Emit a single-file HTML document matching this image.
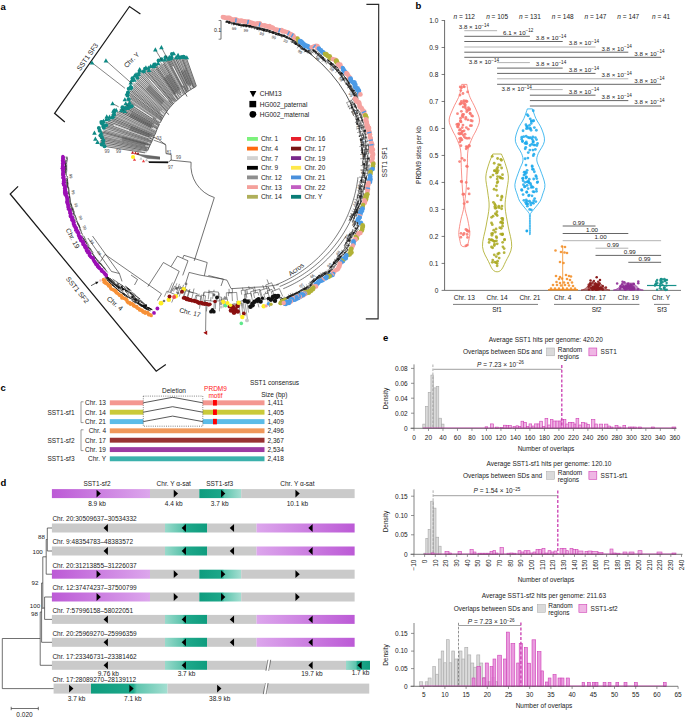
<!DOCTYPE html>
<html><head><meta charset="utf-8"><style>
html,body{margin:0;padding:0;background:#fff;}
svg{display:block;font-family:"Liberation Sans", sans-serif;}
</style></head><body>
<svg width="685" height="717" viewBox="0 0 685 717">
<rect width="685" height="717" fill="#fff"/>
<text x="0.50" y="9.50" font-size="9.5" text-anchor="start" fill="#000" font-weight="bold">a</text>
<text x="415.50" y="8.50" font-size="9.5" text-anchor="start" fill="#000" font-weight="bold">b</text>
<text x="0.50" y="391.00" font-size="9.5" text-anchor="start" fill="#000" font-weight="bold">c</text>
<text x="0.50" y="485.50" font-size="9.5" text-anchor="start" fill="#000" font-weight="bold">d</text>
<text x="383.00" y="341.00" font-size="9.5" text-anchor="start" fill="#000" font-weight="bold">e</text>
<line x1="444.60" y1="20.20" x2="444.60" y2="290.40" stroke="#444" stroke-width="0.8"/>
<line x1="444.60" y1="290.40" x2="681.00" y2="290.40" stroke="#555" stroke-width="0.8"/>
<line x1="441.60" y1="290.40" x2="444.60" y2="290.40" stroke="#444" stroke-width="0.7"/>
<text x="438.30" y="292.70" font-size="6.5" text-anchor="end" fill="#1a1a1a" font-weight="normal">0</text>
<line x1="441.60" y1="263.41" x2="444.60" y2="263.41" stroke="#444" stroke-width="0.7"/>
<text x="438.30" y="265.71" font-size="6.5" text-anchor="end" fill="#1a1a1a" font-weight="normal">0.1</text>
<line x1="441.60" y1="236.42" x2="444.60" y2="236.42" stroke="#444" stroke-width="0.7"/>
<text x="438.30" y="238.72" font-size="6.5" text-anchor="end" fill="#1a1a1a" font-weight="normal">0.2</text>
<line x1="441.60" y1="209.43" x2="444.60" y2="209.43" stroke="#444" stroke-width="0.7"/>
<text x="438.30" y="211.73" font-size="6.5" text-anchor="end" fill="#1a1a1a" font-weight="normal">0.3</text>
<line x1="441.60" y1="182.44" x2="444.60" y2="182.44" stroke="#444" stroke-width="0.7"/>
<text x="438.30" y="184.74" font-size="6.5" text-anchor="end" fill="#1a1a1a" font-weight="normal">0.4</text>
<line x1="441.60" y1="155.45" x2="444.60" y2="155.45" stroke="#444" stroke-width="0.7"/>
<text x="438.30" y="157.75" font-size="6.5" text-anchor="end" fill="#1a1a1a" font-weight="normal">0.5</text>
<line x1="441.60" y1="128.46" x2="444.60" y2="128.46" stroke="#444" stroke-width="0.7"/>
<text x="438.30" y="130.76" font-size="6.5" text-anchor="end" fill="#1a1a1a" font-weight="normal">0.6</text>
<line x1="441.60" y1="101.47" x2="444.60" y2="101.47" stroke="#444" stroke-width="0.7"/>
<text x="438.30" y="103.77" font-size="6.5" text-anchor="end" fill="#1a1a1a" font-weight="normal">0.7</text>
<line x1="441.60" y1="74.48" x2="444.60" y2="74.48" stroke="#444" stroke-width="0.7"/>
<text x="438.30" y="76.78" font-size="6.5" text-anchor="end" fill="#1a1a1a" font-weight="normal">0.8</text>
<line x1="441.60" y1="47.49" x2="444.60" y2="47.49" stroke="#444" stroke-width="0.7"/>
<text x="438.30" y="49.79" font-size="6.5" text-anchor="end" fill="#1a1a1a" font-weight="normal">0.9</text>
<line x1="441.60" y1="20.50" x2="444.60" y2="20.50" stroke="#444" stroke-width="0.7"/>
<text x="438.30" y="22.80" font-size="6.5" text-anchor="end" fill="#1a1a1a" font-weight="normal">1.0</text>
<text x="420.50" y="155.00" font-size="6.5" text-anchor="middle" fill="#1a1a1a" font-weight="normal" transform="rotate(-90 420.50 155.00)">PRDM9 sites per kb</text>
<text x="464.30" y="18.50" font-size="6.5" text-anchor="middle" fill="#1a1a1a" font-weight="normal"><tspan font-style="italic">n</tspan> = 112</text>
<text x="497.10" y="18.50" font-size="6.5" text-anchor="middle" fill="#1a1a1a" font-weight="normal"><tspan font-style="italic">n</tspan> = 105</text>
<text x="529.90" y="18.50" font-size="6.5" text-anchor="middle" fill="#1a1a1a" font-weight="normal"><tspan font-style="italic">n</tspan> = 131</text>
<text x="562.70" y="18.50" font-size="6.5" text-anchor="middle" fill="#1a1a1a" font-weight="normal"><tspan font-style="italic">n</tspan> = 148</text>
<text x="595.50" y="18.50" font-size="6.5" text-anchor="middle" fill="#1a1a1a" font-weight="normal"><tspan font-style="italic">n</tspan> = 147</text>
<text x="628.30" y="18.50" font-size="6.5" text-anchor="middle" fill="#1a1a1a" font-weight="normal"><tspan font-style="italic">n</tspan> = 147</text>
<text x="661.10" y="18.50" font-size="6.5" text-anchor="middle" fill="#1a1a1a" font-weight="normal"><tspan font-style="italic">n</tspan> = 41</text>
<text x="464.30" y="300.30" font-size="6.5" text-anchor="middle" fill="#1a1a1a" font-weight="normal">Chr. 13</text>
<text x="497.10" y="300.30" font-size="6.5" text-anchor="middle" fill="#1a1a1a" font-weight="normal">Chr. 14</text>
<text x="529.90" y="300.30" font-size="6.5" text-anchor="middle" fill="#1a1a1a" font-weight="normal">Chr. 21</text>
<text x="562.70" y="300.30" font-size="6.5" text-anchor="middle" fill="#1a1a1a" font-weight="normal">Chr. 4</text>
<text x="595.50" y="300.30" font-size="6.5" text-anchor="middle" fill="#1a1a1a" font-weight="normal">Chr. 17</text>
<text x="628.30" y="300.30" font-size="6.5" text-anchor="middle" fill="#1a1a1a" font-weight="normal">Chr. 19</text>
<text x="661.10" y="300.30" font-size="6.5" text-anchor="middle" fill="#1a1a1a" font-weight="normal">Chr. Y</text>
<line x1="453.00" y1="304.40" x2="538.00" y2="304.40" stroke="#444" stroke-width="0.7"/>
<text x="497.10" y="312.30" font-size="6.5" text-anchor="middle" fill="#1a1a1a" font-weight="normal">Sf1</text>
<line x1="554.00" y1="304.40" x2="639.40" y2="304.40" stroke="#444" stroke-width="0.7"/>
<text x="596.60" y="312.30" font-size="6.5" text-anchor="middle" fill="#1a1a1a" font-weight="normal">Sf2</text>
<line x1="654.00" y1="304.40" x2="669.70" y2="304.40" stroke="#444" stroke-width="0.7"/>
<text x="662.00" y="312.30" font-size="6.5" text-anchor="middle" fill="#1a1a1a" font-weight="normal">Sf3</text>
<line x1="464.30" y1="30.70" x2="497.10" y2="30.70" stroke="#aaa" stroke-width="0.9"/>
<text x="458.80" y="29.00" font-size="6.2" text-anchor="start" fill="#1a1a1a" font-weight="normal">3.8 × 10<tspan dy="-2.2" font-size="4.6">−14</tspan></text>
<line x1="464.30" y1="36.30" x2="529.90" y2="36.30" stroke="#555" stroke-width="0.9"/>
<text x="533.40" y="34.60" font-size="6.2" text-anchor="end" fill="#1a1a1a" font-weight="normal">6.1 × 10<tspan dy="-2.2" font-size="4.6">−12</tspan></text>
<line x1="464.30" y1="41.50" x2="562.70" y2="41.50" stroke="#555" stroke-width="0.9"/>
<text x="566.20" y="39.80" font-size="6.2" text-anchor="end" fill="#1a1a1a" font-weight="normal">3.8 × 10<tspan dy="-2.2" font-size="4.6">−14</tspan></text>
<line x1="464.30" y1="47.00" x2="595.50" y2="47.00" stroke="#aaa" stroke-width="0.9"/>
<text x="599.00" y="45.30" font-size="6.2" text-anchor="end" fill="#1a1a1a" font-weight="normal">3.8 × 10<tspan dy="-2.2" font-size="4.6">−14</tspan></text>
<line x1="464.30" y1="52.20" x2="628.30" y2="52.20" stroke="#555" stroke-width="0.9"/>
<text x="631.80" y="50.50" font-size="6.2" text-anchor="end" fill="#1a1a1a" font-weight="normal">3.8 × 10<tspan dy="-2.2" font-size="4.6">−14</tspan></text>
<line x1="464.30" y1="57.30" x2="661.10" y2="57.30" stroke="#555" stroke-width="0.9"/>
<text x="664.60" y="55.60" font-size="6.2" text-anchor="end" fill="#1a1a1a" font-weight="normal">3.8 × 10<tspan dy="-2.2" font-size="4.6">−14</tspan></text>
<line x1="497.10" y1="62.60" x2="529.90" y2="62.60" stroke="#aaa" stroke-width="0.9"/>
<text x="499.10" y="63.80" font-size="6.2" text-anchor="end" fill="#1a1a1a" font-weight="normal">3.8 × 10<tspan dy="-2.2" font-size="4.6">−14</tspan></text>
<line x1="497.10" y1="68.10" x2="562.70" y2="68.10" stroke="#555" stroke-width="0.9"/>
<text x="566.20" y="66.40" font-size="6.2" text-anchor="end" fill="#1a1a1a" font-weight="normal">3.8 × 10<tspan dy="-2.2" font-size="4.6">−14</tspan></text>
<line x1="497.10" y1="73.40" x2="595.50" y2="73.40" stroke="#555" stroke-width="0.9"/>
<text x="599.00" y="71.70" font-size="6.2" text-anchor="end" fill="#1a1a1a" font-weight="normal">3.8 × 10<tspan dy="-2.2" font-size="4.6">−14</tspan></text>
<line x1="497.10" y1="78.80" x2="628.30" y2="78.80" stroke="#aaa" stroke-width="0.9"/>
<text x="631.80" y="77.10" font-size="6.2" text-anchor="end" fill="#1a1a1a" font-weight="normal">3.8 × 10<tspan dy="-2.2" font-size="4.6">−14</tspan></text>
<line x1="497.10" y1="84.30" x2="661.10" y2="84.30" stroke="#555" stroke-width="0.9"/>
<text x="664.60" y="82.60" font-size="6.2" text-anchor="end" fill="#1a1a1a" font-weight="normal">3.8 × 10<tspan dy="-2.2" font-size="4.6">−14</tspan></text>
<line x1="529.90" y1="89.60" x2="562.70" y2="89.60" stroke="#aaa" stroke-width="0.9"/>
<text x="531.90" y="90.80" font-size="6.2" text-anchor="end" fill="#1a1a1a" font-weight="normal">3.8 × 10<tspan dy="-2.2" font-size="4.6">−14</tspan></text>
<line x1="529.90" y1="95.20" x2="595.50" y2="95.20" stroke="#555" stroke-width="0.9"/>
<text x="599.00" y="93.50" font-size="6.2" text-anchor="end" fill="#1a1a1a" font-weight="normal">3.8 × 10<tspan dy="-2.2" font-size="4.6">−14</tspan></text>
<line x1="529.90" y1="100.60" x2="628.30" y2="100.60" stroke="#555" stroke-width="0.9"/>
<text x="631.80" y="98.90" font-size="6.2" text-anchor="end" fill="#1a1a1a" font-weight="normal">3.8 × 10<tspan dy="-2.2" font-size="4.6">−14</tspan></text>
<line x1="529.90" y1="106.00" x2="661.10" y2="106.00" stroke="#555" stroke-width="0.9"/>
<text x="664.60" y="104.30" font-size="6.2" text-anchor="end" fill="#1a1a1a" font-weight="normal">3.8 × 10<tspan dy="-2.2" font-size="4.6">−14</tspan></text>
<line x1="562.70" y1="226.00" x2="595.50" y2="226.00" stroke="#555" stroke-width="0.9"/>
<text x="578.70" y="224.70" font-size="6.2" text-anchor="middle" fill="#1a1a1a" font-weight="normal">0.99</text>
<line x1="562.70" y1="233.50" x2="628.30" y2="233.50" stroke="#555" stroke-width="0.9"/>
<text x="592.00" y="232.20" font-size="6.2" text-anchor="middle" fill="#1a1a1a" font-weight="normal">1.00</text>
<line x1="562.70" y1="240.70" x2="661.10" y2="240.70" stroke="#aaa" stroke-width="0.9"/>
<text x="600.60" y="239.40" font-size="6.2" text-anchor="middle" fill="#1a1a1a" font-weight="normal">1.00</text>
<line x1="595.50" y1="248.20" x2="628.30" y2="248.20" stroke="#aaa" stroke-width="0.9"/>
<text x="613.00" y="246.90" font-size="6.2" text-anchor="middle" fill="#1a1a1a" font-weight="normal">0.99</text>
<line x1="595.50" y1="255.40" x2="661.10" y2="255.40" stroke="#555" stroke-width="0.9"/>
<text x="629.80" y="254.10" font-size="6.2" text-anchor="middle" fill="#1a1a1a" font-weight="normal">0.99</text>
<line x1="628.30" y1="262.30" x2="661.10" y2="262.30" stroke="#555" stroke-width="0.9"/>
<text x="644.50" y="261.00" font-size="6.2" text-anchor="middle" fill="#1a1a1a" font-weight="normal">0.99</text>
<path d="M461.70,84.40 C461.55,85.33 461.33,87.82 460.80,90.00 C460.27,92.18 459.75,94.50 458.50,97.50 C457.25,100.50 454.87,104.25 453.30,108.00 C451.73,111.75 449.27,116.33 449.10,120.00 C448.93,123.67 451.10,127.03 452.30,130.00 C453.50,132.97 454.92,134.47 456.30,137.80 C457.68,141.13 459.77,145.03 460.60,150.00 C461.43,154.97 460.98,160.93 461.30,167.60 C461.62,174.27 462.07,183.60 462.50,190.00 C462.93,196.40 464.18,201.00 463.90,206.00 C463.62,211.00 461.65,215.58 460.80,220.00 C459.95,224.42 458.97,229.17 458.80,232.50 C458.63,235.83 459.32,237.75 459.80,240.00 C460.28,242.25 460.52,245.00 461.70,246.00 C462.88,247.00 465.72,247.00 466.90,246.00 C468.08,245.00 468.32,242.25 468.80,240.00 C469.28,237.75 469.97,235.83 469.80,232.50 C469.63,229.17 468.65,224.42 467.80,220.00 C466.95,215.58 464.98,211.00 464.70,206.00 C464.42,201.00 465.67,196.40 466.10,190.00 C466.53,183.60 466.98,174.27 467.30,167.60 C467.62,160.93 467.17,154.97 468.00,150.00 C468.83,145.03 470.92,141.13 472.30,137.80 C473.68,134.47 475.10,132.97 476.30,130.00 C477.50,127.03 479.67,123.67 479.50,120.00 C479.33,116.33 476.87,111.75 475.30,108.00 C473.73,104.25 471.35,100.50 470.10,97.50 C468.85,94.50 468.33,92.18 467.80,90.00 C467.27,87.82 467.05,85.33 466.90,84.40 Z" fill="none" stroke="#F8766D" stroke-width="0.8"/>
<circle cx="460.81" cy="90.53" r="1.40" fill="#F8766D" fill-opacity="0.85"/>
<circle cx="460.02" cy="95.11" r="1.40" fill="#F8766D" fill-opacity="0.85"/>
<circle cx="462.96" cy="93.50" r="1.40" fill="#F8766D" fill-opacity="0.85"/>
<circle cx="464.37" cy="86.81" r="1.40" fill="#F8766D" fill-opacity="0.85"/>
<circle cx="463.64" cy="86.52" r="1.40" fill="#F8766D" fill-opacity="0.85"/>
<circle cx="460.21" cy="86.98" r="1.40" fill="#F8766D" fill-opacity="0.85"/>
<circle cx="467.57" cy="91.94" r="1.40" fill="#F8766D" fill-opacity="0.85"/>
<circle cx="461.53" cy="87.73" r="1.40" fill="#F8766D" fill-opacity="0.85"/>
<circle cx="471.65" cy="115.69" r="1.40" fill="#F8766D" fill-opacity="0.85"/>
<circle cx="462.66" cy="114.43" r="1.40" fill="#F8766D" fill-opacity="0.85"/>
<circle cx="456.80" cy="124.41" r="1.40" fill="#F8766D" fill-opacity="0.85"/>
<circle cx="460.58" cy="121.46" r="1.40" fill="#F8766D" fill-opacity="0.85"/>
<circle cx="460.25" cy="103.61" r="1.40" fill="#F8766D" fill-opacity="0.85"/>
<circle cx="468.42" cy="107.71" r="1.40" fill="#F8766D" fill-opacity="0.85"/>
<circle cx="465.21" cy="104.52" r="1.40" fill="#F8766D" fill-opacity="0.85"/>
<circle cx="462.19" cy="115.97" r="1.40" fill="#F8766D" fill-opacity="0.85"/>
<circle cx="457.48" cy="113.69" r="1.40" fill="#F8766D" fill-opacity="0.85"/>
<circle cx="461.36" cy="101.49" r="1.40" fill="#F8766D" fill-opacity="0.85"/>
<circle cx="463.07" cy="117.01" r="1.40" fill="#F8766D" fill-opacity="0.85"/>
<circle cx="465.42" cy="107.85" r="1.40" fill="#F8766D" fill-opacity="0.85"/>
<circle cx="461.38" cy="111.33" r="1.40" fill="#F8766D" fill-opacity="0.85"/>
<circle cx="467.88" cy="119.86" r="1.40" fill="#F8766D" fill-opacity="0.85"/>
<circle cx="465.20" cy="106.10" r="1.40" fill="#F8766D" fill-opacity="0.85"/>
<circle cx="470.06" cy="113.13" r="1.40" fill="#F8766D" fill-opacity="0.85"/>
<circle cx="460.59" cy="118.24" r="1.40" fill="#F8766D" fill-opacity="0.85"/>
<circle cx="457.99" cy="124.50" r="1.40" fill="#F8766D" fill-opacity="0.85"/>
<circle cx="467.96" cy="110.45" r="1.40" fill="#F8766D" fill-opacity="0.85"/>
<circle cx="464.18" cy="103.80" r="1.40" fill="#F8766D" fill-opacity="0.85"/>
<circle cx="465.98" cy="100.98" r="1.40" fill="#F8766D" fill-opacity="0.85"/>
<circle cx="465.60" cy="119.11" r="1.40" fill="#F8766D" fill-opacity="0.85"/>
<circle cx="461.04" cy="121.89" r="1.40" fill="#F8766D" fill-opacity="0.85"/>
<circle cx="465.92" cy="117.38" r="1.40" fill="#F8766D" fill-opacity="0.85"/>
<circle cx="463.60" cy="114.50" r="1.40" fill="#F8766D" fill-opacity="0.85"/>
<circle cx="472.24" cy="121.00" r="1.40" fill="#F8766D" fill-opacity="0.85"/>
<circle cx="466.73" cy="111.85" r="1.40" fill="#F8766D" fill-opacity="0.85"/>
<circle cx="466.31" cy="101.52" r="1.40" fill="#F8766D" fill-opacity="0.85"/>
<circle cx="472.50" cy="116.18" r="1.40" fill="#F8766D" fill-opacity="0.85"/>
<circle cx="460.42" cy="120.55" r="1.40" fill="#F8766D" fill-opacity="0.85"/>
<circle cx="466.64" cy="109.64" r="1.40" fill="#F8766D" fill-opacity="0.85"/>
<circle cx="463.92" cy="100.56" r="1.40" fill="#F8766D" fill-opacity="0.85"/>
<circle cx="460.11" cy="104.20" r="1.40" fill="#F8766D" fill-opacity="0.85"/>
<circle cx="466.98" cy="101.47" r="1.40" fill="#F8766D" fill-opacity="0.85"/>
<circle cx="461.68" cy="103.23" r="1.40" fill="#F8766D" fill-opacity="0.85"/>
<circle cx="469.48" cy="109.77" r="1.40" fill="#F8766D" fill-opacity="0.85"/>
<circle cx="463.79" cy="102.01" r="1.40" fill="#F8766D" fill-opacity="0.85"/>
<circle cx="470.28" cy="113.74" r="1.40" fill="#F8766D" fill-opacity="0.85"/>
<circle cx="470.85" cy="120.48" r="1.40" fill="#F8766D" fill-opacity="0.85"/>
<circle cx="463.23" cy="106.96" r="1.40" fill="#F8766D" fill-opacity="0.85"/>
<circle cx="469.53" cy="108.97" r="1.40" fill="#F8766D" fill-opacity="0.85"/>
<circle cx="458.46" cy="123.94" r="1.40" fill="#F8766D" fill-opacity="0.85"/>
<circle cx="460.38" cy="129.41" r="1.40" fill="#F8766D" fill-opacity="0.85"/>
<circle cx="464.09" cy="130.83" r="1.40" fill="#F8766D" fill-opacity="0.85"/>
<circle cx="461.93" cy="139.73" r="1.40" fill="#F8766D" fill-opacity="0.85"/>
<circle cx="462.98" cy="125.10" r="1.40" fill="#F8766D" fill-opacity="0.85"/>
<circle cx="465.08" cy="134.23" r="1.40" fill="#F8766D" fill-opacity="0.85"/>
<circle cx="466.20" cy="148.83" r="1.40" fill="#F8766D" fill-opacity="0.85"/>
<circle cx="465.48" cy="137.89" r="1.40" fill="#F8766D" fill-opacity="0.85"/>
<circle cx="459.84" cy="141.91" r="1.40" fill="#F8766D" fill-opacity="0.85"/>
<circle cx="467.10" cy="147.49" r="1.40" fill="#F8766D" fill-opacity="0.85"/>
<circle cx="467.28" cy="146.86" r="1.40" fill="#F8766D" fill-opacity="0.85"/>
<circle cx="463.14" cy="134.81" r="1.40" fill="#F8766D" fill-opacity="0.85"/>
<circle cx="466.36" cy="127.59" r="1.40" fill="#F8766D" fill-opacity="0.85"/>
<circle cx="457.50" cy="126.56" r="1.40" fill="#F8766D" fill-opacity="0.85"/>
<circle cx="459.48" cy="130.22" r="1.40" fill="#F8766D" fill-opacity="0.85"/>
<circle cx="458.82" cy="133.50" r="1.40" fill="#F8766D" fill-opacity="0.85"/>
<circle cx="458.61" cy="125.01" r="1.40" fill="#F8766D" fill-opacity="0.85"/>
<circle cx="462.21" cy="127.54" r="1.40" fill="#F8766D" fill-opacity="0.85"/>
<circle cx="470.32" cy="125.64" r="1.40" fill="#F8766D" fill-opacity="0.85"/>
<circle cx="460.79" cy="140.35" r="1.40" fill="#F8766D" fill-opacity="0.85"/>
<circle cx="462.23" cy="131.31" r="1.40" fill="#F8766D" fill-opacity="0.85"/>
<circle cx="459.82" cy="134.10" r="1.40" fill="#F8766D" fill-opacity="0.85"/>
<circle cx="469.23" cy="146.22" r="1.40" fill="#F8766D" fill-opacity="0.85"/>
<circle cx="464.13" cy="136.65" r="1.40" fill="#F8766D" fill-opacity="0.85"/>
<circle cx="458.14" cy="127.15" r="1.40" fill="#F8766D" fill-opacity="0.85"/>
<circle cx="461.43" cy="133.57" r="1.40" fill="#F8766D" fill-opacity="0.85"/>
<circle cx="460.91" cy="145.72" r="1.40" fill="#F8766D" fill-opacity="0.85"/>
<circle cx="471.56" cy="125.58" r="1.40" fill="#F8766D" fill-opacity="0.85"/>
<circle cx="460.77" cy="138.21" r="1.40" fill="#F8766D" fill-opacity="0.85"/>
<circle cx="459.57" cy="138.58" r="1.40" fill="#F8766D" fill-opacity="0.85"/>
<circle cx="469.09" cy="138.20" r="1.40" fill="#F8766D" fill-opacity="0.85"/>
<circle cx="466.26" cy="146.58" r="1.40" fill="#F8766D" fill-opacity="0.85"/>
<circle cx="462.51" cy="131.53" r="1.40" fill="#F8766D" fill-opacity="0.85"/>
<circle cx="468.30" cy="129.18" r="1.40" fill="#F8766D" fill-opacity="0.85"/>
<circle cx="467.09" cy="138.31" r="1.40" fill="#F8766D" fill-opacity="0.85"/>
<circle cx="460.86" cy="133.24" r="1.40" fill="#F8766D" fill-opacity="0.85"/>
<circle cx="469.15" cy="145.29" r="1.40" fill="#F8766D" fill-opacity="0.85"/>
<circle cx="467.36" cy="166.53" r="1.40" fill="#F8766D" fill-opacity="0.85"/>
<circle cx="466.70" cy="166.18" r="1.40" fill="#F8766D" fill-opacity="0.85"/>
<circle cx="464.48" cy="160.27" r="1.40" fill="#F8766D" fill-opacity="0.85"/>
<circle cx="459.59" cy="161.56" r="1.40" fill="#F8766D" fill-opacity="0.85"/>
<circle cx="462.09" cy="158.28" r="1.40" fill="#F8766D" fill-opacity="0.85"/>
<circle cx="466.23" cy="182.41" r="1.40" fill="#F8766D" fill-opacity="0.85"/>
<circle cx="463.77" cy="194.26" r="1.40" fill="#F8766D" fill-opacity="0.85"/>
<circle cx="469.18" cy="193.93" r="1.40" fill="#F8766D" fill-opacity="0.85"/>
<circle cx="462.95" cy="194.24" r="1.40" fill="#F8766D" fill-opacity="0.85"/>
<circle cx="461.57" cy="181.75" r="1.40" fill="#F8766D" fill-opacity="0.85"/>
<circle cx="461.34" cy="181.34" r="1.40" fill="#F8766D" fill-opacity="0.85"/>
<circle cx="468.30" cy="188.61" r="1.40" fill="#F8766D" fill-opacity="0.85"/>
<circle cx="464.09" cy="203.56" r="1.40" fill="#F8766D" fill-opacity="0.85"/>
<circle cx="467.30" cy="201.88" r="1.40" fill="#F8766D" fill-opacity="0.85"/>
<circle cx="465.91" cy="229.51" r="1.40" fill="#F8766D" fill-opacity="0.85"/>
<circle cx="467.12" cy="234.46" r="1.40" fill="#F8766D" fill-opacity="0.85"/>
<circle cx="464.08" cy="233.50" r="1.40" fill="#F8766D" fill-opacity="0.85"/>
<circle cx="467.19" cy="230.07" r="1.40" fill="#F8766D" fill-opacity="0.85"/>
<circle cx="467.31" cy="231.00" r="1.40" fill="#F8766D" fill-opacity="0.85"/>
<circle cx="463.26" cy="234.83" r="1.40" fill="#F8766D" fill-opacity="0.85"/>
<circle cx="468.77" cy="231.41" r="1.40" fill="#F8766D" fill-opacity="0.85"/>
<circle cx="461.00" cy="233.35" r="1.40" fill="#F8766D" fill-opacity="0.85"/>
<circle cx="460.81" cy="237.27" r="1.40" fill="#F8766D" fill-opacity="0.85"/>
<circle cx="467.37" cy="245.05" r="1.40" fill="#F8766D" fill-opacity="0.85"/>
<circle cx="467.57" cy="237.46" r="1.40" fill="#F8766D" fill-opacity="0.85"/>
<circle cx="465.87" cy="245.80" r="1.40" fill="#F8766D" fill-opacity="0.85"/>
<path d="M492.80,154.00 C492.15,155.63 490.07,159.97 488.90,163.80 C487.73,167.63 486.00,172.30 485.80,177.00 C485.60,181.70 487.15,187.00 487.70,192.00 C488.25,197.00 489.37,201.33 489.10,207.00 C488.83,212.67 487.20,219.40 486.10,226.00 C485.00,232.60 482.08,240.65 482.50,246.60 C482.92,252.55 486.72,257.68 488.60,261.70 C490.48,265.72 491.83,269.20 493.80,270.70 C495.77,272.20 498.43,272.20 500.40,270.70 C502.37,269.20 503.72,265.72 505.60,261.70 C507.48,257.68 511.28,252.55 511.70,246.60 C512.12,240.65 509.20,232.60 508.10,226.00 C507.00,219.40 505.37,212.67 505.10,207.00 C504.83,201.33 505.95,197.00 506.50,192.00 C507.05,187.00 508.60,181.70 508.40,177.00 C508.20,172.30 506.47,167.63 505.30,163.80 C504.13,159.97 502.05,155.63 501.40,154.00 Z" fill="none" stroke="#A9A81E" stroke-width="0.8"/>
<circle cx="497.59" cy="158.50" r="1.40" fill="#A9A81E" fill-opacity="0.85"/>
<circle cx="492.24" cy="156.31" r="1.40" fill="#A9A81E" fill-opacity="0.85"/>
<circle cx="498.61" cy="164.71" r="1.40" fill="#A9A81E" fill-opacity="0.85"/>
<circle cx="501.44" cy="160.27" r="1.40" fill="#A9A81E" fill-opacity="0.85"/>
<circle cx="500.82" cy="159.34" r="1.40" fill="#A9A81E" fill-opacity="0.85"/>
<circle cx="494.21" cy="163.26" r="1.40" fill="#A9A81E" fill-opacity="0.85"/>
<circle cx="494.65" cy="170.79" r="1.40" fill="#A9A81E" fill-opacity="0.85"/>
<circle cx="498.11" cy="170.53" r="1.40" fill="#A9A81E" fill-opacity="0.85"/>
<circle cx="496.14" cy="170.97" r="1.40" fill="#A9A81E" fill-opacity="0.85"/>
<circle cx="501.62" cy="168.01" r="1.40" fill="#A9A81E" fill-opacity="0.85"/>
<circle cx="496.58" cy="173.14" r="1.40" fill="#A9A81E" fill-opacity="0.85"/>
<circle cx="502.50" cy="178.42" r="1.40" fill="#A9A81E" fill-opacity="0.85"/>
<circle cx="502.49" cy="174.67" r="1.40" fill="#A9A81E" fill-opacity="0.85"/>
<circle cx="497.53" cy="176.54" r="1.40" fill="#A9A81E" fill-opacity="0.85"/>
<circle cx="490.58" cy="177.04" r="1.40" fill="#A9A81E" fill-opacity="0.85"/>
<circle cx="492.97" cy="175.12" r="1.40" fill="#A9A81E" fill-opacity="0.85"/>
<circle cx="500.15" cy="165.09" r="1.40" fill="#A9A81E" fill-opacity="0.85"/>
<circle cx="496.80" cy="168.96" r="1.40" fill="#A9A81E" fill-opacity="0.85"/>
<circle cx="497.83" cy="181.68" r="1.40" fill="#A9A81E" fill-opacity="0.85"/>
<circle cx="497.33" cy="172.50" r="1.40" fill="#A9A81E" fill-opacity="0.85"/>
<circle cx="500.92" cy="177.78" r="1.40" fill="#A9A81E" fill-opacity="0.85"/>
<circle cx="497.76" cy="167.44" r="1.40" fill="#A9A81E" fill-opacity="0.85"/>
<circle cx="494.47" cy="170.72" r="1.40" fill="#A9A81E" fill-opacity="0.85"/>
<circle cx="497.20" cy="182.76" r="1.40" fill="#A9A81E" fill-opacity="0.85"/>
<circle cx="500.59" cy="177.92" r="1.40" fill="#A9A81E" fill-opacity="0.85"/>
<circle cx="496.41" cy="185.99" r="1.40" fill="#A9A81E" fill-opacity="0.85"/>
<circle cx="497.17" cy="179.09" r="1.40" fill="#A9A81E" fill-opacity="0.85"/>
<circle cx="499.70" cy="176.78" r="1.40" fill="#A9A81E" fill-opacity="0.85"/>
<circle cx="497.46" cy="195.69" r="1.40" fill="#A9A81E" fill-opacity="0.85"/>
<circle cx="501.88" cy="196.13" r="1.40" fill="#A9A81E" fill-opacity="0.85"/>
<circle cx="501.01" cy="199.89" r="1.40" fill="#A9A81E" fill-opacity="0.85"/>
<circle cx="494.70" cy="204.02" r="1.40" fill="#A9A81E" fill-opacity="0.85"/>
<circle cx="501.83" cy="197.51" r="1.40" fill="#A9A81E" fill-opacity="0.85"/>
<circle cx="493.42" cy="202.28" r="1.40" fill="#A9A81E" fill-opacity="0.85"/>
<circle cx="496.43" cy="190.07" r="1.40" fill="#A9A81E" fill-opacity="0.85"/>
<circle cx="494.07" cy="189.23" r="1.40" fill="#A9A81E" fill-opacity="0.85"/>
<circle cx="498.79" cy="206.24" r="1.40" fill="#A9A81E" fill-opacity="0.85"/>
<circle cx="501.76" cy="218.33" r="1.40" fill="#A9A81E" fill-opacity="0.85"/>
<circle cx="499.26" cy="207.63" r="1.40" fill="#A9A81E" fill-opacity="0.85"/>
<circle cx="493.05" cy="216.22" r="1.40" fill="#A9A81E" fill-opacity="0.85"/>
<circle cx="502.74" cy="220.01" r="1.40" fill="#A9A81E" fill-opacity="0.85"/>
<circle cx="501.63" cy="208.73" r="1.40" fill="#A9A81E" fill-opacity="0.85"/>
<circle cx="496.97" cy="211.77" r="1.40" fill="#A9A81E" fill-opacity="0.85"/>
<circle cx="501.23" cy="221.83" r="1.40" fill="#A9A81E" fill-opacity="0.85"/>
<circle cx="496.42" cy="207.74" r="1.40" fill="#A9A81E" fill-opacity="0.85"/>
<circle cx="495.35" cy="213.77" r="1.40" fill="#A9A81E" fill-opacity="0.85"/>
<circle cx="495.29" cy="208.33" r="1.40" fill="#A9A81E" fill-opacity="0.85"/>
<circle cx="491.55" cy="217.28" r="1.40" fill="#A9A81E" fill-opacity="0.85"/>
<circle cx="496.44" cy="214.42" r="1.40" fill="#A9A81E" fill-opacity="0.85"/>
<circle cx="495.41" cy="205.31" r="1.40" fill="#A9A81E" fill-opacity="0.85"/>
<circle cx="497.24" cy="215.61" r="1.40" fill="#A9A81E" fill-opacity="0.85"/>
<circle cx="501.95" cy="206.09" r="1.40" fill="#A9A81E" fill-opacity="0.85"/>
<circle cx="502.65" cy="218.40" r="1.40" fill="#A9A81E" fill-opacity="0.85"/>
<circle cx="494.76" cy="206.78" r="1.40" fill="#A9A81E" fill-opacity="0.85"/>
<circle cx="500.59" cy="222.40" r="1.40" fill="#A9A81E" fill-opacity="0.85"/>
<circle cx="492.30" cy="224.70" r="1.40" fill="#A9A81E" fill-opacity="0.85"/>
<circle cx="502.55" cy="226.22" r="1.40" fill="#A9A81E" fill-opacity="0.85"/>
<circle cx="493.70" cy="230.19" r="1.40" fill="#A9A81E" fill-opacity="0.85"/>
<circle cx="502.43" cy="223.49" r="1.40" fill="#A9A81E" fill-opacity="0.85"/>
<circle cx="499.82" cy="227.71" r="1.40" fill="#A9A81E" fill-opacity="0.85"/>
<circle cx="491.52" cy="222.89" r="1.40" fill="#A9A81E" fill-opacity="0.85"/>
<circle cx="496.07" cy="228.88" r="1.40" fill="#A9A81E" fill-opacity="0.85"/>
<circle cx="502.61" cy="222.72" r="1.40" fill="#A9A81E" fill-opacity="0.85"/>
<circle cx="501.23" cy="228.34" r="1.40" fill="#A9A81E" fill-opacity="0.85"/>
<circle cx="502.44" cy="234.51" r="1.40" fill="#A9A81E" fill-opacity="0.85"/>
<circle cx="502.50" cy="234.00" r="1.40" fill="#A9A81E" fill-opacity="0.85"/>
<circle cx="494.32" cy="245.61" r="1.40" fill="#A9A81E" fill-opacity="0.85"/>
<circle cx="504.16" cy="248.59" r="1.40" fill="#A9A81E" fill-opacity="0.85"/>
<circle cx="491.11" cy="240.04" r="1.40" fill="#A9A81E" fill-opacity="0.85"/>
<circle cx="492.67" cy="247.81" r="1.40" fill="#A9A81E" fill-opacity="0.85"/>
<circle cx="491.97" cy="235.28" r="1.40" fill="#A9A81E" fill-opacity="0.85"/>
<circle cx="492.69" cy="233.51" r="1.40" fill="#A9A81E" fill-opacity="0.85"/>
<circle cx="493.90" cy="241.36" r="1.40" fill="#A9A81E" fill-opacity="0.85"/>
<circle cx="494.25" cy="254.78" r="1.40" fill="#A9A81E" fill-opacity="0.85"/>
<circle cx="491.52" cy="247.00" r="1.40" fill="#A9A81E" fill-opacity="0.85"/>
<circle cx="489.08" cy="242.41" r="1.40" fill="#A9A81E" fill-opacity="0.85"/>
<circle cx="489.33" cy="239.51" r="1.40" fill="#A9A81E" fill-opacity="0.85"/>
<circle cx="497.81" cy="253.99" r="1.40" fill="#A9A81E" fill-opacity="0.85"/>
<circle cx="496.70" cy="237.68" r="1.40" fill="#A9A81E" fill-opacity="0.85"/>
<circle cx="492.77" cy="260.04" r="1.40" fill="#A9A81E" fill-opacity="0.85"/>
<circle cx="496.24" cy="256.57" r="1.40" fill="#A9A81E" fill-opacity="0.85"/>
<circle cx="502.92" cy="246.85" r="1.40" fill="#A9A81E" fill-opacity="0.85"/>
<circle cx="497.21" cy="243.79" r="1.40" fill="#A9A81E" fill-opacity="0.85"/>
<circle cx="504.14" cy="252.63" r="1.40" fill="#A9A81E" fill-opacity="0.85"/>
<circle cx="502.62" cy="242.28" r="1.40" fill="#A9A81E" fill-opacity="0.85"/>
<circle cx="499.05" cy="253.20" r="1.40" fill="#A9A81E" fill-opacity="0.85"/>
<circle cx="494.51" cy="244.14" r="1.40" fill="#A9A81E" fill-opacity="0.85"/>
<circle cx="491.62" cy="233.63" r="1.40" fill="#A9A81E" fill-opacity="0.85"/>
<circle cx="500.69" cy="234.12" r="1.40" fill="#A9A81E" fill-opacity="0.85"/>
<circle cx="491.69" cy="239.67" r="1.40" fill="#A9A81E" fill-opacity="0.85"/>
<circle cx="502.22" cy="234.53" r="1.40" fill="#A9A81E" fill-opacity="0.85"/>
<circle cx="499.14" cy="258.12" r="1.40" fill="#A9A81E" fill-opacity="0.85"/>
<circle cx="492.92" cy="240.46" r="1.40" fill="#A9A81E" fill-opacity="0.85"/>
<circle cx="496.44" cy="240.79" r="1.40" fill="#A9A81E" fill-opacity="0.85"/>
<circle cx="496.26" cy="236.73" r="1.40" fill="#A9A81E" fill-opacity="0.85"/>
<circle cx="504.54" cy="239.90" r="1.40" fill="#A9A81E" fill-opacity="0.85"/>
<circle cx="497.59" cy="261.18" r="1.40" fill="#A9A81E" fill-opacity="0.85"/>
<circle cx="504.55" cy="239.33" r="1.40" fill="#A9A81E" fill-opacity="0.85"/>
<circle cx="494.75" cy="241.29" r="1.40" fill="#A9A81E" fill-opacity="0.85"/>
<circle cx="495.39" cy="232.03" r="1.40" fill="#A9A81E" fill-opacity="0.85"/>
<circle cx="497.13" cy="265.80" r="1.40" fill="#A9A81E" fill-opacity="0.85"/>
<circle cx="497.15" cy="263.61" r="1.40" fill="#A9A81E" fill-opacity="0.85"/>
<circle cx="494.74" cy="262.04" r="1.40" fill="#A9A81E" fill-opacity="0.85"/>
<circle cx="496.10" cy="262.72" r="1.40" fill="#A9A81E" fill-opacity="0.85"/>
<circle cx="492.32" cy="262.33" r="1.40" fill="#A9A81E" fill-opacity="0.85"/>
<path d="M527.30,108.90 C526.73,110.50 525.43,115.15 523.90,118.50 C522.37,121.85 519.52,125.20 518.10,129.00 C516.68,132.80 514.82,137.20 515.40,141.30 C515.98,145.40 520.35,150.32 521.60,153.60 C522.85,156.88 523.27,158.27 522.90,161.00 C522.53,163.73 520.73,166.08 519.40,170.00 C518.07,173.92 515.23,180.33 514.90,184.50 C514.57,188.67 516.57,192.17 517.40,195.00 C518.23,197.83 518.65,199.33 519.90,201.50 C521.15,203.67 523.43,206.12 524.90,208.00 C526.37,209.88 527.94,211.47 528.70,212.80 C529.46,214.13 529.32,212.63 529.45,216.00 C529.57,219.37 529.30,230.17 529.45,233.00 C529.60,235.83 530.20,235.83 530.35,233.00 C530.50,230.17 530.23,219.37 530.35,216.00 C530.48,212.63 530.34,214.13 531.10,212.80 C531.86,211.47 533.43,209.88 534.90,208.00 C536.37,206.12 538.65,203.67 539.90,201.50 C541.15,199.33 541.57,197.83 542.40,195.00 C543.23,192.17 545.23,188.67 544.90,184.50 C544.57,180.33 541.73,173.92 540.40,170.00 C539.07,166.08 537.27,163.73 536.90,161.00 C536.53,158.27 536.95,156.88 538.20,153.60 C539.45,150.32 543.82,145.40 544.40,141.30 C544.98,137.20 543.12,132.80 541.70,129.00 C540.28,125.20 537.43,121.85 535.90,118.50 C534.37,115.15 533.07,110.50 532.50,108.90 Z" fill="none" stroke="#1CA9EC" stroke-width="0.8"/>
<circle cx="526.80" cy="231.00" r="1.40" fill="#1CA9EC"/>
<circle cx="527.23" cy="114.56" r="1.40" fill="#1CA9EC" fill-opacity="0.85"/>
<circle cx="530.19" cy="118.78" r="1.40" fill="#1CA9EC" fill-opacity="0.85"/>
<circle cx="531.48" cy="121.26" r="1.40" fill="#1CA9EC" fill-opacity="0.85"/>
<circle cx="533.69" cy="120.74" r="1.40" fill="#1CA9EC" fill-opacity="0.85"/>
<circle cx="528.16" cy="115.84" r="1.40" fill="#1CA9EC" fill-opacity="0.85"/>
<circle cx="525.92" cy="124.77" r="1.40" fill="#1CA9EC" fill-opacity="0.85"/>
<circle cx="531.33" cy="120.86" r="1.40" fill="#1CA9EC" fill-opacity="0.85"/>
<circle cx="533.25" cy="110.66" r="1.40" fill="#1CA9EC" fill-opacity="0.85"/>
<circle cx="531.23" cy="123.38" r="1.40" fill="#1CA9EC" fill-opacity="0.85"/>
<circle cx="533.02" cy="121.01" r="1.40" fill="#1CA9EC" fill-opacity="0.85"/>
<circle cx="530.23" cy="128.48" r="1.40" fill="#1CA9EC" fill-opacity="0.85"/>
<circle cx="535.40" cy="137.61" r="1.40" fill="#1CA9EC" fill-opacity="0.85"/>
<circle cx="534.83" cy="145.12" r="1.40" fill="#1CA9EC" fill-opacity="0.85"/>
<circle cx="536.56" cy="139.60" r="1.40" fill="#1CA9EC" fill-opacity="0.85"/>
<circle cx="533.17" cy="142.07" r="1.40" fill="#1CA9EC" fill-opacity="0.85"/>
<circle cx="523.05" cy="130.75" r="1.40" fill="#1CA9EC" fill-opacity="0.85"/>
<circle cx="527.99" cy="128.33" r="1.40" fill="#1CA9EC" fill-opacity="0.85"/>
<circle cx="534.35" cy="127.62" r="1.40" fill="#1CA9EC" fill-opacity="0.85"/>
<circle cx="532.04" cy="138.96" r="1.40" fill="#1CA9EC" fill-opacity="0.85"/>
<circle cx="533.01" cy="140.66" r="1.40" fill="#1CA9EC" fill-opacity="0.85"/>
<circle cx="521.79" cy="137.23" r="1.40" fill="#1CA9EC" fill-opacity="0.85"/>
<circle cx="533.67" cy="144.94" r="1.40" fill="#1CA9EC" fill-opacity="0.85"/>
<circle cx="530.48" cy="137.57" r="1.40" fill="#1CA9EC" fill-opacity="0.85"/>
<circle cx="522.40" cy="141.48" r="1.40" fill="#1CA9EC" fill-opacity="0.85"/>
<circle cx="525.91" cy="143.42" r="1.40" fill="#1CA9EC" fill-opacity="0.85"/>
<circle cx="526.91" cy="126.86" r="1.40" fill="#1CA9EC" fill-opacity="0.85"/>
<circle cx="525.12" cy="143.23" r="1.40" fill="#1CA9EC" fill-opacity="0.85"/>
<circle cx="537.55" cy="143.50" r="1.40" fill="#1CA9EC" fill-opacity="0.85"/>
<circle cx="527.98" cy="137.35" r="1.40" fill="#1CA9EC" fill-opacity="0.85"/>
<circle cx="532.89" cy="136.98" r="1.40" fill="#1CA9EC" fill-opacity="0.85"/>
<circle cx="531.73" cy="144.17" r="1.40" fill="#1CA9EC" fill-opacity="0.85"/>
<circle cx="522.57" cy="141.07" r="1.40" fill="#1CA9EC" fill-opacity="0.85"/>
<circle cx="526.47" cy="128.69" r="1.40" fill="#1CA9EC" fill-opacity="0.85"/>
<circle cx="526.77" cy="143.58" r="1.40" fill="#1CA9EC" fill-opacity="0.85"/>
<circle cx="521.69" cy="139.19" r="1.40" fill="#1CA9EC" fill-opacity="0.85"/>
<circle cx="527.01" cy="126.52" r="1.40" fill="#1CA9EC" fill-opacity="0.85"/>
<circle cx="533.19" cy="141.80" r="1.40" fill="#1CA9EC" fill-opacity="0.85"/>
<circle cx="526.34" cy="141.89" r="1.40" fill="#1CA9EC" fill-opacity="0.85"/>
<circle cx="529.32" cy="137.91" r="1.40" fill="#1CA9EC" fill-opacity="0.85"/>
<circle cx="523.73" cy="136.66" r="1.40" fill="#1CA9EC" fill-opacity="0.85"/>
<circle cx="525.77" cy="147.34" r="1.40" fill="#1CA9EC" fill-opacity="0.85"/>
<circle cx="535.34" cy="149.45" r="1.40" fill="#1CA9EC" fill-opacity="0.85"/>
<circle cx="529.42" cy="125.44" r="1.40" fill="#1CA9EC" fill-opacity="0.85"/>
<circle cx="536.86" cy="145.50" r="1.40" fill="#1CA9EC" fill-opacity="0.85"/>
<circle cx="526.18" cy="136.24" r="1.40" fill="#1CA9EC" fill-opacity="0.85"/>
<circle cx="536.36" cy="130.25" r="1.40" fill="#1CA9EC" fill-opacity="0.85"/>
<circle cx="531.08" cy="130.27" r="1.40" fill="#1CA9EC" fill-opacity="0.85"/>
<circle cx="530.23" cy="128.54" r="1.40" fill="#1CA9EC" fill-opacity="0.85"/>
<circle cx="525.18" cy="148.82" r="1.40" fill="#1CA9EC" fill-opacity="0.85"/>
<circle cx="530.03" cy="145.51" r="1.40" fill="#1CA9EC" fill-opacity="0.85"/>
<circle cx="532.08" cy="165.96" r="1.40" fill="#1CA9EC" fill-opacity="0.85"/>
<circle cx="533.88" cy="154.16" r="1.40" fill="#1CA9EC" fill-opacity="0.85"/>
<circle cx="525.15" cy="158.75" r="1.40" fill="#1CA9EC" fill-opacity="0.85"/>
<circle cx="529.80" cy="150.06" r="1.40" fill="#1CA9EC" fill-opacity="0.85"/>
<circle cx="527.92" cy="158.11" r="1.40" fill="#1CA9EC" fill-opacity="0.85"/>
<circle cx="528.25" cy="152.53" r="1.40" fill="#1CA9EC" fill-opacity="0.85"/>
<circle cx="533.30" cy="155.69" r="1.40" fill="#1CA9EC" fill-opacity="0.85"/>
<circle cx="532.94" cy="150.03" r="1.40" fill="#1CA9EC" fill-opacity="0.85"/>
<circle cx="525.98" cy="165.10" r="1.40" fill="#1CA9EC" fill-opacity="0.85"/>
<circle cx="532.25" cy="166.68" r="1.40" fill="#1CA9EC" fill-opacity="0.85"/>
<circle cx="527.36" cy="201.36" r="1.40" fill="#1CA9EC" fill-opacity="0.85"/>
<circle cx="528.08" cy="181.77" r="1.40" fill="#1CA9EC" fill-opacity="0.85"/>
<circle cx="530.79" cy="204.96" r="1.40" fill="#1CA9EC" fill-opacity="0.85"/>
<circle cx="528.69" cy="181.35" r="1.40" fill="#1CA9EC" fill-opacity="0.85"/>
<circle cx="522.83" cy="178.18" r="1.40" fill="#1CA9EC" fill-opacity="0.85"/>
<circle cx="534.34" cy="171.76" r="1.40" fill="#1CA9EC" fill-opacity="0.85"/>
<circle cx="536.78" cy="178.57" r="1.40" fill="#1CA9EC" fill-opacity="0.85"/>
<circle cx="526.32" cy="177.23" r="1.40" fill="#1CA9EC" fill-opacity="0.85"/>
<circle cx="524.53" cy="186.91" r="1.40" fill="#1CA9EC" fill-opacity="0.85"/>
<circle cx="537.65" cy="181.81" r="1.40" fill="#1CA9EC" fill-opacity="0.85"/>
<circle cx="533.76" cy="200.72" r="1.40" fill="#1CA9EC" fill-opacity="0.85"/>
<circle cx="536.53" cy="191.34" r="1.40" fill="#1CA9EC" fill-opacity="0.85"/>
<circle cx="530.43" cy="202.81" r="1.40" fill="#1CA9EC" fill-opacity="0.85"/>
<circle cx="523.09" cy="194.62" r="1.40" fill="#1CA9EC" fill-opacity="0.85"/>
<circle cx="529.17" cy="195.10" r="1.40" fill="#1CA9EC" fill-opacity="0.85"/>
<circle cx="532.01" cy="195.85" r="1.40" fill="#1CA9EC" fill-opacity="0.85"/>
<circle cx="522.77" cy="178.59" r="1.40" fill="#1CA9EC" fill-opacity="0.85"/>
<circle cx="525.70" cy="202.29" r="1.40" fill="#1CA9EC" fill-opacity="0.85"/>
<circle cx="527.13" cy="185.47" r="1.40" fill="#1CA9EC" fill-opacity="0.85"/>
<circle cx="533.71" cy="179.02" r="1.40" fill="#1CA9EC" fill-opacity="0.85"/>
<circle cx="527.50" cy="204.12" r="1.40" fill="#1CA9EC" fill-opacity="0.85"/>
<circle cx="526.76" cy="192.27" r="1.40" fill="#1CA9EC" fill-opacity="0.85"/>
<circle cx="528.12" cy="188.62" r="1.40" fill="#1CA9EC" fill-opacity="0.85"/>
<circle cx="525.11" cy="174.19" r="1.40" fill="#1CA9EC" fill-opacity="0.85"/>
<circle cx="535.88" cy="175.69" r="1.40" fill="#1CA9EC" fill-opacity="0.85"/>
<circle cx="525.01" cy="186.39" r="1.40" fill="#1CA9EC" fill-opacity="0.85"/>
<circle cx="535.84" cy="201.53" r="1.40" fill="#1CA9EC" fill-opacity="0.85"/>
<circle cx="523.43" cy="184.65" r="1.40" fill="#1CA9EC" fill-opacity="0.85"/>
<circle cx="523.96" cy="175.12" r="1.40" fill="#1CA9EC" fill-opacity="0.85"/>
<circle cx="523.13" cy="180.65" r="1.40" fill="#1CA9EC" fill-opacity="0.85"/>
<circle cx="526.24" cy="176.85" r="1.40" fill="#1CA9EC" fill-opacity="0.85"/>
<circle cx="536.36" cy="189.08" r="1.40" fill="#1CA9EC" fill-opacity="0.85"/>
<circle cx="528.62" cy="195.74" r="1.40" fill="#1CA9EC" fill-opacity="0.85"/>
<circle cx="530.32" cy="183.31" r="1.40" fill="#1CA9EC" fill-opacity="0.85"/>
<circle cx="527.14" cy="181.94" r="1.40" fill="#1CA9EC" fill-opacity="0.85"/>
<circle cx="527.07" cy="170.30" r="1.40" fill="#1CA9EC" fill-opacity="0.85"/>
<circle cx="526.16" cy="203.80" r="1.40" fill="#1CA9EC" fill-opacity="0.85"/>
<circle cx="532.15" cy="186.63" r="1.40" fill="#1CA9EC" fill-opacity="0.85"/>
<circle cx="526.29" cy="199.93" r="1.40" fill="#1CA9EC" fill-opacity="0.85"/>
<circle cx="525.98" cy="178.03" r="1.40" fill="#1CA9EC" fill-opacity="0.85"/>
<circle cx="528.96" cy="182.79" r="1.40" fill="#1CA9EC" fill-opacity="0.85"/>
<circle cx="533.51" cy="203.30" r="1.40" fill="#1CA9EC" fill-opacity="0.85"/>
<circle cx="523.90" cy="200.30" r="1.40" fill="#1CA9EC" fill-opacity="0.85"/>
<circle cx="532.46" cy="169.19" r="1.40" fill="#1CA9EC" fill-opacity="0.85"/>
<circle cx="529.57" cy="201.14" r="1.40" fill="#1CA9EC" fill-opacity="0.85"/>
<circle cx="521.65" cy="189.73" r="1.40" fill="#1CA9EC" fill-opacity="0.85"/>
<circle cx="537.26" cy="182.49" r="1.40" fill="#1CA9EC" fill-opacity="0.85"/>
<circle cx="534.65" cy="198.55" r="1.40" fill="#1CA9EC" fill-opacity="0.85"/>
<circle cx="527.38" cy="203.97" r="1.40" fill="#1CA9EC" fill-opacity="0.85"/>
<circle cx="525.28" cy="172.03" r="1.40" fill="#1CA9EC" fill-opacity="0.85"/>
<circle cx="533.03" cy="187.33" r="1.40" fill="#1CA9EC" fill-opacity="0.85"/>
<circle cx="532.29" cy="202.84" r="1.40" fill="#1CA9EC" fill-opacity="0.85"/>
<circle cx="534.10" cy="191.95" r="1.40" fill="#1CA9EC" fill-opacity="0.85"/>
<circle cx="530.82" cy="184.92" r="1.40" fill="#1CA9EC" fill-opacity="0.85"/>
<circle cx="533.39" cy="169.46" r="1.40" fill="#1CA9EC" fill-opacity="0.85"/>
<circle cx="536.22" cy="176.61" r="1.40" fill="#1CA9EC" fill-opacity="0.85"/>
<circle cx="526.78" cy="191.88" r="1.40" fill="#1CA9EC" fill-opacity="0.85"/>
<circle cx="526.52" cy="172.73" r="1.40" fill="#1CA9EC" fill-opacity="0.85"/>
<circle cx="533.07" cy="191.54" r="1.40" fill="#1CA9EC" fill-opacity="0.85"/>
<circle cx="524.14" cy="172.15" r="1.40" fill="#1CA9EC" fill-opacity="0.85"/>
<circle cx="531.32" cy="187.40" r="1.40" fill="#1CA9EC" fill-opacity="0.85"/>
<circle cx="525.14" cy="182.36" r="1.40" fill="#1CA9EC" fill-opacity="0.85"/>
<circle cx="521.89" cy="190.24" r="1.40" fill="#1CA9EC" fill-opacity="0.85"/>
<circle cx="529.27" cy="179.16" r="1.40" fill="#1CA9EC" fill-opacity="0.85"/>
<circle cx="531.35" cy="209.79" r="1.40" fill="#1CA9EC" fill-opacity="0.85"/>
<circle cx="529.65" cy="209.42" r="1.40" fill="#1CA9EC" fill-opacity="0.85"/>
<circle cx="527.37" cy="206.17" r="1.40" fill="#1CA9EC" fill-opacity="0.85"/>
<line x1="562.70" y1="245.80" x2="562.70" y2="290.40" stroke="#F28A1E" stroke-width="0.8"/>
<line x1="548.00" y1="289.80" x2="578.00" y2="289.80" stroke="#F28A1E" stroke-width="1.4"/>
<circle cx="562.00" cy="246.50" r="1.30" fill="#F28A1E" fill-opacity="0.85"/>
<circle cx="565.00" cy="247.00" r="1.30" fill="#F28A1E" fill-opacity="0.85"/>
<circle cx="555.50" cy="250.50" r="1.30" fill="#F28A1E" fill-opacity="0.85"/>
<circle cx="561.00" cy="252.00" r="1.30" fill="#F28A1E" fill-opacity="0.85"/>
<circle cx="564.50" cy="252.50" r="1.30" fill="#F28A1E" fill-opacity="0.85"/>
<circle cx="567.00" cy="253.00" r="1.30" fill="#F28A1E" fill-opacity="0.85"/>
<circle cx="560.00" cy="262.00" r="1.30" fill="#F28A1E" fill-opacity="0.85"/>
<circle cx="563.50" cy="263.00" r="1.30" fill="#F28A1E" fill-opacity="0.85"/>
<circle cx="556.00" cy="276.00" r="1.30" fill="#F28A1E" fill-opacity="0.85"/>
<circle cx="560.00" cy="277.00" r="1.30" fill="#F28A1E" fill-opacity="0.85"/>
<circle cx="566.00" cy="275.00" r="1.30" fill="#F28A1E" fill-opacity="0.85"/>
<circle cx="569.00" cy="276.00" r="1.30" fill="#F28A1E" fill-opacity="0.85"/>
<circle cx="571.00" cy="276.50" r="1.30" fill="#F28A1E" fill-opacity="0.85"/>
<circle cx="559.00" cy="279.00" r="1.30" fill="#F28A1E" fill-opacity="0.85"/>
<circle cx="562.00" cy="278.50" r="1.30" fill="#F28A1E" fill-opacity="0.85"/>
<circle cx="567.00" cy="279.00" r="1.30" fill="#F28A1E" fill-opacity="0.85"/>
<circle cx="570.00" cy="280.00" r="1.30" fill="#F28A1E" fill-opacity="0.85"/>
<circle cx="556.50" cy="282.00" r="1.30" fill="#F28A1E" fill-opacity="0.85"/>
<circle cx="560.00" cy="283.00" r="1.30" fill="#F28A1E" fill-opacity="0.85"/>
<circle cx="564.00" cy="282.50" r="1.30" fill="#F28A1E" fill-opacity="0.85"/>
<circle cx="568.00" cy="283.00" r="1.30" fill="#F28A1E" fill-opacity="0.85"/>
<circle cx="572.00" cy="282.50" r="1.30" fill="#F28A1E" fill-opacity="0.85"/>
<circle cx="553.00" cy="285.00" r="1.30" fill="#F28A1E" fill-opacity="0.85"/>
<circle cx="557.00" cy="285.00" r="1.30" fill="#F28A1E" fill-opacity="0.85"/>
<circle cx="561.00" cy="285.50" r="1.30" fill="#F28A1E" fill-opacity="0.85"/>
<circle cx="565.00" cy="285.00" r="1.30" fill="#F28A1E" fill-opacity="0.85"/>
<circle cx="569.00" cy="285.50" r="1.30" fill="#F28A1E" fill-opacity="0.85"/>
<circle cx="573.00" cy="286.00" r="1.30" fill="#F28A1E" fill-opacity="0.85"/>
<circle cx="551.00" cy="288.50" r="1.30" fill="#F28A1E" fill-opacity="0.85"/>
<circle cx="555.00" cy="288.50" r="1.30" fill="#F28A1E" fill-opacity="0.85"/>
<circle cx="559.00" cy="288.50" r="1.30" fill="#F28A1E" fill-opacity="0.85"/>
<circle cx="563.00" cy="288.50" r="1.30" fill="#F28A1E" fill-opacity="0.85"/>
<circle cx="567.00" cy="288.50" r="1.30" fill="#F28A1E" fill-opacity="0.85"/>
<circle cx="571.00" cy="288.50" r="1.30" fill="#F28A1E" fill-opacity="0.85"/>
<circle cx="575.00" cy="288.50" r="1.30" fill="#F28A1E" fill-opacity="0.85"/>
<path d="M581.00,290.10 C586.80,289.40 587.52,284.90 591.15,283.40 L599.85,283.40 C603.48,284.90 604.20,289.40 610.00,290.10 Z" fill="#8B1A1A" stroke="#8B1A1A" stroke-width="0.6" fill-opacity="0.55"/>
<circle cx="602.09" cy="288.45" r="1.25" fill="#8B1A1A" fill-opacity="0.9"/>
<circle cx="595.18" cy="289.01" r="1.25" fill="#8B1A1A" fill-opacity="0.9"/>
<circle cx="588.98" cy="289.55" r="1.25" fill="#8B1A1A" fill-opacity="0.9"/>
<circle cx="592.56" cy="288.49" r="1.25" fill="#8B1A1A" fill-opacity="0.9"/>
<circle cx="590.58" cy="283.67" r="1.25" fill="#8B1A1A" fill-opacity="0.9"/>
<circle cx="595.67" cy="288.82" r="1.25" fill="#8B1A1A" fill-opacity="0.9"/>
<circle cx="593.11" cy="286.93" r="1.25" fill="#8B1A1A" fill-opacity="0.9"/>
<circle cx="594.31" cy="287.78" r="1.25" fill="#8B1A1A" fill-opacity="0.9"/>
<circle cx="597.58" cy="284.90" r="1.25" fill="#8B1A1A" fill-opacity="0.9"/>
<circle cx="592.55" cy="289.54" r="1.25" fill="#8B1A1A" fill-opacity="0.9"/>
<circle cx="599.19" cy="289.11" r="1.25" fill="#8B1A1A" fill-opacity="0.9"/>
<circle cx="596.84" cy="287.63" r="1.25" fill="#8B1A1A" fill-opacity="0.9"/>
<circle cx="596.81" cy="284.61" r="1.25" fill="#8B1A1A" fill-opacity="0.9"/>
<circle cx="592.51" cy="282.50" r="1.25" fill="#8B1A1A" fill-opacity="0.9"/>
<circle cx="592.70" cy="289.55" r="1.25" fill="#8B1A1A" fill-opacity="0.9"/>
<circle cx="596.25" cy="286.53" r="1.25" fill="#8B1A1A" fill-opacity="0.9"/>
<circle cx="590.12" cy="283.30" r="1.25" fill="#8B1A1A" fill-opacity="0.9"/>
<circle cx="598.14" cy="287.21" r="1.25" fill="#8B1A1A" fill-opacity="0.9"/>
<circle cx="598.21" cy="281.71" r="1.25" fill="#8B1A1A" fill-opacity="0.9"/>
<circle cx="596.39" cy="288.84" r="1.25" fill="#8B1A1A" fill-opacity="0.9"/>
<circle cx="599.54" cy="288.49" r="1.25" fill="#8B1A1A" fill-opacity="0.9"/>
<circle cx="602.74" cy="285.89" r="1.25" fill="#8B1A1A" fill-opacity="0.9"/>
<circle cx="593.87" cy="281.10" r="1.25" fill="#8B1A1A" fill-opacity="0.9"/>
<circle cx="599.03" cy="288.48" r="1.25" fill="#8B1A1A" fill-opacity="0.9"/>
<circle cx="599.52" cy="283.14" r="1.25" fill="#8B1A1A" fill-opacity="0.9"/>
<circle cx="595.47" cy="288.84" r="1.25" fill="#8B1A1A" fill-opacity="0.9"/>
<circle cx="593.33" cy="287.09" r="1.25" fill="#8B1A1A" fill-opacity="0.9"/>
<circle cx="592.76" cy="287.68" r="1.25" fill="#8B1A1A" fill-opacity="0.9"/>
<circle cx="595.66" cy="289.40" r="1.25" fill="#8B1A1A" fill-opacity="0.9"/>
<circle cx="594.75" cy="286.86" r="1.25" fill="#8B1A1A" fill-opacity="0.9"/>
<circle cx="597.65" cy="289.17" r="1.25" fill="#8B1A1A" fill-opacity="0.9"/>
<circle cx="598.39" cy="289.14" r="1.25" fill="#8B1A1A" fill-opacity="0.9"/>
<circle cx="590.48" cy="285.23" r="1.25" fill="#8B1A1A" fill-opacity="0.9"/>
<circle cx="597.52" cy="286.73" r="1.25" fill="#8B1A1A" fill-opacity="0.9"/>
<circle cx="600.19" cy="288.57" r="1.25" fill="#8B1A1A" fill-opacity="0.9"/>
<circle cx="588.70" cy="284.77" r="1.25" fill="#8B1A1A" fill-opacity="0.9"/>
<circle cx="596.95" cy="286.93" r="1.25" fill="#8B1A1A" fill-opacity="0.9"/>
<circle cx="596.36" cy="289.15" r="1.25" fill="#8B1A1A" fill-opacity="0.9"/>
<circle cx="588.77" cy="286.69" r="1.25" fill="#8B1A1A" fill-opacity="0.9"/>
<circle cx="595.63" cy="288.74" r="1.25" fill="#8B1A1A" fill-opacity="0.9"/>
<circle cx="597.03" cy="289.37" r="1.25" fill="#8B1A1A" fill-opacity="0.9"/>
<circle cx="598.44" cy="288.49" r="1.25" fill="#8B1A1A" fill-opacity="0.9"/>
<circle cx="595.34" cy="283.18" r="1.25" fill="#8B1A1A" fill-opacity="0.9"/>
<circle cx="593.66" cy="287.57" r="1.25" fill="#8B1A1A" fill-opacity="0.9"/>
<circle cx="601.31" cy="288.51" r="1.25" fill="#8B1A1A" fill-opacity="0.9"/>
<circle cx="594.97" cy="284.85" r="1.25" fill="#8B1A1A" fill-opacity="0.9"/>
<circle cx="594.08" cy="287.40" r="1.25" fill="#8B1A1A" fill-opacity="0.9"/>
<circle cx="602.80" cy="289.48" r="1.25" fill="#8B1A1A" fill-opacity="0.9"/>
<circle cx="600.84" cy="287.47" r="1.25" fill="#8B1A1A" fill-opacity="0.9"/>
<circle cx="596.40" cy="289.37" r="1.25" fill="#8B1A1A" fill-opacity="0.9"/>
<circle cx="596.00" cy="286.21" r="1.25" fill="#8B1A1A" fill-opacity="0.9"/>
<circle cx="605.90" cy="287.60" r="1.25" fill="#8B1A1A" fill-opacity="0.9"/>
<circle cx="593.00" cy="288.11" r="1.25" fill="#8B1A1A" fill-opacity="0.9"/>
<circle cx="590.91" cy="288.11" r="1.25" fill="#8B1A1A" fill-opacity="0.9"/>
<circle cx="597.99" cy="288.77" r="1.25" fill="#8B1A1A" fill-opacity="0.9"/>
<circle cx="597.81" cy="284.95" r="1.25" fill="#8B1A1A" fill-opacity="0.9"/>
<circle cx="598.81" cy="284.97" r="1.25" fill="#8B1A1A" fill-opacity="0.9"/>
<circle cx="592.47" cy="287.93" r="1.25" fill="#8B1A1A" fill-opacity="0.9"/>
<circle cx="593.76" cy="287.02" r="1.25" fill="#8B1A1A" fill-opacity="0.9"/>
<circle cx="595.86" cy="288.41" r="1.25" fill="#8B1A1A" fill-opacity="0.9"/>
<circle cx="596.70" cy="277.30" r="1.25" fill="#8B1A1A"/>
<circle cx="590.50" cy="280.50" r="1.25" fill="#8B1A1A"/>
<circle cx="600.00" cy="280.00" r="1.25" fill="#8B1A1A"/>
<path d="M613.30,290.10 C619.30,289.40 620.05,284.62 623.80,283.05 L632.80,283.05 C636.55,284.62 637.30,289.40 643.30,290.10 Z" fill="#8E2C96" stroke="#8E2C96" stroke-width="0.6" fill-opacity="0.55"/>
<circle cx="630.75" cy="284.62" r="1.25" fill="#8E2C96" fill-opacity="0.9"/>
<circle cx="628.33" cy="288.45" r="1.25" fill="#8E2C96" fill-opacity="0.9"/>
<circle cx="633.88" cy="288.76" r="1.25" fill="#8E2C96" fill-opacity="0.9"/>
<circle cx="622.52" cy="281.76" r="1.25" fill="#8E2C96" fill-opacity="0.9"/>
<circle cx="638.24" cy="283.35" r="1.25" fill="#8E2C96" fill-opacity="0.9"/>
<circle cx="628.12" cy="288.29" r="1.25" fill="#8E2C96" fill-opacity="0.9"/>
<circle cx="632.65" cy="287.49" r="1.25" fill="#8E2C96" fill-opacity="0.9"/>
<circle cx="627.08" cy="286.28" r="1.25" fill="#8E2C96" fill-opacity="0.9"/>
<circle cx="628.76" cy="286.34" r="1.25" fill="#8E2C96" fill-opacity="0.9"/>
<circle cx="623.40" cy="286.36" r="1.25" fill="#8E2C96" fill-opacity="0.9"/>
<circle cx="628.19" cy="283.50" r="1.25" fill="#8E2C96" fill-opacity="0.9"/>
<circle cx="627.13" cy="288.22" r="1.25" fill="#8E2C96" fill-opacity="0.9"/>
<circle cx="630.33" cy="287.39" r="1.25" fill="#8E2C96" fill-opacity="0.9"/>
<circle cx="624.33" cy="288.36" r="1.25" fill="#8E2C96" fill-opacity="0.9"/>
<circle cx="628.08" cy="287.51" r="1.25" fill="#8E2C96" fill-opacity="0.9"/>
<circle cx="628.35" cy="287.24" r="1.25" fill="#8E2C96" fill-opacity="0.9"/>
<circle cx="633.63" cy="284.23" r="1.25" fill="#8E2C96" fill-opacity="0.9"/>
<circle cx="624.77" cy="288.28" r="1.25" fill="#8E2C96" fill-opacity="0.9"/>
<circle cx="617.13" cy="283.62" r="1.25" fill="#8E2C96" fill-opacity="0.9"/>
<circle cx="625.04" cy="289.49" r="1.25" fill="#8E2C96" fill-opacity="0.9"/>
<circle cx="630.65" cy="285.32" r="1.25" fill="#8E2C96" fill-opacity="0.9"/>
<circle cx="630.39" cy="289.52" r="1.25" fill="#8E2C96" fill-opacity="0.9"/>
<circle cx="620.08" cy="288.68" r="1.25" fill="#8E2C96" fill-opacity="0.9"/>
<circle cx="633.68" cy="283.72" r="1.25" fill="#8E2C96" fill-opacity="0.9"/>
<circle cx="631.93" cy="288.94" r="1.25" fill="#8E2C96" fill-opacity="0.9"/>
<circle cx="630.44" cy="288.21" r="1.25" fill="#8E2C96" fill-opacity="0.9"/>
<circle cx="634.17" cy="288.90" r="1.25" fill="#8E2C96" fill-opacity="0.9"/>
<circle cx="632.23" cy="288.31" r="1.25" fill="#8E2C96" fill-opacity="0.9"/>
<circle cx="631.58" cy="287.04" r="1.25" fill="#8E2C96" fill-opacity="0.9"/>
<circle cx="627.81" cy="284.15" r="1.25" fill="#8E2C96" fill-opacity="0.9"/>
<circle cx="630.31" cy="289.10" r="1.25" fill="#8E2C96" fill-opacity="0.9"/>
<circle cx="623.15" cy="287.11" r="1.25" fill="#8E2C96" fill-opacity="0.9"/>
<circle cx="629.17" cy="286.64" r="1.25" fill="#8E2C96" fill-opacity="0.9"/>
<circle cx="630.22" cy="287.95" r="1.25" fill="#8E2C96" fill-opacity="0.9"/>
<circle cx="628.11" cy="285.34" r="1.25" fill="#8E2C96" fill-opacity="0.9"/>
<circle cx="626.54" cy="287.87" r="1.25" fill="#8E2C96" fill-opacity="0.9"/>
<circle cx="632.30" cy="289.40" r="1.25" fill="#8E2C96" fill-opacity="0.9"/>
<circle cx="627.05" cy="287.79" r="1.25" fill="#8E2C96" fill-opacity="0.9"/>
<circle cx="627.14" cy="287.64" r="1.25" fill="#8E2C96" fill-opacity="0.9"/>
<circle cx="629.89" cy="285.79" r="1.25" fill="#8E2C96" fill-opacity="0.9"/>
<circle cx="630.22" cy="289.04" r="1.25" fill="#8E2C96" fill-opacity="0.9"/>
<circle cx="623.80" cy="287.17" r="1.25" fill="#8E2C96" fill-opacity="0.9"/>
<circle cx="627.04" cy="288.54" r="1.25" fill="#8E2C96" fill-opacity="0.9"/>
<circle cx="631.88" cy="285.44" r="1.25" fill="#8E2C96" fill-opacity="0.9"/>
<circle cx="625.20" cy="288.22" r="1.25" fill="#8E2C96" fill-opacity="0.9"/>
<circle cx="624.36" cy="282.31" r="1.25" fill="#8E2C96" fill-opacity="0.9"/>
<circle cx="626.08" cy="285.84" r="1.25" fill="#8E2C96" fill-opacity="0.9"/>
<circle cx="625.39" cy="287.04" r="1.25" fill="#8E2C96" fill-opacity="0.9"/>
<circle cx="638.28" cy="281.60" r="1.25" fill="#8E2C96" fill-opacity="0.9"/>
<circle cx="626.34" cy="288.02" r="1.25" fill="#8E2C96" fill-opacity="0.9"/>
<circle cx="627.88" cy="287.49" r="1.25" fill="#8E2C96" fill-opacity="0.9"/>
<circle cx="637.98" cy="289.35" r="1.25" fill="#8E2C96" fill-opacity="0.9"/>
<circle cx="620.90" cy="286.91" r="1.25" fill="#8E2C96" fill-opacity="0.9"/>
<circle cx="620.55" cy="285.97" r="1.25" fill="#8E2C96" fill-opacity="0.9"/>
<circle cx="625.70" cy="289.14" r="1.25" fill="#8E2C96" fill-opacity="0.9"/>
<circle cx="633.97" cy="289.23" r="1.25" fill="#8E2C96" fill-opacity="0.9"/>
<circle cx="622.04" cy="284.26" r="1.25" fill="#8E2C96" fill-opacity="0.9"/>
<circle cx="633.62" cy="287.27" r="1.25" fill="#8E2C96" fill-opacity="0.9"/>
<circle cx="624.63" cy="286.89" r="1.25" fill="#8E2C96" fill-opacity="0.9"/>
<circle cx="630.53" cy="287.56" r="1.25" fill="#8E2C96" fill-opacity="0.9"/>
<line x1="647.00" y1="285.50" x2="676.40" y2="285.50" stroke="#17918A" stroke-width="1.2"/>
<circle cx="661.38" cy="289.14" r="1.20" fill="#17918A" fill-opacity="0.9"/>
<circle cx="656.01" cy="284.14" r="1.20" fill="#17918A" fill-opacity="0.9"/>
<circle cx="665.06" cy="289.62" r="1.20" fill="#17918A" fill-opacity="0.9"/>
<circle cx="657.17" cy="279.96" r="1.20" fill="#17918A" fill-opacity="0.9"/>
<circle cx="666.86" cy="289.72" r="1.20" fill="#17918A" fill-opacity="0.9"/>
<circle cx="660.88" cy="279.11" r="1.20" fill="#17918A" fill-opacity="0.9"/>
<circle cx="666.64" cy="282.96" r="1.20" fill="#17918A" fill-opacity="0.9"/>
<circle cx="666.35" cy="285.63" r="1.20" fill="#17918A" fill-opacity="0.9"/>
<circle cx="665.32" cy="280.34" r="1.20" fill="#17918A" fill-opacity="0.9"/>
<circle cx="664.82" cy="281.05" r="1.20" fill="#17918A" fill-opacity="0.9"/>
<circle cx="659.86" cy="288.23" r="1.20" fill="#17918A" fill-opacity="0.9"/>
<circle cx="665.38" cy="280.60" r="1.20" fill="#17918A" fill-opacity="0.9"/>
<circle cx="657.44" cy="283.10" r="1.20" fill="#17918A" fill-opacity="0.9"/>
<circle cx="661.33" cy="282.91" r="1.20" fill="#17918A" fill-opacity="0.9"/>
<circle cx="656.20" cy="281.34" r="1.20" fill="#17918A" fill-opacity="0.9"/>
<circle cx="664.02" cy="288.82" r="1.20" fill="#17918A" fill-opacity="0.9"/>
<circle cx="655.13" cy="284.97" r="1.20" fill="#17918A" fill-opacity="0.9"/>
<circle cx="664.45" cy="278.94" r="1.20" fill="#17918A" fill-opacity="0.9"/>
<circle cx="665.50" cy="279.85" r="1.20" fill="#17918A" fill-opacity="0.9"/>
<circle cx="662.39" cy="284.83" r="1.20" fill="#17918A" fill-opacity="0.9"/>
<circle cx="662.75" cy="282.02" r="1.20" fill="#17918A" fill-opacity="0.9"/>
<circle cx="660.06" cy="285.20" r="1.20" fill="#17918A" fill-opacity="0.9"/>
<circle cx="660.13" cy="286.08" r="1.20" fill="#17918A" fill-opacity="0.9"/>
<circle cx="660.41" cy="283.54" r="1.20" fill="#17918A" fill-opacity="0.9"/>
<circle cx="654.90" cy="285.62" r="1.20" fill="#17918A" fill-opacity="0.9"/>
<circle cx="660.96" cy="281.21" r="1.20" fill="#17918A" fill-opacity="0.9"/>
<circle cx="664.53" cy="287.47" r="1.20" fill="#17918A" fill-opacity="0.9"/>
<circle cx="660.56" cy="280.57" r="1.20" fill="#17918A" fill-opacity="0.9"/>
<circle cx="660.75" cy="279.73" r="1.20" fill="#17918A" fill-opacity="0.9"/>
<circle cx="656.27" cy="283.45" r="1.20" fill="#17918A" fill-opacity="0.9"/>
<circle cx="655.79" cy="283.58" r="1.20" fill="#17918A" fill-opacity="0.9"/>
<circle cx="661.23" cy="278.97" r="1.20" fill="#17918A" fill-opacity="0.9"/>
<circle cx="662.87" cy="279.45" r="1.20" fill="#17918A" fill-opacity="0.9"/>
<circle cx="664.14" cy="287.44" r="1.20" fill="#17918A" fill-opacity="0.9"/>
<circle cx="661.25" cy="279.12" r="1.20" fill="#17918A" fill-opacity="0.9"/>
<circle cx="661.15" cy="282.85" r="1.20" fill="#17918A" fill-opacity="0.9"/>
<circle cx="666.96" cy="280.07" r="1.20" fill="#17918A" fill-opacity="0.9"/>
<circle cx="665.74" cy="289.96" r="1.20" fill="#17918A" fill-opacity="0.9"/>
<circle cx="664.12" cy="287.87" r="1.20" fill="#17918A" fill-opacity="0.9"/>
<circle cx="657.12" cy="289.79" r="1.20" fill="#17918A" fill-opacity="0.9"/>
<text x="106.00" y="405.10" font-size="6.5" text-anchor="end" fill="#1a1a1a" font-weight="normal">Chr. 13</text>
<rect x="109.80" y="400.35" width="33.50" height="4.90" fill="#F49790" stroke="none" stroke-width="0.5"/>
<rect x="202.80" y="400.35" width="61.70" height="4.90" fill="#F49790" stroke="none" stroke-width="0.5"/>
<rect x="213.00" y="400.05" width="3.90" height="5.50" fill="#FF0000" stroke="none" stroke-width="0.5"/>
<path d="M143.3,402.80 L172.6,397.30 L202.8,402.80" fill="none" stroke="#111" stroke-width="0.7"/>
<text x="267.50" y="405.10" font-size="6.5" text-anchor="start" fill="#1a1a1a" font-weight="normal">1,411</text>
<text x="106.00" y="414.50" font-size="6.5" text-anchor="end" fill="#1a1a1a" font-weight="normal">Chr. 14</text>
<rect x="109.80" y="409.75" width="33.50" height="4.90" fill="#CACA3A" stroke="none" stroke-width="0.5"/>
<rect x="202.80" y="409.75" width="61.70" height="4.90" fill="#CACA3A" stroke="none" stroke-width="0.5"/>
<rect x="213.00" y="409.45" width="3.90" height="5.50" fill="#FF0000" stroke="none" stroke-width="0.5"/>
<path d="M143.3,412.20 L172.6,406.70 L202.8,412.20" fill="none" stroke="#111" stroke-width="0.7"/>
<text x="267.50" y="414.50" font-size="6.5" text-anchor="start" fill="#1a1a1a" font-weight="normal">1,405</text>
<text x="106.00" y="423.90" font-size="6.5" text-anchor="end" fill="#1a1a1a" font-weight="normal">Chr. 21</text>
<rect x="109.80" y="419.15" width="33.50" height="4.90" fill="#5BBCE8" stroke="none" stroke-width="0.5"/>
<rect x="202.80" y="419.15" width="61.70" height="4.90" fill="#5BBCE8" stroke="none" stroke-width="0.5"/>
<rect x="213.00" y="418.85" width="3.90" height="5.50" fill="#FF0000" stroke="none" stroke-width="0.5"/>
<path d="M143.3,421.60 L172.6,416.10 L202.8,421.60" fill="none" stroke="#111" stroke-width="0.7"/>
<text x="267.50" y="423.90" font-size="6.5" text-anchor="start" fill="#1a1a1a" font-weight="normal">1,409</text>
<text x="106.00" y="433.10" font-size="6.5" text-anchor="end" fill="#1a1a1a" font-weight="normal">Chr. 4</text>
<rect x="109.80" y="428.35" width="154.70" height="4.90" fill="#F0985A" stroke="none" stroke-width="0.5"/>
<text x="267.50" y="433.10" font-size="6.5" text-anchor="start" fill="#1a1a1a" font-weight="normal">2,496</text>
<text x="106.00" y="442.50" font-size="6.5" text-anchor="end" fill="#1a1a1a" font-weight="normal">Chr. 17</text>
<rect x="109.80" y="437.75" width="154.70" height="4.90" fill="#983232" stroke="none" stroke-width="0.5"/>
<text x="267.50" y="442.50" font-size="6.5" text-anchor="start" fill="#1a1a1a" font-weight="normal">2,367</text>
<text x="106.00" y="451.90" font-size="6.5" text-anchor="end" fill="#1a1a1a" font-weight="normal">Chr. 19</text>
<rect x="109.80" y="447.15" width="154.70" height="4.90" fill="#9C3BA2" stroke="none" stroke-width="0.5"/>
<text x="267.50" y="451.90" font-size="6.5" text-anchor="start" fill="#1a1a1a" font-weight="normal">2,534</text>
<text x="106.00" y="461.10" font-size="6.5" text-anchor="end" fill="#1a1a1a" font-weight="normal">Chr. Y</text>
<rect x="109.80" y="456.35" width="154.70" height="4.90" fill="#3BB1AC" stroke="none" stroke-width="0.5"/>
<text x="267.50" y="461.10" font-size="6.5" text-anchor="start" fill="#1a1a1a" font-weight="normal">2,418</text>
<rect x="143.3" y="396.1" width="59.5" height="30.1" fill="none" stroke="#333" stroke-width="0.6" stroke-dasharray="1,1.2"/>
<text x="174.00" y="392.50" font-size="6.5" text-anchor="middle" fill="#1a1a1a" font-weight="normal">Deletion</text>
<text x="215.50" y="391.20" font-size="6.5" text-anchor="middle" fill="#FF2020" font-weight="normal">PRDM9</text>
<text x="215.50" y="397.80" font-size="6.5" text-anchor="middle" fill="#FF2020" font-weight="normal">motif</text>
<text x="274.50" y="384.80" font-size="6.5" text-anchor="middle" fill="#1a1a1a" font-weight="normal">SST1 consensus</text>
<text x="274.30" y="396.60" font-size="6.5" text-anchor="middle" fill="#1a1a1a" font-weight="normal">Size (bp)</text>
<text x="61.00" y="414.50" font-size="6.5" text-anchor="middle" fill="#1a1a1a" font-weight="normal">SST1-sf1</text>
<text x="61.00" y="442.50" font-size="6.5" text-anchor="middle" fill="#1a1a1a" font-weight="normal">SST1-sf2</text>
<text x="61.00" y="461.10" font-size="6.5" text-anchor="middle" fill="#1a1a1a" font-weight="normal">SST1-sf3</text>
<path d="M83.5,401.80 L81,401.80 L81,422.60 L83.5,422.60" fill="none" stroke="#555" stroke-width="0.6"/>
<path d="M83.5,429.80 L81,429.80 L81,450.60 L83.5,450.60" fill="none" stroke="#555" stroke-width="0.6"/>
<defs><linearGradient id="pR" x1="0" x2="1"><stop offset="0" stop-color="#BC5AD6"/><stop offset="1" stop-color="#DCA6EC"/></linearGradient><linearGradient id="pL" x1="0" x2="1"><stop offset="0" stop-color="#DCA6EC"/><stop offset="1" stop-color="#BC5AD6"/></linearGradient><linearGradient id="tR" x1="0" x2="1"><stop offset="0" stop-color="#0F9C7E"/><stop offset="0.55" stop-color="#1DA88A"/><stop offset="0.6" stop-color="#5EC5AE"/><stop offset="1" stop-color="#A4DED1"/></linearGradient><linearGradient id="tL" x1="0" x2="1"><stop offset="0" stop-color="#98DACB"/><stop offset="0.42" stop-color="#5CC3AC"/><stop offset="0.47" stop-color="#1FA98B"/><stop offset="1" stop-color="#0F9C7E"/></linearGradient></defs>
<clipPath id="dclip"><rect x="0" y="470" width="354.8" height="210"/><rect x="0" y="680" width="369.5" height="37"/></clipPath>
<g clip-path="url(#dclip)">
<rect x="51.90" y="489.10" width="98.10" height="9.00" fill="url(#pR)" stroke="none" stroke-width="0.5"/>
<rect x="150.00" y="489.10" width="49.30" height="9.00" fill="#CACACA" stroke="none" stroke-width="0.5"/>
<rect x="199.30" y="489.10" width="41.90" height="9.00" fill="url(#tR)" stroke="none" stroke-width="0.5"/>
<rect x="241.20" y="489.10" width="113.60" height="9.00" fill="#CACACA" stroke="none" stroke-width="0.5"/>
<path d="M96.55,489.70 L100.85,493.60 L96.55,497.50 Z" fill="#000"/>
<path d="M173.75,489.70 L178.05,493.60 L173.75,497.50 Z" fill="#000"/>
<path d="M221.05,489.70 L225.35,493.60 L221.05,497.50 Z" fill="#000"/>
<path d="M295.45,489.70 L299.75,493.60 L295.45,497.50 Z" fill="#000"/>
<text x="97.00" y="485.50" font-size="6.5" text-anchor="middle" fill="#1a1a1a" font-weight="normal">SST1-sf2</text>
<text x="173.70" y="485.50" font-size="6.5" text-anchor="middle" fill="#1a1a1a" font-weight="normal">Chr. Y α-sat</text>
<text x="219.70" y="485.50" font-size="6.5" text-anchor="middle" fill="#1a1a1a" font-weight="normal">SST1-sf3</text>
<text x="297.40" y="485.50" font-size="6.5" text-anchor="middle" fill="#1a1a1a" font-weight="normal">Chr. Y α-sat</text>
<text x="97.00" y="505.50" font-size="6.5" text-anchor="middle" fill="#1a1a1a" font-weight="normal">8.9 kb</text>
<text x="173.70" y="505.50" font-size="6.5" text-anchor="middle" fill="#1a1a1a" font-weight="normal">4.4 kb</text>
<text x="219.70" y="505.50" font-size="6.5" text-anchor="middle" fill="#1a1a1a" font-weight="normal">3.7 kb</text>
<text x="297.40" y="505.50" font-size="6.5" text-anchor="middle" fill="#1a1a1a" font-weight="normal">10.1 kb</text>
<text x="52.40" y="521.40" font-size="6.5" text-anchor="start" fill="#1a1a1a" font-weight="normal">Chr. 20:30509637–30534332</text>
<rect x="51.90" y="523.50" width="113.10" height="9.00" fill="#CACACA" stroke="none" stroke-width="0.5"/>
<rect x="165.00" y="523.50" width="42.00" height="9.00" fill="url(#tL)" stroke="none" stroke-width="0.5"/>
<rect x="207.00" y="523.50" width="49.50" height="9.00" fill="#CACACA" stroke="none" stroke-width="0.5"/>
<rect x="256.50" y="523.50" width="98.30" height="9.00" fill="url(#pL)" stroke="none" stroke-width="0.5"/>
<path d="M107.85,524.10 L103.55,528.00 L107.85,531.90 Z" fill="#000"/>
<path d="M185.95,524.10 L181.65,528.00 L185.95,531.90 Z" fill="#000"/>
<path d="M234.05,524.10 L229.75,528.00 L234.05,531.90 Z" fill="#000"/>
<path d="M312.65,524.10 L308.35,528.00 L312.65,531.90 Z" fill="#000"/>
<text x="52.40" y="544.40" font-size="6.5" text-anchor="start" fill="#1a1a1a" font-weight="normal">Chr. 9:48354783–48383572</text>
<rect x="51.90" y="546.50" width="113.10" height="9.00" fill="#CACACA" stroke="none" stroke-width="0.5"/>
<rect x="165.00" y="546.50" width="42.00" height="9.00" fill="url(#tL)" stroke="none" stroke-width="0.5"/>
<rect x="207.00" y="546.50" width="49.50" height="9.00" fill="#CACACA" stroke="none" stroke-width="0.5"/>
<rect x="256.50" y="546.50" width="98.30" height="9.00" fill="url(#pL)" stroke="none" stroke-width="0.5"/>
<path d="M107.85,547.10 L103.55,551.00 L107.85,554.90 Z" fill="#000"/>
<path d="M185.95,547.10 L181.65,551.00 L185.95,554.90 Z" fill="#000"/>
<path d="M234.05,547.10 L229.75,551.00 L234.05,554.90 Z" fill="#000"/>
<path d="M312.65,547.10 L308.35,551.00 L312.65,554.90 Z" fill="#000"/>
<text x="52.40" y="567.60" font-size="6.5" text-anchor="start" fill="#1a1a1a" font-weight="normal">Chr. 20:31213855–31226037</text>
<rect x="51.90" y="569.70" width="98.10" height="9.00" fill="url(#pR)" stroke="none" stroke-width="0.5"/>
<rect x="150.00" y="569.70" width="49.30" height="9.00" fill="#CACACA" stroke="none" stroke-width="0.5"/>
<rect x="199.30" y="569.70" width="41.90" height="9.00" fill="url(#tR)" stroke="none" stroke-width="0.5"/>
<rect x="241.20" y="569.70" width="113.60" height="9.00" fill="#CACACA" stroke="none" stroke-width="0.5"/>
<path d="M96.55,570.30 L100.85,574.20 L96.55,578.10 Z" fill="#000"/>
<path d="M173.75,570.30 L178.05,574.20 L173.75,578.10 Z" fill="#000"/>
<path d="M221.05,570.30 L225.35,574.20 L221.05,578.10 Z" fill="#000"/>
<path d="M295.45,570.30 L299.75,574.20 L295.45,578.10 Z" fill="#000"/>
<text x="52.40" y="590.40" font-size="6.5" text-anchor="start" fill="#1a1a1a" font-weight="normal">Chr. 12:37474237–37500799</text>
<rect x="51.90" y="592.50" width="98.10" height="9.00" fill="url(#pR)" stroke="none" stroke-width="0.5"/>
<rect x="150.00" y="592.50" width="49.30" height="9.00" fill="#CACACA" stroke="none" stroke-width="0.5"/>
<rect x="199.30" y="592.50" width="41.90" height="9.00" fill="url(#tR)" stroke="none" stroke-width="0.5"/>
<rect x="241.20" y="592.50" width="113.60" height="9.00" fill="#CACACA" stroke="none" stroke-width="0.5"/>
<path d="M96.55,593.10 L100.85,597.00 L96.55,600.90 Z" fill="#000"/>
<path d="M173.75,593.10 L178.05,597.00 L173.75,600.90 Z" fill="#000"/>
<path d="M221.05,593.10 L225.35,597.00 L221.05,600.90 Z" fill="#000"/>
<path d="M295.45,593.10 L299.75,597.00 L295.45,600.90 Z" fill="#000"/>
<text x="52.40" y="612.80" font-size="6.5" text-anchor="start" fill="#1a1a1a" font-weight="normal">Chr. 7:57996158–58022051</text>
<rect x="51.90" y="614.90" width="113.10" height="9.00" fill="#CACACA" stroke="none" stroke-width="0.5"/>
<rect x="165.00" y="614.90" width="42.00" height="9.00" fill="url(#tL)" stroke="none" stroke-width="0.5"/>
<rect x="207.00" y="614.90" width="49.50" height="9.00" fill="#CACACA" stroke="none" stroke-width="0.5"/>
<rect x="256.50" y="614.90" width="98.30" height="9.00" fill="url(#pL)" stroke="none" stroke-width="0.5"/>
<path d="M107.85,615.50 L103.55,619.40 L107.85,623.30 Z" fill="#000"/>
<path d="M185.95,615.50 L181.65,619.40 L185.95,623.30 Z" fill="#000"/>
<path d="M234.05,615.50 L229.75,619.40 L234.05,623.30 Z" fill="#000"/>
<path d="M312.65,615.50 L308.35,619.40 L312.65,623.30 Z" fill="#000"/>
<text x="52.40" y="635.70" font-size="6.5" text-anchor="start" fill="#1a1a1a" font-weight="normal">Chr. 20:25969270–25996359</text>
<rect x="51.90" y="637.80" width="113.10" height="9.00" fill="#CACACA" stroke="none" stroke-width="0.5"/>
<rect x="165.00" y="637.80" width="42.00" height="9.00" fill="url(#tL)" stroke="none" stroke-width="0.5"/>
<rect x="207.00" y="637.80" width="49.50" height="9.00" fill="#CACACA" stroke="none" stroke-width="0.5"/>
<rect x="256.50" y="637.80" width="98.30" height="9.00" fill="url(#pL)" stroke="none" stroke-width="0.5"/>
<path d="M107.85,638.40 L103.55,642.30 L107.85,646.20 Z" fill="#000"/>
<path d="M185.95,638.40 L181.65,642.30 L185.95,646.20 Z" fill="#000"/>
<path d="M234.05,638.40 L229.75,642.30 L234.05,646.20 Z" fill="#000"/>
<path d="M312.65,638.40 L308.35,642.30 L312.65,646.20 Z" fill="#000"/>
<text x="52.40" y="658.70" font-size="6.5" text-anchor="start" fill="#1a1a1a" font-weight="normal">Chr. 17:23346731–23381462</text>
<rect x="51.90" y="660.80" width="113.10" height="9.00" fill="#CACACA" stroke="none" stroke-width="0.5"/>
<rect x="165.00" y="660.80" width="42.00" height="9.00" fill="url(#tL)" stroke="none" stroke-width="0.5"/>
<rect x="207.00" y="660.80" width="147.80" height="9.00" fill="#CACACA" stroke="none" stroke-width="0.5"/>
<path d="M107.85,661.40 L103.55,665.30 L107.85,669.20 Z" fill="#000"/>
<path d="M185.95,661.40 L181.65,665.30 L185.95,669.20 Z" fill="#000"/>
<path d="M312.65,661.40 L308.35,665.30 L312.65,669.20 Z" fill="#000"/>
<rect x="266.70" y="659.30" width="3.2" height="12" fill="#fff"/>
<line x1="265.90" y1="670.80" x2="267.90" y2="659.80" stroke="#333" stroke-width="0.6"/>
<line x1="268.70" y1="670.80" x2="270.70" y2="659.80" stroke="#333" stroke-width="0.6"/>
<text x="52.40" y="682.00" font-size="6.5" text-anchor="start" fill="#1a1a1a" font-weight="normal">Chr. 17:28089270–28139112</text>
<rect x="53.60" y="683.60" width="37.40" height="10.00" fill="#CACACA" stroke="none" stroke-width="0.5"/>
<rect x="91.00" y="683.60" width="76.60" height="10.00" fill="url(#tR)" stroke="none" stroke-width="0.5"/>
<rect x="167.60" y="683.60" width="201.90" height="10.00" fill="#CACACA" stroke="none" stroke-width="0.5"/>
<path d="M69.15,684.70 L73.45,688.60 L69.15,692.50 Z" fill="#000"/>
<path d="M129.35,684.70 L133.65,688.60 L129.35,692.50 Z" fill="#000"/>
<path d="M217.15,684.70 L221.45,688.60 L217.15,692.50 Z" fill="#000"/>
<rect x="264.10" y="682.60" width="3.2" height="12" fill="#fff"/>
<line x1="263.30" y1="694.10" x2="265.30" y2="683.10" stroke="#333" stroke-width="0.6"/>
<line x1="266.10" y1="694.10" x2="268.10" y2="683.10" stroke="#333" stroke-width="0.6"/>
</g>
<rect x="346.00" y="660.80" width="24.00" height="9.00" fill="url(#tL)" stroke="none" stroke-width="0.5"/>
<path d="M361.65,661.40 L357.35,665.30 L361.65,669.20 Z" fill="#000"/>
<text x="108.30" y="675.50" font-size="6.5" text-anchor="middle" fill="#1a1a1a" font-weight="normal">9.76 kb</text>
<text x="186.50" y="675.50" font-size="6.5" text-anchor="middle" fill="#1a1a1a" font-weight="normal">3.7 kb</text>
<text x="311.90" y="675.50" font-size="6.5" text-anchor="middle" fill="#1a1a1a" font-weight="normal">19.7 kb</text>
<text x="360.50" y="674.50" font-size="6.5" text-anchor="middle" fill="#1a1a1a" font-weight="normal">1.7 kb</text>
<text x="76.60" y="700.50" font-size="6.5" text-anchor="middle" fill="#1a1a1a" font-weight="normal">3.7 kb</text>
<text x="132.90" y="700.50" font-size="6.5" text-anchor="middle" fill="#1a1a1a" font-weight="normal">7.1 kb</text>
<text x="219.70" y="700.50" font-size="6.5" text-anchor="middle" fill="#1a1a1a" font-weight="normal">38.9 kb</text>
<line x1="11.20" y1="708.50" x2="38.30" y2="708.50" stroke="#333" stroke-width="0.7"/>
<line x1="11.20" y1="706.80" x2="11.20" y2="710.20" stroke="#333" stroke-width="0.7"/>
<line x1="38.30" y1="706.80" x2="38.30" y2="710.20" stroke="#333" stroke-width="0.7"/>
<text x="24.50" y="716.50" font-size="6.5" text-anchor="middle" fill="#1a1a1a" font-weight="normal">0.020</text>
<line x1="47.30" y1="528.00" x2="52.00" y2="528.00" stroke="#333" stroke-width="0.7"/>
<line x1="47.30" y1="551.00" x2="52.00" y2="551.00" stroke="#333" stroke-width="0.7"/>
<line x1="47.30" y1="528.00" x2="47.30" y2="551.00" stroke="#333" stroke-width="0.7"/>
<line x1="46.20" y1="539.50" x2="47.30" y2="539.50" stroke="#333" stroke-width="0.7"/>
<line x1="46.20" y1="539.50" x2="46.20" y2="574.20" stroke="#333" stroke-width="0.7"/>
<line x1="46.20" y1="574.20" x2="52.00" y2="574.20" stroke="#333" stroke-width="0.7"/>
<line x1="42.80" y1="556.80" x2="46.20" y2="556.80" stroke="#333" stroke-width="0.7"/>
<line x1="42.80" y1="556.80" x2="42.80" y2="609.00" stroke="#333" stroke-width="0.7"/>
<line x1="44.60" y1="597.00" x2="52.00" y2="597.00" stroke="#333" stroke-width="0.7"/>
<line x1="44.60" y1="597.00" x2="44.60" y2="619.40" stroke="#333" stroke-width="0.7"/>
<line x1="44.60" y1="619.40" x2="52.00" y2="619.40" stroke="#333" stroke-width="0.7"/>
<line x1="42.80" y1="608.00" x2="44.60" y2="608.00" stroke="#333" stroke-width="0.7"/>
<line x1="41.60" y1="583.00" x2="42.80" y2="583.00" stroke="#333" stroke-width="0.7"/>
<line x1="41.60" y1="583.00" x2="41.60" y2="642.30" stroke="#333" stroke-width="0.7"/>
<line x1="41.60" y1="642.30" x2="52.00" y2="642.30" stroke="#333" stroke-width="0.7"/>
<line x1="40.20" y1="612.00" x2="41.60" y2="612.00" stroke="#333" stroke-width="0.7"/>
<line x1="40.20" y1="612.00" x2="40.20" y2="665.30" stroke="#333" stroke-width="0.7"/>
<line x1="40.20" y1="665.30" x2="52.00" y2="665.30" stroke="#333" stroke-width="0.7"/>
<line x1="2.30" y1="638.50" x2="40.20" y2="638.50" stroke="#333" stroke-width="0.7"/>
<line x1="2.30" y1="638.50" x2="2.30" y2="688.60" stroke="#333" stroke-width="0.7"/>
<line x1="2.30" y1="688.60" x2="53.60" y2="688.60" stroke="#333" stroke-width="0.7"/>
<text x="45.00" y="539.00" font-size="6.2" text-anchor="end" fill="#1a1a1a" font-weight="normal">88</text>
<text x="42.80" y="553.50" font-size="6.2" text-anchor="end" fill="#1a1a1a" font-weight="normal">100</text>
<text x="38.40" y="584.80" font-size="6.2" text-anchor="end" fill="#1a1a1a" font-weight="normal">92</text>
<text x="40.20" y="607.80" font-size="6.2" text-anchor="end" fill="#1a1a1a" font-weight="normal">100</text>
<text x="37.90" y="615.60" font-size="6.2" text-anchor="end" fill="#1a1a1a" font-weight="normal">98</text>
<text x="545.80" y="341.60" font-size="6.5" text-anchor="middle" fill="#1a1a1a" font-weight="normal">Average SST1 hits per genome: 420.20</text>
<text x="542.20" y="354.20" font-size="6.5" text-anchor="end" fill="#1a1a1a" font-weight="normal">Overlaps between SDs and</text>
<rect x="546.60" y="348.00" width="7.90" height="7.80" fill="#DADADA" stroke="#A8A8A8" stroke-width="0.5"/>
<text x="557.70" y="351.70" font-size="6.5" text-anchor="start" fill="#1a1a1a" font-weight="normal">Random</text>
<text x="557.70" y="358.50" font-size="6.5" text-anchor="start" fill="#1a1a1a" font-weight="normal">regions</text>
<rect x="588.90" y="348.00" width="7.90" height="7.80" fill="#EFB6E4" stroke="#CF3FB5" stroke-width="0.6"/>
<text x="600.60" y="354.20" font-size="6.5" text-anchor="start" fill="#1a1a1a" font-weight="normal">SST1</text>
<rect x="422.80" y="424.10" width="2.60" height="4.20" fill="#DADADA" stroke="#A8A8A8" stroke-width="0.6"/>
<rect x="425.40" y="406.30" width="2.80" height="22.00" fill="#DADADA" stroke="#A8A8A8" stroke-width="0.6"/>
<rect x="428.20" y="392.40" width="2.70" height="35.90" fill="#DADADA" stroke="#A8A8A8" stroke-width="0.6"/>
<rect x="430.90" y="375.10" width="2.50" height="53.20" fill="#DADADA" stroke="#A8A8A8" stroke-width="0.6"/>
<rect x="433.40" y="387.90" width="2.80" height="40.40" fill="#DADADA" stroke="#A8A8A8" stroke-width="0.6"/>
<rect x="436.20" y="386.40" width="2.60" height="41.90" fill="#DADADA" stroke="#A8A8A8" stroke-width="0.6"/>
<rect x="438.80" y="418.20" width="2.80" height="10.10" fill="#DADADA" stroke="#A8A8A8" stroke-width="0.6"/>
<rect x="441.60" y="424.10" width="2.40" height="4.20" fill="#DADADA" stroke="#A8A8A8" stroke-width="0.6"/>
<rect x="485.10" y="426.80" width="2.60" height="1.50" fill="#EFB6E4" stroke="#CF3FB5" stroke-width="0.6"/>
<rect x="490.40" y="423.90" width="3.30" height="4.40" fill="#EFB6E4" stroke="#CF3FB5" stroke-width="0.6"/>
<rect x="495.60" y="427.10" width="2.90" height="1.20" fill="#EFB6E4" stroke="#CF3FB5" stroke-width="0.6"/>
<rect x="500.00" y="427.50" width="3.30" height="0.80" fill="#EFB6E4" stroke="#CF3FB5" stroke-width="0.6"/>
<rect x="503.30" y="425.20" width="2.90" height="3.10" fill="#EFB6E4" stroke="#CF3FB5" stroke-width="0.6"/>
<rect x="506.20" y="425.60" width="2.40" height="2.70" fill="#EFB6E4" stroke="#CF3FB5" stroke-width="0.6"/>
<rect x="508.60" y="425.50" width="2.70" height="2.80" fill="#EFB6E4" stroke="#CF3FB5" stroke-width="0.6"/>
<rect x="513.00" y="426.50" width="2.50" height="1.80" fill="#EFB6E4" stroke="#CF3FB5" stroke-width="0.6"/>
<rect x="516.00" y="425.80" width="2.50" height="2.50" fill="#EFB6E4" stroke="#CF3FB5" stroke-width="0.6"/>
<rect x="518.50" y="426.50" width="2.50" height="1.80" fill="#EFB6E4" stroke="#CF3FB5" stroke-width="0.6"/>
<rect x="521.00" y="421.20" width="2.70" height="7.10" fill="#EFB6E4" stroke="#CF3FB5" stroke-width="0.6"/>
<rect x="523.70" y="422.30" width="2.90" height="6.00" fill="#EFB6E4" stroke="#CF3FB5" stroke-width="0.6"/>
<rect x="526.60" y="426.50" width="2.40" height="1.80" fill="#EFB6E4" stroke="#CF3FB5" stroke-width="0.6"/>
<rect x="529.00" y="423.90" width="2.70" height="4.40" fill="#EFB6E4" stroke="#CF3FB5" stroke-width="0.6"/>
<rect x="532.00" y="426.00" width="2.60" height="2.30" fill="#EFB6E4" stroke="#CF3FB5" stroke-width="0.6"/>
<rect x="534.60" y="423.90" width="2.60" height="4.40" fill="#EFB6E4" stroke="#CF3FB5" stroke-width="0.6"/>
<rect x="537.20" y="423.90" width="2.50" height="4.40" fill="#EFB6E4" stroke="#CF3FB5" stroke-width="0.6"/>
<rect x="539.70" y="421.20" width="2.90" height="7.10" fill="#EFB6E4" stroke="#CF3FB5" stroke-width="0.6"/>
<rect x="542.60" y="426.50" width="2.40" height="1.80" fill="#EFB6E4" stroke="#CF3FB5" stroke-width="0.6"/>
<rect x="545.00" y="418.30" width="2.80" height="10.00" fill="#EFB6E4" stroke="#CF3FB5" stroke-width="0.6"/>
<rect x="547.80" y="425.00" width="2.50" height="3.30" fill="#EFB6E4" stroke="#CF3FB5" stroke-width="0.6"/>
<rect x="550.30" y="419.40" width="2.70" height="8.90" fill="#EFB6E4" stroke="#CF3FB5" stroke-width="0.6"/>
<rect x="553.00" y="421.00" width="3.00" height="7.30" fill="#EFB6E4" stroke="#CF3FB5" stroke-width="0.6"/>
<rect x="556.00" y="421.00" width="3.00" height="7.30" fill="#EFB6E4" stroke="#CF3FB5" stroke-width="0.6"/>
<rect x="559.00" y="421.00" width="2.10" height="7.30" fill="#EFB6E4" stroke="#CF3FB5" stroke-width="0.6"/>
<rect x="561.10" y="419.40" width="2.40" height="8.90" fill="#EFB6E4" stroke="#CF3FB5" stroke-width="0.6"/>
<rect x="563.50" y="419.60" width="2.40" height="8.70" fill="#EFB6E4" stroke="#CF3FB5" stroke-width="0.6"/>
<rect x="565.90" y="424.00" width="2.40" height="4.30" fill="#EFB6E4" stroke="#CF3FB5" stroke-width="0.6"/>
<rect x="568.30" y="422.30" width="2.90" height="6.00" fill="#EFB6E4" stroke="#CF3FB5" stroke-width="0.6"/>
<rect x="571.20" y="422.30" width="2.80" height="6.00" fill="#EFB6E4" stroke="#CF3FB5" stroke-width="0.6"/>
<rect x="574.00" y="424.00" width="2.00" height="4.30" fill="#EFB6E4" stroke="#CF3FB5" stroke-width="0.6"/>
<rect x="576.00" y="418.30" width="2.80" height="10.00" fill="#EFB6E4" stroke="#CF3FB5" stroke-width="0.6"/>
<rect x="578.80" y="425.00" width="2.70" height="3.30" fill="#EFB6E4" stroke="#CF3FB5" stroke-width="0.6"/>
<rect x="581.50" y="422.30" width="2.90" height="6.00" fill="#EFB6E4" stroke="#CF3FB5" stroke-width="0.6"/>
<rect x="584.40" y="423.00" width="2.60" height="5.30" fill="#EFB6E4" stroke="#CF3FB5" stroke-width="0.6"/>
<rect x="587.00" y="424.50" width="2.50" height="3.80" fill="#EFB6E4" stroke="#CF3FB5" stroke-width="0.6"/>
<rect x="591.50" y="419.50" width="3.40" height="8.80" fill="#EFB6E4" stroke="#CF3FB5" stroke-width="0.6"/>
<rect x="594.90" y="424.00" width="2.60" height="4.30" fill="#EFB6E4" stroke="#CF3FB5" stroke-width="0.6"/>
<rect x="599.20" y="424.10" width="3.50" height="4.20" fill="#EFB6E4" stroke="#CF3FB5" stroke-width="0.6"/>
<rect x="604.50" y="424.10" width="3.40" height="4.20" fill="#EFB6E4" stroke="#CF3FB5" stroke-width="0.6"/>
<rect x="607.90" y="426.00" width="2.60" height="2.30" fill="#EFB6E4" stroke="#CF3FB5" stroke-width="0.6"/>
<rect x="610.50" y="427.00" width="2.50" height="1.30" fill="#EFB6E4" stroke="#CF3FB5" stroke-width="0.6"/>
<rect x="615.00" y="425.30" width="3.00" height="3.00" fill="#EFB6E4" stroke="#CF3FB5" stroke-width="0.6"/>
<rect x="618.00" y="427.00" width="3.00" height="1.30" fill="#EFB6E4" stroke="#CF3FB5" stroke-width="0.6"/>
<rect x="622.90" y="425.30" width="2.80" height="3.00" fill="#EFB6E4" stroke="#CF3FB5" stroke-width="0.6"/>
<rect x="628.30" y="427.00" width="2.70" height="1.30" fill="#EFB6E4" stroke="#CF3FB5" stroke-width="0.6"/>
<rect x="631.00" y="427.00" width="2.70" height="1.30" fill="#EFB6E4" stroke="#CF3FB5" stroke-width="0.6"/>
<rect x="633.70" y="427.00" width="2.70" height="1.30" fill="#EFB6E4" stroke="#CF3FB5" stroke-width="0.6"/>
<rect x="638.20" y="427.00" width="3.40" height="1.30" fill="#EFB6E4" stroke="#CF3FB5" stroke-width="0.6"/>
<rect x="651.30" y="427.00" width="3.30" height="1.30" fill="#EFB6E4" stroke="#CF3FB5" stroke-width="0.6"/>
<rect x="672.00" y="427.00" width="3.80" height="1.30" fill="#EFB6E4" stroke="#CF3FB5" stroke-width="0.6"/>
<line x1="422.80" y1="428.00" x2="676.00" y2="428.00" stroke="#CF3FB5" stroke-width="0.9"/>
<line x1="414.00" y1="364.40" x2="414.00" y2="428.30" stroke="#666" stroke-width="0.8"/>
<line x1="410.50" y1="428.30" x2="676.50" y2="428.30" stroke="#555" stroke-width="0.8"/>
<line x1="411.00" y1="368.40" x2="414.00" y2="368.40" stroke="#666" stroke-width="0.7"/>
<text x="407.70" y="370.70" font-size="6.5" text-anchor="end" fill="#1a1a1a" font-weight="normal">0.08</text>
<line x1="411.00" y1="383.30" x2="414.00" y2="383.30" stroke="#666" stroke-width="0.7"/>
<text x="407.70" y="385.60" font-size="6.5" text-anchor="end" fill="#1a1a1a" font-weight="normal">0.06</text>
<line x1="411.00" y1="398.20" x2="414.00" y2="398.20" stroke="#666" stroke-width="0.7"/>
<text x="407.70" y="400.50" font-size="6.5" text-anchor="end" fill="#1a1a1a" font-weight="normal">0.04</text>
<line x1="411.00" y1="413.20" x2="414.00" y2="413.20" stroke="#666" stroke-width="0.7"/>
<text x="407.70" y="415.50" font-size="6.5" text-anchor="end" fill="#1a1a1a" font-weight="normal">0.02</text>
<line x1="411.00" y1="428.30" x2="414.00" y2="428.30" stroke="#666" stroke-width="0.7"/>
<text x="407.70" y="430.60" font-size="6.5" text-anchor="end" fill="#1a1a1a" font-weight="normal">0</text>
<line x1="414.00" y1="428.30" x2="414.00" y2="430.90" stroke="#666" stroke-width="0.7"/>
<text x="414.00" y="439.60" font-size="6.5" text-anchor="middle" fill="#1a1a1a" font-weight="normal">0</text>
<line x1="428.49" y1="428.30" x2="428.49" y2="430.90" stroke="#666" stroke-width="0.7"/>
<text x="428.49" y="439.60" font-size="6.5" text-anchor="middle" fill="#1a1a1a" font-weight="normal">20</text>
<line x1="442.98" y1="428.30" x2="442.98" y2="430.90" stroke="#666" stroke-width="0.7"/>
<text x="442.98" y="439.60" font-size="6.5" text-anchor="middle" fill="#1a1a1a" font-weight="normal">40</text>
<line x1="457.47" y1="428.30" x2="457.47" y2="430.90" stroke="#666" stroke-width="0.7"/>
<text x="457.47" y="439.60" font-size="6.5" text-anchor="middle" fill="#1a1a1a" font-weight="normal">60</text>
<line x1="471.96" y1="428.30" x2="471.96" y2="430.90" stroke="#666" stroke-width="0.7"/>
<text x="471.96" y="439.60" font-size="6.5" text-anchor="middle" fill="#1a1a1a" font-weight="normal">80</text>
<line x1="486.45" y1="428.30" x2="486.45" y2="430.90" stroke="#666" stroke-width="0.7"/>
<text x="486.45" y="439.60" font-size="6.5" text-anchor="middle" fill="#1a1a1a" font-weight="normal">100</text>
<line x1="500.94" y1="428.30" x2="500.94" y2="430.90" stroke="#666" stroke-width="0.7"/>
<text x="500.94" y="439.60" font-size="6.5" text-anchor="middle" fill="#1a1a1a" font-weight="normal">120</text>
<line x1="515.43" y1="428.30" x2="515.43" y2="430.90" stroke="#666" stroke-width="0.7"/>
<text x="515.43" y="439.60" font-size="6.5" text-anchor="middle" fill="#1a1a1a" font-weight="normal">140</text>
<line x1="529.92" y1="428.30" x2="529.92" y2="430.90" stroke="#666" stroke-width="0.7"/>
<text x="529.92" y="439.60" font-size="6.5" text-anchor="middle" fill="#1a1a1a" font-weight="normal">160</text>
<line x1="544.41" y1="428.30" x2="544.41" y2="430.90" stroke="#666" stroke-width="0.7"/>
<text x="544.41" y="439.60" font-size="6.5" text-anchor="middle" fill="#1a1a1a" font-weight="normal">180</text>
<line x1="558.90" y1="428.30" x2="558.90" y2="430.90" stroke="#666" stroke-width="0.7"/>
<text x="558.90" y="439.60" font-size="6.5" text-anchor="middle" fill="#1a1a1a" font-weight="normal">200</text>
<line x1="573.39" y1="428.30" x2="573.39" y2="430.90" stroke="#666" stroke-width="0.7"/>
<text x="573.39" y="439.60" font-size="6.5" text-anchor="middle" fill="#1a1a1a" font-weight="normal">220</text>
<line x1="587.88" y1="428.30" x2="587.88" y2="430.90" stroke="#666" stroke-width="0.7"/>
<text x="587.88" y="439.60" font-size="6.5" text-anchor="middle" fill="#1a1a1a" font-weight="normal">240</text>
<line x1="602.37" y1="428.30" x2="602.37" y2="430.90" stroke="#666" stroke-width="0.7"/>
<text x="602.37" y="439.60" font-size="6.5" text-anchor="middle" fill="#1a1a1a" font-weight="normal">260</text>
<line x1="616.86" y1="428.30" x2="616.86" y2="430.90" stroke="#666" stroke-width="0.7"/>
<text x="616.86" y="439.60" font-size="6.5" text-anchor="middle" fill="#1a1a1a" font-weight="normal">280</text>
<line x1="631.35" y1="428.30" x2="631.35" y2="430.90" stroke="#666" stroke-width="0.7"/>
<text x="631.35" y="439.60" font-size="6.5" text-anchor="middle" fill="#1a1a1a" font-weight="normal">300</text>
<line x1="645.84" y1="428.30" x2="645.84" y2="430.90" stroke="#666" stroke-width="0.7"/>
<text x="645.84" y="439.60" font-size="6.5" text-anchor="middle" fill="#1a1a1a" font-weight="normal">320</text>
<line x1="660.33" y1="428.30" x2="660.33" y2="430.90" stroke="#666" stroke-width="0.7"/>
<text x="660.33" y="439.60" font-size="6.5" text-anchor="middle" fill="#1a1a1a" font-weight="normal">340</text>
<line x1="674.82" y1="428.30" x2="674.82" y2="430.90" stroke="#666" stroke-width="0.7"/>
<text x="674.82" y="439.60" font-size="6.5" text-anchor="middle" fill="#1a1a1a" font-weight="normal">360</text>
<line x1="432.90" y1="364.50" x2="432.90" y2="428.30" stroke="#999" stroke-width="0.8" stroke-dasharray="2.6,1.4"/>
<line x1="561.80" y1="365.00" x2="561.80" y2="428.30" stroke="#C93BB0" stroke-width="1.3" stroke-dasharray="3,1.8"/>
<line x1="433.40" y1="369.30" x2="561.80" y2="369.30" stroke="#888" stroke-width="0.8"/>
<text x="500.50" y="366.50" font-size="6.5" text-anchor="middle" fill="#1a1a1a" font-weight="normal"><tspan font-style="italic">P</tspan> = 7.23 × 10<tspan dy="-2.2" font-size="4.6">−26</tspan></text>
<text x="546.00" y="451.20" font-size="6.5" text-anchor="middle" fill="#1a1a1a" font-weight="normal">Number of overlaps</text>
<text x="387.50" y="398.50" font-size="6.5" text-anchor="middle" fill="#1a1a1a" font-weight="normal" transform="rotate(-90 387.50 398.50)">Density</text>
<text x="549.00" y="465.50" font-size="6.5" text-anchor="middle" fill="#1a1a1a" font-weight="normal">Average SST1-sf1 hits per genome: 120.10</text>
<text x="542.20" y="477.70" font-size="6.5" text-anchor="end" fill="#1a1a1a" font-weight="normal">Overlaps between SDs and</text>
<rect x="546.60" y="471.50" width="7.90" height="7.80" fill="#DADADA" stroke="#A8A8A8" stroke-width="0.5"/>
<text x="557.70" y="475.20" font-size="6.5" text-anchor="start" fill="#1a1a1a" font-weight="normal">Random</text>
<text x="557.70" y="482.00" font-size="6.5" text-anchor="start" fill="#1a1a1a" font-weight="normal">regions</text>
<rect x="588.90" y="471.50" width="7.90" height="7.80" fill="#EFB6E4" stroke="#CF3FB5" stroke-width="0.6"/>
<text x="600.60" y="477.70" font-size="6.5" text-anchor="start" fill="#1a1a1a" font-weight="normal">SST1-sf1</text>
<rect x="423.80" y="553.20" width="2.00" height="1.10" fill="#DADADA" stroke="#A8A8A8" stroke-width="0.6"/>
<rect x="425.80" y="538.30" width="2.30" height="16.00" fill="#DADADA" stroke="#A8A8A8" stroke-width="0.6"/>
<rect x="428.10" y="529.30" width="2.60" height="25.00" fill="#DADADA" stroke="#A8A8A8" stroke-width="0.6"/>
<rect x="430.70" y="501.20" width="2.80" height="53.10" fill="#DADADA" stroke="#A8A8A8" stroke-width="0.6"/>
<rect x="433.50" y="508.10" width="2.50" height="46.20" fill="#DADADA" stroke="#A8A8A8" stroke-width="0.6"/>
<rect x="436.00" y="537.20" width="2.70" height="17.10" fill="#DADADA" stroke="#A8A8A8" stroke-width="0.6"/>
<rect x="438.70" y="546.20" width="2.40" height="8.10" fill="#DADADA" stroke="#A8A8A8" stroke-width="0.6"/>
<rect x="431.50" y="552.80" width="2.50" height="1.50" fill="#EFB6E4" stroke="#CF3FB5" stroke-width="0.6"/>
<rect x="445.00" y="551.50" width="4.00" height="2.80" fill="#EFB6E4" stroke="#CF3FB5" stroke-width="0.6"/>
<rect x="449.00" y="553.00" width="2.50" height="1.30" fill="#EFB6E4" stroke="#CF3FB5" stroke-width="0.6"/>
<rect x="458.00" y="551.50" width="3.50" height="2.80" fill="#EFB6E4" stroke="#CF3FB5" stroke-width="0.6"/>
<rect x="470.00" y="549.40" width="3.20" height="4.90" fill="#EFB6E4" stroke="#CF3FB5" stroke-width="0.6"/>
<rect x="473.20" y="552.00" width="2.80" height="2.30" fill="#EFB6E4" stroke="#CF3FB5" stroke-width="0.6"/>
<rect x="478.00" y="553.20" width="3.00" height="1.10" fill="#EFB6E4" stroke="#CF3FB5" stroke-width="0.6"/>
<rect x="481.00" y="553.20" width="3.00" height="1.10" fill="#EFB6E4" stroke="#CF3FB5" stroke-width="0.6"/>
<rect x="484.00" y="553.20" width="3.00" height="1.10" fill="#EFB6E4" stroke="#CF3FB5" stroke-width="0.6"/>
<rect x="487.00" y="553.20" width="3.00" height="1.10" fill="#EFB6E4" stroke="#CF3FB5" stroke-width="0.6"/>
<rect x="490.00" y="551.50" width="3.00" height="2.80" fill="#EFB6E4" stroke="#CF3FB5" stroke-width="0.6"/>
<rect x="493.00" y="550.50" width="2.50" height="3.80" fill="#EFB6E4" stroke="#CF3FB5" stroke-width="0.6"/>
<rect x="495.50" y="553.00" width="2.50" height="1.30" fill="#EFB6E4" stroke="#CF3FB5" stroke-width="0.6"/>
<rect x="500.00" y="547.40" width="3.60" height="6.90" fill="#EFB6E4" stroke="#CF3FB5" stroke-width="0.6"/>
<rect x="507.00" y="553.20" width="3.00" height="1.10" fill="#EFB6E4" stroke="#CF3FB5" stroke-width="0.6"/>
<rect x="510.00" y="553.00" width="3.00" height="1.30" fill="#EFB6E4" stroke="#CF3FB5" stroke-width="0.6"/>
<rect x="513.00" y="553.20" width="3.00" height="1.10" fill="#EFB6E4" stroke="#CF3FB5" stroke-width="0.6"/>
<rect x="518.00" y="550.70" width="3.00" height="3.60" fill="#EFB6E4" stroke="#CF3FB5" stroke-width="0.6"/>
<rect x="521.00" y="552.00" width="3.00" height="2.30" fill="#EFB6E4" stroke="#CF3FB5" stroke-width="0.6"/>
<rect x="524.00" y="550.70" width="3.00" height="3.60" fill="#EFB6E4" stroke="#CF3FB5" stroke-width="0.6"/>
<rect x="527.00" y="550.70" width="3.00" height="3.60" fill="#EFB6E4" stroke="#CF3FB5" stroke-width="0.6"/>
<rect x="530.00" y="553.00" width="3.00" height="1.30" fill="#EFB6E4" stroke="#CF3FB5" stroke-width="0.6"/>
<rect x="533.00" y="552.00" width="3.00" height="2.30" fill="#EFB6E4" stroke="#CF3FB5" stroke-width="0.6"/>
<rect x="536.00" y="549.40" width="3.00" height="4.90" fill="#EFB6E4" stroke="#CF3FB5" stroke-width="0.6"/>
<rect x="539.00" y="549.40" width="2.50" height="4.90" fill="#EFB6E4" stroke="#CF3FB5" stroke-width="0.6"/>
<rect x="541.50" y="553.00" width="2.50" height="1.30" fill="#EFB6E4" stroke="#CF3FB5" stroke-width="0.6"/>
<rect x="542.00" y="548.30" width="3.00" height="6.00" fill="#EFB6E4" stroke="#CF3FB5" stroke-width="0.6"/>
<rect x="545.00" y="553.00" width="3.00" height="1.30" fill="#EFB6E4" stroke="#CF3FB5" stroke-width="0.6"/>
<rect x="548.00" y="550.70" width="3.00" height="3.60" fill="#EFB6E4" stroke="#CF3FB5" stroke-width="0.6"/>
<rect x="551.00" y="552.00" width="3.00" height="2.30" fill="#EFB6E4" stroke="#CF3FB5" stroke-width="0.6"/>
<rect x="554.00" y="551.00" width="3.00" height="3.30" fill="#EFB6E4" stroke="#CF3FB5" stroke-width="0.6"/>
<rect x="560.00" y="548.30" width="3.00" height="6.00" fill="#EFB6E4" stroke="#CF3FB5" stroke-width="0.6"/>
<rect x="563.00" y="548.30" width="3.00" height="6.00" fill="#EFB6E4" stroke="#CF3FB5" stroke-width="0.6"/>
<rect x="566.00" y="550.70" width="2.50" height="3.60" fill="#EFB6E4" stroke="#CF3FB5" stroke-width="0.6"/>
<rect x="570.00" y="548.30" width="3.00" height="6.00" fill="#EFB6E4" stroke="#CF3FB5" stroke-width="0.6"/>
<rect x="573.00" y="549.40" width="2.50" height="4.90" fill="#EFB6E4" stroke="#CF3FB5" stroke-width="0.6"/>
<rect x="575.50" y="549.40" width="2.50" height="4.90" fill="#EFB6E4" stroke="#CF3FB5" stroke-width="0.6"/>
<rect x="578.00" y="551.00" width="5.00" height="3.30" fill="#EFB6E4" stroke="#CF3FB5" stroke-width="0.6"/>
<rect x="585.00" y="551.50" width="3.00" height="2.80" fill="#EFB6E4" stroke="#CF3FB5" stroke-width="0.6"/>
<rect x="588.00" y="551.00" width="4.00" height="3.30" fill="#EFB6E4" stroke="#CF3FB5" stroke-width="0.6"/>
<rect x="592.00" y="551.50" width="6.00" height="2.80" fill="#EFB6E4" stroke="#CF3FB5" stroke-width="0.6"/>
<rect x="598.00" y="552.50" width="5.00" height="1.80" fill="#EFB6E4" stroke="#CF3FB5" stroke-width="0.6"/>
<rect x="610.00" y="549.00" width="3.00" height="5.30" fill="#EFB6E4" stroke="#CF3FB5" stroke-width="0.6"/>
<rect x="613.00" y="553.00" width="3.00" height="1.30" fill="#EFB6E4" stroke="#CF3FB5" stroke-width="0.6"/>
<rect x="616.00" y="553.20" width="4.00" height="1.10" fill="#EFB6E4" stroke="#CF3FB5" stroke-width="0.6"/>
<rect x="623.00" y="552.00" width="4.00" height="2.30" fill="#EFB6E4" stroke="#CF3FB5" stroke-width="0.6"/>
<rect x="629.00" y="552.00" width="5.00" height="2.30" fill="#EFB6E4" stroke="#CF3FB5" stroke-width="0.6"/>
<rect x="638.00" y="550.70" width="4.00" height="3.60" fill="#EFB6E4" stroke="#CF3FB5" stroke-width="0.6"/>
<rect x="657.00" y="552.00" width="5.00" height="2.30" fill="#EFB6E4" stroke="#CF3FB5" stroke-width="0.6"/>
<rect x="672.00" y="553.00" width="4.00" height="1.30" fill="#EFB6E4" stroke="#CF3FB5" stroke-width="0.6"/>
<line x1="423.80" y1="554.00" x2="676.00" y2="554.00" stroke="#CF3FB5" stroke-width="0.9"/>
<line x1="414.00" y1="489.30" x2="414.00" y2="554.30" stroke="#666" stroke-width="0.8"/>
<line x1="410.50" y1="554.30" x2="682.50" y2="554.30" stroke="#555" stroke-width="0.8"/>
<line x1="411.00" y1="496.20" x2="414.00" y2="496.20" stroke="#666" stroke-width="0.7"/>
<text x="407.70" y="498.50" font-size="6.5" text-anchor="end" fill="#1a1a1a" font-weight="normal">0.15</text>
<line x1="411.00" y1="515.50" x2="414.00" y2="515.50" stroke="#666" stroke-width="0.7"/>
<text x="407.70" y="517.80" font-size="6.5" text-anchor="end" fill="#1a1a1a" font-weight="normal">0.10</text>
<line x1="411.00" y1="534.80" x2="414.00" y2="534.80" stroke="#666" stroke-width="0.7"/>
<text x="407.70" y="537.10" font-size="6.5" text-anchor="end" fill="#1a1a1a" font-weight="normal">0.05</text>
<line x1="411.00" y1="554.30" x2="414.00" y2="554.30" stroke="#666" stroke-width="0.7"/>
<text x="407.70" y="556.60" font-size="6.5" text-anchor="end" fill="#1a1a1a" font-weight="normal">0</text>
<line x1="413.90" y1="554.30" x2="413.90" y2="556.90" stroke="#666" stroke-width="0.7"/>
<text x="416.20" y="559.50" font-size="6.5" text-anchor="end" fill="#1a1a1a" font-weight="normal" transform="rotate(-90 416.20 559.50)">−10</text>
<line x1="424.60" y1="554.30" x2="424.60" y2="556.90" stroke="#666" stroke-width="0.7"/>
<text x="426.90" y="559.50" font-size="6.5" text-anchor="end" fill="#1a1a1a" font-weight="normal" transform="rotate(-90 426.90 559.50)">0</text>
<line x1="435.31" y1="554.30" x2="435.31" y2="556.90" stroke="#666" stroke-width="0.7"/>
<text x="437.61" y="559.50" font-size="6.5" text-anchor="end" fill="#1a1a1a" font-weight="normal" transform="rotate(-90 437.61 559.50)">10</text>
<line x1="446.01" y1="554.30" x2="446.01" y2="556.90" stroke="#666" stroke-width="0.7"/>
<text x="448.31" y="559.50" font-size="6.5" text-anchor="end" fill="#1a1a1a" font-weight="normal" transform="rotate(-90 448.31 559.50)">20</text>
<line x1="456.72" y1="554.30" x2="456.72" y2="556.90" stroke="#666" stroke-width="0.7"/>
<text x="459.02" y="559.50" font-size="6.5" text-anchor="end" fill="#1a1a1a" font-weight="normal" transform="rotate(-90 459.02 559.50)">30</text>
<line x1="467.42" y1="554.30" x2="467.42" y2="556.90" stroke="#666" stroke-width="0.7"/>
<text x="469.72" y="559.50" font-size="6.5" text-anchor="end" fill="#1a1a1a" font-weight="normal" transform="rotate(-90 469.72 559.50)">40</text>
<line x1="478.12" y1="554.30" x2="478.12" y2="556.90" stroke="#666" stroke-width="0.7"/>
<text x="480.43" y="559.50" font-size="6.5" text-anchor="end" fill="#1a1a1a" font-weight="normal" transform="rotate(-90 480.43 559.50)">50</text>
<line x1="488.83" y1="554.30" x2="488.83" y2="556.90" stroke="#666" stroke-width="0.7"/>
<text x="491.13" y="559.50" font-size="6.5" text-anchor="end" fill="#1a1a1a" font-weight="normal" transform="rotate(-90 491.13 559.50)">60</text>
<line x1="499.54" y1="554.30" x2="499.54" y2="556.90" stroke="#666" stroke-width="0.7"/>
<text x="501.84" y="559.50" font-size="6.5" text-anchor="end" fill="#1a1a1a" font-weight="normal" transform="rotate(-90 501.84 559.50)">70</text>
<line x1="510.24" y1="554.30" x2="510.24" y2="556.90" stroke="#666" stroke-width="0.7"/>
<text x="512.54" y="559.50" font-size="6.5" text-anchor="end" fill="#1a1a1a" font-weight="normal" transform="rotate(-90 512.54 559.50)">80</text>
<line x1="520.95" y1="554.30" x2="520.95" y2="556.90" stroke="#666" stroke-width="0.7"/>
<text x="523.25" y="559.50" font-size="6.5" text-anchor="end" fill="#1a1a1a" font-weight="normal" transform="rotate(-90 523.25 559.50)">90</text>
<line x1="531.65" y1="554.30" x2="531.65" y2="556.90" stroke="#666" stroke-width="0.7"/>
<text x="533.95" y="559.50" font-size="6.5" text-anchor="end" fill="#1a1a1a" font-weight="normal" transform="rotate(-90 533.95 559.50)">100</text>
<line x1="542.36" y1="554.30" x2="542.36" y2="556.90" stroke="#666" stroke-width="0.7"/>
<text x="544.65" y="559.50" font-size="6.5" text-anchor="end" fill="#1a1a1a" font-weight="normal" transform="rotate(-90 544.65 559.50)">110</text>
<line x1="553.06" y1="554.30" x2="553.06" y2="556.90" stroke="#666" stroke-width="0.7"/>
<text x="555.36" y="559.50" font-size="6.5" text-anchor="end" fill="#1a1a1a" font-weight="normal" transform="rotate(-90 555.36 559.50)">120</text>
<line x1="563.76" y1="554.30" x2="563.76" y2="556.90" stroke="#666" stroke-width="0.7"/>
<text x="566.06" y="559.50" font-size="6.5" text-anchor="end" fill="#1a1a1a" font-weight="normal" transform="rotate(-90 566.06 559.50)">130</text>
<line x1="574.47" y1="554.30" x2="574.47" y2="556.90" stroke="#666" stroke-width="0.7"/>
<text x="576.77" y="559.50" font-size="6.5" text-anchor="end" fill="#1a1a1a" font-weight="normal" transform="rotate(-90 576.77 559.50)">140</text>
<line x1="585.17" y1="554.30" x2="585.17" y2="556.90" stroke="#666" stroke-width="0.7"/>
<text x="587.47" y="559.50" font-size="6.5" text-anchor="end" fill="#1a1a1a" font-weight="normal" transform="rotate(-90 587.47 559.50)">150</text>
<line x1="595.88" y1="554.30" x2="595.88" y2="556.90" stroke="#666" stroke-width="0.7"/>
<text x="598.18" y="559.50" font-size="6.5" text-anchor="end" fill="#1a1a1a" font-weight="normal" transform="rotate(-90 598.18 559.50)">160</text>
<line x1="606.59" y1="554.30" x2="606.59" y2="556.90" stroke="#666" stroke-width="0.7"/>
<text x="608.88" y="559.50" font-size="6.5" text-anchor="end" fill="#1a1a1a" font-weight="normal" transform="rotate(-90 608.88 559.50)">170</text>
<line x1="617.29" y1="554.30" x2="617.29" y2="556.90" stroke="#666" stroke-width="0.7"/>
<text x="619.59" y="559.50" font-size="6.5" text-anchor="end" fill="#1a1a1a" font-weight="normal" transform="rotate(-90 619.59 559.50)">180</text>
<line x1="628.00" y1="554.30" x2="628.00" y2="556.90" stroke="#666" stroke-width="0.7"/>
<text x="630.29" y="559.50" font-size="6.5" text-anchor="end" fill="#1a1a1a" font-weight="normal" transform="rotate(-90 630.29 559.50)">190</text>
<line x1="638.70" y1="554.30" x2="638.70" y2="556.90" stroke="#666" stroke-width="0.7"/>
<text x="641.00" y="559.50" font-size="6.5" text-anchor="end" fill="#1a1a1a" font-weight="normal" transform="rotate(-90 641.00 559.50)">200</text>
<line x1="649.40" y1="554.30" x2="649.40" y2="556.90" stroke="#666" stroke-width="0.7"/>
<text x="651.70" y="559.50" font-size="6.5" text-anchor="end" fill="#1a1a1a" font-weight="normal" transform="rotate(-90 651.70 559.50)">210</text>
<line x1="660.11" y1="554.30" x2="660.11" y2="556.90" stroke="#666" stroke-width="0.7"/>
<text x="662.41" y="559.50" font-size="6.5" text-anchor="end" fill="#1a1a1a" font-weight="normal" transform="rotate(-90 662.41 559.50)">220</text>
<line x1="670.82" y1="554.30" x2="670.82" y2="556.90" stroke="#666" stroke-width="0.7"/>
<text x="673.12" y="559.50" font-size="6.5" text-anchor="end" fill="#1a1a1a" font-weight="normal" transform="rotate(-90 673.12 559.50)">230</text>
<line x1="681.52" y1="554.30" x2="681.52" y2="556.90" stroke="#666" stroke-width="0.7"/>
<text x="683.82" y="559.50" font-size="6.5" text-anchor="end" fill="#1a1a1a" font-weight="normal" transform="rotate(-90 683.82 559.50)">240</text>
<line x1="433.10" y1="490.30" x2="433.10" y2="554.30" stroke="#999" stroke-width="0.8" stroke-dasharray="2.6,1.4"/>
<line x1="557.80" y1="490.50" x2="557.80" y2="554.30" stroke="#C93BB0" stroke-width="1.3" stroke-dasharray="3,1.8"/>
<line x1="433.40" y1="495.70" x2="557.80" y2="495.70" stroke="#888" stroke-width="0.8"/>
<text x="497.00" y="493.20" font-size="6.5" text-anchor="middle" fill="#1a1a1a" font-weight="normal"><tspan font-style="italic">P</tspan> = 1.54 × 10<tspan dy="-2.2" font-size="4.6">−25</tspan></text>
<text x="546.00" y="582.20" font-size="6.5" text-anchor="middle" fill="#1a1a1a" font-weight="normal">Number of overlaps</text>
<text x="387.50" y="521.50" font-size="6.5" text-anchor="middle" fill="#1a1a1a" font-weight="normal" transform="rotate(-90 387.50 521.50)">Density</text>
<text x="543.90" y="598.20" font-size="6.5" text-anchor="middle" fill="#1a1a1a" font-weight="normal">Average SST1-sf2 hits per genome: 211.63</text>
<text x="532.80" y="610.70" font-size="6.5" text-anchor="end" fill="#1a1a1a" font-weight="normal">Overlaps between SDs and</text>
<rect x="537.40" y="604.50" width="7.90" height="7.80" fill="#DADADA" stroke="#A8A8A8" stroke-width="0.5"/>
<text x="548.20" y="608.20" font-size="6.5" text-anchor="start" fill="#1a1a1a" font-weight="normal">Random</text>
<text x="548.20" y="615.00" font-size="6.5" text-anchor="start" fill="#1a1a1a" font-weight="normal">regions</text>
<rect x="578.90" y="604.50" width="7.90" height="7.80" fill="#EFB6E4" stroke="#CF3FB5" stroke-width="0.6"/>
<text x="590.60" y="610.70" font-size="6.5" text-anchor="start" fill="#1a1a1a" font-weight="normal">SST1-sf2</text>
<rect x="419.50" y="681.80" width="3.30" height="4.50" fill="#DADADA" stroke="#A8A8A8" stroke-width="0.6"/>
<rect x="425.20" y="681.80" width="2.90" height="4.50" fill="#DADADA" stroke="#A8A8A8" stroke-width="0.6"/>
<rect x="428.10" y="678.00" width="3.00" height="8.30" fill="#DADADA" stroke="#A8A8A8" stroke-width="0.6"/>
<rect x="432.80" y="666.60" width="2.90" height="19.70" fill="#DADADA" stroke="#A8A8A8" stroke-width="0.6"/>
<rect x="435.70" y="674.20" width="2.90" height="12.10" fill="#DADADA" stroke="#A8A8A8" stroke-width="0.6"/>
<rect x="438.60" y="659.00" width="2.60" height="27.30" fill="#DADADA" stroke="#A8A8A8" stroke-width="0.6"/>
<rect x="441.20" y="651.00" width="2.60" height="35.30" fill="#DADADA" stroke="#A8A8A8" stroke-width="0.6"/>
<rect x="443.80" y="662.80" width="2.60" height="23.50" fill="#DADADA" stroke="#A8A8A8" stroke-width="0.6"/>
<rect x="446.40" y="639.70" width="2.80" height="46.60" fill="#DADADA" stroke="#A8A8A8" stroke-width="0.6"/>
<rect x="449.20" y="662.80" width="2.60" height="23.50" fill="#DADADA" stroke="#A8A8A8" stroke-width="0.6"/>
<rect x="451.80" y="651.00" width="2.90" height="35.30" fill="#DADADA" stroke="#A8A8A8" stroke-width="0.6"/>
<rect x="454.70" y="659.00" width="3.00" height="27.30" fill="#DADADA" stroke="#A8A8A8" stroke-width="0.6"/>
<rect x="457.70" y="659.00" width="2.90" height="27.30" fill="#DADADA" stroke="#A8A8A8" stroke-width="0.6"/>
<rect x="459.20" y="651.00" width="2.80" height="35.30" fill="#DADADA" stroke="#A8A8A8" stroke-width="0.6"/>
<rect x="462.00" y="659.00" width="2.80" height="27.30" fill="#DADADA" stroke="#A8A8A8" stroke-width="0.6"/>
<rect x="464.80" y="647.30" width="3.00" height="39.00" fill="#DADADA" stroke="#A8A8A8" stroke-width="0.6"/>
<rect x="467.80" y="654.90" width="3.00" height="31.40" fill="#DADADA" stroke="#A8A8A8" stroke-width="0.6"/>
<rect x="470.80" y="663.00" width="3.00" height="23.30" fill="#DADADA" stroke="#A8A8A8" stroke-width="0.6"/>
<rect x="473.80" y="667.20" width="3.00" height="19.10" fill="#DADADA" stroke="#A8A8A8" stroke-width="0.6"/>
<rect x="476.80" y="654.90" width="3.00" height="31.40" fill="#DADADA" stroke="#A8A8A8" stroke-width="0.6"/>
<rect x="479.80" y="663.00" width="3.00" height="23.30" fill="#DADADA" stroke="#A8A8A8" stroke-width="0.6"/>
<rect x="482.80" y="677.60" width="3.00" height="8.70" fill="#DADADA" stroke="#A8A8A8" stroke-width="0.6"/>
<rect x="485.80" y="681.80" width="3.00" height="4.50" fill="#DADADA" stroke="#A8A8A8" stroke-width="0.6"/>
<rect x="488.80" y="681.80" width="3.00" height="4.50" fill="#DADADA" stroke="#A8A8A8" stroke-width="0.6"/>
<rect x="491.80" y="677.60" width="3.00" height="8.70" fill="#DADADA" stroke="#A8A8A8" stroke-width="0.6"/>
<rect x="494.80" y="681.80" width="3.00" height="4.50" fill="#DADADA" stroke="#A8A8A8" stroke-width="0.6"/>
<g fill-opacity="0.85">
<rect x="472.10" y="678.00" width="2.90" height="8.30" fill="#E58AD8" stroke="#CF3FB5" stroke-width="0.6"/>
<rect x="476.90" y="666.60" width="3.80" height="19.70" fill="#E58AD8" stroke="#CF3FB5" stroke-width="0.6"/>
<rect x="482.60" y="678.00" width="2.60" height="8.30" fill="#E58AD8" stroke="#CF3FB5" stroke-width="0.6"/>
<rect x="485.20" y="663.00" width="3.10" height="23.30" fill="#E58AD8" stroke="#CF3FB5" stroke-width="0.6"/>
<rect x="490.10" y="666.60" width="2.90" height="19.70" fill="#E58AD8" stroke="#CF3FB5" stroke-width="0.6"/>
<rect x="493.00" y="659.00" width="2.80" height="27.30" fill="#E58AD8" stroke="#CF3FB5" stroke-width="0.6"/>
<rect x="497.70" y="655.20" width="3.80" height="31.10" fill="#E58AD8" stroke="#CF3FB5" stroke-width="0.6"/>
<rect x="503.40" y="659.00" width="2.90" height="27.30" fill="#E58AD8" stroke="#CF3FB5" stroke-width="0.6"/>
<rect x="506.30" y="632.10" width="3.00" height="54.20" fill="#E58AD8" stroke="#CF3FB5" stroke-width="0.6"/>
<rect x="511.00" y="643.50" width="3.80" height="42.80" fill="#E58AD8" stroke="#CF3FB5" stroke-width="0.6"/>
<rect x="516.70" y="663.00" width="2.50" height="23.30" fill="#E58AD8" stroke="#CF3FB5" stroke-width="0.6"/>
<rect x="519.20" y="643.50" width="3.20" height="42.80" fill="#E58AD8" stroke="#CF3FB5" stroke-width="0.6"/>
<rect x="524.30" y="647.50" width="3.10" height="38.80" fill="#E58AD8" stroke="#CF3FB5" stroke-width="0.6"/>
<rect x="527.40" y="663.20" width="3.20" height="23.10" fill="#E58AD8" stroke="#CF3FB5" stroke-width="0.6"/>
<rect x="532.00" y="639.80" width="3.70" height="46.50" fill="#E58AD8" stroke="#CF3FB5" stroke-width="0.6"/>
<rect x="537.30" y="651.60" width="3.70" height="34.70" fill="#E58AD8" stroke="#CF3FB5" stroke-width="0.6"/>
<rect x="541.00" y="670.90" width="2.60" height="15.40" fill="#E58AD8" stroke="#CF3FB5" stroke-width="0.6"/>
<rect x="545.30" y="682.00" width="2.90" height="4.30" fill="#E58AD8" stroke="#CF3FB5" stroke-width="0.6"/>
<rect x="548.20" y="678.00" width="2.80" height="8.30" fill="#E58AD8" stroke="#CF3FB5" stroke-width="0.6"/>
<rect x="553.00" y="674.50" width="3.10" height="11.80" fill="#E58AD8" stroke="#CF3FB5" stroke-width="0.6"/>
<rect x="558.00" y="678.00" width="3.00" height="8.30" fill="#E58AD8" stroke="#CF3FB5" stroke-width="0.6"/>
<rect x="561.00" y="678.00" width="3.00" height="8.30" fill="#E58AD8" stroke="#CF3FB5" stroke-width="0.6"/>
<rect x="566.20" y="678.00" width="3.20" height="8.30" fill="#E58AD8" stroke="#CF3FB5" stroke-width="0.6"/>
<rect x="582.10" y="682.40" width="2.60" height="3.90" fill="#E58AD8" stroke="#CF3FB5" stroke-width="0.6"/>
<rect x="587.40" y="682.40" width="2.90" height="3.90" fill="#E58AD8" stroke="#CF3FB5" stroke-width="0.6"/>
<rect x="592.30" y="682.40" width="2.80" height="3.90" fill="#E58AD8" stroke="#CF3FB5" stroke-width="0.6"/>
<rect x="595.10" y="682.40" width="2.90" height="3.90" fill="#E58AD8" stroke="#CF3FB5" stroke-width="0.6"/>
<rect x="603.10" y="682.40" width="2.90" height="3.90" fill="#E58AD8" stroke="#CF3FB5" stroke-width="0.6"/>
<rect x="608.10" y="682.40" width="2.90" height="3.90" fill="#E58AD8" stroke="#CF3FB5" stroke-width="0.6"/>
<rect x="615.90" y="682.40" width="2.80" height="3.90" fill="#E58AD8" stroke="#CF3FB5" stroke-width="0.6"/>
<rect x="624.00" y="682.40" width="3.00" height="3.90" fill="#E58AD8" stroke="#CF3FB5" stroke-width="0.6"/>
<rect x="634.40" y="682.40" width="2.90" height="3.90" fill="#E58AD8" stroke="#CF3FB5" stroke-width="0.6"/>
<rect x="663.30" y="682.40" width="2.90" height="3.90" fill="#E58AD8" stroke="#CF3FB5" stroke-width="0.6"/>
</g>
<line x1="420.00" y1="686.00" x2="666.30" y2="686.00" stroke="#CF3FB5" stroke-width="0.9"/>
<line x1="414.00" y1="623.00" x2="414.00" y2="686.30" stroke="#666" stroke-width="0.8"/>
<line x1="410.50" y1="686.30" x2="678.00" y2="686.30" stroke="#555" stroke-width="0.8"/>
<line x1="411.00" y1="633.40" x2="414.00" y2="633.40" stroke="#666" stroke-width="0.7"/>
<text x="407.70" y="635.70" font-size="6.5" text-anchor="end" fill="#1a1a1a" font-weight="normal">0.15</text>
<line x1="411.00" y1="651.10" x2="414.00" y2="651.10" stroke="#666" stroke-width="0.7"/>
<text x="407.70" y="653.40" font-size="6.5" text-anchor="end" fill="#1a1a1a" font-weight="normal">0.10</text>
<line x1="411.00" y1="668.60" x2="414.00" y2="668.60" stroke="#666" stroke-width="0.7"/>
<text x="407.70" y="670.90" font-size="6.5" text-anchor="end" fill="#1a1a1a" font-weight="normal">0.05</text>
<line x1="411.00" y1="686.30" x2="414.00" y2="686.30" stroke="#666" stroke-width="0.7"/>
<text x="407.70" y="688.60" font-size="6.5" text-anchor="end" fill="#1a1a1a" font-weight="normal">0</text>
<line x1="423.70" y1="686.30" x2="423.70" y2="688.90" stroke="#666" stroke-width="0.7"/>
<text x="423.70" y="697.00" font-size="6.5" text-anchor="middle" fill="#1a1a1a" font-weight="normal">5</text>
<line x1="444.90" y1="686.30" x2="444.90" y2="688.90" stroke="#666" stroke-width="0.7"/>
<text x="444.90" y="697.00" font-size="6.5" text-anchor="middle" fill="#1a1a1a" font-weight="normal">10</text>
<line x1="466.10" y1="686.30" x2="466.10" y2="688.90" stroke="#666" stroke-width="0.7"/>
<text x="466.10" y="697.00" font-size="6.5" text-anchor="middle" fill="#1a1a1a" font-weight="normal">15</text>
<line x1="487.30" y1="686.30" x2="487.30" y2="688.90" stroke="#666" stroke-width="0.7"/>
<text x="487.30" y="697.00" font-size="6.5" text-anchor="middle" fill="#1a1a1a" font-weight="normal">20</text>
<line x1="508.50" y1="686.30" x2="508.50" y2="688.90" stroke="#666" stroke-width="0.7"/>
<text x="508.50" y="697.00" font-size="6.5" text-anchor="middle" fill="#1a1a1a" font-weight="normal">25</text>
<line x1="529.70" y1="686.30" x2="529.70" y2="688.90" stroke="#666" stroke-width="0.7"/>
<text x="529.70" y="697.00" font-size="6.5" text-anchor="middle" fill="#1a1a1a" font-weight="normal">30</text>
<line x1="550.90" y1="686.30" x2="550.90" y2="688.90" stroke="#666" stroke-width="0.7"/>
<text x="550.90" y="697.00" font-size="6.5" text-anchor="middle" fill="#1a1a1a" font-weight="normal">35</text>
<line x1="572.10" y1="686.30" x2="572.10" y2="688.90" stroke="#666" stroke-width="0.7"/>
<text x="572.10" y="697.00" font-size="6.5" text-anchor="middle" fill="#1a1a1a" font-weight="normal">40</text>
<line x1="593.30" y1="686.30" x2="593.30" y2="688.90" stroke="#666" stroke-width="0.7"/>
<text x="593.30" y="697.00" font-size="6.5" text-anchor="middle" fill="#1a1a1a" font-weight="normal">45</text>
<line x1="614.50" y1="686.30" x2="614.50" y2="688.90" stroke="#666" stroke-width="0.7"/>
<text x="614.50" y="697.00" font-size="6.5" text-anchor="middle" fill="#1a1a1a" font-weight="normal">50</text>
<line x1="635.70" y1="686.30" x2="635.70" y2="688.90" stroke="#666" stroke-width="0.7"/>
<text x="635.70" y="697.00" font-size="6.5" text-anchor="middle" fill="#1a1a1a" font-weight="normal">55</text>
<line x1="656.90" y1="686.30" x2="656.90" y2="688.90" stroke="#666" stroke-width="0.7"/>
<text x="656.90" y="697.00" font-size="6.5" text-anchor="middle" fill="#1a1a1a" font-weight="normal">60</text>
<line x1="678.10" y1="686.30" x2="678.10" y2="688.90" stroke="#666" stroke-width="0.7"/>
<text x="678.10" y="697.00" font-size="6.5" text-anchor="middle" fill="#1a1a1a" font-weight="normal">65</text>
<line x1="458.50" y1="622.80" x2="458.50" y2="686.30" stroke="#777" stroke-width="0.8" stroke-dasharray="2.6,1.4"/>
<line x1="520.90" y1="622.60" x2="520.90" y2="686.30" stroke="#C93BB0" stroke-width="1.3" stroke-dasharray="3,1.8"/>
<line x1="458.50" y1="625.50" x2="520.90" y2="625.50" stroke="#888" stroke-width="0.8"/>
<text x="491.20" y="624.40" font-size="6.5" text-anchor="middle" fill="#1a1a1a" font-weight="normal"><tspan font-style="italic">P</tspan> = 7.23 × 10<tspan dy="-2.2" font-size="4.6">−26</tspan></text>
<text x="544.00" y="707.60" font-size="6.5" text-anchor="middle" fill="#1a1a1a" font-weight="normal">Number of overlaps</text>
<text x="387.50" y="655.00" font-size="6.5" text-anchor="middle" fill="#1a1a1a" font-weight="normal" transform="rotate(-90 387.50 655.00)">Density</text>
<path d="M140.4,14 L129.5,6.5 L54.6,113.3 L64.8,122" fill="none" stroke="#1a1a1a" stroke-width="1.25"/>
<path d="M18.1,186.4 L10.2,194 L156.2,371.2 L165.8,364.5" fill="none" stroke="#1a1a1a" stroke-width="1.25"/>
<path d="M366.4,4.4 L378.7,4.4 L378.1,318.8 L365.8,318.8" fill="none" stroke="#2a2a2a" stroke-width="1.15"/>
<text x="89.40" y="58.30" font-size="6.9" text-anchor="middle" fill="#1a1a1a" font-weight="normal" transform="rotate(-55 89.40 58.30)">SST1 SF3</text>
<text x="75.60" y="291.40" font-size="6.9" text-anchor="middle" fill="#1a1a1a" font-weight="normal" transform="rotate(50.5 75.60 291.40)">SST1 SF2</text>
<text x="387.40" y="162.30" font-size="6.6" text-anchor="middle" fill="#1a1a1a" font-weight="normal" transform="rotate(-90 387.40 162.30)">SST1 SF1</text>
<text x="133.30" y="61.60" font-size="6.8" text-anchor="middle" fill="#1a1a1a" font-weight="normal" transform="rotate(-45 133.30 61.60)">Chr. Y</text>
<text x="70.60" y="239.50" font-size="6.8" text-anchor="middle" fill="#1a1a1a" font-weight="normal" transform="rotate(62 70.60 239.50)">Chr. 19</text>
<text x="113.30" y="305.30" font-size="6.9" text-anchor="middle" fill="#1a1a1a" font-weight="normal" transform="rotate(40 113.30 305.30)">Chr. 4</text>
<text x="189.40" y="314.80" font-size="6.7" text-anchor="middle" fill="#1a1a1a" font-weight="normal" transform="rotate(14 189.40 314.80)">Chr. 17</text>
<text x="297.60" y="271.40" font-size="6.8" text-anchor="middle" fill="#1a1a1a" font-weight="normal" transform="rotate(-36 297.60 271.40)">Acros</text>
<line x1="221.00" y1="20.50" x2="221.00" y2="39.20" stroke="#333" stroke-width="0.7"/>
<line x1="218.60" y1="20.50" x2="221.00" y2="20.50" stroke="#333" stroke-width="0.6"/>
<line x1="218.60" y1="39.20" x2="221.00" y2="39.20" stroke="#333" stroke-width="0.6"/>
<text x="217.50" y="31.50" font-size="5.2" text-anchor="middle" fill="#1a1a1a" font-weight="normal">0.1</text>
<path d="M249.7,90.9 L256.4,90.9 L253.05,97.2 Z" fill="#000"/>
<rect x="249.40" y="100.90" width="6.80" height="6.40" fill="#000" stroke="none" stroke-width="0.5"/>
<circle cx="252.90" cy="114.30" r="3.40" fill="#000"/>
<text x="259.70" y="96.10" font-size="6.5" text-anchor="start" fill="#1a1a1a" font-weight="normal">CHM13</text>
<text x="259.70" y="106.60" font-size="6.5" text-anchor="start" fill="#1a1a1a" font-weight="normal">HG002_paternal</text>
<text x="259.70" y="116.70" font-size="6.5" text-anchor="start" fill="#1a1a1a" font-weight="normal">HG002_maternal</text>
<rect x="247.00" y="137.00" width="10.90" height="3.80" fill="#7CF27C" stroke="none" stroke-width="0.5"/>
<text x="260.90" y="141.30" font-size="6.5" text-anchor="start" fill="#1a1a1a" font-weight="normal">Chr. 1</text>
<rect x="247.00" y="146.70" width="10.90" height="3.80" fill="#FF6A10" stroke="none" stroke-width="0.5"/>
<text x="260.90" y="151.00" font-size="6.5" text-anchor="start" fill="#1a1a1a" font-weight="normal">Chr. 4</text>
<rect x="247.00" y="156.20" width="10.90" height="3.80" fill="#D2D2D2" stroke="none" stroke-width="0.5"/>
<text x="260.90" y="160.50" font-size="6.5" text-anchor="start" fill="#1a1a1a" font-weight="normal">Chr. 7</text>
<rect x="247.00" y="165.90" width="10.90" height="3.80" fill="#000000" stroke="none" stroke-width="0.5"/>
<text x="260.90" y="170.20" font-size="6.5" text-anchor="start" fill="#1a1a1a" font-weight="normal">Chr. 9</text>
<rect x="247.00" y="175.50" width="10.90" height="3.80" fill="#8E8E8E" stroke="none" stroke-width="0.5"/>
<text x="260.90" y="179.80" font-size="6.5" text-anchor="start" fill="#1a1a1a" font-weight="normal">Chr. 12</text>
<rect x="247.00" y="185.20" width="10.90" height="3.80" fill="#F4A09B" stroke="none" stroke-width="0.5"/>
<text x="260.90" y="189.50" font-size="6.5" text-anchor="start" fill="#1a1a1a" font-weight="normal">Chr. 13</text>
<rect x="247.00" y="194.90" width="10.90" height="3.80" fill="#AFAF5A" stroke="none" stroke-width="0.5"/>
<text x="260.90" y="199.20" font-size="6.5" text-anchor="start" fill="#1a1a1a" font-weight="normal">Chr. 14</text>
<rect x="291.00" y="137.00" width="10.10" height="3.80" fill="#E8202B" stroke="none" stroke-width="0.5"/>
<text x="304.40" y="141.30" font-size="6.5" text-anchor="start" fill="#1a1a1a" font-weight="normal">Chr. 16</text>
<rect x="291.00" y="146.70" width="10.10" height="3.80" fill="#7A1515" stroke="none" stroke-width="0.5"/>
<text x="304.40" y="151.00" font-size="6.5" text-anchor="start" fill="#1a1a1a" font-weight="normal">Chr. 17</text>
<rect x="291.00" y="156.20" width="10.10" height="3.80" fill="#7A2A8C" stroke="none" stroke-width="0.5"/>
<text x="304.40" y="160.50" font-size="6.5" text-anchor="start" fill="#1a1a1a" font-weight="normal">Chr. 19</text>
<rect x="291.00" y="165.90" width="10.10" height="3.80" fill="#FFE84A" stroke="none" stroke-width="0.5"/>
<text x="304.40" y="170.20" font-size="6.5" text-anchor="start" fill="#1a1a1a" font-weight="normal">Chr. 20</text>
<rect x="291.00" y="175.50" width="10.10" height="3.80" fill="#4A90DC" stroke="none" stroke-width="0.5"/>
<text x="304.40" y="179.80" font-size="6.5" text-anchor="start" fill="#1a1a1a" font-weight="normal">Chr. 21</text>
<rect x="291.00" y="185.20" width="10.10" height="3.80" fill="#C25EC2" stroke="none" stroke-width="0.5"/>
<text x="304.40" y="189.50" font-size="6.5" text-anchor="start" fill="#1a1a1a" font-weight="normal">Chr. 22</text>
<rect x="291.00" y="194.90" width="10.10" height="3.80" fill="#0A7C76" stroke="none" stroke-width="0.5"/>
<text x="304.40" y="199.20" font-size="6.5" text-anchor="start" fill="#1a1a1a" font-weight="normal">Chr. Y</text>
<path d="M214.28,197.51 A33.60,33.60 0 0 1 191.07,162.16" fill="none" stroke="#333" stroke-width="0.7"/>
<line x1="214.34" y1="197.53" x2="194.26" y2="260.82" stroke="#333" stroke-width="0.7"/>
<line x1="191.07" y1="162.16" x2="170.77" y2="160.14" stroke="#333" stroke-width="0.7"/>
<path d="M171.2,160 L171.2,154.6 L166,153.6 L165.8,145.1 L158.6,139.4" fill="none" stroke="#333" stroke-width="0.7"/>
<path d="M171.2,160 L168.2,162.2 L148,161.8" fill="none" stroke="#333" stroke-width="0.7"/>
<line x1="149.00" y1="162.20" x2="168.00" y2="162.40" stroke="#111" stroke-width="1.6"/>
<path d="M165.9,144.5 L153.7,140.1" fill="none" stroke="#333" stroke-width="0.6"/>
<text x="176.00" y="158.60" font-size="4.6" text-anchor="start" fill="#555" font-weight="normal">99</text>
<text x="166.50" y="153.50" font-size="4.6" text-anchor="start" fill="#555" font-weight="normal">81</text>
<text x="168.00" y="168.50" font-size="4.6" text-anchor="start" fill="#555" font-weight="normal">97</text>
<text x="156.50" y="140.00" font-size="4.6" text-anchor="start" fill="#555" font-weight="normal">93</text>
<path d="M131.00,153.70 L134.20,153.70 L132.60,150.90 Z" fill="#C01818"/>
<path d="M133.90,154.20 L137.10,154.20 L135.50,151.40 Z" fill="#C01818"/>
<path d="M136.40,154.70 L139.60,154.70 L138.00,151.90 Z" fill="#8A1010"/>
<path d="M131.40,158.00 L134.60,158.00 L133.00,155.20 Z" fill="#FFEE22"/>
<path d="M132.90,160.80 L136.10,160.80 L134.50,158.00 Z" fill="#E84040"/>
<path d="M139.40,159.70 L142.60,159.70 L141.00,156.90 Z" fill="#C8C8C8"/>
<path d="M141.90,162.20 L145.10,162.20 L143.50,159.40 Z" fill="#E84040"/>
<path d="M144.90,161.20 L148.10,161.20 L146.50,158.40 Z" fill="#C8C8C8"/>
<circle cx="133.00" cy="157.00" r="2.00" fill="#FFEE22"/>
<line x1="136.00" y1="154.00" x2="160.00" y2="157.00" stroke="#444" stroke-width="0.35"/>
<line x1="137.00" y1="154.40" x2="160.00" y2="157.20" stroke="#444" stroke-width="0.35"/>
<line x1="138.00" y1="154.80" x2="160.00" y2="157.40" stroke="#444" stroke-width="0.35"/>
<line x1="139.00" y1="155.20" x2="160.00" y2="157.60" stroke="#444" stroke-width="0.35"/>
<line x1="140.00" y1="155.60" x2="160.00" y2="157.80" stroke="#444" stroke-width="0.35"/>
<line x1="141.00" y1="156.00" x2="160.00" y2="158.00" stroke="#444" stroke-width="0.35"/>
<line x1="142.00" y1="156.40" x2="160.00" y2="158.20" stroke="#444" stroke-width="0.35"/>
<line x1="143.00" y1="156.80" x2="160.00" y2="158.40" stroke="#444" stroke-width="0.35"/>
<line x1="144.00" y1="157.20" x2="160.00" y2="158.60" stroke="#444" stroke-width="0.35"/>
<line x1="145.00" y1="157.60" x2="160.00" y2="158.80" stroke="#444" stroke-width="0.35"/>
<line x1="146.00" y1="158.00" x2="160.00" y2="159.00" stroke="#444" stroke-width="0.35"/>
<line x1="147.00" y1="158.40" x2="160.00" y2="159.20" stroke="#444" stroke-width="0.35"/>
<path d="M104.00,146.41 L103.19,145.20 L102.38,143.97 L101.59,142.72 L101.45,141.58 L101.31,140.44 L101.18,139.29 L101.07,138.14 L100.96,136.98 L100.87,135.82 L100.79,134.65 L101.25,133.63 L101.73,132.60 L102.22,131.59 L102.71,130.58 L103.21,129.57 L103.72,128.57 L104.24,127.58 L104.76,126.59 L105.30,125.61 L105.84,124.64 L106.49,123.71 L107.16,122.79 L107.83,121.88 L108.50,120.97 L109.19,120.08 L109.88,119.19 L110.57,118.31 L111.28,117.44 L112.10,116.63 L112.93,115.83 L113.77,115.04 L114.61,114.26 L115.46,113.49 L116.31,112.73 L117.16,111.98 L118.02,111.25 L119.17,110.67 L120.31,110.10 L121.46,109.55 L122.61,109.02 L123.76,108.50 L124.91,108.00 L125.60,107.24 L126.29,106.49 L126.99,105.75 L127.70,105.01 L128.41,104.29 L129.13,103.57 L129.85,102.86 L129.73,101.58 L129.62,100.29 L129.53,99.00 L129.45,97.70 L129.39,96.40 L129.34,95.09 L129.31,93.77 L129.30,92.45 L129.80,91.51 L130.30,90.57 L130.82,89.64 L131.34,88.71 L131.88,87.78 L132.42,86.86 L132.97,85.94 L133.54,85.02 L134.11,84.11 L134.69,83.20 L135.27,82.30 L135.79,81.31 L136.31,80.33 L136.84,79.36 L137.38,78.38 L137.94,77.41 L138.50,76.45 L139.08,75.48 L139.66,74.52 L140.25,73.56 L140.86,72.61 L142.05,72.30 L143.23,72.01 L144.41,71.73 L145.60,71.47 L146.78,71.22 L147.96,70.98 L149.14,70.76 L150.31,70.54 L151.17,69.93 L152.03,69.33 L152.90,68.74 L153.77,68.15 L154.65,67.57 L155.53,67.00 L156.41,66.43 L157.30,65.88 L158.20,65.33 L159.10,64.79 L160.00,64.26 L160.91,63.73 L161.82,63.22 L162.74,62.71 L163.66,62.21 L164.58,61.72 L165.51,61.24 L166.44,60.76 L167.38,60.30 L168.32,59.84 L169.26,59.39 L170.21,58.95 L171.16,58.52 L172.11,58.09 L173.23,58.00 L174.34,57.92 L175.44,57.85 L176.55,57.79 L177.65,57.75 L178.75,57.71 L179.84,57.68 L180.93,57.67 L182.02,57.66 L183.11,57.67 L184.23,57.78 L185.34,57.91 L186.45,58.04 L196.29,85.85 L195.66,86.25 L195.02,86.66 L194.40,87.08 L193.75,87.44 L193.11,87.81 L192.47,88.18 L191.84,88.56 L191.21,88.94 L190.59,89.33 L189.96,89.72 L189.35,90.12 L188.74,90.52 L188.13,90.93 L187.52,91.34 L186.93,91.76 L186.33,92.18 L185.74,92.60 L185.16,93.04 L184.57,93.47 L184.00,93.91 L183.43,94.36 L182.86,94.81 L182.30,95.26 L181.74,95.72 L181.19,96.18 L180.64,96.65 L180.10,97.12 L179.56,97.60 L179.02,98.08 L178.50,98.56 L177.96,99.03 L177.42,99.50 L176.89,99.96 L176.36,100.44 L175.83,100.92 L175.31,101.40 L174.80,101.88 L174.29,102.37 L173.78,102.87 L173.28,103.37 L172.79,103.87 L172.29,104.38 L171.81,104.89 L171.33,105.40 L170.85,105.92 L170.38,106.44 L169.91,106.96 L169.45,107.49 L169.00,108.02 L168.57,108.58 L168.14,109.14 L167.73,109.71 L167.31,110.27 L166.91,110.84 L166.50,111.42 L166.11,111.99 L165.72,112.57 L165.33,113.15 L164.95,113.74 L164.58,114.32 L164.21,114.91 L163.85,115.50 L163.49,116.10 L163.14,116.69 L162.80,117.29 L162.46,117.89 L162.13,118.50 L161.80,119.10 L161.48,119.71 L161.16,120.32 L160.85,120.93 L160.52,121.53 L160.19,122.12 L159.86,122.72 L159.54,123.32 L159.23,123.92 L158.92,124.52 L158.62,125.13 L158.33,125.74 L158.04,126.35 L157.75,126.96 L157.47,127.58 L157.20,128.19 L156.93,128.81 L156.67,129.43 L156.41,130.06 L156.16,130.68 L155.91,131.30 L155.67,131.93 L155.44,132.56 L155.21,133.19 L154.97,133.81 L154.67,134.41 L154.38,135.01 L154.08,135.61 L153.80,136.21 L153.52,136.82 L153.24,137.43 L152.97,138.04 L152.71,138.66 L152.45,139.27 L152.19,139.89 L151.94,140.52 L151.70,141.14 L151.46,141.77 L151.14,142.37 L150.82,142.97 L150.50,143.58 L150.19,144.19 L149.89,144.81 L149.59,145.43 L149.30,146.05 L149.01,146.68 L148.73,147.31 L148.45,147.94 L148.18,148.58 L147.91,149.22 L147.66,149.87 L147.41,150.52 L147.17,151.17 L146.93,151.82 L146.70,152.48 L146.47,153.14 Z" fill="#D4D4D4" stroke="none"/>
<line x1="196.29" y1="85.85" x2="186.20" y2="57.34" stroke="#111" stroke-width="0.5810526460059323"/>
<line x1="195.48" y1="86.36" x2="184.88" y2="57.44" stroke="#111" stroke-width="0.39616508596371913"/>
<line x1="194.66" y1="86.90" x2="183.63" y2="57.86" stroke="#111" stroke-width="0.3735308640573046"/>
<line x1="193.93" y1="87.34" x2="181.39" y2="55.29" stroke="#111" stroke-width="0.5233596206353097"/>
<line x1="193.33" y1="87.68" x2="182.02" y2="59.44" stroke="#111" stroke-width="0.5134806333834601"/>
<line x1="191.23" y1="85.27" x2="178.94" y2="55.64" stroke="#111" stroke-width="0.3648877762922137"/>
<line x1="190.68" y1="86.03" x2="177.93" y2="56.06" stroke="#111" stroke-width="0.4601327791641642"/>
<line x1="190.79" y1="89.20" x2="176.74" y2="57.41" stroke="#111" stroke-width="0.4749432880516979"/>
<line x1="187.41" y1="84.32" x2="175.03" y2="57.21" stroke="#111" stroke-width="0.5989229104140498"/>
<line x1="188.34" y1="89.14" x2="173.81" y2="58.46" stroke="#111" stroke-width="0.4222599868285505"/>
<line x1="188.35" y1="90.78" x2="172.88" y2="58.81" stroke="#111" stroke-width="0.5616459054702947"/>
<line x1="187.62" y1="91.27" x2="172.11" y2="60.05" stroke="#111" stroke-width="0.3501362342638926"/>
<line x1="186.98" y1="91.72" x2="171.00" y2="60.29" stroke="#111" stroke-width="0.595089735293573"/>
<line x1="186.25" y1="92.23" x2="167.92" y2="57.11" stroke="#111" stroke-width="0.5446277146691627"/>
<line x1="182.87" y1="87.61" x2="166.88" y2="57.69" stroke="#111" stroke-width="0.5395101292484397"/>
<line x1="184.84" y1="92.83" x2="166.31" y2="58.86" stroke="#111" stroke-width="0.5492553779609934"/>
<line x1="184.41" y1="93.60" x2="166.08" y2="60.72" stroke="#111" stroke-width="0.3976711038225915"/>
<line x1="183.56" y1="94.25" x2="163.63" y2="59.58" stroke="#111" stroke-width="0.37912699690992635"/>
<line x1="179.90" y1="89.79" x2="162.67" y2="60.55" stroke="#111" stroke-width="0.5508528757705178"/>
<line x1="180.99" y1="93.30" x2="163.34" y2="64.01" stroke="#111" stroke-width="0.5635942254253076"/>
<line x1="181.43" y1="95.98" x2="159.99" y2="61.38" stroke="#111" stroke-width="0.4033108421443806"/>
<line x1="179.87" y1="94.99" x2="160.76" y2="64.81" stroke="#111" stroke-width="0.368349638347106"/>
<line x1="178.34" y1="93.92" x2="159.38" y2="64.52" stroke="#111" stroke-width="0.442926011648307"/>
<line x1="179.61" y1="97.55" x2="159.28" y2="66.77" stroke="#111" stroke-width="0.4936428113574869"/>
<line x1="175.69" y1="93.81" x2="155.69" y2="64.43" stroke="#111" stroke-width="0.5544504873649121"/>
<line x1="178.18" y1="98.84" x2="154.71" y2="65.08" stroke="#111" stroke-width="0.5851012240237206"/>
<line x1="177.61" y1="99.33" x2="155.96" y2="68.80" stroke="#111" stroke-width="0.5008835536958609"/>
<line x1="173.55" y1="95.24" x2="152.41" y2="66.08" stroke="#111" stroke-width="0.40960179816899567"/>
<line x1="176.17" y1="100.61" x2="151.57" y2="67.57" stroke="#111" stroke-width="0.4991165766324839"/>
<line x1="175.58" y1="101.15" x2="150.33" y2="67.93" stroke="#111" stroke-width="0.3671940310418609"/>
<line x1="175.02" y1="101.67" x2="150.56" y2="70.12" stroke="#111" stroke-width="0.503575753931217"/>
<line x1="174.38" y1="102.15" x2="150.48" y2="71.93" stroke="#111" stroke-width="0.4172984820072102"/>
<line x1="172.41" y1="101.12" x2="146.32" y2="68.87" stroke="#111" stroke-width="0.49304235572566296"/>
<line x1="173.30" y1="103.35" x2="146.07" y2="70.29" stroke="#111" stroke-width="0.5951233553345593"/>
<line x1="172.60" y1="104.06" x2="145.44" y2="71.92" stroke="#111" stroke-width="0.38508679678640445"/>
<line x1="172.14" y1="104.53" x2="142.15" y2="69.61" stroke="#111" stroke-width="0.5252425046857534"/>
<line x1="171.34" y1="105.39" x2="140.15" y2="70.13" stroke="#111" stroke-width="0.47055893068624766"/>
<line x1="170.63" y1="106.16" x2="139.63" y2="72.01" stroke="#111" stroke-width="0.36881572502309595"/>
<line x1="170.01" y1="106.86" x2="140.24" y2="74.83" stroke="#111" stroke-width="0.53427203360414"/>
<line x1="169.33" y1="107.63" x2="139.59" y2="76.44" stroke="#111" stroke-width="0.4379585241618134"/>
<line x1="168.69" y1="108.42" x2="139.15" y2="78.21" stroke="#111" stroke-width="0.45428828549429645"/>
<line x1="168.04" y1="109.28" x2="138.18" y2="79.55" stroke="#111" stroke-width="0.5062401366648548"/>
<line x1="167.54" y1="109.96" x2="136.54" y2="79.74" stroke="#111" stroke-width="0.3700505072076775"/>
<line x1="166.96" y1="110.77" x2="137.28" y2="82.54" stroke="#111" stroke-width="0.532051769141387"/>
<line x1="166.47" y1="111.46" x2="135.73" y2="82.82" stroke="#111" stroke-width="0.46013062384467984"/>
<line x1="165.86" y1="112.37" x2="132.40" y2="82.05" stroke="#111" stroke-width="0.3574474575188662"/>
<line x1="162.18" y1="110.39" x2="133.08" y2="84.65" stroke="#111" stroke-width="0.4743126444145034"/>
<line x1="164.75" y1="113.94" x2="133.96" y2="87.37" stroke="#111" stroke-width="0.4252581602767489"/>
<line x1="160.10" y1="111.33" x2="130.43" y2="86.37" stroke="#111" stroke-width="0.5149975011689615"/>
<line x1="160.72" y1="113.03" x2="132.41" y2="89.74" stroke="#111" stroke-width="0.39962644471632897"/>
<line x1="163.37" y1="116.31" x2="131.44" y2="90.62" stroke="#111" stroke-width="0.5700672295208821"/>
<line x1="162.31" y1="116.53" x2="129.95" y2="91.05" stroke="#111" stroke-width="0.4741167604005805"/>
<line x1="162.41" y1="117.98" x2="130.29" y2="93.38" stroke="#111" stroke-width="0.5875000379613787"/>
<line x1="162.04" y1="118.65" x2="127.60" y2="92.82" stroke="#111" stroke-width="0.41879070573622706"/>
<line x1="161.69" y1="119.30" x2="128.61" y2="94.97" stroke="#111" stroke-width="0.47346884174672377"/>
<line x1="161.33" y1="120.00" x2="130.39" y2="97.72" stroke="#111" stroke-width="0.46311933457915894"/>
<line x1="161.02" y1="120.59" x2="127.16" y2="96.63" stroke="#111" stroke-width="0.36037209979864715"/>
<line x1="156.64" y1="118.78" x2="129.49" y2="100.09" stroke="#111" stroke-width="0.3547785037029265"/>
<line x1="156.09" y1="119.28" x2="129.12" y2="101.06" stroke="#111" stroke-width="0.4093522522212085"/>
<line x1="159.89" y1="122.67" x2="127.54" y2="101.24" stroke="#111" stroke-width="0.4616201916877556"/>
<line x1="159.44" y1="123.52" x2="129.12" y2="103.95" stroke="#111" stroke-width="0.5896151629797526"/>
<line x1="158.99" y1="124.39" x2="126.16" y2="103.79" stroke="#111" stroke-width="0.3946715237837711"/>
<line x1="158.72" y1="124.94" x2="126.67" y2="105.18" stroke="#111" stroke-width="0.3947747022406321"/>
<line x1="158.38" y1="125.62" x2="125.34" y2="105.69" stroke="#111" stroke-width="0.48010573666620254"/>
<line x1="153.88" y1="124.07" x2="126.13" y2="107.79" stroke="#111" stroke-width="0.576559246376013"/>
<line x1="157.70" y1="127.07" x2="126.16" y2="108.91" stroke="#111" stroke-width="0.38247748026718"/>
<line x1="157.35" y1="127.84" x2="123.37" y2="108.79" stroke="#111" stroke-width="0.4442006922327225"/>
<line x1="156.99" y1="128.68" x2="122.93" y2="110.11" stroke="#111" stroke-width="0.586064501745808"/>
<line x1="152.83" y1="127.44" x2="120.47" y2="110.25" stroke="#111" stroke-width="0.554586384442274"/>
<line x1="151.49" y1="127.87" x2="119.15" y2="111.21" stroke="#111" stroke-width="0.5951232878264828"/>
<line x1="155.88" y1="131.40" x2="116.75" y2="111.96" stroke="#111" stroke-width="0.43009868163966225"/>
<line x1="155.04" y1="132.21" x2="116.80" y2="113.87" stroke="#111" stroke-width="0.46022529814774926"/>
<line x1="155.19" y1="133.27" x2="115.27" y2="114.70" stroke="#111" stroke-width="0.3571025904608788"/>
<line x1="154.77" y1="134.21" x2="110.77" y2="114.47" stroke="#111" stroke-width="0.3932240768021381"/>
<line x1="153.61" y1="134.55" x2="113.10" y2="116.87" stroke="#111" stroke-width="0.4791312294091419"/>
<line x1="153.99" y1="135.80" x2="112.16" y2="118.18" stroke="#111" stroke-width="0.5864368492363742"/>
<line x1="152.40" y1="136.08" x2="111.77" y2="119.50" stroke="#111" stroke-width="0.4816658510989974"/>
<line x1="153.31" y1="137.27" x2="109.96" y2="120.08" stroke="#111" stroke-width="0.4806956811141502"/>
<line x1="150.75" y1="137.42" x2="108.10" y2="121.19" stroke="#111" stroke-width="0.5613151417487671"/>
<line x1="152.46" y1="139.23" x2="105.36" y2="122.06" stroke="#111" stroke-width="0.5921100913448483"/>
<line x1="149.09" y1="138.99" x2="106.20" y2="123.90" stroke="#111" stroke-width="0.47579352595831415"/>
<line x1="151.78" y1="140.91" x2="102.78" y2="124.35" stroke="#111" stroke-width="0.47900444291039107"/>
<line x1="151.49" y1="141.68" x2="105.79" y2="126.77" stroke="#111" stroke-width="0.4727601116396897"/>
<line x1="151.04" y1="142.56" x2="101.52" y2="127.09" stroke="#111" stroke-width="0.45344352185872006"/>
<line x1="147.79" y1="142.76" x2="104.77" y2="130.01" stroke="#111" stroke-width="0.3817418972769394"/>
<line x1="150.13" y1="144.33" x2="103.63" y2="131.10" stroke="#111" stroke-width="0.46913317912254815"/>
<line x1="149.78" y1="145.04" x2="100.06" y2="131.43" stroke="#111" stroke-width="0.5813176696379161"/>
<line x1="148.35" y1="145.37" x2="102.41" y2="133.22" stroke="#111" stroke-width="0.4068148307722671"/>
<line x1="145.45" y1="145.67" x2="99.52" y2="134.14" stroke="#111" stroke-width="0.3762213768431477"/>
<line x1="148.64" y1="147.51" x2="98.58" y2="135.64" stroke="#111" stroke-width="0.4126384107725624"/>
<line x1="148.35" y1="148.18" x2="100.66" y2="137.34" stroke="#111" stroke-width="0.44393404914626217"/>
<line x1="146.82" y1="148.71" x2="100.79" y2="138.76" stroke="#111" stroke-width="0.5078287492208271"/>
<line x1="147.65" y1="149.88" x2="100.97" y2="140.38" stroke="#111" stroke-width="0.5029277853418973"/>
<line x1="147.26" y1="150.91" x2="99.73" y2="141.93" stroke="#111" stroke-width="0.5526270615823489"/>
<line x1="141.42" y1="151.02" x2="101.16" y2="144.00" stroke="#111" stroke-width="0.40453607771231703"/>
<line x1="145.07" y1="152.86" x2="105.36" y2="146.55" stroke="#111" stroke-width="0.5316441269370623"/>
<line x1="182.94" y1="85.67" x2="172.78" y2="66.15" stroke="#fff" stroke-width="0.9"/>
<line x1="168.08" y1="100.59" x2="149.05" y2="78.71" stroke="#fff" stroke-width="0.9"/>
<line x1="152.79" y1="118.03" x2="134.44" y2="105.89" stroke="#fff" stroke-width="0.9"/>
<line x1="149.32" y1="138.14" x2="113.62" y2="125.14" stroke="#fff" stroke-width="0.9"/>
<path d="M196.39,86.13 L195.63,86.62 L194.88,87.11 L194.12,87.57 L193.35,88.01 L192.59,88.46 L191.83,88.91 L191.08,89.37 L190.34,89.83 L189.60,90.31 L188.87,90.79 L188.14,91.28 L187.42,91.77 L186.71,92.28 L186.00,92.78 L185.30,93.30 L184.60,93.82 L183.92,94.35 L183.24,94.89 L182.56,95.43 L181.90,95.98 L181.24,96.53 L180.58,97.09 L179.94,97.66 L179.30,98.23 L178.67,98.81 L178.02,99.37 L177.38,99.93 L176.75,100.49 L176.12,101.06 L175.50,101.64" fill="none" stroke="#222" stroke-width="0.8"/>
<line x1="187.06" y1="96.55" x2="185.16" y2="93.04" stroke="#222" stroke-width="0.7"/>
<path d="M174.47,102.61 L173.87,103.20 L173.27,103.80 L172.68,104.40 L172.10,105.01 L171.53,105.62 L170.96,106.24 L170.40,106.87 L169.84,107.50 L169.30,108.13 L168.78,108.80 L168.27,109.47 L167.77,110.14 L167.28,110.82 L166.80,111.51 L166.33,112.20 L165.86,112.89 L165.41,113.58 L164.96,114.28 L164.51,114.99 L164.08,115.70 L163.66,116.41 L163.24,117.12 L162.83,117.84 L162.43,118.56 L162.04,119.28 L161.66,120.01 L161.28,120.74 L160.90,121.46 L160.50,122.17 L160.11,122.88" fill="none" stroke="#222" stroke-width="0.8"/>
<line x1="169.06" y1="114.70" x2="166.11" y2="111.99" stroke="#222" stroke-width="0.7"/>
<path d="M159.49,124.08 L159.05,124.94 L158.62,125.81 L158.21,126.68 L157.81,127.56 L157.42,128.44 L157.04,129.33 L156.67,130.21 L156.31,131.11 L155.97,132.00 L155.64,132.90 L155.31,133.80 L154.89,134.65 L154.47,135.51 L154.06,136.37 L153.66,137.24 L153.27,138.11 L152.89,138.99 L152.52,139.87 L152.17,140.76 L151.82,141.65 L151.39,142.52 L150.94,143.38 L150.49,144.26 L150.06,145.14 L149.64,146.02 L149.23,146.92 L148.83,147.82 L148.44,148.73 L148.06,149.65 L147.70,150.57" fill="none" stroke="#222" stroke-width="0.8"/>
<line x1="157.09" y1="138.61" x2="153.38" y2="137.13" stroke="#222" stroke-width="0.7"/>
<path d="M191.61,84.10 L191.11,84.39 L190.61,84.68 L190.11,84.97 L189.62,85.27 L189.12,85.57 L188.63,85.88 L188.14,86.18 L187.66,86.49 L180.90,71.99 L181.48,71.64 L182.06,71.29 L182.65,70.94 L183.24,70.60 L183.83,70.26 L184.42,69.92 L185.02,69.59 L185.62,69.26 Z" fill="#555" fill-opacity="0.45"/>
<path d="M179.21,90.12 L178.60,90.61 L178.01,91.10 L177.42,91.59 L176.83,92.09 L176.25,92.60 L175.67,93.11 L175.10,93.62 L174.52,94.12 L163.62,78.55 L164.34,77.96 L165.04,77.35 L165.76,76.75 L166.48,76.16 L167.21,75.57 L167.94,74.98 L168.68,74.41 L169.42,73.83 Z" fill="#555" fill-opacity="0.45"/>
<path d="M164.46,101.11 L164.07,101.54 L163.69,101.98 L163.32,102.42 L162.96,102.88 L162.60,103.33 L162.25,103.79 L161.90,104.25 L161.56,104.72 L145.73,89.43 L146.18,88.87 L146.63,88.30 L147.08,87.74 L147.54,87.19 L148.00,86.63 L148.48,86.09 L148.96,85.55 L149.45,85.02 Z" fill="#555" fill-opacity="0.45"/>
<path d="M152.55,123.96 L152.33,124.46 L152.10,124.95 L151.88,125.45 L151.66,125.95 L151.44,126.45 L151.23,126.95 L151.02,127.45 L150.81,127.95 L129.43,117.06 L129.71,116.42 L129.99,115.78 L130.27,115.14 L130.57,114.50 L130.86,113.86 L131.16,113.23 L131.46,112.59 L131.77,111.96 Z" fill="#555" fill-opacity="0.45"/>
<path d="M150.40,134.05 L150.18,134.52 L149.95,135.00 L149.74,135.48 L149.52,135.96 L149.31,136.45 L149.10,136.93 L148.89,137.42 L148.69,137.91 L128.95,130.72 L129.20,130.11 L129.46,129.49 L129.72,128.88 L129.98,128.27 L130.25,127.66 L130.52,127.05 L130.79,126.45 L131.07,125.84 Z" fill="#555" fill-opacity="0.45"/>
<path d="M146.35,143.09 L146.15,143.50 L145.96,143.90 L145.77,144.31 L145.58,144.72 L145.39,145.13 L145.20,145.55 L145.02,145.96 L144.84,146.37 L121.50,140.77 L121.71,140.23 L121.93,139.69 L122.15,139.15 L122.37,138.61 L122.59,138.07 L122.82,137.54 L123.05,137.01 L123.28,136.48 Z" fill="#555" fill-opacity="0.45"/>
<path d="M184.50,59.29 L189.10,59.29 L186.80,55.15 Z" fill="#0E8A85"/>
<circle cx="184.14" cy="57.33" r="2.00" fill="#0E8A85"/>
<circle cx="183.41" cy="56.75" r="2.00" fill="#0E8A85"/>
<circle cx="181.13" cy="57.18" r="2.00" fill="#0E8A85"/>
<path d="M175.76,56.88 L180.36,56.88 L178.06,52.74 Z" fill="#0E8A85"/>
<path d="M176.32,59.36 L180.92,59.36 L178.62,55.22 Z" fill="#0E8A85"/>
<path d="M173.89,59.22 L178.49,59.22 L176.19,55.08 Z" fill="#0E8A85"/>
<path d="M171.42,55.37 L176.02,55.37 L173.72,51.23 Z" fill="#0E8A85"/>
<circle cx="171.96" cy="54.11" r="2.00" fill="#0E8A85"/>
<path d="M169.25,58.00 L173.85,58.00 L171.55,53.86 Z" fill="#0E8A85"/>
<circle cx="171.18" cy="58.43" r="2.00" fill="#0E8A85"/>
<path d="M167.00,58.95 L171.60,58.95 L169.30,54.81 Z" fill="#0E8A85"/>
<path d="M166.19,60.78 L170.79,60.78 L168.49,56.64 Z" fill="#0E8A85"/>
<circle cx="165.62" cy="57.13" r="2.00" fill="#0E8A85"/>
<path d="M162.51,61.39 L167.11,61.39 L164.81,57.25 Z" fill="#0E8A85"/>
<circle cx="161.53" cy="59.27" r="2.00" fill="#0E8A85"/>
<path d="M158.49,61.61 L163.09,61.61 L160.79,57.47 Z" fill="#0E8A85"/>
<circle cx="158.59" cy="60.49" r="2.00" fill="#0E8A85"/>
<path d="M155.87,65.04 L160.47,65.04 L158.17,60.90 Z" fill="#0E8A85"/>
<path d="M153.54,66.19 L158.14,66.19 L155.84,62.05 Z" fill="#0E8A85"/>
<circle cx="154.30" cy="64.47" r="2.00" fill="#0E8A85"/>
<path d="M151.87,67.89 L156.47,67.89 L154.17,63.75 Z" fill="#0E8A85"/>
<circle cx="153.18" cy="66.39" r="2.00" fill="#0E8A85"/>
<path d="M148.38,67.90 L152.98,67.90 L150.68,63.76 Z" fill="#0E8A85"/>
<path d="M146.05,69.72 L150.65,69.72 L148.35,65.58 Z" fill="#0E8A85"/>
<path d="M146.74,71.92 L151.34,71.92 L149.04,67.78 Z" fill="#0E8A85"/>
<path d="M143.58,69.51 L148.18,69.51 L145.88,65.37 Z" fill="#0E8A85"/>
<circle cx="145.08" cy="68.86" r="2.00" fill="#0E8A85"/>
<circle cx="143.83" cy="71.47" r="2.00" fill="#0E8A85"/>
<path d="M137.29,71.21 L141.89,71.21 L139.59,67.07 Z" fill="#0E8A85"/>
<path d="M137.88,72.48 L142.48,72.48 L140.18,68.34 Z" fill="#0E8A85"/>
<path d="M136.47,74.35 L141.07,74.35 L138.77,70.21 Z" fill="#0E8A85"/>
<path d="M136.27,75.90 L140.87,75.90 L138.57,71.76 Z" fill="#0E8A85"/>
<path d="M133.76,76.12 L138.36,76.12 L136.06,71.98 Z" fill="#0E8A85"/>
<circle cx="137.34" cy="77.76" r="2.00" fill="#0E8A85"/>
<path d="M132.31,77.45 L136.91,77.45 L134.61,73.31 Z" fill="#0E8A85"/>
<circle cx="132.52" cy="78.32" r="2.00" fill="#0E8A85"/>
<path d="M132.09,81.83 L136.69,81.83 L134.39,77.69 Z" fill="#0E8A85"/>
<path d="M129.40,82.12 L134.00,82.12 L131.70,77.98 Z" fill="#0E8A85"/>
<path d="M128.48,84.49 L133.08,84.49 L130.78,80.35 Z" fill="#0E8A85"/>
<path d="M128.35,87.56 L132.95,87.56 L130.65,83.42 Z" fill="#0E8A85"/>
<circle cx="131.24" cy="87.75" r="2.00" fill="#0E8A85"/>
<path d="M127.86,90.33 L132.46,90.33 L130.16,86.19 Z" fill="#0E8A85"/>
<circle cx="128.74" cy="88.83" r="2.00" fill="#0E8A85"/>
<circle cx="128.05" cy="92.51" r="2.00" fill="#0E8A85"/>
<path d="M124.64,95.32 L129.24,95.32 L126.94,91.18 Z" fill="#0E8A85"/>
<circle cx="127.45" cy="95.52" r="2.00" fill="#0E8A85"/>
<circle cx="128.62" cy="99.22" r="2.00" fill="#0E8A85"/>
<path d="M122.56,101.30 L127.16,101.30 L124.86,97.16 Z" fill="#0E8A85"/>
<line x1="129.62" y1="102.63" x2="129.03" y2="102.24" stroke="#333" stroke-width="0.4"/>
<path d="M127.32,104.47 L131.92,104.47 L129.62,100.33 Z" fill="#0E8A85"/>
<line x1="131.65" y1="106.33" x2="127.70" y2="103.82" stroke="#333" stroke-width="0.4"/>
<circle cx="131.65" cy="106.33" r="2.00" fill="#0E8A85"/>
<path d="M123.43,105.29 L128.03,105.29 L125.73,101.15 Z" fill="#0E8A85"/>
<line x1="128.15" y1="105.32" x2="126.77" y2="104.45" stroke="#333" stroke-width="0.4"/>
<circle cx="128.15" cy="105.32" r="2.00" fill="#0E8A85"/>
<line x1="129.81" y1="107.11" x2="126.28" y2="104.93" stroke="#333" stroke-width="0.4"/>
<circle cx="129.81" cy="107.11" r="2.00" fill="#0E8A85"/>
<line x1="127.64" y1="108.09" x2="124.97" y2="106.51" stroke="#333" stroke-width="0.4"/>
<path d="M125.34,109.93 L129.94,109.93 L127.64,105.79 Z" fill="#0E8A85"/>
<line x1="125.33" y1="107.96" x2="124.17" y2="107.28" stroke="#333" stroke-width="0.4"/>
<circle cx="125.33" cy="107.96" r="2.00" fill="#0E8A85"/>
<circle cx="122.51" cy="107.32" r="2.00" fill="#0E8A85"/>
<line x1="122.51" y1="109.80" x2="121.32" y2="109.16" stroke="#333" stroke-width="0.4"/>
<circle cx="122.51" cy="109.80" r="2.00" fill="#0E8A85"/>
<line x1="124.81" y1="111.09" x2="120.81" y2="108.90" stroke="#333" stroke-width="0.4"/>
<path d="M122.51,112.93 L127.11,112.93 L124.81,108.79 Z" fill="#0E8A85"/>
<line x1="121.34" y1="110.33" x2="119.46" y2="109.32" stroke="#333" stroke-width="0.4"/>
<path d="M119.04,112.17 L123.64,112.17 L121.34,108.03 Z" fill="#0E8A85"/>
<path d="M113.86,111.81 L118.46,111.81 L116.16,107.67 Z" fill="#0E8A85"/>
<path d="M112.25,112.23 L116.85,112.23 L114.55,108.09 Z" fill="#0E8A85"/>
<path d="M111.10,112.73 L115.70,112.73 L113.40,108.59 Z" fill="#0E8A85"/>
<circle cx="114.25" cy="111.84" r="2.00" fill="#0E8A85"/>
<line x1="114.19" y1="113.84" x2="113.68" y2="113.59" stroke="#333" stroke-width="0.4"/>
<path d="M111.89,115.68 L116.49,115.68 L114.19,111.54 Z" fill="#0E8A85"/>
<line x1="113.85" y1="114.58" x2="112.94" y2="114.16" stroke="#333" stroke-width="0.4"/>
<circle cx="113.85" cy="114.58" r="2.00" fill="#0E8A85"/>
<line x1="113.07" y1="116.37" x2="111.76" y2="115.79" stroke="#333" stroke-width="0.4"/>
<path d="M110.77,118.21 L115.37,118.21 L113.07,114.07 Z" fill="#0E8A85"/>
<line x1="111.81" y1="117.37" x2="110.76" y2="116.92" stroke="#333" stroke-width="0.4"/>
<path d="M109.51,119.21 L114.11,119.21 L111.81,115.07 Z" fill="#0E8A85"/>
<path d="M107.27,118.72 L111.87,118.72 L109.57,114.58 Z" fill="#0E8A85"/>
<path d="M104.42,118.46 L109.02,118.46 L106.72,114.32 Z" fill="#0E8A85"/>
<path d="M106.22,120.70 L110.82,120.70 L108.52,116.56 Z" fill="#0E8A85"/>
<path d="M103.88,121.13 L108.48,121.13 L106.18,116.99 Z" fill="#0E8A85"/>
<path d="M101.17,122.90 L105.77,122.90 L103.47,118.76 Z" fill="#0E8A85"/>
<circle cx="101.37" cy="121.95" r="2.00" fill="#0E8A85"/>
<path d="M100.48,124.20 L105.08,124.20 L102.78,120.06 Z" fill="#0E8A85"/>
<circle cx="101.90" cy="123.37" r="2.00" fill="#0E8A85"/>
<line x1="106.13" y1="125.22" x2="104.52" y2="124.67" stroke="#333" stroke-width="0.4"/>
<circle cx="106.13" cy="125.22" r="2.00" fill="#0E8A85"/>
<circle cx="103.25" cy="126.05" r="2.00" fill="#0E8A85"/>
<line x1="103.86" y1="127.82" x2="103.02" y2="127.56" stroke="#333" stroke-width="0.4"/>
<circle cx="103.86" cy="127.82" r="2.00" fill="#0E8A85"/>
<circle cx="98.85" cy="128.00" r="2.00" fill="#0E8A85"/>
<circle cx="99.69" cy="130.68" r="2.00" fill="#0E8A85"/>
<line x1="101.32" y1="132.97" x2="100.59" y2="132.77" stroke="#333" stroke-width="0.4"/>
<path d="M99.02,134.81 L103.62,134.81 L101.32,130.67 Z" fill="#0E8A85"/>
<path d="M92.15,134.73 L96.75,134.73 L94.45,130.59 Z" fill="#0E8A85"/>
<line x1="100.47" y1="135.57" x2="99.77" y2="135.40" stroke="#333" stroke-width="0.4"/>
<circle cx="100.47" cy="135.57" r="2.00" fill="#0E8A85"/>
<line x1="101.74" y1="137.05" x2="99.77" y2="136.59" stroke="#333" stroke-width="0.4"/>
<circle cx="101.74" cy="137.05" r="2.00" fill="#0E8A85"/>
<line x1="103.29" y1="139.05" x2="99.89" y2="138.31" stroke="#333" stroke-width="0.4"/>
<path d="M100.99,140.89 L105.59,140.89 L103.29,136.75 Z" fill="#0E8A85"/>
<path d="M93.09,140.66 L97.69,140.66 L95.39,136.52 Z" fill="#0E8A85"/>
<line x1="103.20" y1="141.04" x2="100.21" y2="140.44" stroke="#333" stroke-width="0.4"/>
<circle cx="103.20" cy="141.04" r="2.00" fill="#0E8A85"/>
<line x1="103.29" y1="142.50" x2="100.36" y2="141.95" stroke="#333" stroke-width="0.4"/>
<path d="M100.99,144.34 L105.59,144.34 L103.29,140.20 Z" fill="#0E8A85"/>
<path d="M95.26,144.00 L99.86,144.00 L97.56,139.86 Z" fill="#0E8A85"/>
<line x1="101.67" y1="144.60" x2="101.57" y2="144.58" stroke="#333" stroke-width="0.4"/>
<circle cx="101.67" cy="144.60" r="2.00" fill="#0E8A85"/>
<line x1="104.51" y1="146.23" x2="102.88" y2="145.96" stroke="#333" stroke-width="0.4"/>
<circle cx="104.51" cy="146.23" r="2.00" fill="#0E8A85"/>
<line x1="124.94" y1="88.27" x2="91.99" y2="62.72" stroke="#333" stroke-width="0.6"/>
<path d="M89.69,64.56 L94.29,64.56 L91.99,60.42 Z" fill="#0E8A85"/>
<line x1="131.63" y1="83.34" x2="105.94" y2="60.61" stroke="#333" stroke-width="0.6"/>
<path d="M103.64,62.45 L108.24,62.45 L105.94,58.31 Z" fill="#0E8A85"/>
<line x1="162.03" y1="60.71" x2="155.37" y2="49.54" stroke="#333" stroke-width="0.6"/>
<path d="M153.07,51.38 L157.67,51.38 L155.37,47.24 Z" fill="#0E8A85"/>
<line x1="167.04" y1="57.88" x2="161.43" y2="47.38" stroke="#333" stroke-width="0.6"/>
<path d="M159.13,49.22 L163.73,49.22 L161.43,45.08 Z" fill="#0E8A85"/>
<line x1="118.67" y1="106.84" x2="112.55" y2="103.44" stroke="#333" stroke-width="0.6"/>
<path d="M110.25,105.28 L114.85,105.28 L112.55,101.14 Z" fill="#0E8A85"/>
<text x="104.50" y="152.60" font-size="4.6" text-anchor="start" fill="#555" font-weight="normal">99</text>
<text x="116.00" y="152.80" font-size="4.6" text-anchor="start" fill="#555" font-weight="normal">99</text>
<path d="M290.55,41.27 A140.70,140.70 0 0 1 356.71,117.38" fill="none" stroke="#222" stroke-width="0.75"/>
<path d="M225.00,22.00 A143.50,143.50 0 0 1 227.28,22.02" fill="none" stroke="#1a1a1a" stroke-width="0.681632058672624"/>
<path d="M225.75,21.87 A143.63,143.63 0 0 1 230.67,22.00" fill="none" stroke="#1a1a1a" stroke-width="0.5305364088785623"/>
<path d="M226.25,20.90 A144.61,144.61 0 0 1 231.92,21.08" fill="none" stroke="#1a1a1a" stroke-width="0.43316489653489265"/>
<path d="M226.60,21.92 A143.60,143.60 0 0 1 230.65,22.03" fill="none" stroke="#1a1a1a" stroke-width="0.628870559009117"/>
<path d="M227.31,21.85 A143.68,143.68 0 0 1 230.18,21.93" fill="none" stroke="#1a1a1a" stroke-width="0.4049185523403899"/>
<path d="M227.80,22.60 A142.94,142.94 0 0 1 234.56,22.92" fill="none" stroke="#1a1a1a" stroke-width="0.5306438628277983"/>
<path d="M228.50,21.44 A144.12,144.12 0 0 1 231.99,21.58" fill="none" stroke="#1a1a1a" stroke-width="0.5371017535666335"/>
<path d="M228.92,21.95 A143.62,143.62 0 0 1 230.93,22.03" fill="none" stroke="#1a1a1a" stroke-width="0.6374963240376076"/>
<path d="M229.69,22.06 A143.54,143.54 0 0 1 232.14,22.17" fill="none" stroke="#1a1a1a" stroke-width="0.44447225418092395"/>
<path d="M230.34,23.56 A142.06,142.06 0 0 1 234.93,23.82" fill="none" stroke="#1a1a1a" stroke-width="0.514032303012912"/>
<path d="M231.19,22.89 A142.76,142.76 0 0 1 237.87,23.36" fill="none" stroke="#1a1a1a" stroke-width="0.45625793938831216"/>
<path d="M231.91,23.41 A142.29,142.29 0 0 1 238.88,23.94" fill="none" stroke="#1a1a1a" stroke-width="0.38183086084944157"/>
<path d="M232.63,24.00 A141.73,141.73 0 0 1 237.55,24.37" fill="none" stroke="#1a1a1a" stroke-width="0.5339854711515016"/>
<path d="M233.12,22.98 A142.78,142.78 0 0 1 236.81,23.26" fill="none" stroke="#1a1a1a" stroke-width="0.45876133808427666"/>
<path d="M233.44,24.05 A141.73,141.73 0 0 1 237.94,24.41" fill="none" stroke="#1a1a1a" stroke-width="0.6003010054935822"/>
<path d="M234.00,23.51 A142.30,142.30 0 0 1 236.56,23.71" fill="none" stroke="#1a1a1a" stroke-width="0.4879827107232103"/>
<path d="M234.60,23.17 A142.69,142.69 0 0 1 241.11,23.78" fill="none" stroke="#1a1a1a" stroke-width="0.57887776237621"/>
<path d="M234.87,24.35 A141.53,141.53 0 0 1 240.68,24.90" fill="none" stroke="#1a1a1a" stroke-width="0.43311728092069846"/>
<path d="M235.49,24.40 A141.53,141.53 0 0 1 237.52,24.57" fill="none" stroke="#1a1a1a" stroke-width="0.6970684744088175"/>
<path d="M236.19,24.95 A141.04,141.04 0 0 1 241.47,25.48" fill="none" stroke="#1a1a1a" stroke-width="0.4516377845385682"/>
<path d="M236.77,24.39 A141.65,141.65 0 0 1 240.35,24.74" fill="none" stroke="#1a1a1a" stroke-width="0.46808637353943816"/>
<path d="M237.33,24.21 A141.87,141.87 0 0 1 240.69,24.55" fill="none" stroke="#1a1a1a" stroke-width="0.41998063461327867"/>
<path d="M237.98,24.90 A141.25,141.25 0 0 1 245.02,25.75" fill="none" stroke="#1a1a1a" stroke-width="0.5469829105916368"/>
<path d="M238.67,24.97 A141.24,141.24 0 0 1 245.08,25.76" fill="none" stroke="#1a1a1a" stroke-width="0.38229579952100384"/>
<path d="M239.04,25.45 A140.80,140.80 0 0 1 244.63,26.14" fill="none" stroke="#1a1a1a" stroke-width="0.5979011026228634"/>
<path d="M239.53,24.94 A141.36,141.36 0 0 1 245.99,25.78" fill="none" stroke="#1a1a1a" stroke-width="0.5574588425187604"/>
<path d="M239.88,25.31 A141.04,141.04 0 0 1 242.68,25.64" fill="none" stroke="#1a1a1a" stroke-width="0.39343785905715206"/>
<path d="M240.39,25.65 A140.75,140.75 0 0 1 247.27,26.61" fill="none" stroke="#1a1a1a" stroke-width="0.49945444631884894"/>
<path d="M241.11,24.67 A141.80,141.80 0 0 1 247.20,25.53" fill="none" stroke="#1a1a1a" stroke-width="0.6373877856281569"/>
<path d="M241.57,25.32 A141.21,141.21 0 0 1 245.74,25.89" fill="none" stroke="#1a1a1a" stroke-width="0.35539891760370446"/>
<path d="M242.19,24.72 A141.89,141.89 0 0 1 249.44,25.82" fill="none" stroke="#1a1a1a" stroke-width="0.6263848545832035"/>
<path d="M242.84,24.98 A141.71,141.71 0 0 1 244.90,25.26" fill="none" stroke="#1a1a1a" stroke-width="0.46585540634442846"/>
<path d="M243.36,24.97 A141.79,141.79 0 0 1 245.89,25.34" fill="none" stroke="#1a1a1a" stroke-width="0.4821643369027151"/>
<path d="M243.99,24.81 A142.04,142.04 0 0 1 250.39,25.84" fill="none" stroke="#1a1a1a" stroke-width="0.5640030276008059"/>
<path d="M244.40,24.91 A141.99,141.99 0 0 1 251.21,26.04" fill="none" stroke="#1a1a1a" stroke-width="0.5418888034810894"/>
<path d="M244.85,25.48 A141.49,141.49 0 0 1 247.56,25.90" fill="none" stroke="#1a1a1a" stroke-width="0.5996974138122741"/>
<path d="M245.67,25.58 A141.51,141.51 0 0 1 251.45,26.58" fill="none" stroke="#1a1a1a" stroke-width="0.6424329748568558"/>
<path d="M246.23,24.86 A142.31,142.31 0 0 1 251.57,25.79" fill="none" stroke="#1a1a1a" stroke-width="0.419264711602144"/>
<path d="M246.41,26.21 A141.00,141.00 0 0 1 251.43,27.10" fill="none" stroke="#1a1a1a" stroke-width="0.5939854671564125"/>
<path d="M247.12,25.04 A142.27,142.27 0 0 1 251.02,25.72" fill="none" stroke="#1a1a1a" stroke-width="0.5120616689998221"/>
<path d="M247.53,25.03 A142.35,142.35 0 0 1 250.22,25.49" fill="none" stroke="#1a1a1a" stroke-width="0.6664200648610554"/>
<path d="M248.01,25.89 A141.57,141.57 0 0 1 252.95,26.82" fill="none" stroke="#1a1a1a" stroke-width="0.44252880743881406"/>
<path d="M248.93,25.24 A142.37,142.37 0 0 1 255.27,26.49" fill="none" stroke="#1a1a1a" stroke-width="0.5605271037740539"/>
<path d="M249.28,25.62 A142.06,142.06 0 0 1 252.78,26.29" fill="none" stroke="#1a1a1a" stroke-width="0.6639528615569461"/>
<path d="M249.66,26.17 A141.58,141.58 0 0 1 256.02,27.47" fill="none" stroke="#1a1a1a" stroke-width="0.4149508920248871"/>
<path d="M250.09,27.21 A140.64,140.64 0 0 1 252.19,27.61" fill="none" stroke="#1a1a1a" stroke-width="0.41302373725138863"/>
<path d="M251.21,25.78 A142.25,142.25 0 0 1 256.67,26.93" fill="none" stroke="#1a1a1a" stroke-width="0.45767737153647003"/>
<path d="M251.80,26.28 A141.87,141.87 0 0 1 255.77,27.12" fill="none" stroke="#1a1a1a" stroke-width="0.5571643179216499"/>
<path d="M252.26,27.77 A140.50,140.50 0 0 1 255.24,28.40" fill="none" stroke="#1a1a1a" stroke-width="0.513808350723769"/>
<path d="M252.81,27.17 A141.20,141.20 0 0 1 257.74,28.27" fill="none" stroke="#1a1a1a" stroke-width="0.4107909241146205"/>
<path d="M253.35,27.52 A140.96,140.96 0 0 1 258.26,28.64" fill="none" stroke="#1a1a1a" stroke-width="0.4662342113905814"/>
<path d="M253.90,28.08 A140.53,140.53 0 0 1 259.34,29.36" fill="none" stroke="#1a1a1a" stroke-width="0.4006615358673948"/>
<path d="M254.92,27.23 A141.58,141.58 0 0 1 259.33,28.27" fill="none" stroke="#1a1a1a" stroke-width="0.4939987451869562"/>
<path d="M255.60,27.21 A141.74,141.74 0 0 1 261.52,28.68" fill="none" stroke="#1a1a1a" stroke-width="0.6131005313139293"/>
<path d="M256.30,26.79 A142.31,142.31 0 0 1 262.66,28.40" fill="none" stroke="#1a1a1a" stroke-width="0.6492665282756009"/>
<path d="M256.59,27.95 A141.25,141.25 0 0 1 261.48,29.18" fill="none" stroke="#1a1a1a" stroke-width="0.6668367872284934"/>
<path d="M257.22,27.92 A141.41,141.41 0 0 1 261.41,28.99" fill="none" stroke="#1a1a1a" stroke-width="0.666499387163477"/>
<path d="M257.50,28.91 A140.52,140.52 0 0 1 263.18,30.41" fill="none" stroke="#1a1a1a" stroke-width="0.665048219648206"/>
<path d="M258.43,28.09 A141.54,141.54 0 0 1 264.28,29.67" fill="none" stroke="#1a1a1a" stroke-width="0.45666337429664283"/>
<path d="M258.80,29.21 A140.54,140.54 0 0 1 261.35,29.88" fill="none" stroke="#1a1a1a" stroke-width="0.5064354720325873"/>
<path d="M259.53,28.74 A141.18,141.18 0 0 1 261.71,29.32" fill="none" stroke="#1a1a1a" stroke-width="0.593216626993422"/>
<path d="M260.05,29.17 A140.89,140.89 0 0 1 263.54,30.13" fill="none" stroke="#1a1a1a" stroke-width="0.4884342717311129"/>
<path d="M260.41,29.59 A140.57,140.57 0 0 1 267.02,31.51" fill="none" stroke="#1a1a1a" stroke-width="0.6882656012103996"/>
<path d="M261.46,28.28 A142.11,142.11 0 0 1 265.58,29.45" fill="none" stroke="#1a1a1a" stroke-width="0.6318401747006448"/>
<path d="M261.84,28.61 A141.89,141.89 0 0 1 266.71,30.03" fill="none" stroke="#1a1a1a" stroke-width="0.6661950683229367"/>
<path d="M262.25,28.62 A141.99,141.99 0 0 1 264.80,29.35" fill="none" stroke="#1a1a1a" stroke-width="0.5381564900395311"/>
<path d="M262.63,30.28 A140.50,140.50 0 0 1 265.78,31.20" fill="none" stroke="#1a1a1a" stroke-width="0.454743622678321"/>
<path d="M263.15,30.29 A140.63,140.63 0 0 1 269.64,32.31" fill="none" stroke="#1a1a1a" stroke-width="0.6354062045787292"/>
<path d="M263.83,29.88 A141.20,141.20 0 0 1 268.74,31.41" fill="none" stroke="#1a1a1a" stroke-width="0.36606136901064457"/>
<path d="M264.47,28.98 A142.25,142.25 0 0 1 267.98,30.06" fill="none" stroke="#1a1a1a" stroke-width="0.5244462832818132"/>
<path d="M265.30,29.05 A142.42,142.42 0 0 1 269.66,30.43" fill="none" stroke="#1a1a1a" stroke-width="0.42227785379396876"/>
<path d="M265.74,29.28 A142.33,142.33 0 0 1 272.29,31.43" fill="none" stroke="#1a1a1a" stroke-width="0.41842660241243945"/>
<path d="M266.16,30.53 A141.26,141.26 0 0 1 270.47,31.93" fill="none" stroke="#1a1a1a" stroke-width="0.4101599285184021"/>
<path d="M267.28,29.56 A142.51,142.51 0 0 1 270.22,30.52" fill="none" stroke="#1a1a1a" stroke-width="0.5713379687270222"/>
<path d="M267.64,29.90 A142.30,142.30 0 0 1 269.78,30.60" fill="none" stroke="#1a1a1a" stroke-width="0.38713530605381624"/>
<path d="M267.98,31.14 A141.22,141.22 0 0 1 274.45,33.41" fill="none" stroke="#1a1a1a" stroke-width="0.6543552439445675"/>
<path d="M268.54,31.67 A140.89,140.89 0 0 1 273.95,33.57" fill="none" stroke="#1a1a1a" stroke-width="0.6782322073178284"/>
<path d="M269.04,31.93 A140.80,140.80 0 0 1 272.04,32.97" fill="none" stroke="#1a1a1a" stroke-width="0.45750710772149394"/>
<path d="M269.78,31.92 A141.04,141.04 0 0 1 272.56,32.90" fill="none" stroke="#1a1a1a" stroke-width="0.4324058895967888"/>
<path d="M270.79,31.04 A142.21,142.21 0 0 1 274.58,32.40" fill="none" stroke="#1a1a1a" stroke-width="0.5817030708010709"/>
<path d="M271.41,31.65 A141.84,141.84 0 0 1 274.45,32.75" fill="none" stroke="#1a1a1a" stroke-width="0.455326921220264"/>
<path d="M272.23,31.76 A142.01,142.01 0 0 1 275.50,32.97" fill="none" stroke="#1a1a1a" stroke-width="0.5739755677709748"/>
<path d="M272.81,31.30 A142.63,142.63 0 0 1 276.93,32.86" fill="none" stroke="#1a1a1a" stroke-width="0.5349042968886659"/>
<path d="M272.77,33.21 A140.82,140.82 0 0 1 277.63,35.08" fill="none" stroke="#1a1a1a" stroke-width="0.4495888910296494"/>
<path d="M273.72,31.98 A142.31,142.31 0 0 1 276.02,32.85" fill="none" stroke="#1a1a1a" stroke-width="0.4498038008505192"/>
<path d="M274.02,33.23 A141.24,141.24 0 0 1 277.27,34.49" fill="none" stroke="#1a1a1a" stroke-width="0.5418366540975101"/>
<path d="M274.88,32.18 A142.52,142.52 0 0 1 281.73,34.98" fill="none" stroke="#1a1a1a" stroke-width="0.3617639766459871"/>
<path d="M275.33,32.64 A142.25,142.25 0 0 1 279.12,34.16" fill="none" stroke="#1a1a1a" stroke-width="0.6752423063818025"/>
<path d="M275.49,33.88 A141.15,141.15 0 0 1 280.10,35.76" fill="none" stroke="#1a1a1a" stroke-width="0.5757381906240485"/>
<path d="M276.32,33.19 A142.09,142.09 0 0 1 282.09,35.60" fill="none" stroke="#1a1a1a" stroke-width="0.5308572802842142"/>
<path d="M277.01,33.06 A142.47,142.47 0 0 1 282.30,35.28" fill="none" stroke="#1a1a1a" stroke-width="0.5321825344899856"/>
<path d="M277.29,34.56 A141.18,141.18 0 0 1 282.99,37.00" fill="none" stroke="#1a1a1a" stroke-width="0.4078112862202436"/>
<path d="M277.96,34.63 A141.37,141.37 0 0 1 281.98,36.34" fill="none" stroke="#1a1a1a" stroke-width="0.6205602157090425"/>
<path d="M279.09,33.82 A142.55,142.55 0 0 1 282.11,35.11" fill="none" stroke="#1a1a1a" stroke-width="0.5211912109736773"/>
<path d="M279.37,34.33 A142.19,142.19 0 0 1 283.69,36.22" fill="none" stroke="#1a1a1a" stroke-width="0.362366670525652"/>
<path d="M280.10,34.26 A142.53,142.53 0 0 1 284.78,36.35" fill="none" stroke="#1a1a1a" stroke-width="0.6555079490559313"/>
<path d="M280.09,35.41 A141.47,141.47 0 0 1 281.99,36.23" fill="none" stroke="#1a1a1a" stroke-width="0.5236365723025864"/>
<path d="M280.86,35.04 A142.11,142.11 0 0 1 283.98,36.44" fill="none" stroke="#1a1a1a" stroke-width="0.6294817753942772"/>
<path d="M281.59,34.31 A143.07,143.07 0 0 1 286.25,36.44" fill="none" stroke="#1a1a1a" stroke-width="0.5401333403052502"/>
<path d="M281.78,35.74 A141.84,141.84 0 0 1 284.31,36.88" fill="none" stroke="#1a1a1a" stroke-width="0.45885332747456375"/>
<path d="M282.19,35.71 A142.04,142.04 0 0 1 287.06,37.98" fill="none" stroke="#1a1a1a" stroke-width="0.5339098198208785"/>
<path d="M282.88,35.36 A142.64,142.64 0 0 1 285.13,36.39" fill="none" stroke="#1a1a1a" stroke-width="0.6371972272447861"/>
<path d="M283.02,36.09 A142.03,142.03 0 0 1 285.61,37.29" fill="none" stroke="#1a1a1a" stroke-width="0.59173343204448"/>
<path d="M284.19,35.36 A143.17,143.17 0 0 1 286.30,36.36" fill="none" stroke="#1a1a1a" stroke-width="0.4937204291179458"/>
<path d="M284.22,36.55 A142.11,142.11 0 0 1 290.75,39.78" fill="none" stroke="#1a1a1a" stroke-width="0.3647409110884823"/>
<path d="M285.25,35.76 A143.25,143.25 0 0 1 291.88,39.08" fill="none" stroke="#1a1a1a" stroke-width="0.4006020498321304"/>
<path d="M285.78,35.98 A143.29,143.29 0 0 1 287.78,36.94" fill="none" stroke="#1a1a1a" stroke-width="0.4342168140668398"/>
<path d="M286.02,37.31 A142.19,142.19 0 0 1 289.72,39.15" fill="none" stroke="#1a1a1a" stroke-width="0.4543236402061767"/>
<path d="M286.50,37.61 A142.13,142.13 0 0 1 288.45,38.57" fill="none" stroke="#1a1a1a" stroke-width="0.6986428670656448"/>
<path d="M287.73,36.75 A143.44,143.44 0 0 1 290.65,38.23" fill="none" stroke="#1a1a1a" stroke-width="0.43862314590510476"/>
<path d="M287.83,37.96 A142.40,142.40 0 0 1 291.84,40.03" fill="none" stroke="#1a1a1a" stroke-width="0.6763585659081719"/>
<path d="M288.37,38.07 A142.54,142.54 0 0 1 294.86,41.53" fill="none" stroke="#1a1a1a" stroke-width="0.5638127839298068"/>
<path d="M288.74,38.14 A142.64,142.64 0 0 1 293.65,40.74" fill="none" stroke="#1a1a1a" stroke-width="0.37048148183599905"/>
<path d="M289.45,37.90 A143.17,143.17 0 0 1 295.39,41.11" fill="none" stroke="#1a1a1a" stroke-width="0.5567305663479011"/>
<path d="M289.91,38.74 A142.64,142.64 0 0 1 293.56,40.69" fill="none" stroke="#1a1a1a" stroke-width="0.6450667114903188"/>
<path d="M290.66,38.47 A143.23,143.23 0 0 1 293.46,39.97" fill="none" stroke="#1a1a1a" stroke-width="0.4715942258855055"/>
<path d="M290.81,39.12 A142.73,142.73 0 0 1 293.36,40.48" fill="none" stroke="#1a1a1a" stroke-width="0.4212755392497597"/>
<path d="M291.12,39.51 A142.52,142.52 0 0 1 294.35,41.27" fill="none" stroke="#1a1a1a" stroke-width="0.5064885211853336"/>
<path d="M292.03,39.60 A142.86,142.86 0 0 1 297.88,42.92" fill="none" stroke="#1a1a1a" stroke-width="0.4216043057971728"/>
<path d="M291.89,40.99 A141.57,141.57 0 0 1 296.88,43.82" fill="none" stroke="#1a1a1a" stroke-width="0.47698605307976705"/>
<path d="M292.23,41.37 A141.40,141.40 0 0 1 294.82,42.82" fill="none" stroke="#1a1a1a" stroke-width="0.4418177320006902"/>
<path d="M293.58,40.05 A143.21,143.21 0 0 1 298.71,43.02" fill="none" stroke="#1a1a1a" stroke-width="0.4440177197470753"/>
<path d="M293.24,41.75 A141.56,141.56 0 0 1 299.33,45.34" fill="none" stroke="#1a1a1a" stroke-width="0.47590822464213917"/>
<path d="M294.42,41.13 A142.67,142.67 0 0 1 300.40,44.69" fill="none" stroke="#1a1a1a" stroke-width="0.3571390595234594"/>
<path d="M294.48,42.05 A141.90,141.90 0 0 1 296.59,43.27" fill="none" stroke="#1a1a1a" stroke-width="0.6588352883866453"/>
<path d="M295.30,41.63 A142.67,142.67 0 0 1 299.46,44.11" fill="none" stroke="#1a1a1a" stroke-width="0.36921731051641177"/>
<path d="M295.17,42.95 A141.47,141.47 0 0 1 297.07,44.06" fill="none" stroke="#1a1a1a" stroke-width="0.402804199828687"/>
<path d="M295.46,43.72 A140.94,140.94 0 0 1 298.60,45.61" fill="none" stroke="#1a1a1a" stroke-width="0.49841874888180215"/>
<path d="M296.07,43.90 A141.10,141.10 0 0 1 301.00,46.94" fill="none" stroke="#1a1a1a" stroke-width="0.4411369618762397"/>
<path d="M297.18,43.41 A142.09,142.09 0 0 1 299.56,44.86" fill="none" stroke="#1a1a1a" stroke-width="0.4216820369818029"/>
<path d="M297.58,43.68 A142.06,142.06 0 0 1 301.15,45.89" fill="none" stroke="#1a1a1a" stroke-width="0.48527742945320884"/>
<path d="M297.57,45.20 A140.75,140.75 0 0 1 300.57,47.08" fill="none" stroke="#1a1a1a" stroke-width="0.4707348113056857"/>
<path d="M297.66,45.90 A140.20,140.20 0 0 1 299.44,47.01" fill="none" stroke="#1a1a1a" stroke-width="0.5706378897204063"/>
<path d="M299.03,44.87 A141.79,141.79 0 0 1 305.13,48.86" fill="none" stroke="#1a1a1a" stroke-width="0.45433266335090183"/>
<path d="M299.65,45.16 A141.87,141.87 0 0 1 302.31,46.87" fill="none" stroke="#1a1a1a" stroke-width="0.5912238547480158"/>
<path d="M300.17,45.60 A141.78,141.78 0 0 1 305.76,49.31" fill="none" stroke="#1a1a1a" stroke-width="0.43211013767240886"/>
<path d="M299.59,47.74 A139.66,139.66 0 0 1 303.13,50.08" fill="none" stroke="#1a1a1a" stroke-width="0.4873537113705344"/>
<path d="M300.29,47.33 A140.38,140.38 0 0 1 303.40,49.39" fill="none" stroke="#1a1a1a" stroke-width="0.523989881919084"/>
<path d="M300.42,48.02 A139.88,139.88 0 0 1 303.84,50.30" fill="none" stroke="#1a1a1a" stroke-width="0.5163277616270106"/>
<path d="M301.46,47.20 A141.13,141.13 0 0 1 304.18,49.02" fill="none" stroke="#1a1a1a" stroke-width="0.3825666555015107"/>
<path d="M301.58,47.95 A140.57,140.57 0 0 1 303.89,49.49" fill="none" stroke="#1a1a1a" stroke-width="0.5539231765266628"/>
<path d="M302.36,48.02 A140.94,140.94 0 0 1 307.09,51.30" fill="none" stroke="#1a1a1a" stroke-width="0.35806577701781706"/>
<path d="M302.57,48.67 A140.51,140.51 0 0 1 304.47,49.97" fill="none" stroke="#1a1a1a" stroke-width="0.491526612231143"/>
<path d="M303.07,48.59 A140.86,140.86 0 0 1 307.28,51.53" fill="none" stroke="#1a1a1a" stroke-width="0.5141287349292467"/>
<path d="M303.17,49.34 A140.29,140.29 0 0 1 304.89,50.53" fill="none" stroke="#1a1a1a" stroke-width="0.47148034247189824"/>
<path d="M304.29,49.09 A141.13,141.13 0 0 1 307.06,51.04" fill="none" stroke="#1a1a1a" stroke-width="0.5838201877509821"/>
<path d="M304.52,49.51 A140.91,140.91 0 0 1 308.83,52.60" fill="none" stroke="#1a1a1a" stroke-width="0.6841301673218165"/>
<path d="M305.13,49.56 A141.22,141.22 0 0 1 310.84,53.74" fill="none" stroke="#1a1a1a" stroke-width="0.6200155129763241"/>
<path d="M305.76,49.80 A141.39,141.39 0 0 1 309.17,52.27" fill="none" stroke="#1a1a1a" stroke-width="0.49544948393307475"/>
<path d="M306.49,49.60 A141.97,141.97 0 0 1 311.93,53.65" fill="none" stroke="#1a1a1a" stroke-width="0.4836568421737544"/>
<path d="M305.96,51.71 A139.95,139.95 0 0 1 308.13,53.29" fill="none" stroke="#1a1a1a" stroke-width="0.5274769406430455"/>
<path d="M307.03,51.07 A141.08,141.08 0 0 1 312.81,55.47" fill="none" stroke="#1a1a1a" stroke-width="0.4024497010700028"/>
<path d="M307.47,51.22 A141.22,141.22 0 0 1 311.98,54.64" fill="none" stroke="#1a1a1a" stroke-width="0.4320927201375953"/>
<path d="M308.47,50.44 A142.44,142.44 0 0 1 311.78,52.93" fill="none" stroke="#1a1a1a" stroke-width="0.43376721509884786"/>
<path d="M309.50,50.03 A143.38,143.38 0 0 1 313.49,53.07" fill="none" stroke="#1a1a1a" stroke-width="0.5685353803501577"/>
<path d="M310.72,49.45 A144.57,144.57 0 0 1 316.54,54.01" fill="none" stroke="#1a1a1a" stroke-width="0.46673207985180115"/>
<path d="M311.58,49.18 A145.30,145.30 0 0 1 314.57,51.49" fill="none" stroke="#1a1a1a" stroke-width="0.6005806403069811"/>
<path d="M312.28,49.43 A145.52,145.52 0 0 1 318.08,54.06" fill="none" stroke="#1a1a1a" stroke-width="0.6385362219539339"/>
<path d="M312.80,49.46 A145.81,145.81 0 0 1 316.56,52.42" fill="none" stroke="#1a1a1a" stroke-width="0.5473354350983148"/>
<path d="M313.02,50.07 A145.46,145.46 0 0 1 317.87,53.96" fill="none" stroke="#1a1a1a" stroke-width="0.5368950890334603"/>
<path d="M313.35,50.43 A145.38,145.38 0 0 1 316.36,52.81" fill="none" stroke="#1a1a1a" stroke-width="0.41222492770181907"/>
<path d="M313.61,51.10 A145.01,145.01 0 0 1 315.47,52.58" fill="none" stroke="#1a1a1a" stroke-width="0.37403686371625905"/>
<path d="M314.93,50.07 A146.63,146.63 0 0 1 317.02,51.75" fill="none" stroke="#1a1a1a" stroke-width="0.5080532031455952"/>
<path d="M315.11,51.06 A145.97,145.97 0 0 1 317.40,52.91" fill="none" stroke="#1a1a1a" stroke-width="0.653201708156222"/>
<path d="M314.94,52.55 A144.70,144.70 0 0 1 317.59,54.72" fill="none" stroke="#1a1a1a" stroke-width="0.5276074443669118"/>
<path d="M316.12,52.28 A145.65,145.65 0 0 1 320.74,56.18" fill="none" stroke="#1a1a1a" stroke-width="0.43813563643917686"/>
<path d="M316.54,52.91 A145.43,145.43 0 0 1 319.52,55.41" fill="none" stroke="#1a1a1a" stroke-width="0.6157409844673811"/>
<path d="M318.07,52.29 A146.88,146.88 0 0 1 322.06,55.70" fill="none" stroke="#1a1a1a" stroke-width="0.49720766152767193"/>
<path d="M318.22,53.23 A146.25,146.25 0 0 1 323.27,57.65" fill="none" stroke="#1a1a1a" stroke-width="0.6304334622344763"/>
<path d="M318.06,54.08 A145.49,145.49 0 0 1 322.41,57.88" fill="none" stroke="#1a1a1a" stroke-width="0.4308643540605911"/>
<path d="M317.69,55.22 A144.38,144.38 0 0 1 321.65,58.69" fill="none" stroke="#1a1a1a" stroke-width="0.6793516291437035"/>
<path d="M318.54,55.51 A144.71,144.71 0 0 1 322.91,59.40" fill="none" stroke="#1a1a1a" stroke-width="0.496756269694808"/>
<path d="M319.56,55.36 A145.49,145.49 0 0 1 324.92,60.23" fill="none" stroke="#1a1a1a" stroke-width="0.6960824947697423"/>
<path d="M320.47,54.89 A146.44,146.44 0 0 1 322.50,56.69" fill="none" stroke="#1a1a1a" stroke-width="0.36483777961008573"/>
<path d="M320.88,55.19 A146.48,146.48 0 0 1 326.49,60.36" fill="none" stroke="#1a1a1a" stroke-width="0.3920509337753157"/>
<path d="M319.84,57.17 A144.30,144.30 0 0 1 323.55,60.56" fill="none" stroke="#1a1a1a" stroke-width="0.5190654442454155"/>
<path d="M320.81,56.90 A145.15,145.15 0 0 1 325.56,61.31" fill="none" stroke="#1a1a1a" stroke-width="0.6435410158884411"/>
<path d="M321.34,57.05 A145.39,145.39 0 0 1 325.35,60.78" fill="none" stroke="#1a1a1a" stroke-width="0.6178805161245151"/>
<path d="M321.95,57.65 A145.35,145.35 0 0 1 326.24,61.69" fill="none" stroke="#1a1a1a" stroke-width="0.5410818889658275"/>
<path d="M321.98,58.74 A144.57,144.57 0 0 1 324.17,60.78" fill="none" stroke="#1a1a1a" stroke-width="0.38749095830816127"/>
<path d="M322.79,59.08 A144.87,144.87 0 0 1 326.22,62.35" fill="none" stroke="#1a1a1a" stroke-width="0.39212940672897545"/>
<path d="M322.66,59.98 A144.12,144.12 0 0 1 326.36,63.55" fill="none" stroke="#1a1a1a" stroke-width="0.40027338673040874"/>
<path d="M323.78,59.76 A145.04,145.04 0 0 1 326.15,62.04" fill="none" stroke="#1a1a1a" stroke-width="0.5187691362230852"/>
<path d="M324.24,60.06 A145.14,145.14 0 0 1 325.90,61.66" fill="none" stroke="#1a1a1a" stroke-width="0.3725318934954354"/>
<path d="M325.08,60.35 A145.51,145.51 0 0 1 326.85,62.07" fill="none" stroke="#1a1a1a" stroke-width="0.4138738342948562"/>
<path d="M327.15,59.07 A147.86,147.86 0 0 1 329.43,61.33" fill="none" stroke="#1a1a1a" stroke-width="0.6535376846268546"/>
<path d="M326.40,60.72 A146.16,146.16 0 0 1 331.00,65.40" fill="none" stroke="#1a1a1a" stroke-width="0.4885783124348454"/>
<path d="M327.05,60.60 A146.70,146.70 0 0 1 331.08,64.70" fill="none" stroke="#1a1a1a" stroke-width="0.5680619920667412"/>
<path d="M328.38,59.97 A148.08,148.08 0 0 1 333.24,64.98" fill="none" stroke="#1a1a1a" stroke-width="0.698002608357398"/>
<path d="M328.67,60.51 A147.90,147.90 0 0 1 332.97,64.96" fill="none" stroke="#1a1a1a" stroke-width="0.4115469142798005"/>
<path d="M327.48,62.23 A145.84,145.84 0 0 1 329.38,64.16" fill="none" stroke="#1a1a1a" stroke-width="0.3761299874250512"/>
<path d="M329.31,61.17 A147.88,147.88 0 0 1 331.98,63.92" fill="none" stroke="#1a1a1a" stroke-width="0.5299859480041571"/>
<path d="M328.38,62.61 A146.21,146.21 0 0 1 333.47,68.02" fill="none" stroke="#1a1a1a" stroke-width="0.3538599634051384"/>
<path d="M330.34,61.57 A148.33,148.33 0 0 1 334.84,66.37" fill="none" stroke="#1a1a1a" stroke-width="0.6073910621795657"/>
<path d="M330.83,61.89 A148.46,148.46 0 0 1 335.45,66.86" fill="none" stroke="#1a1a1a" stroke-width="0.6186974252082345"/>
<path d="M329.93,63.96 A146.37,146.37 0 0 1 334.92,69.41" fill="none" stroke="#1a1a1a" stroke-width="0.49079285557548247"/>
<path d="M330.89,64.04 A147.02,147.02 0 0 1 335.73,69.36" fill="none" stroke="#1a1a1a" stroke-width="0.3582231730470078"/>
<path d="M331.30,64.55 A146.96,146.96 0 0 1 334.17,67.68" fill="none" stroke="#1a1a1a" stroke-width="0.4792616119769224"/>
<path d="M333.21,63.72 A148.92,148.92 0 0 1 336.02,66.80" fill="none" stroke="#1a1a1a" stroke-width="0.5733098388271656"/>
<path d="M332.29,65.32 A147.16,147.16 0 0 1 337.05,70.69" fill="none" stroke="#1a1a1a" stroke-width="0.46256893730141263"/>
<path d="M332.72,65.48 A147.36,147.36 0 0 1 336.86,70.17" fill="none" stroke="#1a1a1a" stroke-width="0.4239686125250097"/>
<path d="M333.76,65.54 A148.09,148.09 0 0 1 337.68,69.99" fill="none" stroke="#1a1a1a" stroke-width="0.4120530029506742"/>
<path d="M333.04,66.75 A146.74,146.74 0 0 1 335.71,69.77" fill="none" stroke="#1a1a1a" stroke-width="0.5007624835349411"/>
<path d="M334.19,66.20 A147.96,147.96 0 0 1 337.07,69.47" fill="none" stroke="#1a1a1a" stroke-width="0.4625244534218097"/>
<path d="M335.77,65.64 A149.51,149.51 0 0 1 337.93,68.09" fill="none" stroke="#1a1a1a" stroke-width="0.6581683364592263"/>
<path d="M335.64,66.47 A148.86,148.86 0 0 1 337.42,68.50" fill="none" stroke="#1a1a1a" stroke-width="0.6956250623802525"/>
<path d="M336.58,66.43 A149.59,149.59 0 0 1 338.77,68.96" fill="none" stroke="#1a1a1a" stroke-width="0.4928758522357458"/>
<path d="M335.05,68.74 A146.92,146.92 0 0 1 337.39,71.47" fill="none" stroke="#1a1a1a" stroke-width="0.5870253353307902"/>
<path d="M336.00,69.04 A147.44,147.44 0 0 1 338.00,71.40" fill="none" stroke="#1a1a1a" stroke-width="0.47501519161299355"/>
<path d="M336.12,70.08 A146.85,146.85 0 0 1 339.70,74.42" fill="none" stroke="#1a1a1a" stroke-width="0.4823409454440344"/>
<path d="M336.75,70.45 A147.09,147.09 0 0 1 340.25,74.74" fill="none" stroke="#1a1a1a" stroke-width="0.6606708977655511"/>
<path d="M338.40,70.11 A148.57,148.57 0 0 1 341.52,73.96" fill="none" stroke="#1a1a1a" stroke-width="0.5487073598331537"/>
<path d="M339.24,69.96 A149.31,149.31 0 0 1 343.01,74.67" fill="none" stroke="#1a1a1a" stroke-width="0.5086255833704973"/>
<path d="M338.58,71.43 A147.86,147.86 0 0 1 341.23,74.74" fill="none" stroke="#1a1a1a" stroke-width="0.43050926760889324"/>
<path d="M339.44,71.59 A148.42,148.42 0 0 1 342.54,75.52" fill="none" stroke="#1a1a1a" stroke-width="0.3612727138018195"/>
<path d="M339.54,72.39 A148.00,148.00 0 0 1 342.88,76.68" fill="none" stroke="#1a1a1a" stroke-width="0.5581000750445605"/>
<path d="M339.27,73.69 A146.97,146.97 0 0 1 342.14,77.41" fill="none" stroke="#1a1a1a" stroke-width="0.6975051119148253"/>
<path d="M340.18,73.91 A147.55,147.55 0 0 1 343.94,78.88" fill="none" stroke="#1a1a1a" stroke-width="0.6962962075553305"/>
<path d="M342.09,73.13 A149.54,149.54 0 0 1 343.81,75.36" fill="none" stroke="#1a1a1a" stroke-width="0.6965248805587948"/>
<path d="M340.68,75.02 A147.26,147.26 0 0 1 344.74,80.48" fill="none" stroke="#1a1a1a" stroke-width="0.5772295775001849"/>
<path d="M342.90,74.37 A149.41,149.41 0 0 1 346.84,79.74" fill="none" stroke="#1a1a1a" stroke-width="0.529060815186214"/>
<path d="M341.23,76.75 A146.64,146.64 0 0 1 345.30,82.38" fill="none" stroke="#1a1a1a" stroke-width="0.599073216094443"/>
<path d="M343.68,75.51 A149.34,149.34 0 0 1 346.45,79.29" fill="none" stroke="#1a1a1a" stroke-width="0.5377118986474358"/>
<path d="M342.38,77.50 A147.11,147.11 0 0 1 344.52,80.44" fill="none" stroke="#1a1a1a" stroke-width="0.5752972940615267"/>
<path d="M343.67,77.03 A148.42,148.42 0 0 1 347.46,82.38" fill="none" stroke="#1a1a1a" stroke-width="0.5217635192489426"/>
<path d="M344.69,76.89 A149.32,149.32 0 0 1 348.70,82.61" fill="none" stroke="#1a1a1a" stroke-width="0.6197810929602289"/>
<path d="M345.39,77.18 A149.72,149.72 0 0 1 349.21,82.65" fill="none" stroke="#1a1a1a" stroke-width="0.40311921636821363"/>
<path d="M343.31,79.38 A146.74,146.74 0 0 1 344.62,81.22" fill="none" stroke="#1a1a1a" stroke-width="0.4710256467337952"/>
<path d="M345.99,78.44 A149.46,149.46 0 0 1 347.58,80.70" fill="none" stroke="#1a1a1a" stroke-width="0.4135962397980075"/>
<path d="M346.37,78.87 A149.52,149.52 0 0 1 349.55,83.52" fill="none" stroke="#1a1a1a" stroke-width="0.6656277844399849"/>
<path d="M347.03,78.90 A150.05,150.05 0 0 1 348.90,81.60" fill="none" stroke="#1a1a1a" stroke-width="0.5702234235461185"/>
<path d="M346.71,80.13 A149.08,149.08 0 0 1 348.52,82.78" fill="none" stroke="#1a1a1a" stroke-width="0.5839395634683691"/>
<path d="M344.85,82.14 A146.40,146.40 0 0 1 347.05,85.42" fill="none" stroke="#1a1a1a" stroke-width="0.46036569994411036"/>
<path d="M346.05,82.14 A147.39,147.39 0 0 1 349.06,86.70" fill="none" stroke="#1a1a1a" stroke-width="0.5931990278762146"/>
<path d="M345.83,82.83 A146.82,146.82 0 0 1 349.09,87.83" fill="none" stroke="#1a1a1a" stroke-width="0.5132616144751996"/>
<path d="M346.03,83.21 A146.77,146.77 0 0 1 350.00,89.40" fill="none" stroke="#1a1a1a" stroke-width="0.5635081061571623"/>
<path d="M346.58,83.49 A147.07,147.07 0 0 1 350.69,89.97" fill="none" stroke="#1a1a1a" stroke-width="0.5920793818082498"/>
<path d="M347.51,83.76 A147.69,147.69 0 0 1 349.58,86.97" fill="none" stroke="#1a1a1a" stroke-width="0.49289168730427946"/>
<path d="M348.62,83.55 A148.73,148.73 0 0 1 351.04,87.35" fill="none" stroke="#1a1a1a" stroke-width="0.6370519002114005"/>
<path d="M348.37,84.40 A148.06,148.06 0 0 1 351.01,88.58" fill="none" stroke="#1a1a1a" stroke-width="0.6795791442190866"/>
<path d="M349.47,84.33 A149.01,149.01 0 0 1 351.30,87.23" fill="none" stroke="#1a1a1a" stroke-width="0.55274403274913"/>
<path d="M350.30,84.41 A149.67,149.67 0 0 1 352.28,87.58" fill="none" stroke="#1a1a1a" stroke-width="0.6490652667534154"/>
<path d="M349.32,85.88 A148.05,148.05 0 0 1 353.13,92.20" fill="none" stroke="#1a1a1a" stroke-width="0.4856705633517656"/>
<path d="M350.21,86.21 A148.62,148.62 0 0 1 352.62,90.17" fill="none" stroke="#1a1a1a" stroke-width="0.3724669574087169"/>
<path d="M349.46,87.36 A147.38,147.38 0 0 1 351.81,91.26" fill="none" stroke="#1a1a1a" stroke-width="0.684078663540454"/>
<path d="M351.10,86.94 A148.99,148.99 0 0 1 354.12,92.04" fill="none" stroke="#1a1a1a" stroke-width="0.43565155830453844"/>
<path d="M349.53,88.59 A146.79,146.79 0 0 1 353.10,94.72" fill="none" stroke="#1a1a1a" stroke-width="0.43808007155234474"/>
<path d="M350.53,88.65 A147.61,147.61 0 0 1 353.89,94.46" fill="none" stroke="#1a1a1a" stroke-width="0.6475957104501202"/>
<path d="M351.56,88.81 A148.41,148.41 0 0 1 352.90,91.08" fill="none" stroke="#1a1a1a" stroke-width="0.663781459430101"/>
<path d="M351.15,89.53 A147.69,147.69 0 0 1 353.26,93.15" fill="none" stroke="#1a1a1a" stroke-width="0.6030734595401495"/>
<path d="M351.45,90.17 A147.61,147.61 0 0 1 354.95,96.41" fill="none" stroke="#1a1a1a" stroke-width="0.6823819030493024"/>
<path d="M352.63,89.91 A148.76,148.76 0 0 1 354.98,94.04" fill="none" stroke="#1a1a1a" stroke-width="0.47661012977097394"/>
<path d="M351.84,91.07 A147.50,147.50 0 0 1 354.70,96.18" fill="none" stroke="#1a1a1a" stroke-width="0.561939625973388"/>
<path d="M354.56,90.49 A150.14,150.14 0 0 1 358.29,97.36" fill="none" stroke="#1a1a1a" stroke-width="0.48829892278968795"/>
<path d="M353.73,91.89 A148.73,148.73 0 0 1 356.63,97.23" fill="none" stroke="#1a1a1a" stroke-width="0.6991705601671663"/>
<path d="M353.15,92.67 A147.83,147.83 0 0 1 355.24,96.48" fill="none" stroke="#1a1a1a" stroke-width="0.5796229800300314"/>
<path d="M355.45,91.92 A150.20,150.20 0 0 1 357.04,94.82" fill="none" stroke="#1a1a1a" stroke-width="0.4794674779521506"/>
<path d="M353.15,93.71 A147.33,147.33 0 0 1 356.09,99.24" fill="none" stroke="#1a1a1a" stroke-width="0.3792378030811428"/>
<path d="M354.40,93.53 A148.50,148.50 0 0 1 357.03,98.50" fill="none" stroke="#1a1a1a" stroke-width="0.6097106256868163"/>
<path d="M355.32,93.59 A149.29,149.29 0 0 1 358.23,99.15" fill="none" stroke="#1a1a1a" stroke-width="0.6216026493117662"/>
<path d="M353.89,94.86 A147.42,147.42 0 0 1 354.91,96.75" fill="none" stroke="#1a1a1a" stroke-width="0.6508905763042241"/>
<path d="M356.29,94.53 A149.69,149.69 0 0 1 357.33,96.50" fill="none" stroke="#1a1a1a" stroke-width="0.4728867657075106"/>
<path d="M354.68,96.12 A147.52,147.52 0 0 1 355.92,98.50" fill="none" stroke="#1a1a1a" stroke-width="0.6262284467592405"/>
<path d="M354.70,96.69 A147.27,147.27 0 0 1 355.97,99.14" fill="none" stroke="#1a1a1a" stroke-width="0.5487560177836757"/>
<path d="M352.49,98.33 A144.55,144.55 0 0 1 354.68,102.67" fill="none" stroke="#1a1a1a" stroke-width="0.4528899742176165"/>
<path d="M351.09,99.89 A142.58,142.58 0 0 1 352.99,103.70" fill="none" stroke="#1a1a1a" stroke-width="0.3690046801896836"/>
<path d="M350.23,100.85 A141.37,141.37 0 0 1 352.44,105.34" fill="none" stroke="#1a1a1a" stroke-width="0.5107832822812988"/>
<path d="M347.05,103.32 A137.42,137.42 0 0 1 349.81,109.10" fill="none" stroke="#1a1a1a" stroke-width="0.40419578142751383"/>
<path d="M350.17,102.66 A140.51,140.51 0 0 1 351.97,106.40" fill="none" stroke="#1a1a1a" stroke-width="0.5642714756518634"/>
<path d="M353.39,101.92 A143.72,143.72 0 0 1 355.23,105.80" fill="none" stroke="#1a1a1a" stroke-width="0.35374747611663704"/>
<path d="M352.73,102.72 A142.78,142.78 0 0 1 355.27,108.18" fill="none" stroke="#1a1a1a" stroke-width="0.5994131746276689"/>
<path d="M351.17,103.96 A140.83,140.83 0 0 1 352.09,105.87" fill="none" stroke="#1a1a1a" stroke-width="0.38858923146652585"/>
<path d="M354.22,103.03 A143.98,143.98 0 0 1 356.54,108.09" fill="none" stroke="#1a1a1a" stroke-width="0.6466844824810196"/>
<path d="M350.96,105.01 A140.18,140.18 0 0 1 351.96,107.17" fill="none" stroke="#1a1a1a" stroke-width="0.44128899155449125"/>
<path d="M354.38,103.82 A143.78,143.78 0 0 1 355.98,107.30" fill="none" stroke="#1a1a1a" stroke-width="0.5211477188116634"/>
<path d="M354.58,104.48 A143.67,143.67 0 0 1 357.48,111.10" fill="none" stroke="#1a1a1a" stroke-width="0.5487692981477422"/>
<path d="M355.04,104.94 A143.90,143.90 0 0 1 356.74,108.76" fill="none" stroke="#1a1a1a" stroke-width="0.4547717291384647"/>
<path d="M351.32,107.43 A139.48,139.48 0 0 1 352.90,111.02" fill="none" stroke="#1a1a1a" stroke-width="0.500238757037322"/>
<path d="M352.29,107.62 A140.29,140.29 0 0 1 354.00,111.54" fill="none" stroke="#1a1a1a" stroke-width="0.5077865044838168"/>
<path d="M355.57,106.55 A143.72,143.72 0 0 1 356.52,108.70" fill="none" stroke="#1a1a1a" stroke-width="0.5347554917168593"/>
<path d="M353.12,108.32 A140.75,140.75 0 0 1 354.37,111.23" fill="none" stroke="#1a1a1a" stroke-width="0.3847162269025424"/>
<path d="M352.86,109.01 A140.24,140.24 0 0 1 354.63,113.22" fill="none" stroke="#1a1a1a" stroke-width="0.43061030605402173"/>
<path d="M354.38,109.13 A141.59,141.59 0 0 1 355.17,110.99" fill="none" stroke="#1a1a1a" stroke-width="0.4923123088304011"/>
<path d="M351.72,111.16 A138.34,138.34 0 0 1 353.63,115.87" fill="none" stroke="#1a1a1a" stroke-width="0.6862799691871095"/>
<path d="M355.85,109.97 A142.61,142.61 0 0 1 357.36,113.69" fill="none" stroke="#1a1a1a" stroke-width="0.45541059280505863"/>
<path d="M356.15,110.55 A142.66,142.66 0 0 1 357.54,114.00" fill="none" stroke="#1a1a1a" stroke-width="0.5241712722276658"/>
<path d="M357.56,110.63 A143.93,143.93 0 0 1 358.42,112.76" fill="none" stroke="#1a1a1a" stroke-width="0.3824911950130485"/>
<path d="M354.64,112.33 A140.59,140.59 0 0 1 356.88,118.18" fill="none" stroke="#1a1a1a" stroke-width="0.4989316323885591"/>
<path d="M355.93,112.64 A141.66,141.66 0 0 1 357.20,115.94" fill="none" stroke="#1a1a1a" stroke-width="0.5879613487723413"/>
<path d="M359.97,111.45 A145.85,145.85 0 0 1 362.31,117.72" fill="none" stroke="#1a1a1a" stroke-width="0.46486502894303067"/>
<path d="M359.16,112.33 A144.77,144.77 0 0 1 361.38,118.33" fill="none" stroke="#1a1a1a" stroke-width="0.5747946228745099"/>
<path d="M358.99,112.80 A144.44,144.44 0 0 1 359.80,114.93" fill="none" stroke="#1a1a1a" stroke-width="0.5686456555823088"/>
<path d="M360.41,112.93 A145.72,145.72 0 0 1 362.33,118.20" fill="none" stroke="#1a1a1a" stroke-width="0.3578207669105271"/>
<path d="M359.58,114.14 A144.51,144.51 0 0 1 361.35,119.06" fill="none" stroke="#1a1a1a" stroke-width="0.3519527050728202"/>
<path d="M357.56,115.67 A142.08,142.08 0 0 1 359.45,121.03" fill="none" stroke="#1a1a1a" stroke-width="0.6942919773588372"/>
<path d="M355.49,117.28 A139.58,139.58 0 0 1 357.48,123.08" fill="none" stroke="#1a1a1a" stroke-width="0.5041819482286938"/>
<path d="M357.72,117.23 A141.69,141.69 0 0 1 359.15,121.40" fill="none" stroke="#1a1a1a" stroke-width="0.5029074909568394"/>
<path d="M357.44,117.76 A141.25,141.25 0 0 1 359.33,123.40" fill="none" stroke="#1a1a1a" stroke-width="0.3750080324143035"/>
<path d="M361.00,116.91 A144.89,144.89 0 0 1 362.82,122.35" fill="none" stroke="#1a1a1a" stroke-width="0.5418412636905204"/>
<path d="M356.30,119.01 A139.76,139.76 0 0 1 357.46,122.43" fill="none" stroke="#1a1a1a" stroke-width="0.6838520160203414"/>
<path d="M361.88,117.72 A145.46,145.46 0 0 1 362.91,120.76" fill="none" stroke="#1a1a1a" stroke-width="0.4951869254071286"/>
<path d="M361.49,118.52 A144.82,144.82 0 0 1 362.35,121.09" fill="none" stroke="#1a1a1a" stroke-width="0.6557981118255145"/>
<path d="M356.17,120.94 A139.01,139.01 0 0 1 357.47,124.98" fill="none" stroke="#1a1a1a" stroke-width="0.48213437438087003"/>
<path d="M362.43,119.56 A145.38,145.38 0 0 1 363.87,124.13" fill="none" stroke="#1a1a1a" stroke-width="0.5913480060512992"/>
<path d="M361.55,120.43 A144.27,144.27 0 0 1 362.34,122.91" fill="none" stroke="#1a1a1a" stroke-width="0.6098198231252008"/>
<path d="M360.35,121.28 A142.86,142.86 0 0 1 361.28,124.24" fill="none" stroke="#1a1a1a" stroke-width="0.47119365288419013"/>
<path d="M358.84,122.22 A141.14,141.14 0 0 1 360.34,127.17" fill="none" stroke="#1a1a1a" stroke-width="0.5319896529563506"/>
<path d="M360.51,122.25 A142.72,142.72 0 0 1 362.36,128.60" fill="none" stroke="#1a1a1a" stroke-width="0.47539254776989914"/>
<path d="M360.01,123.08 A142.00,142.00 0 0 1 362.02,130.13" fill="none" stroke="#1a1a1a" stroke-width="0.4648076909157851"/>
<path d="M358.48,124.27 A140.18,140.18 0 0 1 359.43,127.50" fill="none" stroke="#1a1a1a" stroke-width="0.605643277569015"/>
<path d="M358.78,124.83 A140.30,140.30 0 0 1 359.43,127.05" fill="none" stroke="#1a1a1a" stroke-width="0.6386926296292361"/>
<path d="M362.06,124.40 A143.57,143.57 0 0 1 363.26,128.63" fill="none" stroke="#1a1a1a" stroke-width="0.5661717666151747"/>
<path d="M363.99,124.50 A145.40,145.40 0 0 1 365.83,131.36" fill="none" stroke="#1a1a1a" stroke-width="0.5095239995818865"/>
<path d="M358.98,126.57 A140.00,140.00 0 0 1 360.52,132.38" fill="none" stroke="#1a1a1a" stroke-width="0.3858062363252218"/>
<path d="M363.35,125.84 A144.40,144.40 0 0 1 363.94,127.97" fill="none" stroke="#1a1a1a" stroke-width="0.5944656366346802"/>
<path d="M361.43,127.04 A142.23,142.23 0 0 1 362.41,130.72" fill="none" stroke="#1a1a1a" stroke-width="0.4030447211589509"/>
<path d="M363.08,127.44 A143.71,143.71 0 0 1 364.65,133.70" fill="none" stroke="#1a1a1a" stroke-width="0.3841878659015177"/>
<path d="M359.45,129.18 A139.75,139.75 0 0 1 360.21,132.11" fill="none" stroke="#1a1a1a" stroke-width="0.5372399844836762"/>
<path d="M358.93,129.98 A139.04,139.04 0 0 1 360.34,135.84" fill="none" stroke="#1a1a1a" stroke-width="0.5538553421120431"/>
<path d="M364.74,129.28 A144.84,144.84 0 0 1 366.09,134.98" fill="none" stroke="#1a1a1a" stroke-width="0.4774071975658002"/>
<path d="M363.51,130.46 A143.35,143.35 0 0 1 364.34,133.96" fill="none" stroke="#1a1a1a" stroke-width="0.6501647128965136"/>
<path d="M360.48,131.94 A140.06,140.06 0 0 1 361.23,135.15" fill="none" stroke="#1a1a1a" stroke-width="0.3571159035740261"/>
<path d="M360.54,132.55 A139.98,139.98 0 0 1 361.33,135.99" fill="none" stroke="#1a1a1a" stroke-width="0.4385035734346324"/>
<path d="M362.27,132.55 A141.65,141.65 0 0 1 363.03,135.93" fill="none" stroke="#1a1a1a" stroke-width="0.4497669482809855"/>
<path d="M362.55,132.98 A141.82,141.82 0 0 1 363.93,139.58" fill="none" stroke="#1a1a1a" stroke-width="0.40603665737562145"/>
<path d="M365.16,133.17 A144.33,144.33 0 0 1 366.27,138.45" fill="none" stroke="#1a1a1a" stroke-width="0.5403258962935098"/>
<path d="M363.05,134.39 A142.00,142.00 0 0 1 364.16,139.86" fill="none" stroke="#1a1a1a" stroke-width="0.671743281604603"/>
<path d="M361.25,135.53 A140.00,140.00 0 0 1 361.71,137.73" fill="none" stroke="#1a1a1a" stroke-width="0.6778271658195661"/>
<path d="M365.11,135.23 A143.83,143.83 0 0 1 365.76,138.46" fill="none" stroke="#1a1a1a" stroke-width="0.5084914203000924"/>
<path d="M364.80,135.85 A143.40,143.40 0 0 1 366.12,142.92" fill="none" stroke="#1a1a1a" stroke-width="0.526975901758321"/>
<path d="M362.22,137.03 A140.63,140.63 0 0 1 362.83,140.19" fill="none" stroke="#1a1a1a" stroke-width="0.6824550639276807"/>
<path d="M366.52,136.56 A144.94,144.94 0 0 1 367.54,142.14" fill="none" stroke="#1a1a1a" stroke-width="0.37512660850446744"/>
<path d="M360.68,138.54 A138.82,138.82 0 0 1 361.55,143.41" fill="none" stroke="#1a1a1a" stroke-width="0.3919025862094381"/>
<path d="M362.31,139.06 A140.33,140.33 0 0 1 363.41,145.63" fill="none" stroke="#1a1a1a" stroke-width="0.3715015532986822"/>
<path d="M360.70,140.04 A138.56,138.56 0 0 1 361.07,142.10" fill="none" stroke="#1a1a1a" stroke-width="0.5498232644054453"/>
<path d="M365.28,140.04 A143.06,143.06 0 0 1 366.31,146.65" fill="none" stroke="#1a1a1a" stroke-width="0.6246874319159521"/>
<path d="M361.00,141.41 A138.61,138.61 0 0 1 361.75,146.10" fill="none" stroke="#1a1a1a" stroke-width="0.41459969826133464"/>
<path d="M363.10,141.66 A140.63,140.63 0 0 1 363.81,146.26" fill="none" stroke="#1a1a1a" stroke-width="0.4191307593723546"/>
<path d="M363.66,142.26 A141.09,141.09 0 0 1 364.34,146.81" fill="none" stroke="#1a1a1a" stroke-width="0.37754287863314717"/>
<path d="M364.77,142.67 A142.11,142.11 0 0 1 365.75,149.90" fill="none" stroke="#1a1a1a" stroke-width="0.5465083284762993"/>
<path d="M362.97,143.38 A140.22,140.22 0 0 1 363.51,147.11" fill="none" stroke="#1a1a1a" stroke-width="0.5957299083126817"/>
<path d="M367.99,143.42 A145.17,145.17 0 0 1 368.92,150.68" fill="none" stroke="#1a1a1a" stroke-width="0.6738689314883666"/>
<path d="M367.80,144.24 A144.87,144.87 0 0 1 368.10,146.36" fill="none" stroke="#1a1a1a" stroke-width="0.5213916005820656"/>
<path d="M366.08,145.15 A143.04,143.04 0 0 1 366.75,150.47" fill="none" stroke="#1a1a1a" stroke-width="0.5645991762032934"/>
<path d="M361.83,146.56 A138.62,138.62 0 0 1 362.39,151.23" fill="none" stroke="#1a1a1a" stroke-width="0.6858161413637955"/>
<path d="M362.05,146.89 A138.81,138.81 0 0 1 362.78,153.42" fill="none" stroke="#1a1a1a" stroke-width="0.6850067495969063"/>
<path d="M361.52,147.31 A138.22,138.22 0 0 1 362.20,153.61" fill="none" stroke="#1a1a1a" stroke-width="0.590965557185158"/>
<path d="M365.59,147.38 A142.25,142.25 0 0 1 366.24,153.47" fill="none" stroke="#1a1a1a" stroke-width="0.6327324288269051"/>
<path d="M361.89,148.20 A138.47,138.47 0 0 1 362.52,154.32" fill="none" stroke="#1a1a1a" stroke-width="0.6913900013148626"/>
<path d="M364.46,148.64 A140.97,140.97 0 0 1 364.86,152.40" fill="none" stroke="#1a1a1a" stroke-width="0.47135838558666343"/>
<path d="M367.15,148.67 A143.64,143.64 0 0 1 367.51,152.11" fill="none" stroke="#1a1a1a" stroke-width="0.5549726808770903"/>
<path d="M364.03,149.65 A140.43,140.43 0 0 1 364.55,155.22" fill="none" stroke="#1a1a1a" stroke-width="0.509215774968633"/>
<path d="M368.09,149.66 A144.46,144.46 0 0 1 368.39,152.64" fill="none" stroke="#1a1a1a" stroke-width="0.40248851048948175"/>
<path d="M365.18,150.46 A141.48,141.48 0 0 1 365.71,156.67" fill="none" stroke="#1a1a1a" stroke-width="0.466509102766874"/>
<path d="M366.51,150.78 A142.77,142.77 0 0 1 366.83,154.19" fill="none" stroke="#1a1a1a" stroke-width="0.5329649154170699"/>
<path d="M368.20,151.09 A144.42,144.42 0 0 1 368.47,154.12" fill="none" stroke="#1a1a1a" stroke-width="0.43127582202123105"/>
<path d="M364.21,151.98 A140.37,140.37 0 0 1 364.66,157.84" fill="none" stroke="#1a1a1a" stroke-width="0.585944712624393"/>
<path d="M365.83,152.57 A141.92,141.92 0 0 1 366.03,154.97" fill="none" stroke="#1a1a1a" stroke-width="0.6172144053598774"/>
<path d="M363.49,153.25 A139.53,139.53 0 0 1 363.79,157.40" fill="none" stroke="#1a1a1a" stroke-width="0.6964310664558422"/>
<path d="M364.55,153.68 A140.55,140.55 0 0 1 364.96,160.55" fill="none" stroke="#1a1a1a" stroke-width="0.6966585538712842"/>
<path d="M362.96,154.34 A138.91,138.91 0 0 1 363.32,160.48" fill="none" stroke="#1a1a1a" stroke-width="0.6238061359627429"/>
<path d="M367.84,154.47 A143.76,143.76 0 0 1 368.10,158.57" fill="none" stroke="#1a1a1a" stroke-width="0.45047356744695183"/>
<path d="M367.52,155.15 A143.40,143.40 0 0 1 367.78,159.76" fill="none" stroke="#1a1a1a" stroke-width="0.6364180517878568"/>
<path d="M365.75,155.63 A141.59,141.59 0 0 1 365.97,159.67" fill="none" stroke="#1a1a1a" stroke-width="0.3727872591368727"/>
<path d="M363.16,156.59 A138.95,138.95 0 0 1 363.32,159.63" fill="none" stroke="#1a1a1a" stroke-width="0.6573466447926157"/>
<path d="M369.05,157.06 A144.80,144.80 0 0 1 369.23,160.98" fill="none" stroke="#1a1a1a" stroke-width="0.675756303576334"/>
<path d="M367.46,157.57 A143.18,143.18 0 0 1 367.68,164.77" fill="none" stroke="#1a1a1a" stroke-width="0.41743249619793926"/>
<path d="M367.22,158.00 A142.91,142.91 0 0 1 367.41,164.84" fill="none" stroke="#1a1a1a" stroke-width="0.6042641714958383"/>
<path d="M365.58,158.90 A141.24,141.24 0 0 1 365.71,162.89" fill="none" stroke="#1a1a1a" stroke-width="0.39205001721767563"/>
<path d="M369.21,159.23 A144.85,144.85 0 0 1 369.30,161.64" fill="none" stroke="#1a1a1a" stroke-width="0.4146920960687811"/>
<path d="M362.60,160.02 A138.21,138.21 0 0 1 362.70,163.58" fill="none" stroke="#1a1a1a" stroke-width="0.41399443338707526"/>
<path d="M366.18,160.28 A141.77,141.77 0 0 1 366.27,165.20" fill="none" stroke="#1a1a1a" stroke-width="0.5486964036141322"/>
<path d="M366.17,161.01 A141.74,141.74 0 0 1 366.21,168.14" fill="none" stroke="#1a1a1a" stroke-width="0.37851962766612157"/>
<path d="M362.79,161.56 A138.35,138.35 0 0 1 362.85,165.14" fill="none" stroke="#1a1a1a" stroke-width="0.6162374800216162"/>
<path d="M365.95,162.27 A141.49,141.49 0 0 1 365.99,165.12" fill="none" stroke="#1a1a1a" stroke-width="0.4656458785636027"/>
<path d="M364.36,162.93 A139.88,139.88 0 0 1 364.33,169.14" fill="none" stroke="#1a1a1a" stroke-width="0.6904019926427625"/>
<path d="M366.64,163.46 A142.15,142.15 0 0 1 366.58,170.06" fill="none" stroke="#1a1a1a" stroke-width="0.5127660361204541"/>
<path d="M369.17,163.88 A144.68,144.68 0 0 1 369.06,171.33" fill="none" stroke="#1a1a1a" stroke-width="0.3585510693759906"/>
<path d="M365.06,164.64 A140.56,140.56 0 0 1 365.05,166.88" fill="none" stroke="#1a1a1a" stroke-width="0.40699106429461807"/>
<path d="M367.55,165.06 A143.05,143.05 0 0 1 367.52,168.22" fill="none" stroke="#1a1a1a" stroke-width="0.35686381130283346"/>
<path d="M367.99,165.52 A143.49,143.49 0 0 1 367.91,170.27" fill="none" stroke="#1a1a1a" stroke-width="0.5784795155532648"/>
<path d="M363.30,166.08 A138.80,138.80 0 0 1 363.27,168.10" fill="none" stroke="#1a1a1a" stroke-width="0.4565086203826144"/>
<path d="M363.83,166.45 A139.33,139.33 0 0 1 363.69,171.70" fill="none" stroke="#1a1a1a" stroke-width="0.4792811441474263"/>
<path d="M366.42,167.05 A141.93,141.93 0 0 1 366.33,170.75" fill="none" stroke="#1a1a1a" stroke-width="0.4748012207469608"/>
<path d="M365.97,167.82 A141.49,141.49 0 0 1 365.83,172.06" fill="none" stroke="#1a1a1a" stroke-width="0.5390423294559874"/>
<path d="M364.07,168.36 A139.60,139.60 0 0 1 363.77,175.20" fill="none" stroke="#1a1a1a" stroke-width="0.43166973022505883"/>
<path d="M367.65,169.25 A143.20,143.20 0 0 1 367.31,176.09" fill="none" stroke="#1a1a1a" stroke-width="0.40691583315973623"/>
<path d="M368.45,169.88 A144.02,144.02 0 0 1 368.30,173.48" fill="none" stroke="#1a1a1a" stroke-width="0.40983656888338194"/>
<path d="M363.05,170.40 A138.64,138.64 0 0 1 362.78,175.44" fill="none" stroke="#1a1a1a" stroke-width="0.40516447421702045"/>
<path d="M363.26,171.21 A138.87,138.87 0 0 1 363.13,173.66" fill="none" stroke="#1a1a1a" stroke-width="0.5905566442841381"/>
<path d="M365.05,171.80 A140.69,140.69 0 0 1 364.77,176.44" fill="none" stroke="#1a1a1a" stroke-width="0.6728974620266714"/>
<path d="M363.71,172.33 A139.37,139.37 0 0 1 363.60,174.28" fill="none" stroke="#1a1a1a" stroke-width="0.523774943801141"/>
<path d="M364.93,172.86 A140.63,140.63 0 0 1 364.55,178.23" fill="none" stroke="#1a1a1a" stroke-width="0.5117895477989792"/>
<path d="M364.34,173.22 A140.05,140.05 0 0 1 364.01,177.75" fill="none" stroke="#1a1a1a" stroke-width="0.5744539991025633"/>
<path d="M362.73,173.94 A138.48,138.48 0 0 1 362.40,178.21" fill="none" stroke="#1a1a1a" stroke-width="0.37961870840254636"/>
<path d="M362.29,174.64 A138.09,138.09 0 0 1 361.72,180.94" fill="none" stroke="#1a1a1a" stroke-width="0.62928296673745"/>
<path d="M366.53,175.39 A142.38,142.38 0 0 1 366.12,180.12" fill="none" stroke="#1a1a1a" stroke-width="0.4991677017776842"/>
<path d="M366.64,176.03 A142.53,142.53 0 0 1 366.22,180.68" fill="none" stroke="#1a1a1a" stroke-width="0.5187720723675002"/>
<path d="M365.84,176.46 A141.77,141.77 0 0 1 365.40,181.16" fill="none" stroke="#1a1a1a" stroke-width="0.46986917461612937"/>
<path d="M361.77,176.58 A137.71,137.71 0 0 1 361.11,182.88" fill="none" stroke="#1a1a1a" stroke-width="0.6312204100532457"/>
<path d="M365.98,177.75 A142.01,142.01 0 0 1 365.37,183.44" fill="none" stroke="#1a1a1a" stroke-width="0.6290995557252147"/>
<path d="M365.21,178.38 A141.30,141.30 0 0 1 364.50,184.66" fill="none" stroke="#1a1a1a" stroke-width="0.41167814762275445"/>
<path d="M362.05,178.83 A138.20,138.20 0 0 1 361.70,182.03" fill="none" stroke="#1a1a1a" stroke-width="0.6718396993953298"/>
<path d="M363.29,179.30 A139.48,139.48 0 0 1 362.87,183.06" fill="none" stroke="#1a1a1a" stroke-width="0.6271149655836392"/>
<path d="M365.63,180.19 A141.89,141.89 0 0 1 364.72,187.19" fill="none" stroke="#1a1a1a" stroke-width="0.575497405625249"/>
<path d="M364.12,180.41 A140.42,140.42 0 0 1 363.83,182.94" fill="none" stroke="#1a1a1a" stroke-width="0.6937642078907699"/>
<path d="M361.90,180.93 A138.27,138.27 0 0 1 361.55,183.83" fill="none" stroke="#1a1a1a" stroke-width="0.5929842902064112"/>
<path d="M365.80,182.10 A142.27,142.27 0 0 1 365.07,187.44" fill="none" stroke="#1a1a1a" stroke-width="0.3938470137281822"/>
<path d="M360.23,182.13 A136.75,136.75 0 0 1 359.30,188.53" fill="none" stroke="#1a1a1a" stroke-width="0.6190248838668223"/>
<path d="M364.92,183.44 A141.57,141.57 0 0 1 364.19,188.46" fill="none" stroke="#1a1a1a" stroke-width="0.6801988189876762"/>
<path d="M362.59,183.80 A139.29,139.29 0 0 1 362.00,187.76" fill="none" stroke="#1a1a1a" stroke-width="0.47368489402289693"/>
<path d="M360.60,183.89 A137.34,137.34 0 0 1 359.65,189.93" fill="none" stroke="#1a1a1a" stroke-width="0.43004835308189665"/>
<path d="M364.08,185.03 A140.94,140.94 0 0 1 363.17,190.68" fill="none" stroke="#1a1a1a" stroke-width="0.5305393964123368"/>
<path d="M361.08,185.10 A137.98,137.98 0 0 1 360.63,187.99" fill="none" stroke="#1a1a1a" stroke-width="0.5767438627288122"/>
<path d="M364.84,186.34 A141.88,141.88 0 0 1 364.24,190.07" fill="none" stroke="#1a1a1a" stroke-width="0.6744882711693796"/>
<path d="M360.95,186.55 A138.06,138.06 0 0 1 359.71,193.41" fill="none" stroke="#1a1a1a" stroke-width="0.5667800765933042"/>
<path d="M363.58,187.78 A140.86,140.86 0 0 1 362.94,191.49" fill="none" stroke="#1a1a1a" stroke-width="0.4477539902636831"/>
<path d="M361.83,188.10 A139.18,139.18 0 0 1 361.47,190.20" fill="none" stroke="#1a1a1a" stroke-width="0.6518784507869745"/>
<path d="M361.64,188.68 A139.08,139.08 0 0 1 360.53,194.49" fill="none" stroke="#1a1a1a" stroke-width="0.4374236419864479"/>
<path d="M362.17,189.21 A139.70,139.70 0 0 1 361.58,192.40" fill="none" stroke="#1a1a1a" stroke-width="0.46462573140418945"/>
<path d="M359.10,189.05 A136.65,136.65 0 0 1 358.40,192.76" fill="none" stroke="#1a1a1a" stroke-width="0.5344196181815449"/>
<path d="M362.27,190.43 A140.01,140.01 0 0 1 361.46,194.53" fill="none" stroke="#1a1a1a" stroke-width="0.49236953833730157"/>
<path d="M361.24,190.70 A139.05,139.05 0 0 1 359.79,197.61" fill="none" stroke="#1a1a1a" stroke-width="0.39268266819615905"/>
<path d="M362.32,191.47 A140.25,140.25 0 0 1 361.07,197.40" fill="none" stroke="#1a1a1a" stroke-width="0.5442780478524021"/>
<path d="M363.59,192.38 A141.67,141.67 0 0 1 362.12,199.11" fill="none" stroke="#1a1a1a" stroke-width="0.43791060786837077"/>
<path d="M363.79,193.04 A141.98,141.98 0 0 1 362.76,197.79" fill="none" stroke="#1a1a1a" stroke-width="0.4162801963363294"/>
<path d="M358.41,192.69 A136.64,136.64 0 0 1 357.84,195.33" fill="none" stroke="#1a1a1a" stroke-width="0.5429500806267149"/>
<path d="M361.97,193.90 A140.38,140.38 0 0 1 360.66,199.63" fill="none" stroke="#1a1a1a" stroke-width="0.46175149711859576"/>
<path d="M361.41,194.52 A139.95,139.95 0 0 1 360.10,200.12" fill="none" stroke="#1a1a1a" stroke-width="0.5098213838134829"/>
<path d="M358.31,194.42 A136.90,136.90 0 0 1 357.31,198.71" fill="none" stroke="#1a1a1a" stroke-width="0.6841406120987232"/>
<path d="M357.87,195.10 A136.61,136.61 0 0 1 357.36,197.32" fill="none" stroke="#1a1a1a" stroke-width="0.4442976732752504"/>
<path d="M359.80,196.22 A138.74,138.74 0 0 1 359.20,198.76" fill="none" stroke="#1a1a1a" stroke-width="0.49896050188226654"/>
<path d="M361.32,197.20 A140.44,140.44 0 0 1 360.33,201.21" fill="none" stroke="#1a1a1a" stroke-width="0.5773773441760608"/>
<path d="M360.46,197.69 A139.72,139.72 0 0 1 359.94,199.83" fill="none" stroke="#1a1a1a" stroke-width="0.5986759226575076"/>
<path d="M357.35,197.36 A136.61,136.61 0 0 1 356.25,201.61" fill="none" stroke="#1a1a1a" stroke-width="0.35589047397752305"/>
<path d="M359.06,198.16 A138.47,138.47 0 0 1 357.95,202.44" fill="none" stroke="#1a1a1a" stroke-width="0.3869640892206448"/>
<path d="M361.33,199.55 A141.00,141.00 0 0 1 360.15,203.99" fill="none" stroke="#1a1a1a" stroke-width="0.5557240136401022"/>
<path d="M361.90,200.20 A141.72,141.72 0 0 1 361.23,202.75" fill="none" stroke="#1a1a1a" stroke-width="0.45645829444895125"/>
<path d="M361.15,200.48 A141.06,141.06 0 0 1 359.90,205.04" fill="none" stroke="#1a1a1a" stroke-width="0.4936511718384823"/>
<path d="M361.12,201.03 A141.17,141.17 0 0 1 360.23,204.28" fill="none" stroke="#1a1a1a" stroke-width="0.626953875887142"/>
<path d="M358.62,201.09 A138.76,138.76 0 0 1 357.57,204.83" fill="none" stroke="#1a1a1a" stroke-width="0.5028983911249592"/>
<path d="M357.78,201.44 A138.04,138.04 0 0 1 356.32,206.47" fill="none" stroke="#1a1a1a" stroke-width="0.49389964197123143"/>
<path d="M360.04,202.56 A140.51,140.51 0 0 1 358.81,206.80" fill="none" stroke="#1a1a1a" stroke-width="0.5157427204320975"/>
<path d="M358.17,202.84 A138.78,138.78 0 0 1 357.05,206.62" fill="none" stroke="#1a1a1a" stroke-width="0.6642988363398872"/>
<path d="M359.65,204.11 A140.56,140.56 0 0 1 358.46,208.06" fill="none" stroke="#1a1a1a" stroke-width="0.5849085861908885"/>
<path d="M356.92,204.05 A137.92,137.92 0 0 1 355.20,209.55" fill="none" stroke="#1a1a1a" stroke-width="0.6824222122081187"/>
<path d="M358.65,205.24 A139.91,139.91 0 0 1 357.37,209.34" fill="none" stroke="#1a1a1a" stroke-width="0.5786927715275088"/>
<path d="M359.03,205.83 A140.45,140.45 0 0 1 357.55,210.47" fill="none" stroke="#1a1a1a" stroke-width="0.6929852515792332"/>
<path d="M358.58,206.23 A140.13,140.13 0 0 1 357.97,208.18" fill="none" stroke="#1a1a1a" stroke-width="0.4956467548055282"/>
<path d="M356.07,206.20 A137.72,137.72 0 0 1 354.45,211.11" fill="none" stroke="#1a1a1a" stroke-width="0.4273162432188749"/>
<path d="M359.61,207.87 A141.60,141.60 0 0 1 358.67,210.76" fill="none" stroke="#1a1a1a" stroke-width="0.6694619946313742"/>
<path d="M357.42,207.57 A139.42,139.42 0 0 1 355.37,213.57" fill="none" stroke="#1a1a1a" stroke-width="0.6430662287643375"/>
<path d="M357.29,208.08 A139.46,139.46 0 0 1 355.42,213.53" fill="none" stroke="#1a1a1a" stroke-width="0.6165951745128889"/>
<path d="M357.01,208.73 A139.38,139.38 0 0 1 355.95,211.85" fill="none" stroke="#1a1a1a" stroke-width="0.5968259478985162"/>
<path d="M356.62,209.25 A139.17,139.17 0 0 1 354.17,216.04" fill="none" stroke="#1a1a1a" stroke-width="0.3977698025364785"/>
<path d="M355.27,209.55 A137.99,137.99 0 0 1 353.32,214.99" fill="none" stroke="#1a1a1a" stroke-width="0.6826207612270978"/>
<path d="M356.30,210.40 A139.24,139.24 0 0 1 354.68,214.89" fill="none" stroke="#1a1a1a" stroke-width="0.523319745544069"/>
<path d="M356.43,210.89 A139.52,139.52 0 0 1 354.09,217.20" fill="none" stroke="#1a1a1a" stroke-width="0.5821457778704295"/>
<path d="M357.13,211.64 A140.43,140.43 0 0 1 355.68,215.61" fill="none" stroke="#1a1a1a" stroke-width="0.4008235803569492"/>
<path d="M355.21,211.64 A138.61,138.61 0 0 1 353.55,216.10" fill="none" stroke="#1a1a1a" stroke-width="0.6969059013118961"/>
<path d="M357.37,213.07 A141.12,141.12 0 0 1 356.01,216.70" fill="none" stroke="#1a1a1a" stroke-width="0.6156223179261286"/>
<path d="M354.06,212.28 A137.75,137.75 0 0 1 352.06,217.49" fill="none" stroke="#1a1a1a" stroke-width="0.5915740015149566"/>
<path d="M354.17,213.10 A138.13,138.13 0 0 1 352.96,216.26" fill="none" stroke="#1a1a1a" stroke-width="0.4754467562021112"/>
<path d="M352.23,213.02 A136.29,136.29 0 0 1 350.84,216.62" fill="none" stroke="#1a1a1a" stroke-width="0.5800355251253153"/>
<path d="M353.45,213.91 A137.73,137.73 0 0 1 351.01,219.97" fill="none" stroke="#1a1a1a" stroke-width="0.6767434378263297"/>
<path d="M352.64,214.09 A137.04,137.04 0 0 1 351.72,216.45" fill="none" stroke="#1a1a1a" stroke-width="0.379997094891609"/>
<path d="M355.01,215.77 A139.85,139.85 0 0 1 353.76,218.90" fill="none" stroke="#1a1a1a" stroke-width="0.5211874598275321"/>
<path d="M351.39,215.08 A136.23,136.23 0 0 1 349.01,220.79" fill="none" stroke="#1a1a1a" stroke-width="0.650835710136046"/>
<path d="M354.38,216.73 A139.62,139.62 0 0 1 352.18,221.99" fill="none" stroke="#1a1a1a" stroke-width="0.4679707768115242"/>
<path d="M351.80,216.53 A137.15,137.15 0 0 1 350.10,220.59" fill="none" stroke="#1a1a1a" stroke-width="0.45979884832855805"/>
<path d="M354.33,218.14 A140.09,140.09 0 0 1 352.36,222.76" fill="none" stroke="#1a1a1a" stroke-width="0.5632503708961739"/>
<path d="M351.80,217.99 A137.70,137.70 0 0 1 350.59,220.84" fill="none" stroke="#1a1a1a" stroke-width="0.5668932248787784"/>
<path d="M355.85,220.12 A142.25,142.25 0 0 1 354.33,223.65" fill="none" stroke="#1a1a1a" stroke-width="0.5040167794402857"/>
<path d="M356.09,220.83 A142.75,142.75 0 0 1 353.22,227.22" fill="none" stroke="#1a1a1a" stroke-width="0.5869537000904503"/>
<path d="M354.61,220.67 A141.32,141.32 0 0 1 352.23,225.97" fill="none" stroke="#1a1a1a" stroke-width="0.42562861568818794"/>
<path d="M358.14,223.04 A145.50,145.50 0 0 1 356.80,226.05" fill="none" stroke="#1a1a1a" stroke-width="0.4774962922237103"/>
<path d="M358.15,223.56 A145.71,145.71 0 0 1 357.21,225.66" fill="none" stroke="#1a1a1a" stroke-width="0.5934947141328444"/>
<path d="M359.12,224.41 A146.95,146.95 0 0 1 356.99,229.06" fill="none" stroke="#1a1a1a" stroke-width="0.5541095015298393"/>
<path d="M355.52,223.27 A143.19,143.19 0 0 1 353.88,226.85" fill="none" stroke="#1a1a1a" stroke-width="0.6946499904405972"/>
<path d="M359.04,225.55 A147.33,147.33 0 0 1 358.04,227.74" fill="none" stroke="#1a1a1a" stroke-width="0.3856456506711714"/>
<path d="M358.25,225.60 A146.63,146.63 0 0 1 356.97,228.36" fill="none" stroke="#1a1a1a" stroke-width="0.44543209348116014"/>
<path d="M358.12,226.31 A146.81,146.81 0 0 1 356.47,229.81" fill="none" stroke="#1a1a1a" stroke-width="0.5136083939882199"/>
<path d="M357.45,226.56 A146.30,146.30 0 0 1 355.71,230.21" fill="none" stroke="#1a1a1a" stroke-width="0.4759999998004778"/>
<path d="M356.20,226.51 A145.15,145.15 0 0 1 354.70,229.65" fill="none" stroke="#1a1a1a" stroke-width="0.3556805851123485"/>
<path d="M357.40,227.64 A146.71,146.71 0 0 1 355.85,230.85" fill="none" stroke="#1a1a1a" stroke-width="0.3895397410308311"/>
<path d="M356.73,228.20 A146.34,146.34 0 0 1 354.55,232.61" fill="none" stroke="#1a1a1a" stroke-width="0.45916042134731466"/>
<path d="M357.66,229.55 A147.77,147.77 0 0 1 355.14,234.54" fill="none" stroke="#1a1a1a" stroke-width="0.5807964113018345"/>
<path d="M356.06,229.57 A146.33,146.33 0 0 1 354.09,233.46" fill="none" stroke="#1a1a1a" stroke-width="0.48650141452841555"/>
<path d="M355.47,229.96 A145.97,145.97 0 0 1 353.18,234.41" fill="none" stroke="#1a1a1a" stroke-width="0.5365669343557747"/>
<path d="M356.66,231.40 A147.68,147.68 0 0 1 355.14,234.36" fill="none" stroke="#1a1a1a" stroke-width="0.35777484181275127"/>
<path d="M352.72,230.00 A143.53,143.53 0 0 1 349.72,235.64" fill="none" stroke="#1a1a1a" stroke-width="0.567126014900793"/>
<path d="M353.00,230.69 A144.09,144.09 0 0 1 349.78,236.70" fill="none" stroke="#1a1a1a" stroke-width="0.6426424663135792"/>
<path d="M354.51,232.25 A146.15,146.15 0 0 1 351.55,237.72" fill="none" stroke="#1a1a1a" stroke-width="0.5091194214796878"/>
<path d="M353.52,232.37 A145.32,145.32 0 0 1 350.18,238.45" fill="none" stroke="#1a1a1a" stroke-width="0.6969788445464019"/>
<path d="M354.02,233.56 A146.31,146.31 0 0 1 352.86,235.73" fill="none" stroke="#1a1a1a" stroke-width="0.4364241334574128"/>
<path d="M352.25,233.58 A144.76,144.76 0 0 1 349.88,237.85" fill="none" stroke="#1a1a1a" stroke-width="0.4584416848690511"/>
<path d="M351.83,234.25 A144.70,144.70 0 0 1 348.08,240.77" fill="none" stroke="#1a1a1a" stroke-width="0.37644303244459537"/>
<path d="M349.52,233.96 A142.54,142.54 0 0 1 348.15,236.41" fill="none" stroke="#1a1a1a" stroke-width="0.4863302536324008"/>
<path d="M349.64,234.79 A143.04,143.04 0 0 1 347.09,239.19" fill="none" stroke="#1a1a1a" stroke-width="0.6787716136395487"/>
<path d="M351.91,236.71 A145.96,145.96 0 0 1 349.21,241.34" fill="none" stroke="#1a1a1a" stroke-width="0.5538374964024907"/>
<path d="M350.58,236.47 A144.69,144.69 0 0 1 346.99,242.51" fill="none" stroke="#1a1a1a" stroke-width="0.5859647044896884"/>
<path d="M350.33,236.86 A144.65,144.65 0 0 1 347.76,241.20" fill="none" stroke="#1a1a1a" stroke-width="0.46786754612918385"/>
<path d="M350.75,237.85 A145.51,145.51 0 0 1 349.68,239.69" fill="none" stroke="#1a1a1a" stroke-width="0.42700542809468434"/>
<path d="M348.89,237.57 A143.76,143.76 0 0 1 347.67,239.64" fill="none" stroke="#1a1a1a" stroke-width="0.6166614622539967"/>
<path d="M351.44,239.65 A147.01,147.01 0 0 1 348.74,244.10" fill="none" stroke="#1a1a1a" stroke-width="0.3854590761794408"/>
<path d="M348.57,238.75 A144.08,144.08 0 0 1 345.13,244.29" fill="none" stroke="#1a1a1a" stroke-width="0.6034538703286982"/>
<path d="M347.50,238.97 A143.27,143.27 0 0 1 346.36,240.84" fill="none" stroke="#1a1a1a" stroke-width="0.6292550712858769"/>
<path d="M347.91,239.71 A144.00,144.00 0 0 1 346.77,241.56" fill="none" stroke="#1a1a1a" stroke-width="0.4072289568205363"/>
<path d="M350.50,241.97 A147.39,147.39 0 0 1 348.44,245.26" fill="none" stroke="#1a1a1a" stroke-width="0.4407651231842792"/>
<path d="M347.51,241.06 A144.37,144.37 0 0 1 344.53,245.72" fill="none" stroke="#1a1a1a" stroke-width="0.5653108619328354"/>
<path d="M346.81,241.59 A144.05,144.05 0 0 1 344.02,245.89" fill="none" stroke="#1a1a1a" stroke-width="0.48399736626172735"/>
<path d="M347.35,242.84 A145.16,145.16 0 0 1 344.04,247.86" fill="none" stroke="#1a1a1a" stroke-width="0.4148434515698385"/>
<path d="M349.69,245.04 A148.32,148.32 0 0 1 347.81,247.92" fill="none" stroke="#1a1a1a" stroke-width="0.4476124938179421"/>
<path d="M348.43,245.22 A147.35,147.35 0 0 1 347.09,247.26" fill="none" stroke="#1a1a1a" stroke-width="0.4152654855941239"/>
<path d="M346.97,244.85 A145.93,145.93 0 0 1 343.16,250.45" fill="none" stroke="#1a1a1a" stroke-width="0.5951809785666887"/>
<path d="M348.02,246.56 A147.74,147.74 0 0 1 344.84,251.21" fill="none" stroke="#1a1a1a" stroke-width="0.4840910272843557"/>
<path d="M347.20,246.90 A147.25,147.25 0 0 1 345.87,248.88" fill="none" stroke="#1a1a1a" stroke-width="0.522205727591034"/>
<path d="M347.16,247.55 A147.57,147.57 0 0 1 345.85,249.48" fill="none" stroke="#1a1a1a" stroke-width="0.359773852496722"/>
<path d="M346.37,248.06 A147.20,147.20 0 0 1 344.13,251.27" fill="none" stroke="#1a1a1a" stroke-width="0.4019163562358512"/>
<path d="M347.95,249.94 A149.57,149.57 0 0 1 346.16,252.50" fill="none" stroke="#1a1a1a" stroke-width="0.5250807971058611"/>
<path d="M347.16,250.16 A149.04,149.04 0 0 1 344.06,254.48" fill="none" stroke="#1a1a1a" stroke-width="0.43360613440688445"/>
<path d="M346.72,250.41 A148.82,148.82 0 0 1 345.26,252.47" fill="none" stroke="#1a1a1a" stroke-width="0.6526479481623695"/>
<path d="M344.74,249.50 A146.67,146.67 0 0 1 342.00,253.29" fill="none" stroke="#1a1a1a" stroke-width="0.6454003703038713"/>
<path d="M346.06,251.26 A148.77,148.77 0 0 1 342.25,256.43" fill="none" stroke="#1a1a1a" stroke-width="0.6028337132657263"/>
<path d="M346.05,251.73 A149.03,149.03 0 0 1 344.34,254.10" fill="none" stroke="#1a1a1a" stroke-width="0.4068106857337157"/>
<path d="M343.28,250.22 A145.89,145.89 0 0 1 339.11,255.78" fill="none" stroke="#1a1a1a" stroke-width="0.4833411123659337"/>
<path d="M343.07,250.56 A145.92,145.92 0 0 1 338.99,255.98" fill="none" stroke="#1a1a1a" stroke-width="0.5605538114606798"/>
<path d="M342.49,251.16 A145.80,145.80 0 0 1 340.90,253.30" fill="none" stroke="#1a1a1a" stroke-width="0.4503372957034434"/>
<path d="M342.41,251.67 A146.04,146.04 0 0 1 340.52,254.20" fill="none" stroke="#1a1a1a" stroke-width="0.5741266942235375"/>
<path d="M342.29,252.12 A146.21,146.21 0 0 1 339.23,256.14" fill="none" stroke="#1a1a1a" stroke-width="0.4814273144559501"/>
<path d="M343.21,253.35 A147.68,147.68 0 0 1 340.21,257.27" fill="none" stroke="#1a1a1a" stroke-width="0.4858063928928851"/>
<path d="M341.20,252.60 A145.62,145.62 0 0 1 337.84,256.92" fill="none" stroke="#1a1a1a" stroke-width="0.41768077710468465"/>
<path d="M340.75,252.92 A145.45,145.45 0 0 1 336.41,258.40" fill="none" stroke="#1a1a1a" stroke-width="0.5556708633759474"/>
<path d="M341.95,254.53 A147.38,147.38 0 0 1 337.35,260.29" fill="none" stroke="#1a1a1a" stroke-width="0.3962271672200808"/>
<path d="M342.05,255.31 A147.93,147.93 0 0 1 339.47,258.59" fill="none" stroke="#1a1a1a" stroke-width="0.5973731885678306"/>
<path d="M339.52,254.40 A145.37,145.37 0 0 1 337.27,257.23" fill="none" stroke="#1a1a1a" stroke-width="0.45248556610611823"/>
<path d="M341.16,256.61 A148.02,148.02 0 0 1 337.34,261.29" fill="none" stroke="#1a1a1a" stroke-width="0.6736634222790907"/>
<path d="M339.71,256.05 A146.53,146.53 0 0 1 335.35,261.33" fill="none" stroke="#1a1a1a" stroke-width="0.6179352155931208"/>
<path d="M341.09,257.67 A148.62,148.62 0 0 1 337.08,262.53" fill="none" stroke="#1a1a1a" stroke-width="0.6530710212095538"/>
<path d="M339.63,257.21 A147.19,147.19 0 0 1 334.82,262.94" fill="none" stroke="#1a1a1a" stroke-width="0.6642768752439832"/>
<path d="M339.95,258.32 A148.14,148.14 0 0 1 334.94,264.23" fill="none" stroke="#1a1a1a" stroke-width="0.643730217361117"/>
<path d="M339.74,259.05 A148.43,148.43 0 0 1 337.89,261.27" fill="none" stroke="#1a1a1a" stroke-width="0.4912938700902511"/>
<path d="M337.13,257.75 A145.59,145.59 0 0 1 332.97,262.61" fill="none" stroke="#1a1a1a" stroke-width="0.37175165937850874"/>
<path d="M337.20,258.69 A146.24,146.24 0 0 1 334.71,261.63" fill="none" stroke="#1a1a1a" stroke-width="0.5623905143608829"/>
<path d="M337.43,259.48 A146.92,146.92 0 0 1 332.90,264.66" fill="none" stroke="#1a1a1a" stroke-width="0.6953997352016326"/>
<path d="M336.96,259.73 A146.72,146.72 0 0 1 333.05,264.21" fill="none" stroke="#1a1a1a" stroke-width="0.4164169139399727"/>
<path d="M336.12,260.05 A146.28,146.28 0 0 1 332.71,263.94" fill="none" stroke="#1a1a1a" stroke-width="0.46879823473641064"/>
<path d="M335.41,259.92 A145.66,145.66 0 0 1 334.08,261.47" fill="none" stroke="#1a1a1a" stroke-width="0.4648764783477278"/>
<path d="M337.77,262.59 A149.18,149.18 0 0 1 333.95,266.87" fill="none" stroke="#1a1a1a" stroke-width="0.3728370767156456"/>
<path d="M335.40,261.52 A146.69,146.69 0 0 1 332.23,265.07" fill="none" stroke="#1a1a1a" stroke-width="0.6029165589215222"/>
<path d="M336.79,263.80 A149.24,149.24 0 0 1 333.78,267.14" fill="none" stroke="#1a1a1a" stroke-width="0.4612015150238629"/>
<path d="M334.90,262.89 A147.21,147.21 0 0 1 330.67,267.48" fill="none" stroke="#1a1a1a" stroke-width="0.5120422954742205"/>
<path d="M334.11,263.14 A146.80,146.80 0 0 1 329.71,267.87" fill="none" stroke="#1a1a1a" stroke-width="0.6883648167213329"/>
<path d="M335.04,264.59 A148.45,148.45 0 0 1 333.01,266.80" fill="none" stroke="#1a1a1a" stroke-width="0.36236441543415515"/>
<path d="M333.64,264.11 A147.09,147.09 0 0 1 329.41,268.61" fill="none" stroke="#1a1a1a" stroke-width="0.5503184112582709"/>
<path d="M335.20,266.49 A149.85,149.85 0 0 1 333.55,268.27" fill="none" stroke="#1a1a1a" stroke-width="0.38442570847773605"/>
<path d="M333.74,265.67 A148.21,148.21 0 0 1 329.06,270.55" fill="none" stroke="#1a1a1a" stroke-width="0.5893224424829254"/>
<path d="M334.35,267.11 A149.64,149.64 0 0 1 331.44,270.18" fill="none" stroke="#1a1a1a" stroke-width="0.3895362203574127"/>
<path d="M331.96,265.84 A147.02,147.02 0 0 1 329.64,268.26" fill="none" stroke="#1a1a1a" stroke-width="0.36042859260137655"/>
<path d="M331.80,266.30 A147.22,147.22 0 0 1 328.28,269.93" fill="none" stroke="#1a1a1a" stroke-width="0.39483384775084696"/>
<path d="M333.15,268.50 A149.71,149.71 0 0 1 330.31,271.41" fill="none" stroke="#1a1a1a" stroke-width="0.39211763352522827"/>
<path d="M332.42,268.80 A149.39,149.39 0 0 1 327.35,273.85" fill="none" stroke="#1a1a1a" stroke-width="0.5439371997375834"/>
<path d="M332.27,269.58 A149.82,149.82 0 0 1 328.02,273.80" fill="none" stroke="#1a1a1a" stroke-width="0.6912081190522243"/>
<path d="M331.70,269.74 A149.53,149.53 0 0 1 327.63,273.77" fill="none" stroke="#1a1a1a" stroke-width="0.5139445515273474"/>
<path d="M330.75,269.34 A148.56,148.56 0 0 1 328.22,271.86" fill="none" stroke="#1a1a1a" stroke-width="0.5605321751420616"/>
<path d="M330.39,269.86 A148.67,148.67 0 0 1 328.68,271.56" fill="none" stroke="#1a1a1a" stroke-width="0.39603977557869285"/>
<path d="M330.30,270.72 A149.21,149.21 0 0 1 324.68,276.08" fill="none" stroke="#1a1a1a" stroke-width="0.6274560638151917"/>
<path d="M329.42,270.58 A148.49,148.49 0 0 1 325.86,274.02" fill="none" stroke="#1a1a1a" stroke-width="0.6313973557041563"/>
<path d="M330.05,272.01 A149.95,149.95 0 0 1 326.53,275.39" fill="none" stroke="#1a1a1a" stroke-width="0.48929454191601607"/>
<path d="M328.26,271.08 A148.03,148.03 0 0 1 322.60,276.36" fill="none" stroke="#1a1a1a" stroke-width="0.36622417416840036"/>
<path d="M327.14,270.74 A147.00,147.00 0 0 1 322.85,274.76" fill="none" stroke="#1a1a1a" stroke-width="0.40273203406797453"/>
<path d="M327.48,271.72 A147.95,147.95 0 0 1 323.47,275.46" fill="none" stroke="#1a1a1a" stroke-width="0.61726342925314"/>
<path d="M326.66,271.72 A147.38,147.38 0 0 1 323.64,274.55" fill="none" stroke="#1a1a1a" stroke-width="0.6609211733128071"/>
<path d="M325.63,271.32 A146.37,146.37 0 0 1 320.44,276.04" fill="none" stroke="#1a1a1a" stroke-width="0.5190285373463874"/>
<path d="M325.50,271.80 A146.63,146.63 0 0 1 320.27,276.54" fill="none" stroke="#1a1a1a" stroke-width="0.6121939044952371"/>
<path d="M326.27,273.19 A148.17,148.17 0 0 1 323.86,275.42" fill="none" stroke="#1a1a1a" stroke-width="0.5060645991124445"/>
<path d="M324.35,272.12 A146.07,146.07 0 0 1 318.91,276.96" fill="none" stroke="#1a1a1a" stroke-width="0.46731997725948005"/>
<path d="M325.45,273.94 A148.16,148.16 0 0 1 323.47,275.75" fill="none" stroke="#1a1a1a" stroke-width="0.36301211559422464"/>
<path d="M324.17,273.57 A147.01,147.01 0 0 1 318.80,278.28" fill="none" stroke="#1a1a1a" stroke-width="0.6267379363418005"/>
<path d="M322.87,272.85 A145.60,145.60 0 0 1 318.82,276.43" fill="none" stroke="#1a1a1a" stroke-width="0.5146427908775668"/>
<path d="M324.15,275.01 A148.06,148.06 0 0 1 321.72,277.17" fill="none" stroke="#1a1a1a" stroke-width="0.5751416603863756"/>
<path d="M323.78,275.20 A147.96,147.96 0 0 1 318.13,280.07" fill="none" stroke="#1a1a1a" stroke-width="0.5663173471631198"/>
<path d="M322.89,275.00 A147.21,147.21 0 0 1 317.45,279.65" fill="none" stroke="#1a1a1a" stroke-width="0.6282199493869465"/>
<path d="M322.10,274.68 A146.45,146.45 0 0 1 319.97,276.55" fill="none" stroke="#1a1a1a" stroke-width="0.541223000215234"/>
<path d="M322.00,275.85 A147.25,147.25 0 0 1 319.38,278.11" fill="none" stroke="#1a1a1a" stroke-width="0.5431729520182772"/>
<path d="M320.22,274.60 A145.14,145.14 0 0 1 315.49,278.57" fill="none" stroke="#1a1a1a" stroke-width="0.615768579280868"/>
<path d="M320.27,275.47 A145.83,145.83 0 0 1 315.72,279.28" fill="none" stroke="#1a1a1a" stroke-width="0.6046524098394084"/>
<path d="M319.22,275.16 A144.91,144.91 0 0 1 317.28,276.81" fill="none" stroke="#1a1a1a" stroke-width="0.4093448350966379"/>
<path d="M319.31,276.44 A145.93,145.93 0 0 1 314.94,280.03" fill="none" stroke="#1a1a1a" stroke-width="0.47759334608507964"/>
<path d="M318.27,276.07 A144.97,144.97 0 0 1 312.47,280.74" fill="none" stroke="#1a1a1a" stroke-width="0.561934909125724"/>
<path d="M318.89,277.46 A146.44,146.44 0 0 1 314.70,280.86" fill="none" stroke="#1a1a1a" stroke-width="0.5646442520811368"/>
<path d="M318.10,277.68 A146.10,146.10 0 0 1 312.66,282.01" fill="none" stroke="#1a1a1a" stroke-width="0.6893883727588188"/>
<path d="M317.71,278.09 A146.17,146.17 0 0 1 314.48,280.69" fill="none" stroke="#1a1a1a" stroke-width="0.4937025776032103"/>
<path d="M317.26,278.40 A146.12,146.12 0 0 1 314.12,280.91" fill="none" stroke="#1a1a1a" stroke-width="0.4731956798309739"/>
<path d="M316.87,279.17 A146.47,146.47 0 0 1 312.26,282.77" fill="none" stroke="#1a1a1a" stroke-width="0.6452677656012011"/>
<path d="M316.13,279.14 A145.98,145.98 0 0 1 313.43,281.27" fill="none" stroke="#1a1a1a" stroke-width="0.4603794209590668"/>
<path d="M316.06,279.70 A146.38,146.38 0 0 1 310.32,284.08" fill="none" stroke="#1a1a1a" stroke-width="0.4559519790639754"/>
<path d="M314.50,278.62 A144.55,144.55 0 0 1 312.28,280.35" fill="none" stroke="#1a1a1a" stroke-width="0.5733672632711553"/>
<path d="M313.96,279.25 A144.71,144.71 0 0 1 311.24,281.34" fill="none" stroke="#1a1a1a" stroke-width="0.6156839912486975"/>
<path d="M315.00,281.34 A147.00,147.00 0 0 1 311.78,283.78" fill="none" stroke="#1a1a1a" stroke-width="0.5156967474509975"/>
<path d="M313.75,280.48 A145.55,145.55 0 0 1 310.23,283.13" fill="none" stroke="#1a1a1a" stroke-width="0.44737410550504486"/>
<path d="M312.89,280.54 A145.08,145.08 0 0 1 308.39,283.86" fill="none" stroke="#1a1a1a" stroke-width="0.6308975411399318"/>
<path d="M312.83,281.33 A145.67,145.67 0 0 1 310.67,282.95" fill="none" stroke="#1a1a1a" stroke-width="0.37709716580035113"/>
<path d="M313.02,282.84 A146.98,146.98 0 0 1 311.30,284.11" fill="none" stroke="#1a1a1a" stroke-width="0.5086534128604876"/>
<path d="M312.16,282.80 A146.43,146.43 0 0 1 310.35,284.12" fill="none" stroke="#1a1a1a" stroke-width="0.4973492305980144"/>
<path d="M312.83,284.61 A148.29,148.29 0 0 1 309.49,287.02" fill="none" stroke="#1a1a1a" stroke-width="0.6728865069517249"/>
<path d="M311.71,284.45 A147.49,147.49 0 0 1 309.46,286.07" fill="none" stroke="#1a1a1a" stroke-width="0.6327336428338417"/>
<path d="M311.42,284.75 A147.57,147.57 0 0 1 309.30,286.27" fill="none" stroke="#1a1a1a" stroke-width="0.38240587608931065"/>
<path d="M310.46,284.39 A146.71,146.71 0 0 1 304.15,288.70" fill="none" stroke="#1a1a1a" stroke-width="0.5522828948020353"/>
<path d="M311.12,286.72 A148.98,148.98 0 0 1 305.82,290.33" fill="none" stroke="#1a1a1a" stroke-width="0.5760145527312961"/>
<path d="M310.40,286.76 A148.60,148.60 0 0 1 305.52,290.07" fill="none" stroke="#1a1a1a" stroke-width="0.4053004159158502"/>
<path d="M309.29,286.29 A147.58,147.58 0 0 1 305.17,289.09" fill="none" stroke="#1a1a1a" stroke-width="0.5995982107775617"/>
<path d="M308.86,286.93 A147.85,147.85 0 0 1 303.40,290.54" fill="none" stroke="#1a1a1a" stroke-width="0.6388241470283977"/>
<path d="M307.88,286.23 A146.73,146.73 0 0 1 305.97,287.53" fill="none" stroke="#1a1a1a" stroke-width="0.40615113330486385"/>
<path d="M307.33,286.94 A147.00,147.00 0 0 1 303.55,289.43" fill="none" stroke="#1a1a1a" stroke-width="0.5128703002566463"/>
<path d="M306.70,287.15 A146.82,146.82 0 0 1 301.28,290.64" fill="none" stroke="#1a1a1a" stroke-width="0.4660851760673698"/>
<path d="M306.68,288.55 A147.97,147.97 0 0 1 304.95,289.69" fill="none" stroke="#1a1a1a" stroke-width="0.54169781828206"/>
<path d="M306.41,288.88 A148.10,148.10 0 0 1 304.35,290.23" fill="none" stroke="#1a1a1a" stroke-width="0.44352926706382445"/>
<path d="M305.33,288.63 A147.29,147.29 0 0 1 300.40,291.73" fill="none" stroke="#1a1a1a" stroke-width="0.494568552933202"/>
<path d="M304.29,288.17 A146.33,146.33 0 0 1 300.36,290.64" fill="none" stroke="#1a1a1a" stroke-width="0.4400423125983118"/>
<path d="M303.56,288.34 A146.08,146.08 0 0 1 301.18,289.84" fill="none" stroke="#1a1a1a" stroke-width="0.4191429469619058"/>
<path d="M303.64,289.63 A147.21,147.21 0 0 1 301.88,290.73" fill="none" stroke="#1a1a1a" stroke-width="0.6955011492579066"/>
<path d="M302.70,289.62 A146.70,146.70 0 0 1 300.19,291.17" fill="none" stroke="#1a1a1a" stroke-width="0.6390573805651938"/>
<path d="M301.71,289.65 A146.20,146.20 0 0 1 296.30,292.86" fill="none" stroke="#1a1a1a" stroke-width="0.6362943647286282"/>
<path d="M301.02,290.14 A146.25,146.25 0 0 1 298.69,291.54" fill="none" stroke="#1a1a1a" stroke-width="0.4075843777481005"/>
<path d="M301.46,291.77 A147.87,147.87 0 0 1 295.20,295.38" fill="none" stroke="#1a1a1a" stroke-width="0.5158227618406193"/>
<path d="M300.42,290.87 A146.57,146.57 0 0 1 297.49,292.60" fill="none" stroke="#1a1a1a" stroke-width="0.5769298247725312"/>
<path d="M300.30,292.08 A147.54,147.54 0 0 1 296.37,294.35" fill="none" stroke="#1a1a1a" stroke-width="0.5098995287682409"/>
<path d="M299.29,291.56 A146.58,146.58 0 0 1 295.29,293.85" fill="none" stroke="#1a1a1a" stroke-width="0.589843210451003"/>
<path d="M298.60,291.82 A146.45,146.45 0 0 1 294.04,294.39" fill="none" stroke="#1a1a1a" stroke-width="0.40076341557446993"/>
<path d="M298.34,292.13 A146.58,146.58 0 0 1 294.80,294.13" fill="none" stroke="#1a1a1a" stroke-width="0.3613767586090397"/>
<path d="M298.03,292.38 A146.64,146.64 0 0 1 291.57,295.90" fill="none" stroke="#1a1a1a" stroke-width="0.6431298063901066"/>
<path d="M297.56,292.32 A146.35,146.35 0 0 1 293.96,294.32" fill="none" stroke="#1a1a1a" stroke-width="0.4588938834136479"/>
<path d="M297.48,293.04 A146.94,146.94 0 0 1 291.51,296.27" fill="none" stroke="#1a1a1a" stroke-width="0.4835940183531877"/>
<path d="M296.52,292.25 A145.78,145.78 0 0 1 294.67,293.29" fill="none" stroke="#1a1a1a" stroke-width="0.6178644099690901"/>
<path d="M296.78,293.68 A147.15,147.15 0 0 1 291.03,296.76" fill="none" stroke="#1a1a1a" stroke-width="0.3791979161646733"/>
<path d="M295.90,293.05 A146.18,146.18 0 0 1 290.29,296.03" fill="none" stroke="#1a1a1a" stroke-width="0.6078930250888388"/>
<path d="M295.58,293.53 A146.44,146.44 0 0 1 292.02,295.44" fill="none" stroke="#1a1a1a" stroke-width="0.5150983112684684"/>
<path d="M294.67,293.45 A145.93,145.93 0 0 1 288.83,296.48" fill="none" stroke="#1a1a1a" stroke-width="0.6719988070746877"/>
<path d="M294.80,295.09 A147.43,147.43 0 0 1 288.24,298.44" fill="none" stroke="#1a1a1a" stroke-width="0.4098987284919496"/>
<path d="M293.19,293.93 A145.64,145.64 0 0 1 287.37,296.88" fill="none" stroke="#1a1a1a" stroke-width="0.3924302556413448"/>
<path d="M292.97,294.60 A146.13,146.13 0 0 1 286.94,297.62" fill="none" stroke="#1a1a1a" stroke-width="0.5882555217419092"/>
<path d="M293.02,295.67 A147.10,147.10 0 0 1 286.80,298.76" fill="none" stroke="#1a1a1a" stroke-width="0.5284595408422527"/>
<path d="M292.03,294.61 A145.70,145.70 0 0 1 288.75,296.27" fill="none" stroke="#1a1a1a" stroke-width="0.496576500233318"/>
<path d="M291.57,295.54 A146.32,146.32 0 0 1 285.59,298.45" fill="none" stroke="#1a1a1a" stroke-width="0.3749535094510771"/>
<path d="M291.33,296.14 A146.74,146.74 0 0 1 287.77,297.90" fill="none" stroke="#1a1a1a" stroke-width="0.4296116417270823"/>
<path d="M290.35,295.07 A145.34,145.34 0 0 1 286.46,296.98" fill="none" stroke="#1a1a1a" stroke-width="0.5411998432292294"/>
<path d="M290.42,296.45 A146.61,146.61 0 0 1 287.11,298.07" fill="none" stroke="#1a1a1a" stroke-width="0.35588838800504413"/>
<path d="M289.65,296.48 A146.29,146.29 0 0 1 285.31,298.55" fill="none" stroke="#1a1a1a" stroke-width="0.4821975431030041"/>
<path d="M288.99,296.26 A145.80,145.80 0 0 1 285.65,297.85" fill="none" stroke="#1a1a1a" stroke-width="0.4543016642704286"/>
<path d="M288.64,296.50 A145.86,145.86 0 0 1 284.36,298.51" fill="none" stroke="#1a1a1a" stroke-width="0.3568436138843344"/>
<path d="M288.32,297.67 A146.77,146.77 0 0 1 284.19,299.59" fill="none" stroke="#1a1a1a" stroke-width="0.533979994109911"/>
<path d="M287.78,297.42 A146.31,146.31 0 0 1 281.90,300.08" fill="none" stroke="#1a1a1a" stroke-width="0.5447647048440758"/>
<path d="M287.52,298.29 A146.98,146.98 0 0 1 281.78,300.86" fill="none" stroke="#1a1a1a" stroke-width="0.5261001179862502"/>
<path d="M287.23,299.48 A147.94,147.94 0 0 1 281.11,302.18" fill="none" stroke="#1a1a1a" stroke-width="0.6040578115701847"/>
<path d="M286.04,298.58 A146.62,146.62 0 0 1 281.42,300.62" fill="none" stroke="#1a1a1a" stroke-width="0.5526629506998663"/>
<path d="M285.58,299.10 A146.90,146.90 0 0 1 280.71,301.21" fill="none" stroke="#1a1a1a" stroke-width="0.36823214770529794"/>
<path d="M284.50,298.50 A145.91,145.91 0 0 1 280.34,300.30" fill="none" stroke="#1a1a1a" stroke-width="0.6678850577095174"/>
<path d="M283.91,298.13 A145.33,145.33 0 0 1 280.13,299.76" fill="none" stroke="#1a1a1a" stroke-width="0.6819379121312175"/>
<path d="M283.45,298.17 A145.18,145.18 0 0 1 280.85,299.29" fill="none" stroke="#1a1a1a" stroke-width="0.6138585292994867"/>
<path d="M282.86,298.32 A145.07,145.07 0 0 1 280.02,299.53" fill="none" stroke="#1a1a1a" stroke-width="0.659175046168244"/>
<path d="M282.00,297.25 A143.75,143.75 0 0 1 279.51,298.31" fill="none" stroke="#1a1a1a" stroke-width="0.6576092305963773"/>
<path d="M281.23,297.33 A143.51,143.51 0 0 1 279.42,298.09" fill="none" stroke="#1a1a1a" stroke-width="0.5982704036800138"/>
<line x1="226.99" y1="22.99" x2="227.02" y2="21.06" stroke="#222" stroke-width="0.45"/>
<line x1="231.66" y1="25.18" x2="231.81" y2="22.30" stroke="#222" stroke-width="0.45"/>
<line x1="233.69" y1="25.67" x2="233.88" y2="22.89" stroke="#222" stroke-width="0.45"/>
<line x1="236.66" y1="25.58" x2="236.84" y2="23.55" stroke="#222" stroke-width="0.45"/>
<line x1="241.00" y1="27.75" x2="241.44" y2="24.06" stroke="#222" stroke-width="0.45"/>
<line x1="243.41" y1="27.10" x2="243.78" y2="24.38" stroke="#222" stroke-width="0.45"/>
<line x1="246.05" y1="27.98" x2="246.55" y2="24.81" stroke="#222" stroke-width="0.45"/>
<line x1="248.40" y1="27.71" x2="248.83" y2="25.21" stroke="#222" stroke-width="0.45"/>
<line x1="251.44" y1="28.59" x2="251.98" y2="25.82" stroke="#222" stroke-width="0.45"/>
<line x1="254.53" y1="29.52" x2="255.19" y2="26.52" stroke="#222" stroke-width="0.45"/>
<line x1="258.92" y1="31.28" x2="259.85" y2="27.64" stroke="#222" stroke-width="0.45"/>
<line x1="263.41" y1="32.19" x2="264.41" y2="28.76" stroke="#222" stroke-width="0.45"/>
<line x1="266.27" y1="31.77" x2="266.98" y2="29.47" stroke="#222" stroke-width="0.45"/>
<line x1="269.18" y1="33.48" x2="270.21" y2="30.43" stroke="#222" stroke-width="0.45"/>
<line x1="272.91" y1="34.09" x2="273.83" y2="31.61" stroke="#222" stroke-width="0.45"/>
<line x1="277.54" y1="35.63" x2="278.51" y2="33.24" stroke="#222" stroke-width="0.45"/>
<line x1="279.66" y1="35.78" x2="280.50" y2="33.80" stroke="#222" stroke-width="0.45"/>
<line x1="281.64" y1="37.70" x2="283.04" y2="34.56" stroke="#222" stroke-width="0.45"/>
<line x1="286.48" y1="37.85" x2="287.38" y2="35.99" stroke="#222" stroke-width="0.45"/>
<line x1="288.61" y1="39.58" x2="289.74" y2="37.37" stroke="#222" stroke-width="0.45"/>
<line x1="291.56" y1="43.13" x2="293.42" y2="39.75" stroke="#222" stroke-width="0.45"/>
<line x1="294.56" y1="43.38" x2="295.73" y2="41.33" stroke="#222" stroke-width="0.45"/>
<line x1="297.18" y1="48.29" x2="299.43" y2="44.67" stroke="#222" stroke-width="0.45"/>
<line x1="300.94" y1="49.85" x2="302.81" y2="47.02" stroke="#222" stroke-width="0.45"/>
<line x1="304.11" y1="52.47" x2="306.49" y2="49.09" stroke="#222" stroke-width="0.45"/>
<line x1="308.90" y1="51.73" x2="310.84" y2="49.11" stroke="#222" stroke-width="0.45"/>
<line x1="312.73" y1="52.57" x2="315.29" y2="49.29" stroke="#222" stroke-width="0.45"/>
<line x1="314.98" y1="54.51" x2="317.64" y2="51.25" stroke="#222" stroke-width="0.45"/>
<line x1="316.35" y1="56.68" x2="319.54" y2="52.89" stroke="#222" stroke-width="0.45"/>
<line x1="319.24" y1="57.35" x2="321.56" y2="54.70" stroke="#222" stroke-width="0.45"/>
<line x1="321.83" y1="61.75" x2="325.29" y2="58.06" stroke="#222" stroke-width="0.45"/>
<line x1="326.26" y1="64.02" x2="329.76" y2="60.54" stroke="#222" stroke-width="0.45"/>
<line x1="330.06" y1="66.72" x2="333.70" y2="63.31" stroke="#222" stroke-width="0.45"/>
<line x1="333.75" y1="68.44" x2="336.41" y2="66.07" stroke="#222" stroke-width="0.45"/>
<line x1="335.44" y1="72.60" x2="339.40" y2="69.28" stroke="#222" stroke-width="0.45"/>
<line x1="339.60" y1="75.13" x2="342.49" y2="72.86" stroke="#222" stroke-width="0.45"/>
<line x1="339.85" y1="77.74" x2="343.91" y2="74.66" stroke="#222" stroke-width="0.45"/>
<line x1="341.65" y1="80.77" x2="346.10" y2="77.55" stroke="#222" stroke-width="0.45"/>
<line x1="345.22" y1="84.41" x2="349.12" y2="81.79" stroke="#222" stroke-width="0.45"/>
<line x1="347.05" y1="88.09" x2="351.47" y2="85.30" stroke="#222" stroke-width="0.45"/>
<line x1="349.69" y1="91.33" x2="353.74" y2="88.93" stroke="#222" stroke-width="0.45"/>
<line x1="351.40" y1="94.93" x2="355.82" y2="92.47" stroke="#222" stroke-width="0.45"/>
<line x1="346.06" y1="103.03" x2="353.40" y2="99.26" stroke="#222" stroke-width="0.45"/>
<line x1="347.66" y1="106.92" x2="354.85" y2="103.51" stroke="#222" stroke-width="0.45"/>
<line x1="349.14" y1="108.99" x2="356.38" y2="105.71" stroke="#222" stroke-width="0.45"/>
<line x1="351.13" y1="112.34" x2="358.67" y2="109.17" stroke="#222" stroke-width="0.45"/>
<line x1="353.36" y1="113.85" x2="359.95" y2="111.21" stroke="#222" stroke-width="0.45"/>
<line x1="354.29" y1="116.81" x2="361.41" y2="114.13" stroke="#222" stroke-width="0.45"/>
<line x1="355.04" y1="119.29" x2="362.19" y2="116.76" stroke="#222" stroke-width="0.45"/>
<line x1="354.94" y1="122.63" x2="363.06" y2="119.96" stroke="#222" stroke-width="0.45"/>
<line x1="356.00" y1="127.05" x2="364.21" y2="124.65" stroke="#222" stroke-width="0.45"/>
<line x1="356.03" y1="129.09" x2="364.66" y2="126.70" stroke="#222" stroke-width="0.45"/>
<line x1="357.16" y1="132.57" x2="365.61" y2="130.47" stroke="#222" stroke-width="0.45"/>
<line x1="358.69" y1="135.98" x2="366.48" y2="134.27" stroke="#222" stroke-width="0.45"/>
<line x1="359.81" y1="138.71" x2="367.10" y2="137.27" stroke="#222" stroke-width="0.45"/>
<line x1="360.49" y1="142.49" x2="367.82" y2="141.25" stroke="#222" stroke-width="0.45"/>
<line x1="359.35" y1="146.58" x2="368.44" y2="145.31" stroke="#222" stroke-width="0.45"/>
<line x1="360.39" y1="150.30" x2="368.93" y2="149.34" stroke="#222" stroke-width="0.45"/>
<line x1="360.05" y1="154.56" x2="369.35" y2="153.81" stroke="#222" stroke-width="0.45"/>
<line x1="360.21" y1="158.77" x2="369.63" y2="158.30" stroke="#222" stroke-width="0.45"/>
<line x1="362.18" y1="161.93" x2="369.67" y2="161.73" stroke="#222" stroke-width="0.45"/>
<line x1="360.71" y1="165.62" x2="369.48" y2="165.63" stroke="#222" stroke-width="0.45"/>
<line x1="360.23" y1="169.97" x2="368.48" y2="170.24" stroke="#222" stroke-width="0.45"/>
<line x1="361.01" y1="172.94" x2="367.73" y2="173.31" stroke="#222" stroke-width="0.45"/>
<line x1="359.02" y1="177.08" x2="366.52" y2="177.72" stroke="#222" stroke-width="0.45"/>
<line x1="358.74" y1="181.75" x2="365.81" y2="182.60" stroke="#222" stroke-width="0.45"/>
<line x1="357.76" y1="185.95" x2="365.05" y2="187.07" stroke="#222" stroke-width="0.45"/>
<line x1="357.55" y1="190.67" x2="364.06" y2="191.90" stroke="#222" stroke-width="0.45"/>
<line x1="356.75" y1="195.04" x2="362.98" y2="196.43" stroke="#222" stroke-width="0.45"/>
<line x1="356.46" y1="196.95" x2="362.48" y2="198.38" stroke="#222" stroke-width="0.45"/>
<line x1="354.48" y1="199.42" x2="361.69" y2="201.30" stroke="#222" stroke-width="0.45"/>
<line x1="355.09" y1="202.70" x2="360.79" y2="204.32" stroke="#222" stroke-width="0.45"/>
<line x1="354.33" y1="206.50" x2="359.55" y2="208.15" stroke="#222" stroke-width="0.45"/>
<line x1="352.86" y1="208.93" x2="358.54" y2="210.85" stroke="#222" stroke-width="0.45"/>
<line x1="351.67" y1="210.89" x2="357.64" y2="213.02" stroke="#222" stroke-width="0.45"/>
<line x1="350.13" y1="213.60" x2="356.35" y2="215.98" stroke="#222" stroke-width="0.45"/>
<line x1="348.68" y1="216.07" x2="355.11" y2="218.69" stroke="#222" stroke-width="0.45"/>
<line x1="352.85" y1="220.49" x2="358.33" y2="222.84" stroke="#222" stroke-width="0.45"/>
<line x1="355.13" y1="224.39" x2="359.55" y2="226.37" stroke="#222" stroke-width="0.45"/>
<line x1="353.09" y1="226.63" x2="358.97" y2="229.42" stroke="#222" stroke-width="0.45"/>
<line x1="351.95" y1="229.26" x2="356.96" y2="231.76" stroke="#222" stroke-width="0.45"/>
<line x1="349.67" y1="232.07" x2="354.11" y2="234.43" stroke="#222" stroke-width="0.45"/>
<line x1="348.63" y1="235.57" x2="352.55" y2="237.79" stroke="#222" stroke-width="0.45"/>
<line x1="347.00" y1="238.13" x2="351.17" y2="240.61" stroke="#222" stroke-width="0.45"/>
<line x1="345.00" y1="242.10" x2="349.79" y2="245.15" stroke="#222" stroke-width="0.45"/>
<line x1="344.18" y1="246.49" x2="348.47" y2="249.39" stroke="#222" stroke-width="0.45"/>
<line x1="341.26" y1="250.10" x2="345.57" y2="253.22" stroke="#222" stroke-width="0.45"/>
<line x1="340.77" y1="252.46" x2="344.00" y2="254.87" stroke="#222" stroke-width="0.45"/>
<line x1="336.69" y1="254.71" x2="340.84" y2="258.01" stroke="#222" stroke-width="0.45"/>
<line x1="334.14" y1="259.07" x2="337.96" y2="262.32" stroke="#222" stroke-width="0.45"/>
<line x1="333.18" y1="261.54" x2="336.58" y2="264.54" stroke="#222" stroke-width="0.45"/>
<line x1="331.04" y1="264.90" x2="334.34" y2="267.98" stroke="#222" stroke-width="0.45"/>
<line x1="328.91" y1="266.25" x2="332.63" y2="269.84" stroke="#222" stroke-width="0.45"/>
<line x1="327.35" y1="269.76" x2="329.94" y2="272.38" stroke="#222" stroke-width="0.45"/>
<line x1="322.57" y1="272.02" x2="325.13" y2="274.80" stroke="#222" stroke-width="0.45"/>
<line x1="320.11" y1="272.62" x2="322.97" y2="275.82" stroke="#222" stroke-width="0.45"/>
<line x1="318.35" y1="274.85" x2="320.51" y2="277.36" stroke="#222" stroke-width="0.45"/>
<line x1="315.48" y1="275.96" x2="318.03" y2="279.06" stroke="#222" stroke-width="0.45"/>
<line x1="313.16" y1="277.79" x2="315.67" y2="280.97" stroke="#222" stroke-width="0.45"/>
<line x1="309.91" y1="281.32" x2="312.62" y2="285.00" stroke="#222" stroke-width="0.45"/>
<line x1="306.42" y1="284.52" x2="308.87" y2="288.08" stroke="#222" stroke-width="0.45"/>
<line x1="303.97" y1="285.86" x2="306.22" y2="289.27" stroke="#222" stroke-width="0.45"/>
<line x1="302.28" y1="287.46" x2="304.20" y2="290.47" stroke="#222" stroke-width="0.45"/>
<line x1="300.85" y1="289.43" x2="302.20" y2="291.62" stroke="#222" stroke-width="0.45"/>
<line x1="296.49" y1="291.72" x2="297.76" y2="293.94" stroke="#222" stroke-width="0.45"/>
<line x1="292.24" y1="292.70" x2="293.79" y2="295.60" stroke="#222" stroke-width="0.45"/>
<line x1="290.15" y1="293.05" x2="291.89" y2="296.41" stroke="#222" stroke-width="0.45"/>
<line x1="288.37" y1="294.38" x2="290.12" y2="297.91" stroke="#222" stroke-width="0.45"/>
<line x1="284.49" y1="296.64" x2="285.77" y2="299.45" stroke="#222" stroke-width="0.45"/>
<circle cx="227.01" cy="21.60" r="1.09" fill="#111" fill-opacity="0.85"/>
<circle cx="229.15" cy="22.79" r="1.25" fill="#111" fill-opacity="0.85"/>
<circle cx="233.97" cy="23.59" r="1.10" fill="#111" fill-opacity="0.85"/>
<circle cx="238.83" cy="24.70" r="1.14" fill="#111" fill-opacity="0.85"/>
<circle cx="243.19" cy="25.37" r="0.97" fill="#111" fill-opacity="0.85"/>
<circle cx="246.31" cy="25.67" r="1.22" fill="#111" fill-opacity="0.85"/>
<circle cx="249.58" cy="26.93" r="0.86" fill="#111" fill-opacity="0.85"/>
<circle cx="252.50" cy="26.44" r="1.27" fill="#111" fill-opacity="0.85"/>
<circle cx="257.19" cy="28.92" r="1.01" fill="#111" fill-opacity="0.85"/>
<circle cx="259.63" cy="28.33" r="0.63" fill="#111" fill-opacity="0.85"/>
<circle cx="263.87" cy="30.05" r="1.27" fill="#111" fill-opacity="0.85"/>
<circle cx="267.13" cy="30.38" r="0.75" fill="#111" fill-opacity="0.85"/>
<circle cx="269.71" cy="30.84" r="0.95" fill="#111" fill-opacity="0.85"/>
<circle cx="273.12" cy="32.46" r="1.27" fill="#111" fill-opacity="0.85"/>
<circle cx="275.99" cy="34.17" r="0.97" fill="#111" fill-opacity="0.85"/>
<circle cx="278.71" cy="33.85" r="1.03" fill="#111" fill-opacity="0.85"/>
<circle cx="284.20" cy="35.53" r="1.09" fill="#111" fill-opacity="0.85"/>
<circle cx="286.64" cy="37.33" r="1.18" fill="#111" fill-opacity="0.85"/>
<circle cx="291.28" cy="39.38" r="0.71" fill="#111" fill-opacity="0.85"/>
<circle cx="295.72" cy="43.83" r="1.25" fill="#111" fill-opacity="0.85"/>
<circle cx="299.57" cy="45.65" r="0.86" fill="#111" fill-opacity="0.85"/>
<circle cx="304.52" cy="48.69" r="0.81" fill="#111" fill-opacity="0.85"/>
<circle cx="305.40" cy="51.17" r="0.85" fill="#111" fill-opacity="0.85"/>
<circle cx="308.81" cy="50.40" r="0.74" fill="#111" fill-opacity="0.85"/>
<circle cx="313.63" cy="50.42" r="1.06" fill="#111" fill-opacity="0.85"/>
<circle cx="315.62" cy="51.86" r="0.64" fill="#111" fill-opacity="0.85"/>
<circle cx="318.12" cy="55.01" r="0.78" fill="#111" fill-opacity="0.85"/>
<circle cx="323.14" cy="57.74" r="0.88" fill="#111" fill-opacity="0.85"/>
<circle cx="328.33" cy="60.28" r="0.99" fill="#111" fill-opacity="0.85"/>
<circle cx="330.83" cy="64.01" r="1.26" fill="#111" fill-opacity="0.85"/>
<circle cx="335.43" cy="66.71" r="0.74" fill="#111" fill-opacity="0.85"/>
<circle cx="338.15" cy="69.90" r="0.99" fill="#111" fill-opacity="0.85"/>
<circle cx="338.81" cy="72.55" r="0.89" fill="#111" fill-opacity="0.85"/>
<circle cx="341.65" cy="73.21" r="1.25" fill="#111" fill-opacity="0.85"/>
<circle cx="343.24" cy="79.27" r="0.87" fill="#111" fill-opacity="0.85"/>
<circle cx="348.79" cy="83.19" r="1.11" fill="#111" fill-opacity="0.85"/>
<circle cx="352.05" cy="88.51" r="0.60" fill="#111" fill-opacity="0.85"/>
<circle cx="353.79" cy="90.56" r="1.16" fill="#111" fill-opacity="0.85"/>
<circle cx="354.22" cy="95.75" r="0.68" fill="#111" fill-opacity="0.85"/>
<circle cx="352.19" cy="102.18" r="0.69" fill="#111" fill-opacity="0.85"/>
<circle cx="351.84" cy="107.29" r="1.16" fill="#111" fill-opacity="0.85"/>
<circle cx="357.94" cy="110.61" r="0.81" fill="#111" fill-opacity="0.85"/>
<circle cx="357.17" cy="113.73" r="0.62" fill="#111" fill-opacity="0.85"/>
<circle cx="357.75" cy="119.51" r="1.17" fill="#111" fill-opacity="0.85"/>
<circle cx="357.27" cy="123.87" r="1.18" fill="#111" fill-opacity="0.85"/>
<circle cx="359.10" cy="128.93" r="0.75" fill="#111" fill-opacity="0.85"/>
<circle cx="364.83" cy="131.00" r="1.14" fill="#111" fill-opacity="0.85"/>
<circle cx="359.57" cy="136.27" r="0.80" fill="#111" fill-opacity="0.85"/>
<circle cx="361.07" cy="139.75" r="1.28" fill="#111" fill-opacity="0.85"/>
<circle cx="361.76" cy="144.77" r="1.25" fill="#111" fill-opacity="0.85"/>
<circle cx="363.96" cy="147.57" r="0.64" fill="#111" fill-opacity="0.85"/>
<circle cx="362.14" cy="152.54" r="0.95" fill="#111" fill-opacity="0.85"/>
<circle cx="364.98" cy="154.86" r="0.65" fill="#111" fill-opacity="0.85"/>
<circle cx="368.58" cy="158.59" r="0.89" fill="#111" fill-opacity="0.85"/>
<circle cx="363.91" cy="164.15" r="1.20" fill="#111" fill-opacity="0.85"/>
<circle cx="365.49" cy="168.02" r="0.64" fill="#111" fill-opacity="0.85"/>
<circle cx="363.67" cy="173.19" r="0.89" fill="#111" fill-opacity="0.85"/>
<circle cx="363.79" cy="175.76" r="0.64" fill="#111" fill-opacity="0.85"/>
<circle cx="365.45" cy="178.36" r="0.90" fill="#111" fill-opacity="0.85"/>
<circle cx="361.05" cy="180.45" r="1.03" fill="#111" fill-opacity="0.85"/>
<circle cx="361.73" cy="186.06" r="0.71" fill="#111" fill-opacity="0.85"/>
<circle cx="359.69" cy="188.83" r="1.01" fill="#111" fill-opacity="0.85"/>
<circle cx="359.84" cy="193.50" r="0.63" fill="#111" fill-opacity="0.85"/>
<circle cx="360.21" cy="196.41" r="1.19" fill="#111" fill-opacity="0.85"/>
<circle cx="357.98" cy="201.85" r="0.78" fill="#111" fill-opacity="0.85"/>
<circle cx="357.54" cy="203.93" r="0.89" fill="#111" fill-opacity="0.85"/>
<circle cx="357.32" cy="209.93" r="0.74" fill="#111" fill-opacity="0.85"/>
<circle cx="357.35" cy="212.08" r="1.17" fill="#111" fill-opacity="0.85"/>
<circle cx="354.57" cy="217.01" r="0.61" fill="#111" fill-opacity="0.85"/>
<circle cx="357.59" cy="223.05" r="1.03" fill="#111" fill-opacity="0.85"/>
<circle cx="355.34" cy="228.56" r="0.80" fill="#111" fill-opacity="0.85"/>
<circle cx="353.51" cy="232.84" r="1.13" fill="#111" fill-opacity="0.85"/>
<circle cx="349.82" cy="234.41" r="1.07" fill="#111" fill-opacity="0.85"/>
<circle cx="349.21" cy="240.79" r="1.27" fill="#111" fill-opacity="0.85"/>
<circle cx="348.23" cy="245.57" r="1.05" fill="#111" fill-opacity="0.85"/>
<circle cx="347.60" cy="249.28" r="0.63" fill="#111" fill-opacity="0.85"/>
<circle cx="344.25" cy="252.74" r="0.67" fill="#111" fill-opacity="0.85"/>
<circle cx="340.65" cy="256.89" r="1.13" fill="#111" fill-opacity="0.85"/>
<circle cx="338.09" cy="259.00" r="1.25" fill="#111" fill-opacity="0.85"/>
<circle cx="334.12" cy="263.06" r="1.29" fill="#111" fill-opacity="0.85"/>
<circle cx="331.28" cy="266.81" r="1.04" fill="#111" fill-opacity="0.85"/>
<circle cx="329.23" cy="271.27" r="0.87" fill="#111" fill-opacity="0.85"/>
<circle cx="325.13" cy="273.61" r="1.05" fill="#111" fill-opacity="0.85"/>
<circle cx="319.15" cy="275.62" r="0.76" fill="#111" fill-opacity="0.85"/>
<circle cx="317.93" cy="277.51" r="0.90" fill="#111" fill-opacity="0.85"/>
<circle cx="313.53" cy="281.13" r="0.96" fill="#111" fill-opacity="0.85"/>
<circle cx="310.59" cy="285.03" r="1.07" fill="#111" fill-opacity="0.85"/>
<circle cx="306.73" cy="287.34" r="0.77" fill="#111" fill-opacity="0.85"/>
<circle cx="304.53" cy="288.71" r="1.22" fill="#111" fill-opacity="0.85"/>
<circle cx="299.32" cy="292.04" r="1.00" fill="#111" fill-opacity="0.85"/>
<circle cx="295.26" cy="293.60" r="0.72" fill="#111" fill-opacity="0.85"/>
<circle cx="290.66" cy="296.64" r="0.76" fill="#111" fill-opacity="0.85"/>
<circle cx="287.99" cy="298.62" r="0.74" fill="#111" fill-opacity="0.85"/>
<circle cx="285.16" cy="298.22" r="0.72" fill="#111" fill-opacity="0.85"/>
<circle cx="222.95" cy="17.03" r="2.37" fill="#F5A3A0"/>
<circle cx="224.24" cy="17.46" r="2.37" fill="#F5A3A0"/>
<circle cx="225.53" cy="18.08" r="2.28" fill="#F5A3A0"/>
<circle cx="226.82" cy="17.66" r="2.13" fill="#F5A3A0"/>
<circle cx="228.11" cy="17.89" r="2.35" fill="#F5A3A0"/>
<circle cx="229.40" cy="17.77" r="2.37" fill="#F5A3A0"/>
<circle cx="230.65" cy="18.86" r="2.46" fill="#F5A3A0"/>
<circle cx="231.89" cy="19.67" r="2.22" fill="#F5A3A0"/>
<circle cx="233.16" cy="19.76" r="2.44" fill="#F5A3A0"/>
<circle cx="234.45" cy="19.61" r="2.11" fill="#F5A3A0"/>
<circle cx="235.73" cy="19.56" r="2.59" fill="#F5A3A0"/>
<circle cx="236.93" cy="20.55" r="2.60" fill="#F5A3A0"/>
<circle cx="238.21" cy="20.45" r="2.23" fill="#F5A3A0"/>
<circle cx="239.38" cy="21.54" r="2.01" fill="#F5A3A0"/>
<circle cx="240.73" cy="20.78" r="2.43" fill="#F5A3A0"/>
<circle cx="242.00" cy="20.90" r="2.47" fill="#F5A3A0"/>
<circle cx="243.22" cy="21.39" r="2.45" fill="#F5A3A0"/>
<circle cx="244.51" cy="21.27" r="2.38" fill="#F5A3A0"/>
<circle cx="245.76" cy="21.56" r="2.40" fill="#F5A3A0"/>
<circle cx="247.01" cy="21.74" r="2.05" fill="#F5A3A0"/>
<circle cx="248.30" cy="21.74" r="2.42" fill="#F5A3A0"/>
<circle cx="249.47" cy="22.41" r="2.58" fill="#F5A3A0"/>
<circle cx="250.74" cy="22.55" r="2.10" fill="#F5A3A0"/>
<circle cx="251.99" cy="22.74" r="2.21" fill="#F5A3A0"/>
<circle cx="253.11" cy="23.60" r="2.53" fill="#F5A3A0"/>
<circle cx="254.35" cy="23.85" r="2.43" fill="#F5A3A0"/>
<circle cx="255.58" cy="24.14" r="2.31" fill="#F5A3A0"/>
<circle cx="257.14" cy="22.97" r="2.05" fill="#F5A3A0"/>
<circle cx="258.33" cy="23.51" r="2.00" fill="#F5A3A0"/>
<circle cx="259.61" cy="23.62" r="2.55" fill="#F5A3A0"/>
<circle cx="260.62" cy="24.83" r="2.38" fill="#F5A3A0"/>
<circle cx="261.86" cy="25.10" r="2.10" fill="#F5A3A0"/>
<circle cx="263.04" cy="25.58" r="2.26" fill="#F5A3A0"/>
<circle cx="264.52" cy="25.00" r="2.07" fill="#F5A3A0"/>
<circle cx="265.59" cy="25.90" r="2.28" fill="#F5A3A0"/>
<circle cx="266.82" cy="26.21" r="2.48" fill="#F5A3A0"/>
<circle cx="268.07" cy="26.48" r="2.19" fill="#F5A3A0"/>
<circle cx="269.49" cy="26.22" r="2.36" fill="#F5A3A0"/>
<circle cx="270.32" cy="27.76" r="2.33" fill="#F5A3A0"/>
<circle cx="271.88" cy="27.12" r="2.03" fill="#F5A3A0"/>
<circle cx="272.96" cy="27.88" r="2.29" fill="#F5A3A0"/>
<circle cx="273.95" cy="28.89" r="2.10" fill="#F5A3A0"/>
<circle cx="275.12" cy="29.39" r="2.26" fill="#F5A3A0"/>
<circle cx="276.44" cy="29.49" r="2.36" fill="#F5A3A0"/>
<circle cx="277.53" cy="30.17" r="2.37" fill="#F5A3A0"/>
<circle cx="278.86" cy="30.27" r="2.48" fill="#F5A3A0"/>
<circle cx="280.31" cy="30.08" r="2.14" fill="#F5A3A0"/>
<circle cx="281.67" cy="30.15" r="2.33" fill="#F5A3A0"/>
<circle cx="282.45" cy="31.58" r="2.15" fill="#F5A3A0"/>
<circle cx="283.96" cy="31.33" r="2.26" fill="#F5A3A0"/>
<circle cx="285.16" cy="31.77" r="2.15" fill="#F5A3A0"/>
<circle cx="286.53" cy="31.88" r="2.16" fill="#F5A3A0"/>
<circle cx="287.76" cy="32.27" r="2.26" fill="#F5A3A0"/>
<circle cx="288.62" cy="33.45" r="2.35" fill="#F5A3A0"/>
<circle cx="289.84" cy="33.87" r="2.33" fill="#F5A3A0"/>
<circle cx="290.97" cy="34.49" r="2.57" fill="#F5A3A0"/>
<circle cx="292.21" cy="34.88" r="2.06" fill="#F5A3A0"/>
<circle cx="293.50" cy="35.18" r="2.01" fill="#F5A3A0"/>
<circle cx="293.78" cy="37.37" r="2.49" fill="#F5A3A0"/>
<circle cx="295.04" cy="37.72" r="2.02" fill="#F5A3A0"/>
<circle cx="296.01" cy="38.60" r="2.30" fill="#F5A3A0"/>
<circle cx="297.65" cy="38.28" r="2.01" fill="#B2B238"/>
<circle cx="298.09" cy="40.07" r="2.01" fill="#B2B238"/>
<circle cx="298.93" cy="41.13" r="2.19" fill="#B2B238"/>
<circle cx="300.26" cy="41.38" r="2.58" fill="#4C9BE6"/>
<circle cx="301.33" cy="42.07" r="2.51" fill="#4C9BE6"/>
<circle cx="302.18" cy="43.10" r="2.55" fill="#4C9BE6"/>
<circle cx="303.38" cy="43.57" r="2.14" fill="#4C9BE6"/>
<circle cx="304.20" cy="44.63" r="2.29" fill="#4C9BE6"/>
<circle cx="305.05" cy="45.63" r="2.55" fill="#4C9BE6"/>
<circle cx="306.53" cy="45.70" r="2.12" fill="#4C9BE6"/>
<circle cx="307.64" cy="46.32" r="2.48" fill="#4C9BE6"/>
<circle cx="308.51" cy="47.28" r="2.35" fill="#4C9BE6"/>
<circle cx="309.71" cy="47.78" r="2.14" fill="#4C9BE6"/>
<circle cx="311.66" cy="47.28" r="2.30" fill="#F5A3A0"/>
<circle cx="314.07" cy="46.21" r="2.14" fill="#F5A3A0"/>
<circle cx="315.95" cy="45.89" r="2.35" fill="#F5A3A0"/>
<circle cx="317.21" cy="46.40" r="2.60" fill="#F5A3A0"/>
<circle cx="317.77" cy="47.83" r="2.60" fill="#F5A3A0"/>
<circle cx="318.91" cy="48.50" r="2.31" fill="#4C9BE6"/>
<circle cx="319.59" cy="49.73" r="2.05" fill="#4C9BE6"/>
<circle cx="321.12" cy="49.94" r="2.06" fill="#4C9BE6"/>
<circle cx="321.40" cy="51.65" r="2.05" fill="#4C9BE6"/>
<circle cx="322.97" cy="51.83" r="2.12" fill="#4C9BE6"/>
<circle cx="323.61" cy="53.09" r="2.46" fill="#4C9BE6"/>
<circle cx="324.78" cy="53.73" r="2.09" fill="#B2B238"/>
<circle cx="326.02" cy="54.32" r="2.60" fill="#B2B238"/>
<circle cx="326.90" cy="55.31" r="2.27" fill="#B2B238"/>
<circle cx="327.94" cy="56.12" r="2.42" fill="#B2B238"/>
<circle cx="329.51" cy="56.38" r="2.47" fill="#B2B238"/>
<circle cx="329.96" cy="57.81" r="2.47" fill="#B2B238"/>
<circle cx="330.95" cy="58.67" r="2.08" fill="#B2B238"/>
<circle cx="332.65" cy="58.85" r="2.11" fill="#F5A3A0"/>
<circle cx="333.89" cy="59.49" r="2.17" fill="#F5A3A0"/>
<circle cx="335.52" cy="59.78" r="2.26" fill="#F5A3A0"/>
<circle cx="336.31" cy="60.87" r="2.57" fill="#B2B238"/>
<circle cx="336.77" cy="62.26" r="2.46" fill="#B2B238"/>
<circle cx="337.76" cy="63.16" r="2.24" fill="#B2B238"/>
<circle cx="338.19" cy="64.56" r="2.40" fill="#F5A3A0"/>
<circle cx="340.18" cy="64.58" r="2.41" fill="#F5A3A0"/>
<circle cx="340.27" cy="66.27" r="2.32" fill="#F5A3A0"/>
<circle cx="341.22" cy="67.21" r="2.23" fill="#F5A3A0"/>
<circle cx="342.69" cy="67.72" r="2.00" fill="#4C9BE6"/>
<circle cx="343.17" cy="69.06" r="2.31" fill="#4C9BE6"/>
<circle cx="343.58" cy="70.44" r="2.44" fill="#4C9BE6"/>
<circle cx="344.56" cy="71.36" r="2.24" fill="#4C9BE6"/>
<circle cx="345.38" cy="72.41" r="2.36" fill="#4C9BE6"/>
<circle cx="346.46" cy="73.26" r="2.41" fill="#F5A3A0"/>
<circle cx="347.27" cy="74.33" r="2.47" fill="#F5A3A0"/>
<circle cx="348.25" cy="75.26" r="2.06" fill="#F5A3A0"/>
<circle cx="348.96" cy="76.40" r="2.15" fill="#F5A3A0"/>
<circle cx="349.46" cy="77.68" r="2.57" fill="#F5A3A0"/>
<circle cx="350.50" cy="78.58" r="2.44" fill="#4C9BE6"/>
<circle cx="350.78" cy="80.00" r="2.38" fill="#4C9BE6"/>
<circle cx="351.48" cy="81.14" r="2.13" fill="#4C9BE6"/>
<circle cx="352.23" cy="82.23" r="2.01" fill="#4C9BE6"/>
<circle cx="354.15" cy="82.58" r="2.58" fill="#4C9BE6"/>
<circle cx="354.06" cy="84.23" r="2.01" fill="#4C9BE6"/>
<circle cx="355.34" cy="85.01" r="2.40" fill="#4C9BE6"/>
<circle cx="354.98" cy="86.79" r="2.46" fill="#4C9BE6"/>
<circle cx="355.71" cy="87.90" r="2.14" fill="#4C9BE6"/>
<circle cx="357.50" cy="88.40" r="2.46" fill="#4C9BE6"/>
<circle cx="357.33" cy="90.04" r="2.30" fill="#4C9BE6"/>
<circle cx="358.89" cy="90.70" r="2.36" fill="#4C9BE6"/>
<circle cx="359.11" cy="92.11" r="2.11" fill="#4C9BE6"/>
<circle cx="359.03" cy="93.67" r="2.11" fill="#4C9BE6"/>
<circle cx="360.39" cy="94.46" r="2.36" fill="#F5A3A0"/>
<circle cx="354.94" cy="98.75" r="2.38" fill="#F5A3A0"/>
<circle cx="355.88" cy="99.71" r="2.39" fill="#F5A3A0"/>
<circle cx="356.40" cy="100.88" r="2.51" fill="#F5A3A0"/>
<circle cx="357.36" cy="101.84" r="2.53" fill="#F5A3A0"/>
<circle cx="358.85" cy="102.57" r="2.50" fill="#F5A3A0"/>
<circle cx="359.25" cy="103.81" r="2.41" fill="#F5A3A0"/>
<circle cx="359.62" cy="105.06" r="2.15" fill="#F5A3A0"/>
<circle cx="359.60" cy="106.48" r="2.40" fill="#F5A3A0"/>
<circle cx="360.56" cy="107.47" r="2.37" fill="#F5A3A0"/>
<circle cx="361.76" cy="108.36" r="2.36" fill="#F5A3A0"/>
<circle cx="362.26" cy="109.56" r="2.14" fill="#F5A3A0"/>
<circle cx="362.74" cy="110.77" r="2.42" fill="#F5A3A0"/>
<circle cx="364.40" cy="111.52" r="2.19" fill="#F5A3A0"/>
<circle cx="363.88" cy="113.11" r="2.27" fill="#F5A3A0"/>
<circle cx="364.45" cy="114.28" r="2.38" fill="#F5A3A0"/>
<circle cx="365.37" cy="115.34" r="2.46" fill="#B2B238"/>
<circle cx="365.82" cy="116.56" r="2.44" fill="#B2B238"/>
<circle cx="366.45" cy="117.73" r="2.27" fill="#B2B238"/>
<circle cx="365.89" cy="119.29" r="2.39" fill="#F5A3A0"/>
<circle cx="365.98" cy="120.62" r="2.50" fill="#F5A3A0"/>
<circle cx="366.47" cy="121.82" r="2.33" fill="#F5A3A0"/>
<circle cx="366.95" cy="123.04" r="2.22" fill="#F5A3A0"/>
<circle cx="366.35" cy="124.56" r="2.17" fill="#F5A3A0"/>
<circle cx="367.44" cy="125.59" r="2.57" fill="#F5A3A0"/>
<circle cx="367.14" cy="127.01" r="2.54" fill="#F5A3A0"/>
<circle cx="368.93" cy="127.88" r="2.47" fill="#F5A3A0"/>
<circle cx="368.04" cy="129.45" r="2.01" fill="#F5A3A0"/>
<circle cx="369.39" cy="130.45" r="2.04" fill="#F5A3A0"/>
<circle cx="368.67" cy="131.95" r="2.56" fill="#F5A3A0"/>
<circle cx="369.61" cy="133.06" r="2.49" fill="#F5A3A0"/>
<circle cx="370.17" cy="134.27" r="2.11" fill="#F5A3A0"/>
<circle cx="369.85" cy="135.66" r="2.06" fill="#F5A3A0"/>
<circle cx="369.88" cy="136.98" r="2.30" fill="#F5A3A0"/>
<circle cx="370.89" cy="138.10" r="2.17" fill="#F5A3A0"/>
<circle cx="370.86" cy="139.43" r="2.08" fill="#F5A3A0"/>
<circle cx="370.35" cy="140.83" r="2.04" fill="#F5A3A0"/>
<circle cx="371.13" cy="142.01" r="2.35" fill="#F5A3A0"/>
<circle cx="371.56" cy="143.26" r="2.25" fill="#F5A3A0"/>
<circle cx="372.14" cy="144.49" r="2.43" fill="#F5A3A0"/>
<circle cx="371.66" cy="145.86" r="2.52" fill="#F5A3A0"/>
<circle cx="371.13" cy="147.24" r="2.18" fill="#F5A3A0"/>
<circle cx="371.94" cy="148.44" r="2.36" fill="#F5A3A0"/>
<circle cx="372.81" cy="149.65" r="2.41" fill="#F5A3A0"/>
<circle cx="371.31" cy="151.11" r="2.57" fill="#F5A3A0"/>
<circle cx="372.18" cy="152.32" r="2.12" fill="#F5A3A0"/>
<circle cx="372.81" cy="153.57" r="2.38" fill="#F5A3A0"/>
<circle cx="373.07" cy="154.85" r="2.33" fill="#F5A3A0"/>
<circle cx="372.08" cy="156.22" r="2.28" fill="#F5A3A0"/>
<circle cx="372.53" cy="157.48" r="2.21" fill="#F5A3A0"/>
<circle cx="372.80" cy="158.77" r="2.09" fill="#F5A3A0"/>
<circle cx="372.26" cy="160.08" r="2.07" fill="#F5A3A0"/>
<circle cx="371.83" cy="161.38" r="2.32" fill="#F5A3A0"/>
<circle cx="373.07" cy="162.65" r="2.24" fill="#F5A3A0"/>
<circle cx="373.31" cy="163.94" r="2.37" fill="#B2B238"/>
<circle cx="372.80" cy="165.24" r="2.17" fill="#B2B238"/>
<circle cx="373.01" cy="166.54" r="2.21" fill="#B2B238"/>
<circle cx="372.65" cy="167.83" r="2.15" fill="#B2B238"/>
<circle cx="372.57" cy="169.12" r="2.41" fill="#4C9BE6"/>
<circle cx="370.89" cy="170.36" r="2.44" fill="#4C9BE6"/>
<circle cx="370.55" cy="171.62" r="2.23" fill="#B2B238"/>
<circle cx="370.64" cy="172.90" r="2.20" fill="#B2B238"/>
<circle cx="370.29" cy="174.16" r="2.10" fill="#B2B238"/>
<circle cx="370.03" cy="175.42" r="2.06" fill="#4C9BE6"/>
<circle cx="370.40" cy="176.73" r="2.21" fill="#4C9BE6"/>
<circle cx="369.90" cy="177.97" r="2.26" fill="#4C9BE6"/>
<circle cx="370.17" cy="179.27" r="2.53" fill="#4C9BE6"/>
<circle cx="369.52" cy="180.49" r="2.50" fill="#4C9BE6"/>
<circle cx="369.72" cy="181.79" r="2.56" fill="#4C9BE6"/>
<circle cx="368.64" cy="182.94" r="2.36" fill="#F5A3A0"/>
<circle cx="367.83" cy="184.11" r="2.22" fill="#F5A3A0"/>
<circle cx="368.08" cy="185.42" r="2.37" fill="#F5A3A0"/>
<circle cx="367.29" cy="186.59" r="2.45" fill="#F5A3A0"/>
<circle cx="367.18" cy="187.84" r="2.25" fill="#F5A3A0"/>
<circle cx="367.67" cy="189.20" r="2.51" fill="#F5A3A0"/>
<circle cx="367.68" cy="190.49" r="2.09" fill="#F5A3A0"/>
<circle cx="367.47" cy="191.74" r="2.14" fill="#F5A3A0"/>
<circle cx="367.11" cy="192.96" r="2.25" fill="#F5A3A0"/>
<circle cx="367.43" cy="194.32" r="2.27" fill="#B2B238"/>
<circle cx="365.92" cy="195.30" r="2.19" fill="#B2B238"/>
<circle cx="366.82" cy="196.79" r="2.21" fill="#B2B238"/>
<circle cx="365.27" cy="197.74" r="2.32" fill="#B2B238"/>
<circle cx="365.70" cy="199.14" r="2.56" fill="#B2B238"/>
<circle cx="364.34" cy="200.11" r="2.20" fill="#F5A3A0"/>
<circle cx="365.13" cy="201.61" r="2.30" fill="#F5A3A0"/>
<circle cx="364.73" cy="202.81" r="2.40" fill="#F5A3A0"/>
<circle cx="363.34" cy="203.74" r="2.03" fill="#F5A3A0"/>
<circle cx="363.12" cy="204.99" r="2.18" fill="#B2B238"/>
<circle cx="362.75" cy="206.19" r="2.17" fill="#B2B238"/>
<circle cx="362.25" cy="207.35" r="2.02" fill="#B2B238"/>
<circle cx="362.56" cy="208.76" r="2.45" fill="#4C9BE6"/>
<circle cx="361.52" cy="209.76" r="2.06" fill="#4C9BE6"/>
<circle cx="362.04" cy="211.25" r="2.05" fill="#4C9BE6"/>
<circle cx="360.57" cy="212.09" r="2.29" fill="#4C9BE6"/>
<circle cx="360.36" cy="213.34" r="2.47" fill="#4C9BE6"/>
<circle cx="360.23" cy="214.63" r="2.31" fill="#4C9BE6"/>
<circle cx="359.50" cy="215.71" r="2.02" fill="#4C9BE6"/>
<circle cx="359.75" cy="217.15" r="2.23" fill="#4C9BE6"/>
<circle cx="359.24" cy="218.30" r="2.06" fill="#4C9BE6"/>
<circle cx="358.05" cy="219.19" r="2.32" fill="#4C9BE6"/>
<circle cx="357.54" cy="220.33" r="2.04" fill="#4C9BE6"/>
<circle cx="360.72" cy="223.04" r="2.56" fill="#4C9BE6"/>
<circle cx="362.69" cy="225.30" r="2.33" fill="#B2B238"/>
<circle cx="362.84" cy="226.80" r="2.36" fill="#B2B238"/>
<circle cx="362.18" cy="227.95" r="2.10" fill="#B2B238"/>
<circle cx="362.19" cy="229.41" r="2.27" fill="#B2B238"/>
<circle cx="361.98" cy="230.78" r="2.03" fill="#B2B238"/>
<circle cx="360.65" cy="231.61" r="2.07" fill="#B2B238"/>
<circle cx="360.42" cy="232.97" r="2.29" fill="#F5A3A0"/>
<circle cx="358.65" cy="233.56" r="2.47" fill="#F5A3A0"/>
<circle cx="358.02" cy="234.71" r="2.17" fill="#F5A3A0"/>
<circle cx="356.80" cy="235.55" r="2.00" fill="#F5A3A0"/>
<circle cx="355.64" cy="236.41" r="2.02" fill="#B2B238"/>
<circle cx="356.51" cy="238.37" r="2.53" fill="#B2B238"/>
<circle cx="355.29" cy="239.19" r="2.56" fill="#F5A3A0"/>
<circle cx="354.71" cy="240.37" r="2.41" fill="#F5A3A0"/>
<circle cx="353.45" cy="241.15" r="2.26" fill="#4C9BE6"/>
<circle cx="353.64" cy="242.79" r="2.25" fill="#4C9BE6"/>
<circle cx="353.34" cy="244.15" r="2.21" fill="#4C9BE6"/>
<circle cx="352.97" cy="245.47" r="2.12" fill="#F5A3A0"/>
<circle cx="352.34" cy="246.63" r="2.26" fill="#F5A3A0"/>
<circle cx="351.99" cy="247.98" r="2.03" fill="#F5A3A0"/>
<circle cx="351.16" cy="249.01" r="2.43" fill="#B2B238"/>
<circle cx="350.62" cy="250.25" r="2.29" fill="#B2B238"/>
<circle cx="351.41" cy="252.40" r="2.37" fill="#B2B238"/>
<circle cx="350.22" cy="253.20" r="2.46" fill="#B2B238"/>
<circle cx="349.65" cy="254.44" r="2.23" fill="#B2B238"/>
<circle cx="347.90" cy="254.83" r="2.45" fill="#B2B238"/>
<circle cx="346.44" cy="255.40" r="2.28" fill="#4C9BE6"/>
<circle cx="345.87" cy="256.63" r="2.33" fill="#4C9BE6"/>
<circle cx="345.59" cy="258.08" r="2.52" fill="#4C9BE6"/>
<circle cx="344.33" cy="258.78" r="2.42" fill="#4C9BE6"/>
<circle cx="342.77" cy="259.24" r="2.40" fill="#4C9BE6"/>
<circle cx="343.01" cy="261.12" r="2.37" fill="#4C9BE6"/>
<circle cx="341.72" cy="261.78" r="2.31" fill="#4C9BE6"/>
<circle cx="340.92" cy="262.85" r="2.11" fill="#4C9BE6"/>
<circle cx="339.94" cy="263.74" r="2.48" fill="#F5A3A0"/>
<circle cx="339.67" cy="265.26" r="2.02" fill="#F5A3A0"/>
<circle cx="339.08" cy="266.52" r="2.50" fill="#F5A3A0"/>
<circle cx="338.40" cy="267.70" r="2.11" fill="#F5A3A0"/>
<circle cx="338.06" cy="269.19" r="2.11" fill="#F5A3A0"/>
<circle cx="336.72" cy="269.78" r="2.28" fill="#F5A3A0"/>
<circle cx="335.44" cy="270.41" r="2.16" fill="#F5A3A0"/>
<circle cx="334.53" cy="271.38" r="2.10" fill="#F5A3A0"/>
<circle cx="333.40" cy="272.14" r="2.39" fill="#F5A3A0"/>
<circle cx="333.24" cy="273.86" r="2.15" fill="#4C9BE6"/>
<circle cx="332.59" cy="275.11" r="2.25" fill="#4C9BE6"/>
<circle cx="330.73" cy="275.12" r="2.56" fill="#4C9BE6"/>
<circle cx="329.74" cy="276.01" r="2.28" fill="#B2B238"/>
<circle cx="328.62" cy="276.77" r="2.44" fill="#B2B238"/>
<circle cx="326.84" cy="276.80" r="2.04" fill="#4C9BE6"/>
<circle cx="326.12" cy="277.96" r="2.45" fill="#4C9BE6"/>
<circle cx="324.71" cy="278.37" r="2.07" fill="#4C9BE6"/>
<circle cx="323.74" cy="279.26" r="2.11" fill="#4C9BE6"/>
<circle cx="322.73" cy="280.10" r="2.37" fill="#4C9BE6"/>
<circle cx="321.45" cy="280.64" r="2.05" fill="#4C9BE6"/>
<circle cx="320.05" cy="281.01" r="2.44" fill="#4C9BE6"/>
<circle cx="318.68" cy="281.38" r="2.02" fill="#4C9BE6"/>
<circle cx="317.92" cy="282.53" r="2.51" fill="#4C9BE6"/>
<circle cx="317.36" cy="283.93" r="2.14" fill="#4C9BE6"/>
<circle cx="315.94" cy="284.24" r="2.50" fill="#4C9BE6"/>
<circle cx="315.94" cy="286.41" r="2.42" fill="#F5A3A0"/>
<circle cx="314.42" cy="286.57" r="2.45" fill="#F5A3A0"/>
<circle cx="313.36" cy="287.36" r="2.10" fill="#B2B238"/>
<circle cx="312.83" cy="288.87" r="2.57" fill="#B2B238"/>
<circle cx="311.46" cy="289.23" r="2.10" fill="#B2B238"/>
<circle cx="310.96" cy="290.83" r="2.46" fill="#B2B238"/>
<circle cx="309.27" cy="290.70" r="2.05" fill="#B2B238"/>
<circle cx="308.63" cy="292.13" r="2.58" fill="#B2B238"/>
<circle cx="307.51" cy="292.84" r="2.34" fill="#B2B238"/>
<circle cx="305.57" cy="292.27" r="2.44" fill="#B2B238"/>
<circle cx="304.98" cy="293.79" r="2.50" fill="#F5A3A0"/>
<circle cx="303.94" cy="294.62" r="2.30" fill="#F5A3A0"/>
<circle cx="302.98" cy="295.60" r="2.28" fill="#F5A3A0"/>
<circle cx="301.33" cy="295.42" r="2.38" fill="#4C9BE6"/>
<circle cx="300.47" cy="296.56" r="2.35" fill="#4C9BE6"/>
<circle cx="299.40" cy="297.34" r="2.16" fill="#4C9BE6"/>
<circle cx="298.14" cy="297.80" r="2.53" fill="#4C9BE6"/>
<circle cx="296.44" cy="297.44" r="2.02" fill="#F5A3A0"/>
<circle cx="295.44" cy="298.35" r="2.37" fill="#F5A3A0"/>
<circle cx="294.51" cy="299.41" r="2.33" fill="#4C9BE6"/>
<circle cx="293.16" cy="299.68" r="2.46" fill="#4C9BE6"/>
<circle cx="291.68" cy="299.66" r="2.40" fill="#4C9BE6"/>
<circle cx="290.86" cy="300.95" r="2.13" fill="#4C9BE6"/>
<circle cx="289.68" cy="301.54" r="2.22" fill="#4C9BE6"/>
<circle cx="288.86" cy="302.90" r="2.33" fill="#4C9BE6"/>
<circle cx="286.95" cy="301.89" r="2.03" fill="#4C9BE6"/>
<circle cx="285.70" cy="302.31" r="2.45" fill="#4C9BE6"/>
<circle cx="284.15" cy="302.03" r="2.47" fill="#B2B238"/>
<circle cx="282.26" cy="300.91" r="2.17" fill="#B2B238"/>
<circle cx="281.35" cy="302.07" r="2.18" fill="#B2B238"/>
<circle cx="280.40" cy="303.17" r="2.12" fill="#B2B238"/>
<line x1="235.74" y1="22.64" x2="236.09" y2="18.26" stroke="#4C9BE6" stroke-width="1.4"/>
<line x1="247.64" y1="24.18" x2="248.35" y2="19.84" stroke="#4C9BE6" stroke-width="1.4"/>
<line x1="259.12" y1="26.65" x2="260.18" y2="22.38" stroke="#4C9BE6" stroke-width="1.4"/>
<line x1="278.54" y1="32.42" x2="280.19" y2="28.35" stroke="#4C9BE6" stroke-width="1.4"/>
<line x1="287.50" y1="35.19" x2="289.41" y2="31.23" stroke="#4C9BE6" stroke-width="1.4"/>
<line x1="291.21" y1="37.36" x2="293.24" y2="33.45" stroke="#4C9BE6" stroke-width="1.4"/>
<line x1="361.83" y1="112.78" x2="365.94" y2="111.21" stroke="#4C9BE6" stroke-width="1.4"/>
<line x1="367.05" y1="133.11" x2="371.34" y2="132.14" stroke="#4C9BE6" stroke-width="1.4"/>
<line x1="368.53" y1="140.62" x2="372.86" y2="139.87" stroke="#4C9BE6" stroke-width="1.4"/>
<line x1="369.22" y1="145.16" x2="373.58" y2="144.55" stroke="#4C9BE6" stroke-width="1.4"/>
<line x1="365.72" y1="187.87" x2="370.06" y2="188.55" stroke="#4C9BE6" stroke-width="1.4"/>
<line x1="341.45" y1="258.53" x2="344.89" y2="261.27" stroke="#B2B238" stroke-width="1.4"/>
<line x1="331.28" y1="272.28" x2="334.39" y2="275.39" stroke="#F5A3A0" stroke-width="1.4"/>
<line x1="298.87" y1="294.32" x2="301.07" y2="298.13" stroke="#F5A3A0" stroke-width="1.4"/>
<line x1="289.73" y1="299.24" x2="291.66" y2="303.20" stroke="#F5A3A0" stroke-width="1.4"/>
<line x1="312.91" y1="48.17" x2="315.56" y2="44.66" stroke="#4C9BE6" stroke-width="1.4"/>
<line x1="358.05" y1="214.11" x2="362.18" y2="215.61" stroke="#F5A3A0" stroke-width="1.4"/>
<line x1="321.79" y1="277.42" x2="324.68" y2="280.74" stroke="#F5A3A0" stroke-width="1.4"/>
<text x="233.97" y="30.05" font-size="4.0" text-anchor="middle" fill="#333" font-weight="normal" transform="rotate(4 233.97 30.05)">99</text>
<text x="245.82" y="31.78" font-size="4.0" text-anchor="middle" fill="#333" font-weight="normal" transform="rotate(9.058145056938486 245.82 31.78)">99</text>
<text x="261.51" y="35.24" font-size="4.0" text-anchor="middle" fill="#333" font-weight="normal" transform="rotate(15.862764859059794 261.51 35.24)">99</text>
<text x="273.29" y="38.83" font-size="4.0" text-anchor="middle" fill="#333" font-weight="normal" transform="rotate(21.06474187997678 273.29 38.83)">99</text>
<text x="284.92" y="42.59" font-size="4.0" text-anchor="middle" fill="#333" font-weight="normal" transform="rotate(26.17907859851836 284.92 42.59)">99</text>
<text x="299.25" y="53.01" font-size="4.0" text-anchor="middle" fill="#333" font-weight="normal" transform="rotate(33.603708513677375 299.25 53.01)">99</text>
<text x="316.59" y="59.64" font-size="4.0" text-anchor="middle" fill="#333" font-weight="normal" transform="rotate(41.02131658227304 316.59 59.64)">99</text>
<text x="330.85" y="70.38" font-size="4.0" text-anchor="middle" fill="#333" font-weight="normal" transform="rotate(48.19018059374076 330.85 70.38)">99</text>
<text x="339.45" y="80.35" font-size="4.0" text-anchor="middle" fill="#333" font-weight="normal" transform="rotate(53.47157562643915 339.45 80.35)">99</text>
<text x="349.44" y="95.43" font-size="4.0" text-anchor="middle" fill="#333" font-weight="normal" transform="rotate(60.71427866009097 349.44 95.43)">99</text>
<text x="352.99" y="113.08" font-size="4.0" text-anchor="middle" fill="#333" font-weight="normal" transform="rotate(67.80581828402647 352.99 113.08)">99</text>
<text x="357.66" y="127.38" font-size="4.0" text-anchor="middle" fill="#333" font-weight="normal" transform="rotate(74.02365898919749 357.66 127.38)">99</text>
<text x="360.72" y="141.27" font-size="4.0" text-anchor="middle" fill="#333" font-weight="normal" transform="rotate(79.91614530981472 360.72 141.27)">99</text>
<text x="362.40" y="154.74" font-size="4.0" text-anchor="middle" fill="#333" font-weight="normal" transform="rotate(85.5395045301592 362.40 154.74)">99</text>
<text x="361.14" y="171.40" font-size="4.0" text-anchor="middle" fill="#333" font-weight="normal" transform="rotate(92.47223616641134 361.14 171.40)">99</text>
<text x="358.04" y="186.51" font-size="4.0" text-anchor="middle" fill="#333" font-weight="normal" transform="rotate(98.9396066311992 358.04 186.51)">99</text>
<text x="353.79" y="203.26" font-size="4.0" text-anchor="middle" fill="#333" font-weight="normal" transform="rotate(106.28142347348333 353.79 203.26)">99</text>
<text x="353.28" y="222.78" font-size="4.0" text-anchor="middle" fill="#333" font-weight="normal" transform="rotate(113.97757052736432 353.28 222.78)">99</text>
<text x="345.78" y="235.75" font-size="4.0" text-anchor="middle" fill="#333" font-weight="normal" transform="rotate(120.08208918507015 345.78 235.75)">99</text>
<text x="337.12" y="251.95" font-size="4.0" text-anchor="middle" fill="#333" font-weight="normal" transform="rotate(127.51090611258464 337.12 251.95)">99</text>
<text x="328.36" y="264.21" font-size="4.0" text-anchor="middle" fill="#333" font-weight="normal" transform="rotate(133.54428412877638 328.36 264.21)">99</text>
<text x="311.60" y="275.10" font-size="4.0" text-anchor="middle" fill="#333" font-weight="normal" transform="rotate(141.5268899729511 311.60 275.10)">99</text>
<text x="300.71" y="284.40" font-size="4.0" text-anchor="middle" fill="#333" font-weight="normal" transform="rotate(147.34318324054578 300.71 284.40)">99</text>
<path d="M183.90,255.30 L207.20,262.50" fill="none" stroke="#333" stroke-width="0.65"/>
<path d="M183.90,255.30 L182.70,258.40" fill="none" stroke="#333" stroke-width="0.65"/>
<path d="M177.40,256.10 L188.00,260.80" fill="none" stroke="#333" stroke-width="0.65"/>
<path d="M177.40,256.10 L171.00,266.60" fill="none" stroke="#333" stroke-width="0.65"/>
<path d="M163.40,262.50 L179.20,271.30" fill="none" stroke="#333" stroke-width="0.65"/>
<path d="M163.40,262.50 L147.80,286.60" fill="none" stroke="#333" stroke-width="0.65"/>
<path d="M179.20,271.30 L170.40,291.70" fill="none" stroke="#333" stroke-width="0.65"/>
<path d="M188.00,260.80 L182.70,275.40" fill="none" stroke="#333" stroke-width="0.65"/>
<path d="M207.20,262.50 L204.30,275.90" fill="none" stroke="#333" stroke-width="0.65"/>
<path d="M189.10,272.40 L200.00,275.10 L223.40,279.20" fill="none" stroke="#333" stroke-width="0.65"/>
<path d="M223.40,279.20 L221.00,286.00" fill="none" stroke="#333" stroke-width="0.65"/>
<path d="M189.10,272.40 L185.50,284.00" fill="none" stroke="#333" stroke-width="0.65"/>
<path d="M208.40,275.50 L227.00,280.20 L231.00,288.50" fill="none" stroke="#333" stroke-width="0.65"/>
<path d="M231.00,288.70 L249.60,287.50 L264.20,286.80 L278.80,284.60" fill="none" stroke="#333" stroke-width="0.65"/>
<path d="M279.65,286.52 L281.83,285.63 L283.98,284.70 L286.13,283.73 L288.25,282.72 L290.36,281.68 L292.46,280.59 L294.53,279.47 L296.59,278.31 L298.63,277.12 L300.65,275.88 L302.65,274.61 L304.62,273.31 L306.58,271.96 L308.51,270.59 L310.42,269.17 L312.31,267.73 L314.17,266.25 L316.00,264.73 L317.81,263.18 L319.60,261.60 L321.36,259.99 L323.09,258.34 L324.79,256.66 L326.46,254.95 L328.11,253.21 L329.72,251.44 L331.31,249.64 L332.86,247.81 L334.39,245.95 L335.88,244.07 L337.34,242.15 L338.76,240.21 L340.15,238.25 L341.51,236.25 L342.84,234.24 L344.13,232.19 L345.38,230.12 L346.60,228.03 L347.78,225.92 L348.93,223.79 L350.03,221.63 L351.10,219.45 L352.14,217.25 L353.13,215.03 L354.09,212.79 L355.01,210.54 L355.89,208.27 L356.72,205.98 L357.52,203.67 L358.28,201.35" fill="none" stroke="#333" stroke-width="0.65"/>
<path d="M276.34,284.72 L278.45,283.85 L280.56,282.94 L282.64,281.99 L284.71,281.01 L286.77,279.99 L288.81,278.93 L290.83,277.84 L292.83,276.71 L294.81,275.55 L296.77,274.35 L298.71,273.11 L300.63,271.85 L302.53,270.54 L304.41,269.20 L306.26,267.83 L308.09,266.43 L309.89,264.99 L311.68,263.52 L313.43,262.02 L315.16,260.49 L316.86,258.93 L318.54,257.33 L320.19,255.71 L321.81,254.06 L323.40,252.37 L324.97,250.66 L326.50,248.92 L328.00,247.16 L329.48,245.36 L330.92,243.54 L332.33,241.69 L333.71,239.82 L335.05,237.93 L336.37,236.00 L337.64,234.06 L338.89,232.09 L340.10,230.10 L341.28,228.09 L342.42,226.05 L343.53,224.00 L344.60,221.92 L345.63,219.83 L346.63,217.71 L347.59,215.58 L348.51,213.43 L349.40,211.26 L350.24,209.08 L351.05,206.88 L351.83,204.67 L352.56,202.44 L353.25,200.20 L353.91,197.94 L354.52,195.67 L355.09,193.40 L355.63,191.11 L356.12,188.81 L356.58,186.50 L356.99,184.18 L357.37,181.85 L357.70,179.52 L357.99,177.18" fill="none" stroke="#333" stroke-width="0.65"/>
<path d="M283.26,288.70 L285.49,287.75 L287.70,286.75 L289.89,285.72 L292.07,284.64 L294.23,283.53 L296.37,282.38 L298.49,281.18 L300.59,279.95 L302.68,278.69 L304.74,277.38 L306.78,276.03 L308.79,274.65 L310.79,273.24 L312.75,271.78 L314.70,270.29 L316.62,268.76 L318.51,267.20 L320.38,265.61 L322.22,263.98 L324.04,262.31 L325.82,260.62 L327.58,258.89 L329.30,257.12 L331.00,255.33 L332.66,253.50 L334.30,251.65 L335.90,249.76 L337.47,247.84 L339.01,245.90 L340.51,243.92 L341.98,241.92 L343.41,239.89 L344.81,237.83 L346.18,235.75" fill="none" stroke="#333" stroke-width="0.65"/>
<path d="M105.00,254.40 L161.50,293.80" fill="none" stroke="#333" stroke-width="0.65"/>
<path d="M105.00,254.40 L100.50,261.50" fill="none" stroke="#333" stroke-width="0.65"/>
<path d="M161.50,293.80 L157.50,300.50" fill="none" stroke="#333" stroke-width="0.65"/>
<path d="M92.50,236.00 L119.40,273.50 L122.00,281.40" fill="none" stroke="#333" stroke-width="0.65"/>
<path d="M87.90,238.00 L111.50,271.50 L119.40,273.50" fill="none" stroke="#333" stroke-width="0.65"/>
<path d="M131.00,275.00 L137.50,279.50 L134.50,285.00" fill="none" stroke="#333" stroke-width="0.65"/>
<path d="M112.50,279.00 L118.50,283.00 L116.50,287.00" fill="none" stroke="#333" stroke-width="0.65"/>
<line x1="279.30" y1="288.57" x2="271.18" y2="291.87" stroke="#333" stroke-width="0.55"/>
<line x1="273.61" y1="286.23" x2="275.27" y2="290.29" stroke="#333" stroke-width="0.55"/>
<line x1="279.30" y1="288.57" x2="282.82" y2="296.48" stroke="#333" stroke-width="0.5"/>
<line x1="271.18" y1="291.87" x2="273.76" y2="298.85" stroke="#333" stroke-width="0.5"/>
<line x1="271.67" y1="282.78" x2="265.68" y2="285.01" stroke="#333" stroke-width="0.55"/>
<line x1="267.00" y1="279.41" x2="268.69" y2="283.93" stroke="#333" stroke-width="0.55"/>
<line x1="271.67" y1="282.78" x2="274.24" y2="289.17" stroke="#333" stroke-width="0.5"/>
<line x1="265.68" y1="285.01" x2="268.42" y2="292.96" stroke="#333" stroke-width="0.5"/>
<line x1="271.90" y1="289.30" x2="267.03" y2="291.06" stroke="#333" stroke-width="0.55"/>
<line x1="268.24" y1="286.79" x2="269.47" y2="290.21" stroke="#333" stroke-width="0.55"/>
<line x1="271.90" y1="289.30" x2="274.20" y2="295.32" stroke="#333" stroke-width="0.5"/>
<line x1="267.03" y1="291.06" x2="268.01" y2="293.98" stroke="#333" stroke-width="0.5"/>
<line x1="268.61" y1="287.70" x2="259.43" y2="290.63" stroke="#333" stroke-width="0.55"/>
<line x1="262.74" y1="285.15" x2="264.05" y2="289.25" stroke="#333" stroke-width="0.55"/>
<line x1="268.61" y1="287.70" x2="269.95" y2="291.42" stroke="#333" stroke-width="0.5"/>
<line x1="259.43" y1="290.63" x2="261.52" y2="298.12" stroke="#333" stroke-width="0.5"/>
<line x1="268.01" y1="292.92" x2="263.80" y2="294.28" stroke="#333" stroke-width="0.55"/>
<line x1="265.30" y1="291.71" x2="265.91" y2="293.62" stroke="#333" stroke-width="0.55"/>
<line x1="268.01" y1="292.92" x2="270.67" y2="300.71" stroke="#333" stroke-width="0.5"/>
<line x1="263.80" y1="294.28" x2="265.05" y2="298.35" stroke="#333" stroke-width="0.5"/>
<line x1="267.11" y1="298.60" x2="257.44" y2="301.32" stroke="#333" stroke-width="0.55"/>
<line x1="261.52" y1="297.28" x2="262.30" y2="300.05" stroke="#333" stroke-width="0.55"/>
<line x1="267.11" y1="298.60" x2="269.78" y2="306.95" stroke="#333" stroke-width="0.5"/>
<line x1="257.44" y1="301.32" x2="258.91" y2="307.38" stroke="#333" stroke-width="0.5"/>
<line x1="260.02" y1="289.37" x2="250.59" y2="291.70" stroke="#333" stroke-width="0.55"/>
<line x1="254.35" y1="286.67" x2="255.33" y2="290.63" stroke="#333" stroke-width="0.55"/>
<line x1="260.02" y1="289.37" x2="262.45" y2="297.83" stroke="#333" stroke-width="0.5"/>
<line x1="250.59" y1="291.70" x2="252.28" y2="299.89" stroke="#333" stroke-width="0.5"/>
<line x1="257.94" y1="292.22" x2="253.50" y2="293.31" stroke="#333" stroke-width="0.55"/>
<line x1="255.15" y1="290.42" x2="255.73" y2="292.78" stroke="#333" stroke-width="0.55"/>
<line x1="257.94" y1="292.22" x2="258.81" y2="295.50" stroke="#333" stroke-width="0.5"/>
<line x1="253.50" y1="293.31" x2="254.57" y2="298.00" stroke="#333" stroke-width="0.5"/>
<line x1="253.15" y1="288.25" x2="245.53" y2="289.78" stroke="#333" stroke-width="0.55"/>
<line x1="248.76" y1="286.12" x2="249.35" y2="289.07" stroke="#333" stroke-width="0.55"/>
<line x1="253.15" y1="288.25" x2="254.26" y2="292.98" stroke="#333" stroke-width="0.5"/>
<line x1="245.53" y1="289.78" x2="246.85" y2="297.58" stroke="#333" stroke-width="0.5"/>
<line x1="250.87" y1="293.23" x2="244.28" y2="294.41" stroke="#333" stroke-width="0.55"/>
<line x1="246.85" y1="289.81" x2="247.58" y2="293.86" stroke="#333" stroke-width="0.55"/>
<line x1="250.87" y1="293.23" x2="251.55" y2="296.50" stroke="#333" stroke-width="0.5"/>
<line x1="244.28" y1="294.41" x2="245.62" y2="303.16" stroke="#333" stroke-width="0.5"/>
<line x1="250.16" y1="299.56" x2="240.66" y2="301.04" stroke="#333" stroke-width="0.55"/>
<line x1="245.11" y1="298.35" x2="245.42" y2="300.38" stroke="#333" stroke-width="0.55"/>
<line x1="250.16" y1="299.56" x2="251.61" y2="307.15" stroke="#333" stroke-width="0.5"/>
<line x1="240.66" y1="301.04" x2="241.28" y2="306.20" stroke="#333" stroke-width="0.5"/>
<line x1="244.72" y1="290.00" x2="241.15" y2="290.52" stroke="#333" stroke-width="0.55"/>
<line x1="242.56" y1="287.76" x2="242.93" y2="290.27" stroke="#333" stroke-width="0.55"/>
<line x1="244.72" y1="290.00" x2="246.12" y2="298.61" stroke="#333" stroke-width="0.5"/>
<line x1="241.15" y1="290.52" x2="241.70" y2="294.67" stroke="#333" stroke-width="0.5"/>
<line x1="242.32" y1="303.37" x2="231.87" y2="304.32" stroke="#333" stroke-width="0.55"/>
<line x1="236.83" y1="300.92" x2="237.11" y2="303.94" stroke="#333" stroke-width="0.55"/>
<line x1="242.32" y1="303.37" x2="242.98" y2="308.45" stroke="#333" stroke-width="0.5"/>
<line x1="231.87" y1="304.32" x2="232.20" y2="310.46" stroke="#333" stroke-width="0.5"/>
<line x1="236.68" y1="292.43" x2="228.36" y2="292.95" stroke="#333" stroke-width="0.55"/>
<line x1="232.25" y1="288.38" x2="232.52" y2="292.76" stroke="#333" stroke-width="0.55"/>
<line x1="236.68" y1="292.43" x2="237.46" y2="300.55" stroke="#333" stroke-width="0.5"/>
<line x1="228.36" y1="292.95" x2="228.46" y2="296.17" stroke="#333" stroke-width="0.5"/>
<line x1="231.95" y1="292.56" x2="226.35" y2="292.76" stroke="#333" stroke-width="0.55"/>
<line x1="229.01" y1="288.86" x2="229.15" y2="292.69" stroke="#333" stroke-width="0.55"/>
<line x1="231.95" y1="292.56" x2="232.45" y2="301.05" stroke="#333" stroke-width="0.5"/>
<line x1="226.35" y1="292.76" x2="226.43" y2="297.80" stroke="#333" stroke-width="0.5"/>
<line x1="227.44" y1="299.10" x2="221.76" y2="299.10" stroke="#333" stroke-width="0.55"/>
<line x1="224.60" y1="296.18" x2="224.60" y2="299.13" stroke="#333" stroke-width="0.55"/>
<line x1="227.44" y1="299.10" x2="227.53" y2="303.16" stroke="#333" stroke-width="0.5"/>
<line x1="221.76" y1="299.10" x2="221.69" y2="302.57" stroke="#333" stroke-width="0.5"/>
<line x1="225.10" y1="301.15" x2="214.48" y2="300.78" stroke="#333" stroke-width="0.55"/>
<line x1="219.87" y1="298.58" x2="219.79" y2="301.07" stroke="#333" stroke-width="0.55"/>
<line x1="225.10" y1="301.15" x2="225.12" y2="304.44" stroke="#333" stroke-width="0.5"/>
<line x1="214.48" y1="300.78" x2="213.82" y2="309.67" stroke="#333" stroke-width="0.5"/>
<line x1="221.53" y1="297.15" x2="216.45" y2="296.94" stroke="#333" stroke-width="0.55"/>
<line x1="219.15" y1="293.29" x2="218.99" y2="297.07" stroke="#333" stroke-width="0.55"/>
<line x1="221.53" y1="297.15" x2="221.35" y2="305.10" stroke="#333" stroke-width="0.5"/>
<line x1="216.45" y1="296.94" x2="216.10" y2="302.66" stroke="#333" stroke-width="0.5"/>
<line x1="218.56" y1="292.14" x2="209.20" y2="291.35" stroke="#333" stroke-width="0.55"/>
<line x1="214.05" y1="289.74" x2="213.87" y2="291.83" stroke="#333" stroke-width="0.55"/>
<line x1="218.56" y1="292.14" x2="218.29" y2="298.10" stroke="#333" stroke-width="0.5"/>
<line x1="209.20" y1="291.35" x2="208.23" y2="299.33" stroke="#333" stroke-width="0.5"/>
<line x1="215.79" y1="301.46" x2="205.50" y2="300.41" stroke="#333" stroke-width="0.55"/>
<line x1="211.03" y1="297.16" x2="210.63" y2="301.04" stroke="#333" stroke-width="0.55"/>
<line x1="215.79" y1="301.46" x2="215.29" y2="309.18" stroke="#333" stroke-width="0.5"/>
<line x1="205.50" y1="300.41" x2="204.99" y2="304.02" stroke="#333" stroke-width="0.5"/>
<line x1="213.17" y1="293.09" x2="204.22" y2="291.97" stroke="#333" stroke-width="0.55"/>
<line x1="209.04" y1="289.75" x2="208.69" y2="292.61" stroke="#333" stroke-width="0.55"/>
<line x1="213.17" y1="293.09" x2="212.66" y2="298.78" stroke="#333" stroke-width="0.5"/>
<line x1="204.22" y1="291.97" x2="202.80" y2="300.86" stroke="#333" stroke-width="0.5"/>
<line x1="207.32" y1="304.10" x2="200.42" y2="303.07" stroke="#333" stroke-width="0.55"/>
<line x1="204.37" y1="300.20" x2="203.86" y2="303.63" stroke="#333" stroke-width="0.55"/>
<line x1="207.32" y1="304.10" x2="206.41" y2="311.42" stroke="#333" stroke-width="0.5"/>
<line x1="200.42" y1="303.07" x2="199.41" y2="308.86" stroke="#333" stroke-width="0.5"/>
<line x1="205.55" y1="295.78" x2="201.15" y2="295.07" stroke="#333" stroke-width="0.55"/>
<line x1="203.85" y1="292.35" x2="203.35" y2="295.44" stroke="#333" stroke-width="0.55"/>
<line x1="205.55" y1="295.78" x2="204.27" y2="304.62" stroke="#333" stroke-width="0.5"/>
<line x1="201.15" y1="295.07" x2="199.60" y2="303.69" stroke="#333" stroke-width="0.5"/>
<line x1="201.51" y1="296.49" x2="195.79" y2="295.35" stroke="#333" stroke-width="0.55"/>
<line x1="199.09" y1="293.73" x2="198.64" y2="295.95" stroke="#333" stroke-width="0.55"/>
<line x1="201.51" y1="296.49" x2="200.71" y2="301.05" stroke="#333" stroke-width="0.5"/>
<line x1="195.79" y1="295.35" x2="194.13" y2="302.86" stroke="#333" stroke-width="0.5"/>
<line x1="197.32" y1="293.71" x2="188.76" y2="291.59" stroke="#333" stroke-width="0.55"/>
<line x1="194.06" y1="288.52" x2="193.02" y2="292.72" stroke="#333" stroke-width="0.55"/>
<line x1="197.32" y1="293.71" x2="195.84" y2="300.72" stroke="#333" stroke-width="0.5"/>
<line x1="188.76" y1="291.59" x2="186.85" y2="298.31" stroke="#333" stroke-width="0.5"/>
<line x1="193.16" y1="292.79" x2="185.20" y2="290.56" stroke="#333" stroke-width="0.55"/>
<line x1="189.93" y1="289.00" x2="189.17" y2="291.74" stroke="#333" stroke-width="0.55"/>
<line x1="193.16" y1="292.79" x2="191.75" y2="298.53" stroke="#333" stroke-width="0.5"/>
<line x1="185.20" y1="290.56" x2="182.92" y2="297.83" stroke="#333" stroke-width="0.5"/>
<line x1="189.51" y1="290.82" x2="180.14" y2="287.82" stroke="#333" stroke-width="0.55"/>
<line x1="186.00" y1="285.65" x2="184.80" y2="289.41" stroke="#333" stroke-width="0.55"/>
<line x1="189.51" y1="290.82" x2="187.77" y2="297.07" stroke="#333" stroke-width="0.5"/>
<line x1="180.14" y1="287.82" x2="179.09" y2="290.70" stroke="#333" stroke-width="0.5"/>
<line x1="186.28" y1="289.24" x2="178.77" y2="286.67" stroke="#333" stroke-width="0.55"/>
<line x1="183.60" y1="284.81" x2="182.50" y2="288.01" stroke="#333" stroke-width="0.55"/>
<line x1="186.28" y1="289.24" x2="183.95" y2="296.79" stroke="#333" stroke-width="0.5"/>
<line x1="178.77" y1="286.67" x2="176.34" y2="293.11" stroke="#333" stroke-width="0.5"/>
<line x1="181.72" y1="289.18" x2="174.39" y2="286.40" stroke="#333" stroke-width="0.55"/>
<line x1="179.53" y1="283.90" x2="178.03" y2="287.84" stroke="#333" stroke-width="0.55"/>
<line x1="181.72" y1="289.18" x2="179.11" y2="296.71" stroke="#333" stroke-width="0.5"/>
<line x1="174.39" y1="286.40" x2="172.44" y2="291.11" stroke="#333" stroke-width="0.5"/>
<line x1="174.85" y1="294.45" x2="166.92" y2="291.11" stroke="#333" stroke-width="0.55"/>
<line x1="172.77" y1="288.30" x2="170.86" y2="292.84" stroke="#333" stroke-width="0.55"/>
<line x1="174.85" y1="294.45" x2="171.70" y2="302.60" stroke="#333" stroke-width="0.5"/>
<line x1="166.92" y1="291.11" x2="164.38" y2="296.66" stroke="#333" stroke-width="0.5"/>
<line x1="244.75" y1="301.00" x2="247.56" y2="319.79" stroke="#8a8a8a" stroke-width="0.8"/>
<line x1="243.09" y1="301.23" x2="245.13" y2="316.09" stroke="#8a8a8a" stroke-width="0.8"/>
<line x1="241.32" y1="302.47" x2="242.78" y2="314.38" stroke="#8a8a8a" stroke-width="0.8"/>
<line x1="246.48" y1="299.71" x2="248.58" y2="312.54" stroke="#8a8a8a" stroke-width="0.8"/>
<line x1="239.03" y1="303.74" x2="240.28" y2="315.67" stroke="#8a8a8a" stroke-width="0.8"/>
<line x1="234.13" y1="303.16" x2="234.68" y2="311.14" stroke="#8a8a8a" stroke-width="0.8"/>
<line x1="223.35" y1="297.49" x2="223.26" y2="307.49" stroke="#8a8a8a" stroke-width="0.8"/>
<line x1="219.86" y1="298.42" x2="219.40" y2="311.41" stroke="#8a8a8a" stroke-width="0.8"/>
<line x1="201.40" y1="296.48" x2="199.67" y2="306.33" stroke="#8a8a8a" stroke-width="0.8"/>
<line x1="180.72" y1="285.78" x2="177.30" y2="295.18" stroke="#8a8a8a" stroke-width="0.8"/>
<line x1="176.92" y1="283.25" x2="173.55" y2="291.60" stroke="#8a8a8a" stroke-width="0.8"/>
<line x1="172.44" y1="282.43" x2="167.56" y2="293.40" stroke="#8a8a8a" stroke-width="0.8"/>
<circle cx="244.80" cy="300.70" r="2.20" fill="#111111"/>
<circle cx="247.90" cy="301.70" r="2.20" fill="#111111"/>
<circle cx="250.40" cy="306.80" r="2.30" fill="#111111"/>
<circle cx="252.50" cy="305.30" r="2.30" fill="#111111"/>
<circle cx="254.50" cy="301.70" r="2.30" fill="#111111"/>
<circle cx="257.10" cy="300.10" r="2.20" fill="#111111"/>
<circle cx="258.60" cy="299.10" r="2.20" fill="#111111"/>
<circle cx="260.70" cy="301.70" r="2.10" fill="#111111"/>
<circle cx="252.50" cy="303.70" r="2.20" fill="#111111"/>
<circle cx="257.60" cy="300.70" r="2.20" fill="#111111"/>
<circle cx="270.90" cy="299.60" r="2.30" fill="#111111"/>
<circle cx="272.90" cy="297.10" r="2.30" fill="#111111"/>
<circle cx="275.00" cy="296.10" r="2.30" fill="#111111"/>
<circle cx="276.50" cy="297.10" r="2.30" fill="#111111"/>
<circle cx="278.00" cy="296.10" r="2.30" fill="#111111"/>
<circle cx="275.00" cy="300.70" r="2.20" fill="#111111"/>
<circle cx="268.50" cy="298.50" r="1.80" fill="#111111"/>
<circle cx="262.50" cy="298.20" r="1.60" fill="#111111"/>
<circle cx="263.70" cy="306.30" r="2.20" fill="#FFEE22"/>
<circle cx="266.20" cy="305.80" r="1.60" fill="#F5A3A0"/>
<circle cx="268.50" cy="303.80" r="1.80" fill="#4C9BE6"/>
<circle cx="271.00" cy="304.20" r="1.70" fill="#B2B238"/>
<circle cx="283.10" cy="301.20" r="2.40" fill="#B2B238"/>
<circle cx="281.00" cy="303.00" r="2.20" fill="#B2B238"/>
<circle cx="285.00" cy="299.50" r="2.00" fill="#B2B238"/>
<circle cx="232.50" cy="307.00" r="2.50" fill="#8A1010"/>
<circle cx="235.00" cy="309.50" r="2.60" fill="#8A1010"/>
<circle cx="237.50" cy="306.00" r="2.40" fill="#8A1010"/>
<circle cx="231.00" cy="310.50" r="2.30" fill="#8A1010"/>
<circle cx="234.00" cy="312.50" r="2.40" fill="#8A1010"/>
<circle cx="237.80" cy="311.50" r="2.20" fill="#8A1010"/>
<circle cx="229.50" cy="306.50" r="2.00" fill="#8A1010"/>
<circle cx="243.80" cy="313.40" r="1.90" fill="#8A1010"/>
<circle cx="238.70" cy="302.70" r="2.20" fill="#FFEE22"/>
<circle cx="242.30" cy="317.00" r="2.20" fill="#FFEE22"/>
<circle cx="230.50" cy="305.30" r="1.80" fill="#FFEE22"/>
<circle cx="241.30" cy="323.40" r="1.80" fill="#5EE88A"/>
<circle cx="247.00" cy="320.40" r="1.90" fill="#C8C8C8"/>
<circle cx="223.00" cy="302.00" r="2.20" fill="#FFEE22"/>
<circle cx="225.50" cy="305.50" r="1.90" fill="#5EE88A"/>
<circle cx="227.50" cy="303.00" r="2.00" fill="#FFEE22"/>
<circle cx="221.00" cy="307.00" r="1.60" fill="#C8C8C8"/>
<circle cx="220.50" cy="303.50" r="1.50" fill="#999"/>
<circle cx="211.00" cy="311.70" r="1.90" fill="#111111"/>
<circle cx="213.80" cy="311.70" r="1.90" fill="#111111"/>
<circle cx="212.40" cy="309.60" r="1.70" fill="#111111"/>
<circle cx="215.00" cy="301.50" r="1.80" fill="#8A1010"/>
<circle cx="217.00" cy="297.50" r="1.90" fill="#111111"/>
<circle cx="214.00" cy="295.00" r="1.40" fill="#666"/>
<circle cx="226.00" cy="298.00" r="1.50" fill="#888"/>
<circle cx="183.70" cy="289.20" r="2.20" fill="#FFEE22"/>
<circle cx="182.00" cy="291.80" r="2.00" fill="#8A1010"/>
<circle cx="175.80" cy="296.20" r="2.20" fill="#FFEE22"/>
<circle cx="174.10" cy="297.10" r="2.00" fill="#F05050"/>
<circle cx="168.80" cy="299.70" r="2.30" fill="#FFEE22"/>
<circle cx="169.50" cy="296.60" r="2.00" fill="#8A1010"/>
<circle cx="161.00" cy="303.20" r="2.40" fill="#FFEE22"/>
<circle cx="157.40" cy="308.50" r="1.90" fill="#9C0FB5"/>
<circle cx="154.00" cy="312.90" r="1.90" fill="#9C0FB5"/>
<circle cx="186.00" cy="284.00" r="1.40" fill="#777"/>
<circle cx="178.00" cy="293.00" r="1.30" fill="#777"/>
<circle cx="164.00" cy="301.00" r="1.30" fill="#777"/>
<circle cx="176.50" cy="288.50" r="1.30" fill="#555"/>
<circle cx="304.50" cy="293.53" r="2.20" fill="#4C9BE6"/>
<circle cx="303.62" cy="293.60" r="2.20" fill="#F5A3A0"/>
<circle cx="303.42" cy="294.79" r="2.20" fill="#4C9BE6"/>
<circle cx="302.09" cy="294.13" r="2.20" fill="#4C9BE6"/>
<circle cx="301.69" cy="294.99" r="2.20" fill="#4C9BE6"/>
<circle cx="300.56" cy="294.62" r="2.20" fill="#4C9BE6"/>
<circle cx="300.36" cy="295.83" r="2.20" fill="#4C9BE6"/>
<circle cx="299.94" cy="296.70" r="2.20" fill="#F5A3A0"/>
<circle cx="298.87" cy="296.41" r="2.20" fill="#4C9BE6"/>
<circle cx="297.98" cy="296.43" r="2.20" fill="#4C9BE6"/>
<circle cx="297.09" cy="296.45" r="2.20" fill="#F5A3A0"/>
<circle cx="296.58" cy="297.16" r="2.20" fill="#4C9BE6"/>
<circle cx="296.54" cy="298.73" r="2.20" fill="#4C9BE6"/>
<circle cx="295.65" cy="298.74" r="2.20" fill="#4C9BE6"/>
<circle cx="295.13" cy="299.46" r="2.20" fill="#4C9BE6"/>
<circle cx="293.97" cy="298.95" r="2.20" fill="#4C9BE6"/>
<circle cx="292.86" cy="298.51" r="2.20" fill="#F5A3A0"/>
<circle cx="292.45" cy="299.43" r="2.20" fill="#4C9BE6"/>
<circle cx="291.51" cy="299.32" r="2.20" fill="#4C9BE6"/>
<circle cx="290.82" cy="299.68" r="2.20" fill="#4C9BE6"/>
<circle cx="290.86" cy="301.56" r="2.20" fill="#F5A3A0"/>
<circle cx="289.79" cy="301.17" r="2.20" fill="#4C9BE6"/>
<circle cx="289.29" cy="301.95" r="2.20" fill="#4C9BE6"/>
<circle cx="288.58" cy="302.30" r="2.20" fill="#4C9BE6"/>
<circle cx="287.68" cy="302.24" r="2.20" fill="#4C9BE6"/>
<circle cx="286.62" cy="301.80" r="2.20" fill="#4C9BE6"/>
<circle cx="286.14" cy="302.65" r="2.20" fill="#4C9BE6"/>
<circle cx="285.84" cy="303.93" r="2.20" fill="#4C9BE6"/>
<circle cx="284.96" cy="303.89" r="2.20" fill="#4C9BE6"/>
<circle cx="283.72" cy="303.00" r="2.20" fill="#F5A3A0"/>
<circle cx="209.91" cy="304.29" r="1.80" fill="#8A1010"/>
<circle cx="209.00" cy="304.75" r="1.80" fill="#8A1010"/>
<circle cx="208.16" cy="304.59" r="1.80" fill="#8A1010"/>
<circle cx="207.35" cy="304.15" r="1.80" fill="#8A1010"/>
<circle cx="206.52" cy="303.92" r="1.80" fill="#8A1010"/>
<circle cx="205.73" cy="303.43" r="1.80" fill="#8A1010"/>
<circle cx="204.77" cy="304.14" r="1.80" fill="#8A1010"/>
<circle cx="204.00" cy="303.46" r="1.80" fill="#8A1010"/>
<circle cx="203.11" cy="303.65" r="1.80" fill="#8A1010"/>
<circle cx="202.22" cy="303.82" r="1.80" fill="#8A1010"/>
<circle cx="201.58" cy="302.46" r="1.80" fill="#8A1010"/>
<circle cx="200.66" cy="302.82" r="1.80" fill="#8A1010"/>
<circle cx="199.85" cy="302.52" r="1.80" fill="#8A1010"/>
<circle cx="198.85" cy="303.23" r="1.80" fill="#8A1010"/>
<circle cx="198.11" cy="302.54" r="1.80" fill="#8A1010"/>
<circle cx="197.42" cy="301.67" r="1.80" fill="#8A1010"/>
<circle cx="196.51" cy="301.86" r="1.80" fill="#8A1010"/>
<circle cx="195.83" cy="300.95" r="1.80" fill="#8A1010"/>
<circle cx="194.85" cy="301.51" r="1.80" fill="#8A1010"/>
<circle cx="194.18" cy="300.59" r="1.80" fill="#8A1010"/>
<circle cx="193.34" cy="300.46" r="1.80" fill="#8A1010"/>
<circle cx="192.39" cy="300.80" r="1.80" fill="#8A1010"/>
<circle cx="191.57" cy="300.60" r="1.80" fill="#8A1010"/>
<circle cx="190.88" cy="299.85" r="1.80" fill="#8A1010"/>
<circle cx="189.92" cy="300.17" r="1.80" fill="#8A1010"/>
<circle cx="189.22" cy="299.49" r="1.80" fill="#8A1010"/>
<circle cx="188.25" cy="299.84" r="1.80" fill="#8A1010"/>
<circle cx="187.72" cy="298.57" r="1.80" fill="#8A1010"/>
<circle cx="186.58" cy="299.51" r="1.80" fill="#8A1010"/>
<circle cx="185.95" cy="298.63" r="1.80" fill="#8A1010"/>
<circle cx="185.27" cy="297.92" r="1.80" fill="#8A1010"/>
<circle cx="184.42" cy="297.82" r="1.80" fill="#8A1010"/>
<circle cx="183.47" cy="298.04" r="1.80" fill="#8A1010"/>
<line x1="206.00" y1="305.50" x2="205.60" y2="331.00" stroke="#333" stroke-width="0.6"/>
<path d="M207.2,330.6 L207.2,335.0 L203.4,332.8 Z" fill="#A01010"/>
<path d="M152.55,309.81 A161.26,161.26 0 0 1 146.69,306.74" fill="none" stroke="#111" stroke-width="0.5273845385294562"/>
<path d="M152.26,309.58 A161.17,161.17 0 0 1 148.33,307.54" fill="none" stroke="#111" stroke-width="0.7865363960266261"/>
<path d="M151.86,309.72 A161.48,161.48 0 0 1 147.54,307.46" fill="none" stroke="#111" stroke-width="0.6740025678313956"/>
<path d="M151.57,309.70 A161.59,161.59 0 0 1 147.01,307.30" fill="none" stroke="#111" stroke-width="0.5337923013372161"/>
<path d="M150.70,310.89 A163.05,163.05 0 0 1 144.98,307.85" fill="none" stroke="#111" stroke-width="0.7321657113391267"/>
<path d="M150.93,309.30 A161.52,161.52 0 0 1 147.62,307.55" fill="none" stroke="#111" stroke-width="0.6600118983271906"/>
<path d="M149.96,310.24 A162.81,162.81 0 0 1 145.60,307.91" fill="none" stroke="#111" stroke-width="0.5318112912770356"/>
<path d="M150.49,308.54 A161.05,161.05 0 0 1 148.26,307.36" fill="none" stroke="#111" stroke-width="0.6534115691748741"/>
<path d="M149.09,310.68 A163.60,163.60 0 0 1 143.00,307.35" fill="none" stroke="#111" stroke-width="0.5012187187227444"/>
<path d="M148.99,309.67 A162.75,162.75 0 0 1 146.96,308.59" fill="none" stroke="#111" stroke-width="0.5841559082233637"/>
<path d="M149.18,308.55 A161.67,161.67 0 0 1 146.91,307.33" fill="none" stroke="#111" stroke-width="0.5351947342462531"/>
<path d="M148.77,308.84 A162.12,162.12 0 0 1 144.75,306.65" fill="none" stroke="#111" stroke-width="0.5310864966854545"/>
<path d="M147.59,309.90 A163.60,163.60 0 0 1 143.47,307.62" fill="none" stroke="#111" stroke-width="0.7305881337011375"/>
<path d="M147.51,309.31 A163.12,163.12 0 0 1 142.24,306.36" fill="none" stroke="#111" stroke-width="0.5732026152271487"/>
<path d="M147.79,307.78 A161.64,161.64 0 0 1 145.09,306.29" fill="none" stroke="#111" stroke-width="0.5966786831584133"/>
<path d="M146.93,308.81 A162.96,162.96 0 0 1 143.88,307.12" fill="none" stroke="#111" stroke-width="0.6241601260662868"/>
<path d="M146.72,308.15 A162.48,162.48 0 0 1 140.95,304.85" fill="none" stroke="#111" stroke-width="0.7040222483136407"/>
<path d="M146.06,308.38 A162.99,162.99 0 0 1 141.19,305.59" fill="none" stroke="#111" stroke-width="0.7715621564597794"/>
<path d="M145.85,307.87 A162.65,162.65 0 0 1 141.58,305.43" fill="none" stroke="#111" stroke-width="0.6368942020705611"/>
<path d="M146.11,306.28 A161.13,161.13 0 0 1 143.37,304.71" fill="none" stroke="#111" stroke-width="0.6253880590352552"/>
<path d="M145.01,307.58 A162.81,162.81 0 0 1 140.39,304.89" fill="none" stroke="#111" stroke-width="0.45071116843701786"/>
<path d="M144.95,307.06 A162.38,162.38 0 0 1 141.34,304.97" fill="none" stroke="#111" stroke-width="0.6879938006576422"/>
<path d="M145.72,304.92 A160.14,160.14 0 0 1 140.97,302.13" fill="none" stroke="#111" stroke-width="0.7907317334042384"/>
<path d="M144.43,306.68 A162.31,162.31 0 0 1 139.93,304.04" fill="none" stroke="#111" stroke-width="0.6644257061672159"/>
<path d="M144.35,306.02 A161.78,161.78 0 0 1 138.34,302.42" fill="none" stroke="#111" stroke-width="0.7552266066797547"/>
<path d="M143.34,307.02 A163.14,163.14 0 0 1 138.61,304.20" fill="none" stroke="#111" stroke-width="0.7318285646396927"/>
<path d="M144.63,303.66 A159.59,159.59 0 0 1 141.85,302.02" fill="none" stroke="#111" stroke-width="0.5312338596733462"/>
<path d="M142.17,306.91 A163.63,163.63 0 0 1 139.26,305.17" fill="none" stroke="#111" stroke-width="0.6199119118180721"/>
<path d="M142.23,305.75 A162.60,162.60 0 0 1 137.87,303.10" fill="none" stroke="#111" stroke-width="0.7626654731461078"/>
<path d="M143.44,302.63 A159.29,159.29 0 0 1 137.67,299.05" fill="none" stroke="#111" stroke-width="0.5519764665176552"/>
<path d="M141.34,305.33 A162.69,162.69 0 0 1 138.19,303.41" fill="none" stroke="#111" stroke-width="0.5572225947449312"/>
<path d="M140.79,305.20 A162.86,162.86 0 0 1 134.87,301.48" fill="none" stroke="#111" stroke-width="0.482812955938386"/>
<path d="M140.57,304.71 A162.55,162.55 0 0 1 134.76,301.03" fill="none" stroke="#111" stroke-width="0.7039278974169005"/>
<path d="M142.18,301.43 A158.91,158.91 0 0 1 139.60,299.83" fill="none" stroke="#111" stroke-width="0.5406531556534739"/>
<path d="M141.22,302.22 A160.09,160.09 0 0 1 138.72,300.67" fill="none" stroke="#111" stroke-width="0.4803376889620474"/>
<path d="M139.36,304.39 A162.91,162.91 0 0 1 136.92,302.87" fill="none" stroke="#111" stroke-width="0.6297831197214505"/>
<path d="M140.34,301.73 A160.13,160.13 0 0 1 136.31,299.16" fill="none" stroke="#111" stroke-width="0.7337715281599371"/>
<path d="M138.51,304.24 A163.22,163.22 0 0 1 133.45,300.97" fill="none" stroke="#111" stroke-width="0.7076868027986946"/>
<path d="M139.48,302.04 A160.85,160.85 0 0 1 133.84,298.36" fill="none" stroke="#111" stroke-width="0.4714732324904401"/>
<path d="M138.79,302.66 A161.74,161.74 0 0 1 133.07,298.92" fill="none" stroke="#111" stroke-width="0.5021741840301822"/>
<path d="M139.16,301.52 A160.57,160.57 0 0 1 134.14,298.23" fill="none" stroke="#111" stroke-width="0.6473669804874682"/>
<path d="M140.23,299.00 A157.87,157.87 0 0 1 137.59,297.29" fill="none" stroke="#111" stroke-width="0.6549801622497677"/>
<path d="M139.76,298.87 A158.02,158.02 0 0 1 137.55,297.44" fill="none" stroke="#111" stroke-width="0.5600517542196684"/>
<path d="M138.64,299.97 A159.55,159.55 0 0 1 136.09,298.32" fill="none" stroke="#111" stroke-width="0.47592205891754785"/>
<path d="M136.03,303.22 A163.69,163.69 0 0 1 131.56,300.24" fill="none" stroke="#111" stroke-width="0.7717098388731825"/>
<path d="M137.06,301.12 A161.37,161.37 0 0 1 133.72,298.91" fill="none" stroke="#111" stroke-width="0.7464646530392365"/>
<path d="M136.73,300.85 A161.32,161.32 0 0 1 131.24,297.13" fill="none" stroke="#111" stroke-width="0.7844808950073416"/>
<path d="M137.18,299.64 A160.06,160.06 0 0 1 134.98,298.19" fill="none" stroke="#111" stroke-width="0.6461203305826619"/>
<path d="M135.94,301.00 A161.87,161.87 0 0 1 132.65,298.78" fill="none" stroke="#111" stroke-width="0.45271557976897214"/>
<path d="M137.78,297.24 A157.72,157.72 0 0 1 134.91,295.31" fill="none" stroke="#111" stroke-width="0.6320515410274059"/>
<path d="M135.03,300.98 A162.35,162.35 0 0 1 130.32,297.74" fill="none" stroke="#111" stroke-width="0.49109494610082083"/>
<path d="M137.28,296.79 A157.62,157.62 0 0 1 133.42,294.15" fill="none" stroke="#111" stroke-width="0.48267750717308583"/>
<path d="M135.74,298.55 A159.94,159.94 0 0 1 131.77,295.82" fill="none" stroke="#111" stroke-width="0.6788681566580336"/>
<path d="M135.80,297.50 A159.03,159.03 0 0 1 132.61,295.30" fill="none" stroke="#111" stroke-width="0.5232268518500081"/>
<path d="M135.31,297.39 A159.22,159.22 0 0 1 132.65,295.56" fill="none" stroke="#111" stroke-width="0.5172776901889806"/>
<path d="M133.02,300.11 A162.76,162.76 0 0 1 129.42,297.60" fill="none" stroke="#111" stroke-width="0.7347705578603257"/>
<path d="M133.81,298.27 A160.79,160.79 0 0 1 130.97,296.29" fill="none" stroke="#111" stroke-width="0.5932685297459421"/>
<path d="M135.61,294.82 A156.92,156.92 0 0 1 132.10,292.33" fill="none" stroke="#111" stroke-width="0.5385006803120309"/>
<path d="M134.25,296.23 A158.86,158.86 0 0 1 131.68,294.42" fill="none" stroke="#111" stroke-width="0.651737950251329"/>
<path d="M134.51,295.45 A158.06,158.06 0 0 1 131.70,293.45" fill="none" stroke="#111" stroke-width="0.5133590408839597"/>
<path d="M132.12,298.01 A161.54,161.54 0 0 1 126.85,294.18" fill="none" stroke="#111" stroke-width="0.49649883480718415"/>
<path d="M133.57,295.44 A158.59,158.59 0 0 1 129.83,292.74" fill="none" stroke="#111" stroke-width="0.7418933608554585"/>
<path d="M130.68,298.66 A162.89,162.89 0 0 1 128.77,297.29" fill="none" stroke="#111" stroke-width="0.4595677254909326"/>
<path d="M132.38,295.67 A159.46,159.46 0 0 1 130.55,294.35" fill="none" stroke="#111" stroke-width="0.5726374228615654"/>
<path d="M130.12,298.39 A163.00,163.00 0 0 1 127.46,296.46" fill="none" stroke="#111" stroke-width="0.5615214189202086"/>
<path d="M130.01,298.06 A162.79,162.79 0 0 1 127.73,296.41" fill="none" stroke="#111" stroke-width="0.6038472746356771"/>
<path d="M132.56,293.98 A157.99,157.99 0 0 1 127.06,289.86" fill="none" stroke="#111" stroke-width="0.6999910284663158"/>
<path d="M131.68,294.40 A158.85,158.85 0 0 1 126.23,290.30" fill="none" stroke="#111" stroke-width="0.7878361638877452"/>
<path d="M131.93,293.32 A157.82,157.82 0 0 1 129.97,291.88" fill="none" stroke="#111" stroke-width="0.6406109086311035"/>
<path d="M128.63,297.20 A162.90,162.90 0 0 1 122.98,292.90" fill="none" stroke="#111" stroke-width="0.7359087089701679"/>
<path d="M127.80,297.81 A163.88,163.88 0 0 1 123.60,294.63" fill="none" stroke="#111" stroke-width="0.4633357183053979"/>
<path d="M127.68,297.46 A163.67,163.67 0 0 1 122.80,293.73" fill="none" stroke="#111" stroke-width="0.7091710459795557"/>
<path d="M131.75,291.19 A156.21,156.21 0 0 1 126.58,287.21" fill="none" stroke="#111" stroke-width="0.5542705287058493"/>
<path d="M128.91,294.22 A160.34,160.34 0 0 1 125.29,291.45" fill="none" stroke="#111" stroke-width="0.6341890034688473"/>
<path d="M127.07,295.79 A162.69,162.69 0 0 1 123.76,293.25" fill="none" stroke="#111" stroke-width="0.7483663010362873"/>
<path d="M129.14,292.55 A158.86,158.86 0 0 1 126.19,290.28" fill="none" stroke="#111" stroke-width="0.46648143474320514"/>
<path d="M130.49,290.17 A156.14,156.14 0 0 1 125.26,286.05" fill="none" stroke="#111" stroke-width="0.7361775378119444"/>
<path d="M129.89,290.35 A156.65,156.65 0 0 1 127.20,288.26" fill="none" stroke="#111" stroke-width="0.7204217717353973"/>
<path d="M129.47,290.39 A156.93,156.93 0 0 1 126.17,287.81" fill="none" stroke="#111" stroke-width="0.6523658545151083"/>
<path d="M127.91,292.00 A159.16,159.16 0 0 1 124.10,288.99" fill="none" stroke="#111" stroke-width="0.7106677750488515"/>
<path d="M124.72,295.57 A163.93,163.93 0 0 1 121.94,293.39" fill="none" stroke="#111" stroke-width="0.7125399722583443"/>
<path d="M124.87,294.95 A163.35,163.35 0 0 1 121.02,291.89" fill="none" stroke="#111" stroke-width="0.5106039518455139"/>
<path d="M124.62,294.45 A163.11,163.11 0 0 1 122.34,292.65" fill="none" stroke="#111" stroke-width="0.7588381576083446"/>
<path d="M126.62,290.98 A159.14,159.14 0 0 1 121.99,287.23" fill="none" stroke="#111" stroke-width="0.7020998796614666"/>
<path d="M126.12,290.95 A159.42,159.42 0 0 1 123.23,288.63" fill="none" stroke="#111" stroke-width="0.7355694176868299"/>
<path d="M123.16,293.93 A163.60,163.60 0 0 1 121.12,292.29" fill="none" stroke="#111" stroke-width="0.6495180431597801"/>
<path d="M126.09,289.48 A158.29,158.29 0 0 1 124.29,288.03" fill="none" stroke="#111" stroke-width="0.7627440110168148"/>
<path d="M123.44,292.03 A161.93,161.93 0 0 1 120.45,289.58" fill="none" stroke="#111" stroke-width="0.603382695725074"/>
<path d="M125.78,288.31 A157.57,157.57 0 0 1 121.50,284.74" fill="none" stroke="#111" stroke-width="0.6975440381690863"/>
<path d="M121.66,292.82 A163.67,163.67 0 0 1 117.55,289.39" fill="none" stroke="#111" stroke-width="0.7593378504677671"/>
<path d="M123.81,289.70 A159.89,159.89 0 0 1 121.02,287.39" fill="none" stroke="#111" stroke-width="0.6244393925710561"/>
<path d="M120.88,292.54 A163.94,163.94 0 0 1 115.76,288.19" fill="none" stroke="#111" stroke-width="0.7484887476086972"/>
<path d="M121.54,290.85 A162.21,162.21 0 0 1 117.11,287.08" fill="none" stroke="#111" stroke-width="0.48180926891702636"/>
<path d="M122.27,289.39 A160.62,160.62 0 0 1 120.17,287.62" fill="none" stroke="#111" stroke-width="0.7655399639158367"/>
<path d="M122.99,287.96 A159.06,159.06 0 0 1 121.00,286.28" fill="none" stroke="#111" stroke-width="0.6379322891837175"/>
<path d="M119.79,291.29 A163.67,163.67 0 0 1 115.73,287.79" fill="none" stroke="#111" stroke-width="0.6004829531153228"/>
<path d="M123.24,286.72 A157.94,157.94 0 0 1 119.14,283.16" fill="none" stroke="#111" stroke-width="0.6642177096018284"/>
<path d="M121.04,288.74 A160.91,160.91 0 0 1 117.86,285.99" fill="none" stroke="#111" stroke-width="0.7672249950729412"/>
<path d="M121.93,287.30 A159.24,159.24 0 0 1 117.44,283.37" fill="none" stroke="#111" stroke-width="0.5603409266695105"/>
<path d="M120.84,288.08 A160.53,160.53 0 0 1 118.08,285.69" fill="none" stroke="#111" stroke-width="0.7158171102739119"/>
<path d="M120.14,288.51 A161.32,161.32 0 0 1 115.88,284.77" fill="none" stroke="#111" stroke-width="0.5702176856740395"/>
<path d="M120.51,287.35 A160.19,160.19 0 0 1 116.62,283.91" fill="none" stroke="#111" stroke-width="0.4858271228579904"/>
<path d="M119.44,288.09 A161.44,161.44 0 0 1 115.56,284.65" fill="none" stroke="#111" stroke-width="0.6123338865238799"/>
<path d="M119.33,287.86 A161.35,161.35 0 0 1 114.56,283.60" fill="none" stroke="#111" stroke-width="0.5450926690579336"/>
<path d="M118.77,288.05 A161.85,161.85 0 0 1 116.24,285.82" fill="none" stroke="#111" stroke-width="0.4857173095287747"/>
<path d="M118.55,287.92 A161.90,161.90 0 0 1 113.73,283.57" fill="none" stroke="#111" stroke-width="0.7200077738818382"/>
<path d="M117.30,288.71 A163.31,163.31 0 0 1 112.56,284.42" fill="none" stroke="#111" stroke-width="0.5439747800353011"/>
<path d="M116.67,288.88 A163.86,163.86 0 0 1 111.60,284.25" fill="none" stroke="#111" stroke-width="0.6742877011868577"/>
<path d="M118.53,286.10 A160.54,160.54 0 0 1 116.53,284.32" fill="none" stroke="#111" stroke-width="0.56527825871162"/>
<path d="M117.27,287.06 A162.09,162.09 0 0 1 113.27,283.41" fill="none" stroke="#111" stroke-width="0.6704062442505778"/>
<path d="M118.95,284.37 A158.97,158.97 0 0 1 116.58,282.23" fill="none" stroke="#111" stroke-width="0.48493868863364686"/>
<path d="M115.63,287.58 A163.57,163.57 0 0 1 112.27,284.50" fill="none" stroke="#111" stroke-width="0.7297431654423617"/>
<path d="M117.22,285.37 A160.87,160.87 0 0 1 112.78,281.24" fill="none" stroke="#111" stroke-width="0.5525981380277238"/>
<path d="M116.04,285.97 A162.11,162.11 0 0 1 112.07,282.28" fill="none" stroke="#111" stroke-width="0.46016930896946406"/>
<path d="M114.55,287.09 A163.93,163.93 0 0 1 111.54,284.29" fill="none" stroke="#111" stroke-width="0.5474950149295564"/>
<path d="M115.32,285.40 A162.16,162.16 0 0 1 111.24,281.55" fill="none" stroke="#111" stroke-width="0.619319198191284"/>
<path d="M115.56,284.49 A161.33,161.33 0 0 1 112.96,282.05" fill="none" stroke="#111" stroke-width="0.5519319420366015"/>
<path d="M114.42,285.28 A162.68,162.68 0 0 1 112.45,283.44" fill="none" stroke="#111" stroke-width="0.49098409235922114"/>
<path d="M113.26,285.95 A163.96,163.96 0 0 1 108.86,281.73" fill="none" stroke="#111" stroke-width="0.6840896347064492"/>
<path d="M115.09,283.27 A160.75,160.75 0 0 1 111.71,280.03" fill="none" stroke="#111" stroke-width="0.4561336329523875"/>
<path d="M115.23,282.54 A160.12,160.12 0 0 1 113.21,280.62" fill="none" stroke="#111" stroke-width="0.4922559817507707"/>
<path d="M113.74,283.63 A161.94,161.94 0 0 1 111.35,281.34" fill="none" stroke="#111" stroke-width="0.4771171380632605"/>
<path d="M112.26,284.81 A163.81,163.81 0 0 1 107.21,279.85" fill="none" stroke="#111" stroke-width="0.7698040948495859"/>
<path d="M114.02,282.54 A160.95,160.95 0 0 1 109.42,278.03" fill="none" stroke="#111" stroke-width="0.4554274589585748"/>
<path d="M112.63,283.61 A162.68,162.68 0 0 1 107.71,278.74" fill="none" stroke="#111" stroke-width="0.773908905922645"/>
<path d="M113.07,282.40 A161.50,161.50 0 0 1 108.97,278.35" fill="none" stroke="#111" stroke-width="0.777828950925205"/>
<path d="M111.03,283.76 A163.90,163.90 0 0 1 106.78,279.54" fill="none" stroke="#111" stroke-width="0.725366419764796"/>
<path d="M112.02,282.07 A161.99,161.99 0 0 1 108.46,278.53" fill="none" stroke="#111" stroke-width="0.7753969367911419"/>
<path d="M112.63,280.83 A160.67,160.67 0 0 1 109.54,277.74" fill="none" stroke="#111" stroke-width="0.7548645865724959"/>
<path d="M111.19,281.65 A162.27,162.27 0 0 1 106.45,276.82" fill="none" stroke="#111" stroke-width="0.7146765817713947"/>
<path d="M110.45,281.97 A163.01,163.01 0 0 1 105.91,277.34" fill="none" stroke="#111" stroke-width="0.45232930596596616"/>
<path d="M110.66,280.98 A162.16,162.16 0 0 1 106.29,276.51" fill="none" stroke="#111" stroke-width="0.4543451327032935"/>
<path d="M110.69,280.47 A161.77,161.77 0 0 1 108.37,278.12" fill="none" stroke="#111" stroke-width="0.6802031658135294"/>
<path d="M109.54,280.91 A162.90,162.90 0 0 1 105.75,277.01" fill="none" stroke="#111" stroke-width="0.48986460513344887"/>
<path d="M109.86,280.14 A162.13,162.13 0 0 1 106.31,276.49" fill="none" stroke="#111" stroke-width="0.7083705179170805"/>
<path d="M108.41,280.79 A163.61,163.61 0 0 1 105.24,277.50" fill="none" stroke="#111" stroke-width="0.7088296493892783"/>
<path d="M108.81,279.67 A162.54,162.54 0 0 1 106.01,276.76" fill="none" stroke="#111" stroke-width="0.7487198031506923"/>
<path d="M109.23,278.55 A161.45,161.45 0 0 1 107.57,276.82" fill="none" stroke="#111" stroke-width="0.6974663321777437"/>
<path d="M108.80,278.27 A161.56,161.56 0 0 1 106.73,276.10" fill="none" stroke="#111" stroke-width="0.7149050881941656"/>
<path d="M108.68,278.00 A161.46,161.46 0 0 1 106.80,276.03" fill="none" stroke="#111" stroke-width="0.6680618921996091"/>
<path d="M106.86,279.37 A163.72,163.72 0 0 1 105.15,277.58" fill="none" stroke="#111" stroke-width="0.741684824047695"/>
<path d="M108.18,277.33 A161.36,161.36 0 0 1 106.87,275.96" fill="none" stroke="#111" stroke-width="0.6424002293490918"/>
<path d="M107.11,277.61 A162.32,162.32 0 0 1 106.17,276.62" fill="none" stroke="#111" stroke-width="0.5316033909014113"/>
<path d="M107.04,276.97 A161.94,161.94 0 0 1 106.45,276.36" fill="none" stroke="#111" stroke-width="0.46206108585297884"/>
<circle cx="145.71" cy="306.10" r="1.27" fill="#111"/>
<circle cx="135.76" cy="299.56" r="1.01" fill="#111"/>
<circle cx="143.95" cy="305.50" r="1.05" fill="#111"/>
<circle cx="121.75" cy="286.98" r="0.88" fill="#111"/>
<circle cx="138.42" cy="302.09" r="0.81" fill="#111"/>
<circle cx="146.10" cy="305.13" r="0.99" fill="#111"/>
<circle cx="118.82" cy="287.72" r="0.92" fill="#111"/>
<circle cx="122.92" cy="289.21" r="1.18" fill="#111"/>
<circle cx="125.97" cy="290.56" r="1.03" fill="#111"/>
<circle cx="132.68" cy="296.99" r="1.08" fill="#111"/>
<circle cx="151.24" cy="315.71" r="1.65" fill="#F79138"/>
<circle cx="150.79" cy="314.78" r="1.65" fill="#F79138"/>
<circle cx="149.94" cy="314.65" r="1.65" fill="#F79138"/>
<circle cx="148.91" cy="314.88" r="1.65" fill="#F79138"/>
<circle cx="148.33" cy="314.23" r="1.65" fill="#F79138"/>
<circle cx="148.10" cy="312.90" r="1.65" fill="#F79138"/>
<circle cx="147.43" cy="312.42" r="1.65" fill="#F79138"/>
<circle cx="146.58" cy="312.30" r="1.65" fill="#F79138"/>
<circle cx="145.15" cy="313.23" r="1.65" fill="#F79138"/>
<circle cx="145.02" cy="311.75" r="1.65" fill="#F79138"/>
<circle cx="143.79" cy="312.31" r="1.65" fill="#F79138"/>
<circle cx="142.98" cy="312.08" r="1.65" fill="#F79138"/>
<circle cx="142.55" cy="311.17" r="1.65" fill="#F79138"/>
<circle cx="142.20" cy="310.14" r="1.65" fill="#F79138"/>
<circle cx="141.08" cy="310.45" r="1.65" fill="#F79138"/>
<circle cx="140.64" cy="309.58" r="1.65" fill="#F79138"/>
<circle cx="139.44" cy="310.02" r="1.65" fill="#F79138"/>
<circle cx="139.24" cy="308.75" r="1.65" fill="#F79138"/>
<circle cx="138.39" cy="308.59" r="1.65" fill="#F79138"/>
<circle cx="137.64" cy="308.26" r="1.65" fill="#F79138"/>
<circle cx="137.00" cy="307.73" r="1.65" fill="#F79138"/>
<circle cx="136.83" cy="306.45" r="1.65" fill="#F79138"/>
<circle cx="135.69" cy="306.75" r="1.65" fill="#F79138"/>
<circle cx="135.16" cy="306.05" r="1.65" fill="#F79138"/>
<circle cx="134.18" cy="306.08" r="1.65" fill="#F79138"/>
<circle cx="133.38" cy="305.81" r="1.65" fill="#F79138"/>
<circle cx="133.38" cy="304.32" r="1.65" fill="#F79138"/>
<circle cx="132.50" cy="304.17" r="1.65" fill="#F79138"/>
<circle cx="131.97" cy="303.51" r="1.65" fill="#F79138"/>
<circle cx="130.42" cy="304.35" r="1.65" fill="#F79138"/>
<circle cx="130.33" cy="303.03" r="1.65" fill="#F79138"/>
<circle cx="129.71" cy="302.49" r="1.65" fill="#F79138"/>
<circle cx="128.39" cy="302.96" r="1.65" fill="#F79138"/>
<circle cx="127.95" cy="302.16" r="1.65" fill="#F79138"/>
<circle cx="127.19" cy="301.82" r="1.65" fill="#F79138"/>
<circle cx="126.98" cy="300.71" r="1.65" fill="#F79138"/>
<circle cx="126.81" cy="299.56" r="1.65" fill="#F79138"/>
<circle cx="125.84" cy="299.52" r="1.65" fill="#F79138"/>
<circle cx="125.56" cy="298.53" r="1.65" fill="#F79138"/>
<circle cx="124.50" cy="298.60" r="1.65" fill="#F79138"/>
<circle cx="123.78" cy="298.20" r="1.65" fill="#F79138"/>
<circle cx="123.09" cy="297.75" r="1.65" fill="#F79138"/>
<circle cx="121.78" cy="298.12" r="1.65" fill="#F79138"/>
<circle cx="121.73" cy="296.85" r="1.65" fill="#F79138"/>
<circle cx="121.59" cy="295.71" r="1.65" fill="#F79138"/>
<circle cx="120.94" cy="295.23" r="1.65" fill="#F79138"/>
<circle cx="119.62" cy="295.58" r="1.65" fill="#F79138"/>
<circle cx="119.21" cy="294.78" r="1.65" fill="#F79138"/>
<circle cx="118.73" cy="294.09" r="1.65" fill="#F79138"/>
<circle cx="117.98" cy="293.71" r="1.65" fill="#F79138"/>
<circle cx="117.47" cy="293.05" r="1.65" fill="#F79138"/>
<circle cx="116.47" cy="292.97" r="1.65" fill="#F79138"/>
<circle cx="115.97" cy="292.30" r="1.65" fill="#F79138"/>
<circle cx="116.14" cy="290.86" r="1.65" fill="#F79138"/>
<circle cx="114.88" cy="291.07" r="1.65" fill="#F79138"/>
<circle cx="114.62" cy="290.13" r="1.65" fill="#F79138"/>
<circle cx="113.53" cy="290.14" r="1.65" fill="#F79138"/>
<circle cx="113.10" cy="289.40" r="1.65" fill="#F79138"/>
<circle cx="112.05" cy="289.34" r="1.65" fill="#F79138"/>
<circle cx="111.15" cy="289.12" r="1.65" fill="#F79138"/>
<circle cx="110.88" cy="288.20" r="1.65" fill="#F79138"/>
<circle cx="110.46" cy="287.45" r="1.65" fill="#F79138"/>
<circle cx="110.04" cy="286.71" r="1.65" fill="#F79138"/>
<circle cx="110.04" cy="285.52" r="1.65" fill="#F79138"/>
<circle cx="108.52" cy="285.94" r="1.65" fill="#F79138"/>
<circle cx="108.75" cy="284.53" r="1.65" fill="#F79138"/>
<circle cx="107.89" cy="284.25" r="1.65" fill="#F79138"/>
<circle cx="106.99" cy="284.00" r="1.65" fill="#F79138"/>
<circle cx="106.91" cy="282.93" r="1.65" fill="#F79138"/>
<circle cx="105.40" cy="283.28" r="1.65" fill="#F79138"/>
<circle cx="105.32" cy="282.21" r="1.65" fill="#F79138"/>
<circle cx="104.08" cy="282.27" r="1.65" fill="#F79138"/>
<circle cx="105.02" cy="280.24" r="1.65" fill="#F79138"/>
<circle cx="103.76" cy="280.32" r="1.65" fill="#F79138"/>
<circle cx="103.42" cy="279.52" r="1.65" fill="#F79138"/>
<path d="M107.75,272.48 A158.35,158.35 0 0 1 103.56,267.72" fill="none" stroke="#1a1a1a" stroke-width="0.5772689270893441"/>
<path d="M106.34,270.52 A158.08,158.08 0 0 1 103.21,266.88" fill="none" stroke="#1a1a1a" stroke-width="0.6249280734990044"/>
<path d="M105.37,268.89 A157.74,157.74 0 0 1 100.39,262.85" fill="none" stroke="#1a1a1a" stroke-width="0.46769362541274606"/>
<path d="M104.17,268.32 A158.28,158.28 0 0 1 99.26,262.28" fill="none" stroke="#1a1a1a" stroke-width="0.6564198358621167"/>
<path d="M102.62,266.71 A158.42,158.42 0 0 1 99.13,262.35" fill="none" stroke="#1a1a1a" stroke-width="0.4872210850827325"/>
<path d="M102.04,265.47 A158.09,158.09 0 0 1 97.52,259.66" fill="none" stroke="#1a1a1a" stroke-width="0.566208873370488"/>
<path d="M99.94,264.00 A158.80,158.80 0 0 1 96.43,259.39" fill="none" stroke="#1a1a1a" stroke-width="0.5773354751713675"/>
<path d="M98.73,262.80 A159.01,159.01 0 0 1 94.34,256.84" fill="none" stroke="#1a1a1a" stroke-width="0.4535342136897498"/>
<path d="M97.66,260.64 A158.55,158.55 0 0 1 94.87,256.79" fill="none" stroke="#1a1a1a" stroke-width="0.6234322672758003"/>
<path d="M96.63,259.31 A158.59,158.59 0 0 1 93.42,254.76" fill="none" stroke="#1a1a1a" stroke-width="0.5892614232028328"/>
<path d="M94.92,257.60 A158.98,158.98 0 0 1 91.84,253.11" fill="none" stroke="#1a1a1a" stroke-width="0.5161655382882191"/>
<path d="M94.08,255.63 A158.53,158.53 0 0 1 92.23,252.90" fill="none" stroke="#1a1a1a" stroke-width="0.5528404922619653"/>
<path d="M93.27,254.37 A158.50,158.50 0 0 1 91.23,251.29" fill="none" stroke="#1a1a1a" stroke-width="0.4893933165022299"/>
<path d="M93.07,252.76 A157.76,157.76 0 0 1 89.91,247.81" fill="none" stroke="#1a1a1a" stroke-width="0.6589774825550603"/>
<path d="M91.37,251.50 A158.49,158.49 0 0 1 87.71,245.55" fill="none" stroke="#1a1a1a" stroke-width="0.5172546008172033"/>
<path d="M90.44,250.07 A158.50,158.50 0 0 1 88.40,246.74" fill="none" stroke="#1a1a1a" stroke-width="0.6259536250303911"/>
<path d="M88.80,248.29 A158.96,158.96 0 0 1 87.19,245.59" fill="none" stroke="#1a1a1a" stroke-width="0.6746899281207694"/>
<path d="M89.35,246.30 A157.46,157.46 0 0 1 86.30,240.97" fill="none" stroke="#1a1a1a" stroke-width="0.5039761281562222"/>
<path d="M87.84,245.62 A158.42,158.42 0 0 1 85.03,240.63" fill="none" stroke="#1a1a1a" stroke-width="0.5609937108073076"/>
<path d="M86.92,244.06 A158.43,158.43 0 0 1 83.55,237.85" fill="none" stroke="#1a1a1a" stroke-width="0.6162487530235965"/>
<path d="M85.53,242.45 A158.85,158.85 0 0 1 83.00,237.70" fill="none" stroke="#1a1a1a" stroke-width="0.5918944469212915"/>
<path d="M86.23,240.63 A157.36,157.36 0 0 1 83.81,235.99" fill="none" stroke="#1a1a1a" stroke-width="0.6042600402584468"/>
<path d="M84.01,240.20 A159.12,159.12 0 0 1 82.00,236.31" fill="none" stroke="#1a1a1a" stroke-width="0.5473715669986858"/>
<path d="M83.17,238.65 A159.14,159.14 0 0 1 81.54,235.41" fill="none" stroke="#1a1a1a" stroke-width="0.4754713329797203"/>
<path d="M83.35,236.33 A157.92,157.92 0 0 1 81.33,232.15" fill="none" stroke="#1a1a1a" stroke-width="0.4395095955325995"/>
<path d="M82.16,234.28 A158.08,158.08 0 0 1 79.67,228.87" fill="none" stroke="#1a1a1a" stroke-width="0.4735739491601224"/>
<path d="M81.75,231.83 A157.41,157.41 0 0 1 79.10,225.81" fill="none" stroke="#1a1a1a" stroke-width="0.4197105148174527"/>
<path d="M80.59,230.35 A157.85,157.85 0 0 1 77.49,222.98" fill="none" stroke="#1a1a1a" stroke-width="0.5316878720424497"/>
<path d="M80.22,228.05 A157.26,157.26 0 0 1 78.66,224.32" fill="none" stroke="#1a1a1a" stroke-width="0.6959453457346972"/>
<path d="M79.57,226.58 A157.28,157.28 0 0 1 78.00,222.72" fill="none" stroke="#1a1a1a" stroke-width="0.5088221856965491"/>
<path d="M78.24,225.16 A157.96,157.96 0 0 1 76.62,221.03" fill="none" stroke="#1a1a1a" stroke-width="0.5423286181954947"/>
<path d="M77.95,223.39 A157.57,157.57 0 0 1 75.99,218.14" fill="none" stroke="#1a1a1a" stroke-width="0.5730500167383782"/>
<path d="M76.23,222.02 A158.68,158.68 0 0 1 74.43,217.06" fill="none" stroke="#1a1a1a" stroke-width="0.46389380539912095"/>
<path d="M76.56,219.34 A157.44,157.44 0 0 1 75.10,215.17" fill="none" stroke="#1a1a1a" stroke-width="0.5250768465792768"/>
<path d="M75.82,217.83 A157.62,157.62 0 0 1 73.50,210.71" fill="none" stroke="#1a1a1a" stroke-width="0.49077635549917203"/>
<path d="M74.46,216.33 A158.42,158.42 0 0 1 73.38,213.02" fill="none" stroke="#1a1a1a" stroke-width="0.5293554981197266"/>
<path d="M74.18,215.07 A158.28,158.28 0 0 1 72.19,208.57" fill="none" stroke="#1a1a1a" stroke-width="0.6562513334862962"/>
<path d="M74.26,212.53 A157.43,157.43 0 0 1 72.77,207.47" fill="none" stroke="#1a1a1a" stroke-width="0.5998987084683628"/>
<path d="M72.20,211.46 A159.09,159.09 0 0 1 70.69,206.15" fill="none" stroke="#1a1a1a" stroke-width="0.6608340763597431"/>
<path d="M72.92,210.00 A157.98,157.98 0 0 1 71.19,203.63" fill="none" stroke="#1a1a1a" stroke-width="0.6512897499606766"/>
<path d="M71.52,208.54 A158.92,158.92 0 0 1 69.78,201.77" fill="none" stroke="#1a1a1a" stroke-width="0.5239704783127621"/>
<path d="M71.63,206.34 A158.23,158.23 0 0 1 70.79,203.06" fill="none" stroke="#1a1a1a" stroke-width="0.669841260716119"/>
<path d="M70.33,204.33 A158.98,158.98 0 0 1 69.38,200.36" fill="none" stroke="#1a1a1a" stroke-width="0.6330771495604696"/>
<path d="M70.81,203.01 A158.20,158.20 0 0 1 69.82,198.69" fill="none" stroke="#1a1a1a" stroke-width="0.5516091218218948"/>
<path d="M70.34,201.45 A158.30,158.30 0 0 1 69.25,196.40" fill="none" stroke="#1a1a1a" stroke-width="0.627689134048737"/>
<path d="M70.42,199.37 A157.76,157.76 0 0 1 69.64,195.60" fill="none" stroke="#1a1a1a" stroke-width="0.47131060747202974"/>
<path d="M69.81,197.91 A158.05,158.05 0 0 1 68.77,192.47" fill="none" stroke="#1a1a1a" stroke-width="0.62948837846569"/>
<path d="M69.64,195.44 A157.72,157.72 0 0 1 68.87,191.13" fill="none" stroke="#1a1a1a" stroke-width="0.5555023701947334"/>
<path d="M68.70,194.48 A158.47,158.47 0 0 1 68.19,191.55" fill="none" stroke="#1a1a1a" stroke-width="0.5781948166859613"/>
<path d="M68.86,192.51 A157.97,157.97 0 0 1 67.67,184.38" fill="none" stroke="#1a1a1a" stroke-width="0.49365439568337505"/>
<path d="M69.22,191.31 A157.41,157.41 0 0 1 68.60,187.29" fill="none" stroke="#1a1a1a" stroke-width="0.6213418557194508"/>
<path d="M68.40,189.29 A157.91,157.91 0 0 1 67.43,181.73" fill="none" stroke="#1a1a1a" stroke-width="0.44890394826495345"/>
<path d="M67.76,187.95 A158.34,158.34 0 0 1 67.05,182.29" fill="none" stroke="#1a1a1a" stroke-width="0.6371307722956784"/>
<path d="M66.89,186.52 A159.00,159.00 0 0 1 66.19,180.28" fill="none" stroke="#1a1a1a" stroke-width="0.6068319269855937"/>
<path d="M68.02,184.47 A157.62,157.62 0 0 1 67.43,178.65" fill="none" stroke="#1a1a1a" stroke-width="0.6828777049111089"/>
<path d="M67.66,183.38 A157.86,157.86 0 0 1 67.21,178.95" fill="none" stroke="#1a1a1a" stroke-width="0.4764643095302854"/>
<path d="M66.79,181.29 A158.50,158.50 0 0 1 66.48,177.79" fill="none" stroke="#1a1a1a" stroke-width="0.611369058515193"/>
<path d="M67.74,178.88 A157.33,157.33 0 0 1 67.52,176.04" fill="none" stroke="#1a1a1a" stroke-width="0.5804734682498046"/>
<path d="M66.59,176.65 A158.30,158.30 0 0 1 66.30,171.10" fill="none" stroke="#1a1a1a" stroke-width="0.5220020880982016"/>
<path d="M65.75,174.81 A159.02,159.02 0 0 1 65.51,168.72" fill="none" stroke="#1a1a1a" stroke-width="0.6238276483379848"/>
<path d="M65.71,173.05 A158.97,158.97 0 0 1 65.53,166.01" fill="none" stroke="#1a1a1a" stroke-width="0.5526222225552578"/>
<path d="M66.81,171.48 A157.80,157.80 0 0 1 66.71,163.33" fill="none" stroke="#1a1a1a" stroke-width="0.5919058561475354"/>
<path d="M66.33,170.29 A158.24,158.24 0 0 1 66.26,165.17" fill="none" stroke="#1a1a1a" stroke-width="0.5796207527116384"/>
<path d="M65.53,168.81 A159.01,159.01 0 0 1 65.51,163.36" fill="none" stroke="#1a1a1a" stroke-width="0.6485244576959316"/>
<path d="M65.54,167.34 A158.98,158.98 0 0 1 65.57,161.54" fill="none" stroke="#1a1a1a" stroke-width="0.5635981254344409"/>
<path d="M65.42,165.63 A159.08,159.08 0 0 1 65.52,159.73" fill="none" stroke="#1a1a1a" stroke-width="0.5603591981351311"/>
<path d="M66.39,164.02 A158.11,158.11 0 0 1 66.49,159.77" fill="none" stroke="#1a1a1a" stroke-width="0.5334648070391261"/>
<path d="M67.17,162.57 A157.35,157.35 0 0 1 67.33,157.82" fill="none" stroke="#1a1a1a" stroke-width="0.4081849503461069"/>
<path d="M67.19,160.56 A157.39,157.39 0 0 1 67.36,156.71" fill="none" stroke="#1a1a1a" stroke-width="0.49510347140216493"/>
<path d="M66.33,159.05 A158.30,158.30 0 0 1 66.45,156.66" fill="none" stroke="#1a1a1a" stroke-width="0.6171150610576202"/>
<path d="M65.66,157.49 A159.04,159.04 0 0 1 65.71,156.62" fill="none" stroke="#1a1a1a" stroke-width="0.4169646787902139"/>
<circle cx="106.21" cy="275.81" r="1.70" fill="#9C0FB5"/>
<circle cx="106.20" cy="274.67" r="1.70" fill="#9C0FB5"/>
<circle cx="105.12" cy="274.51" r="1.70" fill="#9C0FB5"/>
<circle cx="104.93" cy="273.54" r="1.70" fill="#9C0FB5"/>
<circle cx="104.17" cy="273.09" r="1.70" fill="#9C0FB5"/>
<circle cx="103.92" cy="272.18" r="1.70" fill="#9C0FB5"/>
<circle cx="103.01" cy="271.86" r="1.70" fill="#9C0FB5"/>
<circle cx="102.30" cy="271.35" r="1.70" fill="#9C0FB5"/>
<circle cx="101.48" cy="270.94" r="1.70" fill="#9C0FB5"/>
<circle cx="101.74" cy="269.61" r="1.70" fill="#9C0FB5"/>
<circle cx="100.76" cy="269.33" r="1.70" fill="#9C0FB5"/>
<circle cx="100.23" cy="268.67" r="1.70" fill="#9C0FB5"/>
<circle cx="99.26" cy="268.37" r="1.70" fill="#9C0FB5"/>
<circle cx="99.27" cy="267.27" r="1.70" fill="#9C0FB5"/>
<circle cx="98.20" cy="267.04" r="1.70" fill="#9C0FB5"/>
<circle cx="97.59" cy="266.45" r="1.70" fill="#9C0FB5"/>
<circle cx="97.79" cy="265.21" r="1.70" fill="#9C0FB5"/>
<circle cx="97.28" cy="264.54" r="1.70" fill="#9C0FB5"/>
<circle cx="95.96" cy="264.49" r="1.70" fill="#9C0FB5"/>
<circle cx="96.00" cy="263.39" r="1.70" fill="#9C0FB5"/>
<circle cx="95.56" cy="262.67" r="1.70" fill="#9C0FB5"/>
<circle cx="94.69" cy="262.26" r="1.70" fill="#9C0FB5"/>
<circle cx="94.44" cy="261.39" r="1.70" fill="#9C0FB5"/>
<circle cx="94.06" cy="260.62" r="1.70" fill="#9C0FB5"/>
<circle cx="93.36" cy="260.08" r="1.70" fill="#9C0FB5"/>
<circle cx="93.45" cy="258.98" r="1.70" fill="#9C0FB5"/>
<circle cx="92.79" cy="258.41" r="1.70" fill="#9C0FB5"/>
<circle cx="92.85" cy="257.34" r="1.70" fill="#9C0FB5"/>
<circle cx="91.32" cy="257.38" r="1.70" fill="#9C0FB5"/>
<circle cx="90.69" cy="256.78" r="1.70" fill="#9C0FB5"/>
<circle cx="90.34" cy="255.99" r="1.70" fill="#9C0FB5"/>
<circle cx="89.52" cy="255.52" r="1.70" fill="#9C0FB5"/>
<circle cx="89.37" cy="254.60" r="1.70" fill="#9C0FB5"/>
<circle cx="89.88" cy="253.25" r="1.70" fill="#9C0FB5"/>
<circle cx="89.10" cy="252.76" r="1.70" fill="#9C0FB5"/>
<circle cx="87.74" cy="252.63" r="1.70" fill="#9C0FB5"/>
<circle cx="88.52" cy="251.13" r="1.70" fill="#9C0FB5"/>
<circle cx="86.90" cy="251.15" r="1.70" fill="#9C0FB5"/>
<circle cx="86.58" cy="250.35" r="1.70" fill="#9C0FB5"/>
<circle cx="87.13" cy="249.02" r="1.70" fill="#9C0FB5"/>
<circle cx="86.60" cy="248.36" r="1.70" fill="#9C0FB5"/>
<circle cx="85.36" cy="248.11" r="1.70" fill="#9C0FB5"/>
<circle cx="85.05" cy="247.31" r="1.70" fill="#9C0FB5"/>
<circle cx="85.60" cy="246.02" r="1.70" fill="#9C0FB5"/>
<circle cx="84.40" cy="245.74" r="1.70" fill="#9C0FB5"/>
<circle cx="84.51" cy="244.70" r="1.70" fill="#9C0FB5"/>
<circle cx="83.05" cy="244.56" r="1.70" fill="#9C0FB5"/>
<circle cx="83.14" cy="243.53" r="1.70" fill="#9C0FB5"/>
<circle cx="83.56" cy="242.34" r="1.70" fill="#9C0FB5"/>
<circle cx="82.56" cy="241.93" r="1.70" fill="#9C0FB5"/>
<circle cx="82.77" cy="240.86" r="1.70" fill="#9C0FB5"/>
<circle cx="80.95" cy="240.87" r="1.70" fill="#9C0FB5"/>
<circle cx="80.59" cy="240.10" r="1.70" fill="#9C0FB5"/>
<circle cx="80.47" cy="239.20" r="1.70" fill="#9C0FB5"/>
<circle cx="81.24" cy="237.87" r="1.70" fill="#9C0FB5"/>
<circle cx="79.35" cy="237.87" r="1.70" fill="#9C0FB5"/>
<circle cx="80.06" cy="236.57" r="1.70" fill="#9C0FB5"/>
<circle cx="79.07" cy="236.12" r="1.70" fill="#9C0FB5"/>
<circle cx="78.52" cy="235.44" r="1.70" fill="#9C0FB5"/>
<circle cx="78.49" cy="234.52" r="1.70" fill="#9C0FB5"/>
<circle cx="78.85" cy="233.42" r="1.70" fill="#9C0FB5"/>
<circle cx="78.28" cy="232.75" r="1.70" fill="#9C0FB5"/>
<circle cx="77.14" cy="232.35" r="1.70" fill="#9C0FB5"/>
<circle cx="77.79" cy="231.13" r="1.70" fill="#9C0FB5"/>
<circle cx="77.03" cy="230.54" r="1.70" fill="#9C0FB5"/>
<circle cx="75.77" cy="230.17" r="1.70" fill="#9C0FB5"/>
<circle cx="76.30" cy="229.02" r="1.70" fill="#9C0FB5"/>
<circle cx="76.40" cy="228.06" r="1.70" fill="#9C0FB5"/>
<circle cx="75.24" cy="227.63" r="1.70" fill="#9C0FB5"/>
<circle cx="75.42" cy="226.64" r="1.70" fill="#9C0FB5"/>
<circle cx="74.37" cy="226.16" r="1.70" fill="#9C0FB5"/>
<circle cx="74.76" cy="225.09" r="1.70" fill="#9C0FB5"/>
<circle cx="73.68" cy="224.61" r="1.70" fill="#9C0FB5"/>
<circle cx="73.37" cy="223.81" r="1.70" fill="#9C0FB5"/>
<circle cx="74.16" cy="222.61" r="1.70" fill="#9C0FB5"/>
<circle cx="73.24" cy="222.05" r="1.70" fill="#9C0FB5"/>
<circle cx="73.12" cy="221.20" r="1.70" fill="#9C0FB5"/>
<circle cx="73.38" cy="220.21" r="1.70" fill="#9C0FB5"/>
<circle cx="71.75" cy="219.89" r="1.70" fill="#9C0FB5"/>
<circle cx="72.44" cy="218.75" r="1.70" fill="#9C0FB5"/>
<circle cx="71.70" cy="218.11" r="1.70" fill="#9C0FB5"/>
<circle cx="72.37" cy="216.99" r="1.70" fill="#9C0FB5"/>
<circle cx="70.58" cy="216.70" r="1.70" fill="#9C0FB5"/>
<circle cx="70.26" cy="215.91" r="1.70" fill="#9C0FB5"/>
<circle cx="70.51" cy="214.94" r="1.70" fill="#9C0FB5"/>
<circle cx="71.20" cy="213.83" r="1.70" fill="#9C0FB5"/>
<circle cx="70.04" cy="213.31" r="1.70" fill="#9C0FB5"/>
<circle cx="70.12" cy="212.40" r="1.70" fill="#9C0FB5"/>
<circle cx="69.87" cy="211.60" r="1.70" fill="#9C0FB5"/>
<circle cx="70.07" cy="210.66" r="1.70" fill="#9C0FB5"/>
<circle cx="69.95" cy="209.82" r="1.70" fill="#9C0FB5"/>
<circle cx="68.52" cy="209.34" r="1.70" fill="#9C0FB5"/>
<circle cx="68.71" cy="208.41" r="1.70" fill="#9C0FB5"/>
<circle cx="68.24" cy="207.66" r="1.70" fill="#9C0FB5"/>
<circle cx="68.04" cy="206.84" r="1.70" fill="#9C0FB5"/>
<circle cx="68.41" cy="205.87" r="1.70" fill="#9C0FB5"/>
<circle cx="67.94" cy="205.11" r="1.70" fill="#9C0FB5"/>
<circle cx="68.17" cy="204.19" r="1.70" fill="#9C0FB5"/>
<circle cx="67.35" cy="203.52" r="1.70" fill="#9C0FB5"/>
<circle cx="67.55" cy="202.60" r="1.70" fill="#9C0FB5"/>
<circle cx="66.74" cy="201.92" r="1.70" fill="#9C0FB5"/>
<circle cx="67.41" cy="200.90" r="1.70" fill="#9C0FB5"/>
<circle cx="67.07" cy="200.11" r="1.70" fill="#9C0FB5"/>
<circle cx="67.42" cy="199.17" r="1.70" fill="#9C0FB5"/>
<circle cx="67.32" cy="198.34" r="1.70" fill="#9C0FB5"/>
<circle cx="66.84" cy="197.58" r="1.70" fill="#9C0FB5"/>
<circle cx="67.03" cy="196.68" r="1.70" fill="#9C0FB5"/>
<circle cx="66.15" cy="195.99" r="1.70" fill="#9C0FB5"/>
<circle cx="66.07" cy="195.15" r="1.70" fill="#9C0FB5"/>
<circle cx="65.02" cy="194.48" r="1.70" fill="#9C0FB5"/>
<circle cx="66.36" cy="193.38" r="1.70" fill="#9C0FB5"/>
<circle cx="64.55" cy="192.84" r="1.70" fill="#9C0FB5"/>
<circle cx="65.99" cy="191.74" r="1.70" fill="#9C0FB5"/>
<circle cx="64.54" cy="191.12" r="1.70" fill="#9C0FB5"/>
<circle cx="65.25" cy="190.15" r="1.70" fill="#9C0FB5"/>
<circle cx="65.33" cy="189.29" r="1.70" fill="#9C0FB5"/>
<circle cx="64.55" cy="188.55" r="1.70" fill="#9C0FB5"/>
<circle cx="64.89" cy="187.65" r="1.70" fill="#9C0FB5"/>
<circle cx="65.38" cy="186.73" r="1.70" fill="#9C0FB5"/>
<circle cx="65.07" cy="185.92" r="1.70" fill="#9C0FB5"/>
<circle cx="63.98" cy="185.21" r="1.70" fill="#9C0FB5"/>
<circle cx="63.81" cy="184.38" r="1.70" fill="#9C0FB5"/>
<circle cx="63.22" cy="183.59" r="1.70" fill="#9C0FB5"/>
<circle cx="64.46" cy="182.60" r="1.70" fill="#9C0FB5"/>
<circle cx="63.44" cy="181.86" r="1.70" fill="#9C0FB5"/>
<circle cx="64.12" cy="180.94" r="1.70" fill="#9C0FB5"/>
<circle cx="63.74" cy="180.13" r="1.70" fill="#9C0FB5"/>
<circle cx="64.09" cy="179.25" r="1.70" fill="#9C0FB5"/>
<circle cx="63.78" cy="178.43" r="1.70" fill="#9C0FB5"/>
<circle cx="62.81" cy="177.66" r="1.70" fill="#9C0FB5"/>
<circle cx="63.94" cy="176.73" r="1.70" fill="#9C0FB5"/>
<circle cx="63.57" cy="175.91" r="1.70" fill="#9C0FB5"/>
<circle cx="62.65" cy="175.12" r="1.70" fill="#9C0FB5"/>
<circle cx="63.42" cy="174.22" r="1.70" fill="#9C0FB5"/>
<circle cx="62.73" cy="173.41" r="1.70" fill="#9C0FB5"/>
<circle cx="63.19" cy="172.54" r="1.70" fill="#9C0FB5"/>
<circle cx="63.49" cy="171.69" r="1.70" fill="#9C0FB5"/>
<circle cx="62.79" cy="170.86" r="1.70" fill="#9C0FB5"/>
<circle cx="62.89" cy="170.01" r="1.70" fill="#9C0FB5"/>
<circle cx="63.36" cy="169.16" r="1.70" fill="#9C0FB5"/>
<circle cx="62.23" cy="168.33" r="1.70" fill="#9C0FB5"/>
<circle cx="63.85" cy="167.46" r="1.70" fill="#9C0FB5"/>
<circle cx="62.47" cy="166.63" r="1.70" fill="#9C0FB5"/>
<circle cx="62.70" cy="165.78" r="1.70" fill="#9C0FB5"/>
<circle cx="62.72" cy="164.94" r="1.70" fill="#9C0FB5"/>
<circle cx="63.15" cy="164.09" r="1.70" fill="#9C0FB5"/>
<circle cx="62.67" cy="163.24" r="1.70" fill="#9C0FB5"/>
<circle cx="63.95" cy="162.42" r="1.70" fill="#9C0FB5"/>
<circle cx="62.84" cy="161.55" r="1.70" fill="#9C0FB5"/>
<circle cx="62.51" cy="160.69" r="1.70" fill="#9C0FB5"/>
<circle cx="63.36" cy="159.87" r="1.70" fill="#9C0FB5"/>
<circle cx="62.80" cy="159.01" r="1.70" fill="#9C0FB5"/>
<circle cx="62.91" cy="158.16" r="1.70" fill="#9C0FB5"/>
<circle cx="63.30" cy="157.33" r="1.70" fill="#9C0FB5"/>
<circle cx="62.87" cy="156.46" r="1.70" fill="#9C0FB5"/>
<line x1="91.00" y1="285.70" x2="97.20" y2="282.40" stroke="#111" stroke-width="0.7"/>
<path d="M98.6,281.7 L95.2,281.8 L96.6,284.3 Z" fill="#111"/>
<circle cx="100.50" cy="280.50" r="1.30" fill="#F0C0C0"/>
<text x="90.70" y="242.75" font-size="4.0" text-anchor="middle" fill="#333" font-weight="normal" transform="rotate(60 90.70 242.75)">99</text>
<text x="79.32" y="218.34" font-size="4.0" text-anchor="middle" fill="#333" font-weight="normal" transform="rotate(70 79.32 218.34)">99</text>
<text x="71.85" y="192.42" font-size="4.0" text-anchor="middle" fill="#333" font-weight="normal" transform="rotate(80 71.85 192.42)">99</text>
<text x="97.94" y="254.12" font-size="4.0" text-anchor="middle" fill="#333" font-weight="normal" transform="rotate(55 97.94 254.12)">99</text>
<text x="69.38" y="176.35" font-size="4.0" text-anchor="middle" fill="#333" font-weight="normal" transform="rotate(86 69.38 176.35)">99</text>
<text x="83.36" y="228.34" font-size="4.0" text-anchor="middle" fill="#333" font-weight="normal" transform="rotate(66 83.36 228.34)">99</text>
<text x="74.78" y="205.62" font-size="4.0" text-anchor="middle" fill="#333" font-weight="normal" transform="rotate(75 74.78 205.62)">99</text>
</svg>
</body></html>
